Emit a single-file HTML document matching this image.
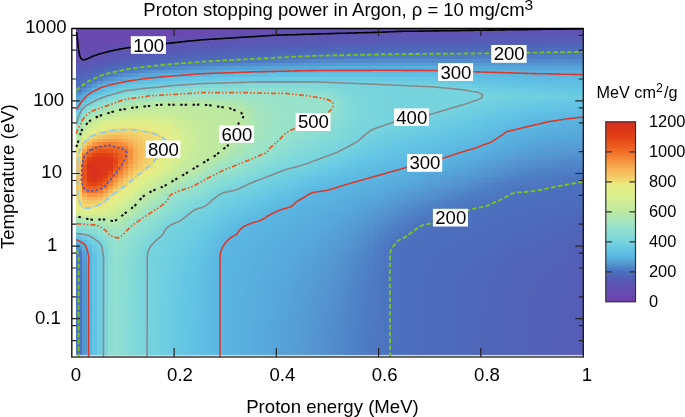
<!DOCTYPE html>
<html><head><meta charset="utf-8"><style>
html,body{margin:0;padding:0;background:#fff;}
svg{display:block;font-family:"Liberation Sans",sans-serif;will-change:transform;}
</style></head><body>
<svg width="685" height="417" viewBox="0 0 685 417">
<defs><linearGradient id="cb" x1="0" y1="0" x2="0" y2="1"><stop offset="0.0000" stop-color="#d52c1e"/><stop offset="0.0833" stop-color="#e24014"/><stop offset="0.1667" stop-color="#f16e26"/><stop offset="0.2500" stop-color="#f8aa50"/><stop offset="0.3250" stop-color="#f2d670"/><stop offset="0.3500" stop-color="#e8ec84"/><stop offset="0.4167" stop-color="#daef8e"/><stop offset="0.5000" stop-color="#bce9a2"/><stop offset="0.5833" stop-color="#98e2cc"/><stop offset="0.6250" stop-color="#87dcd5"/><stop offset="0.6667" stop-color="#76d4de"/><stop offset="0.7083" stop-color="#64c6e4"/><stop offset="0.7500" stop-color="#5ab6e2"/><stop offset="0.7708" stop-color="#56a6da"/><stop offset="0.7917" stop-color="#5494d0"/><stop offset="0.8125" stop-color="#4e80c6"/><stop offset="0.8333" stop-color="#4c71be"/><stop offset="0.8542" stop-color="#4f66b8"/><stop offset="0.8750" stop-color="#565cb6"/><stop offset="0.9167" stop-color="#6052b2"/><stop offset="0.9583" stop-color="#674cb0"/><stop offset="1.0000" stop-color="#733eaf"/></linearGradient></defs>
<rect width="685" height="417" fill="#fff"/>
<g shape-rendering="crispEdges"><path fill="#6a49b0" d="M75.9 28.5H82.0V29.9H75.9zM230.3 28.5H240.5V29.9H230.3zM82.0 29.9H87.1V33.6H82.0zM184.3 29.9H199.6V33.6H184.3zM87.1 33.6H97.4V37.2H87.1zM117.8 33.6H143.4V37.2H117.8z"/><path fill="#6a48b0" d="M82.0 28.5H87.1V29.9H82.0zM215.0 28.5H230.3V29.9H215.0zM87.1 29.9H92.3V33.6H87.1zM163.8 29.9H184.3V33.6H163.8zM97.4 33.6H117.8V37.2H97.4z"/><path fill="#6b48b0" d="M87.1 28.5H92.3V29.9H87.1zM209.9 28.5H215.0V29.9H209.9zM92.3 29.9H97.4V33.6H92.3zM138.3 29.9H163.8V33.6H138.3z"/><path fill="#6b47b0" d="M92.3 28.5H97.4V29.9H92.3zM168.9 28.5H209.9V29.9H168.9zM97.4 29.9H138.3V33.6H97.4z"/><path fill="#6c46b0" d="M97.4 28.5H148.5V29.9H97.4z"/><path fill="#6c47b0" d="M148.5 28.5H168.9V29.9H148.5z"/><path fill="#6949b0" d="M240.5 28.5H250.8V29.9H240.5zM75.9 29.9H82.0V33.6H75.9zM199.6 29.9H209.9V33.6H199.6zM82.0 33.6H87.1V37.2H82.0zM143.4 33.6H158.7V37.2H143.4zM92.3 37.2H112.7V40.8H92.3z"/><path fill="#694ab0" d="M250.8 28.5H266.1V29.9H250.8zM209.9 29.9H225.2V33.6H209.9zM75.9 33.6H82.0V37.2H75.9zM158.7 33.6H174.1V37.2H158.7zM82.0 37.2H92.3V40.8H82.0zM112.7 37.2H133.2V40.8H112.7zM92.3 40.8H102.5V44.4H92.3z"/><path fill="#684ab0" d="M266.1 28.5H271.2V29.9H266.1zM225.2 29.9H230.3V33.6H225.2zM174.1 33.6H179.2V37.2H174.1zM133.2 37.2H138.3V40.8H133.2zM102.5 40.8H112.7V44.4H102.5z"/><path fill="#684bb0" d="M271.2 28.5H286.5V29.9H271.2zM230.3 29.9H255.9V33.6H230.3zM179.2 33.6H194.5V37.2H179.2zM75.9 37.2H82.0V40.8H75.9zM138.3 37.2H158.7V40.8H138.3zM82.0 40.8H92.3V44.4H82.0zM112.7 40.8H128.0V44.4H112.7zM87.1 44.4H107.6V48.0H87.1zM92.3 48.0H97.4V51.7H92.3z"/><path fill="#674cb0" d="M286.5 28.5H332.6V29.9H286.5zM194.5 33.6H204.7V37.2H194.5zM75.9 40.8H82.0V44.4H75.9zM128.0 40.8H133.2V44.4H128.0zM75.9 44.4H87.1V48.0H75.9zM107.6 44.4H112.7V48.0H107.6zM82.0 48.0H87.1V51.7H82.0zM82.0 51.7H87.1V55.3H82.0z"/><path fill="#654db0" d="M332.6 28.5H342.8V29.9H332.6zM209.9 33.6H215.0V37.2H209.9z"/><path fill="#654eb1" d="M342.8 28.5H368.4V29.9H342.8zM271.2 29.9H296.8V33.6H271.2zM215.0 33.6H225.2V37.2H215.0zM174.1 37.2H179.2V40.8H174.1zM138.3 40.8H148.5V44.4H138.3z"/><path fill="#644eb1" d="M368.4 28.5H383.7V29.9H368.4zM179.2 37.2H184.3V40.8H179.2zM75.9 51.7H82.0V55.3H75.9z"/><path fill="#644fb1" d="M383.7 28.5H399.0V29.9H383.7zM296.8 29.9H301.9V33.6H296.8zM225.2 33.6H235.4V37.2H225.2zM148.5 40.8H153.6V44.4H148.5zM117.8 44.4H122.9V48.0H117.8zM102.5 48.0H107.6V51.7H102.5z"/><path fill="#634fb1" d="M399.0 28.5H424.6V29.9H399.0zM301.9 29.9H332.6V33.6H301.9zM235.4 33.6H240.5V37.2H235.4zM184.3 37.2H189.4V40.8H184.3zM153.6 40.8H158.7V44.4H153.6zM82.0 55.3H87.1V58.9H82.0z"/><path fill="#6350b1" d="M424.6 28.5H439.9V29.9H424.6zM189.4 37.2H194.5V40.8H189.4zM122.9 44.4H128.0V48.0H122.9zM92.3 51.7H97.4V55.3H92.3z"/><path fill="#6250b1" d="M439.9 28.5H465.5V29.9H439.9zM332.6 29.9H337.7V33.6H332.6zM240.5 33.6H255.9V37.2H240.5zM158.7 40.8H163.8V44.4H158.7zM107.6 48.0H112.7V51.7H107.6zM75.9 55.3H82.0V58.9H75.9z"/><path fill="#6251b2" d="M465.5 28.5H480.8V29.9H465.5zM337.7 29.9H363.2V33.6H337.7zM194.5 37.2H199.6V40.8H194.5z"/><path fill="#6151b2" d="M480.8 28.5H547.3V29.9H480.8zM363.2 29.9H368.4V33.6H363.2zM255.9 33.6H271.2V37.2H255.9zM199.6 37.2H204.7V40.8H199.6zM163.8 40.8H168.9V44.4H163.8zM128.0 44.4H138.3V48.0H128.0z"/><path fill="#6152b2" d="M547.3 28.5H557.5V29.9H547.3zM168.9 40.8H174.1V44.4H168.9zM97.4 51.7H102.5V55.3H97.4z"/><path fill="#6052b2" d="M557.5 28.5H583.3V29.9H557.5zM368.4 29.9H399.0V33.6H368.4zM271.2 33.6H296.8V37.2H271.2zM204.7 37.2H225.2V40.8H204.7zM174.1 40.8H179.2V44.4H174.1zM138.3 44.4H148.5V48.0H138.3zM112.7 48.0H117.8V51.7H112.7zM87.1 55.3H92.3V58.9H87.1zM75.9 58.9H82.0V62.5H75.9z"/><path fill="#664db0" d="M255.9 29.9H271.2V33.6H255.9zM204.7 33.6H209.9V37.2H204.7zM168.9 37.2H174.1V40.8H168.9zM133.2 40.8H138.3V44.4H133.2zM112.7 44.4H117.8V48.0H112.7zM75.9 48.0H82.0V51.7H75.9zM97.4 48.0H102.5V51.7H97.4z"/><path fill="#5f53b2" d="M399.0 29.9H465.5V33.6H399.0zM532.0 29.9H537.1V33.6H532.0zM296.8 33.6H312.1V37.2H296.8zM225.2 37.2H240.5V40.8H225.2zM179.2 40.8H189.4V44.4H179.2zM148.5 44.4H153.6V48.0H148.5zM117.8 48.0H122.9V51.7H117.8zM102.5 51.7H107.6V55.3H102.5zM92.3 55.3H97.4V58.9H92.3zM82.0 58.9H87.1V62.5H82.0z"/><path fill="#5f53b3" d="M465.5 29.9H475.7V33.6H465.5zM526.9 29.9H532.0V33.6H526.9zM537.1 29.9H552.4V33.6H537.1zM312.1 33.6H332.6V37.2H312.1zM153.6 44.4H158.7V48.0H153.6zM122.9 48.0H128.0V51.7H122.9z"/><path fill="#5e54b3" d="M475.7 29.9H526.9V33.6H475.7zM552.4 29.9H583.3V33.6H552.4zM332.6 33.6H373.5V37.2H332.6zM240.5 37.2H255.9V40.8H240.5zM189.4 40.8H204.7V44.4H189.4zM158.7 44.4H168.9V48.0H158.7zM128.0 48.0H133.2V51.7H128.0zM107.6 51.7H112.7V55.3H107.6z"/><path fill="#5d55b3" d="M373.5 33.6H399.0V37.2H373.5zM255.9 37.2H281.4V40.8H255.9zM204.7 40.8H220.1V44.4H204.7zM168.9 44.4H179.2V48.0H168.9zM133.2 48.0H143.4V51.7H133.2zM112.7 51.7H117.8V55.3H112.7zM97.4 55.3H102.5V58.9H97.4zM87.1 58.9H92.3V62.5H87.1z"/><path fill="#5c56b3" d="M399.0 33.6H409.3V37.2H399.0zM281.4 37.2H291.7V40.8H281.4zM220.1 40.8H225.2V44.4H220.1z"/><path fill="#5c56b4" d="M409.3 33.6H470.6V37.2H409.3zM291.7 37.2H312.1V40.8H291.7zM225.2 40.8H235.4V44.4H225.2zM179.2 44.4H189.4V48.0H179.2zM143.4 48.0H153.6V51.7H143.4zM117.8 51.7H122.9V55.3H117.8zM102.5 55.3H107.6V58.9H102.5zM92.3 58.9H97.4V62.5H92.3zM75.9 62.5H82.0V66.1H75.9z"/><path fill="#5b57b4" d="M470.6 33.6H583.3V37.2H470.6zM312.1 37.2H358.1V40.8H312.1zM235.4 40.8H255.9V44.4H235.4zM189.4 44.4H199.6V48.0H189.4zM153.6 48.0H163.8V51.7H153.6zM122.9 51.7H133.2V55.3H122.9zM107.6 55.3H112.7V58.9H107.6zM82.0 62.5H87.1V66.1H82.0z"/><path fill="#674bb0" d="M158.7 37.2H168.9V40.8H158.7zM87.1 48.0H92.3V51.7H87.1z"/><path fill="#5a58b4" d="M358.1 37.2H383.7V40.8H358.1zM255.9 40.8H271.2V44.4H255.9zM199.6 44.4H209.9V48.0H199.6zM163.8 48.0H168.9V51.7H163.8zM133.2 51.7H138.3V55.3H133.2zM112.7 55.3H117.8V58.9H112.7zM97.4 58.9H102.5V62.5H97.4zM87.1 62.5H92.3V66.1H87.1z"/><path fill="#5a58b5" d="M383.7 37.2H393.9V40.8H383.7zM271.2 40.8H276.3V44.4H271.2zM209.9 44.4H215.0V48.0H209.9zM168.9 48.0H174.1V51.7H168.9z"/><path fill="#5959b5" d="M393.9 37.2H470.6V40.8H393.9zM276.3 40.8H301.9V44.4H276.3zM215.0 44.4H230.3V48.0H215.0zM174.1 48.0H184.3V51.7H174.1zM138.3 51.7H148.5V55.3H138.3zM117.8 55.3H122.9V58.9H117.8zM102.5 58.9H107.6V62.5H102.5z"/><path fill="#585ab5" d="M470.6 37.2H583.3V40.8H470.6zM301.9 40.8H337.7V44.4H301.9zM230.3 44.4H250.8V48.0H230.3zM184.3 48.0H194.5V51.7H184.3zM148.5 51.7H158.7V55.3H148.5zM122.9 55.3H128.0V58.9H122.9zM107.6 58.9H112.7V62.5H107.6zM92.3 62.5H97.4V66.1H92.3zM75.9 66.1H87.1V69.8H75.9z"/><path fill="#575bb5" d="M337.7 40.8H353.0V44.4H337.7zM250.8 44.4H255.9V48.0H250.8zM194.5 48.0H199.6V51.7H194.5z"/><path fill="#575bb6" d="M353.0 40.8H383.7V44.4H353.0zM255.9 44.4H271.2V48.0H255.9zM199.6 48.0H209.9V51.7H199.6zM158.7 51.7H168.9V55.3H158.7zM128.0 55.3H133.2V58.9H128.0zM97.4 62.5H102.5V66.1H97.4zM87.1 66.1H92.3V69.8H87.1z"/><path fill="#565cb6" d="M383.7 40.8H455.3V44.4H383.7zM271.2 44.4H291.7V48.0H271.2zM209.9 48.0H220.1V51.7H209.9zM168.9 51.7H174.1V55.3H168.9zM133.2 55.3H143.4V58.9H133.2zM112.7 58.9H117.8V62.5H112.7zM578.0 323.2H583.3V326.8H578.0zM578.0 326.8H583.3V330.4H578.0zM578.0 330.4H583.3V334.0H578.0zM578.0 334.0H583.3V337.6H578.0zM578.0 337.6H583.3V341.3H578.0zM578.0 341.3H583.3V344.9H578.0zM578.0 344.9H583.3V348.5H578.0zM578.0 348.5H583.3V352.1H578.0zM578.0 352.1H583.3V354.9H578.0z"/><path fill="#565db6" d="M455.3 40.8H460.4V44.4H455.3zM220.1 48.0H225.2V51.7H220.1zM578.0 301.4H583.3V305.1H578.0zM578.0 305.1H583.3V308.7H578.0zM578.0 308.7H583.3V312.3H578.0zM578.0 312.3H583.3V315.9H578.0zM578.0 315.9H583.3V319.5H578.0zM578.0 319.5H583.3V323.2H578.0z"/><path fill="#555db6" d="M460.4 40.8H470.6V44.4H460.4zM291.7 44.4H301.9V48.0H291.7zM225.2 48.0H230.3V51.7H225.2zM174.1 51.7H179.2V55.3H174.1zM117.8 58.9H122.9V62.5H117.8zM102.5 62.5H107.6V66.1H102.5zM75.9 69.8H82.0V73.4H75.9zM578.0 261.6H583.3V265.2H578.0zM578.0 265.2H583.3V268.9H578.0zM578.0 268.9H583.3V272.5H578.0zM578.0 272.5H583.3V276.1H578.0zM578.0 276.1H583.3V279.7H578.0zM578.0 279.7H583.3V283.3H578.0zM578.0 283.3H583.3V287.0H578.0zM578.0 287.0H583.3V290.6H578.0zM572.9 290.6H583.3V294.2H572.9zM572.9 294.2H583.3V297.8H572.9zM572.9 297.8H583.3V301.4H572.9zM572.9 301.4H578.0V305.1H572.9zM572.9 305.1H578.0V308.7H572.9zM572.9 308.7H578.0V312.3H572.9zM572.9 312.3H578.0V315.9H572.9zM572.9 315.9H578.0V319.5H572.9zM572.9 319.5H578.0V323.2H572.9zM572.9 323.2H578.0V326.8H572.9zM572.9 326.8H578.0V330.4H572.9zM567.8 330.4H578.0V334.0H567.8zM567.8 334.0H578.0V337.6H567.8zM567.8 337.6H578.0V341.3H567.8zM567.8 341.3H578.0V344.9H567.8zM567.8 344.9H578.0V348.5H567.8zM567.8 348.5H578.0V352.1H567.8zM567.8 352.1H578.0V354.9H567.8z"/><path fill="#555eb6" d="M470.6 40.8H537.1V44.4H470.6zM301.9 44.4H312.1V48.0H301.9zM230.3 48.0H235.4V51.7H230.3zM179.2 51.7H184.3V55.3H179.2zM143.4 55.3H148.5V58.9H143.4zM92.3 66.1H97.4V69.8H92.3zM578.0 258.0H583.3V261.6H578.0zM572.9 272.5H578.0V276.1H572.9zM572.9 276.1H578.0V279.7H572.9zM572.9 279.7H578.0V283.3H572.9zM572.9 283.3H578.0V287.0H572.9zM572.9 287.0H578.0V290.6H572.9zM567.8 290.6H572.9V294.2H567.8zM567.8 294.2H572.9V297.8H567.8zM567.8 297.8H572.9V301.4H567.8zM567.8 301.4H572.9V305.1H567.8zM567.8 305.1H572.9V308.7H567.8zM567.8 308.7H572.9V312.3H567.8zM567.8 312.3H572.9V315.9H567.8zM567.8 315.9H572.9V319.5H567.8zM562.6 319.5H572.9V323.2H562.6zM562.6 323.2H572.9V326.8H562.6zM562.6 326.8H572.9V330.4H562.6zM562.6 330.4H567.8V334.0H562.6zM562.6 334.0H567.8V337.6H562.6zM562.6 337.6H567.8V341.3H562.6zM562.6 341.3H567.8V344.9H562.6zM562.6 344.9H567.8V348.5H562.6zM562.6 348.5H567.8V352.1H562.6zM562.6 352.1H567.8V354.9H562.6z"/><path fill="#545eb6" d="M537.1 40.8H542.2V44.4H537.1zM312.1 44.4H322.3V48.0H312.1zM235.4 48.0H240.5V51.7H235.4zM572.9 265.2H578.0V268.9H572.9zM572.9 268.9H578.0V272.5H572.9zM567.8 279.7H572.9V283.3H567.8zM567.8 283.3H572.9V287.0H567.8zM567.8 287.0H572.9V290.6H567.8zM562.6 301.4H567.8V305.1H562.6zM562.6 305.1H567.8V308.7H562.6zM562.6 308.7H567.8V312.3H562.6zM562.6 312.3H567.8V315.9H562.6zM562.6 315.9H567.8V319.5H562.6zM557.5 334.0H562.6V337.6H557.5zM557.5 337.6H562.6V341.3H557.5zM557.5 341.3H562.6V344.9H557.5zM557.5 344.9H562.6V348.5H557.5zM557.5 348.5H562.6V352.1H557.5zM557.5 352.1H562.6V354.9H557.5z"/><path fill="#545fb7" d="M542.2 40.8H583.3V44.4H542.2zM322.3 44.4H332.6V48.0H322.3zM240.5 48.0H250.8V51.7H240.5zM184.3 51.7H194.5V55.3H184.3zM148.5 55.3H153.6V58.9H148.5zM122.9 58.9H128.0V62.5H122.9zM82.0 69.8H87.1V73.4H82.0zM578.0 250.8H583.3V254.4H578.0zM578.0 254.4H583.3V258.0H578.0zM572.9 258.0H578.0V261.6H572.9zM572.9 261.6H578.0V265.2H572.9zM567.8 265.2H572.9V268.9H567.8zM567.8 268.9H572.9V272.5H567.8zM567.8 272.5H572.9V276.1H567.8zM562.6 276.1H572.9V279.7H562.6zM562.6 279.7H567.8V283.3H562.6zM562.6 283.3H567.8V287.0H562.6zM557.5 287.0H567.8V290.6H557.5zM557.5 290.6H567.8V294.2H557.5zM557.5 294.2H567.8V297.8H557.5zM557.5 297.8H567.8V301.4H557.5zM552.4 301.4H562.6V305.1H552.4zM552.4 305.1H562.6V308.7H552.4zM552.4 308.7H562.6V312.3H552.4zM552.4 312.3H562.6V315.9H552.4zM552.4 315.9H562.6V319.5H552.4zM552.4 319.5H562.6V323.2H552.4zM552.4 323.2H562.6V326.8H552.4zM552.4 326.8H562.6V330.4H552.4zM552.4 330.4H562.6V334.0H552.4zM547.3 334.0H557.5V337.6H547.3zM547.3 337.6H557.5V341.3H547.3zM547.3 341.3H557.5V344.9H547.3zM547.3 344.9H557.5V348.5H547.3zM547.3 348.5H557.5V352.1H547.3zM547.3 352.1H557.5V354.9H547.3z"/><path fill="#5460b7" d="M332.6 44.4H337.7V48.0H332.6zM562.6 272.5H567.8V276.1H562.6zM557.5 283.3H562.6V287.0H557.5zM552.4 297.8H557.5V301.4H552.4zM547.3 326.8H552.4V330.4H547.3zM547.3 330.4H552.4V334.0H547.3z"/><path fill="#5360b7" d="M337.7 44.4H368.4V48.0H337.7zM250.8 48.0H261.0V51.7H250.8zM194.5 51.7H199.6V55.3H194.5zM153.6 55.3H158.7V58.9H153.6zM107.6 62.5H112.7V66.1H107.6zM578.0 247.1H583.3V250.8H578.0zM572.9 250.8H578.0V254.4H572.9zM572.9 254.4H578.0V258.0H572.9zM567.8 258.0H572.9V261.6H567.8zM567.8 261.6H572.9V265.2H567.8zM562.6 265.2H567.8V268.9H562.6zM562.6 268.9H567.8V272.5H562.6zM557.5 272.5H562.6V276.1H557.5zM557.5 276.1H562.6V279.7H557.5zM552.4 279.7H562.6V283.3H552.4zM552.4 283.3H557.5V287.0H552.4zM547.3 287.0H557.5V290.6H547.3zM547.3 290.6H557.5V294.2H547.3zM547.3 294.2H557.5V297.8H547.3zM547.3 297.8H552.4V301.4H547.3zM542.2 301.4H552.4V305.1H542.2zM542.2 305.1H552.4V308.7H542.2zM542.2 308.7H552.4V312.3H542.2zM542.2 312.3H552.4V315.9H542.2zM542.2 315.9H552.4V319.5H542.2zM542.2 319.5H552.4V323.2H542.2zM542.2 323.2H552.4V326.8H542.2zM542.2 326.8H547.3V330.4H542.2zM542.2 330.4H547.3V334.0H542.2zM542.2 334.0H547.3V337.6H542.2zM537.1 337.6H547.3V341.3H537.1zM537.1 341.3H547.3V344.9H537.1zM537.1 344.9H547.3V348.5H537.1zM537.1 348.5H547.3V352.1H537.1zM537.1 352.1H547.3V354.9H537.1z"/><path fill="#5361b7" d="M368.4 44.4H373.5V48.0H368.4zM261.0 48.0H266.1V51.7H261.0zM199.6 51.7H204.7V55.3H199.6zM158.7 55.3H163.8V58.9H158.7zM128.0 58.9H133.2V62.5H128.0zM567.8 254.4H572.9V258.0H567.8zM562.6 258.0H567.8V261.6H562.6zM562.6 261.6H567.8V265.2H562.6zM557.5 265.2H562.6V268.9H557.5zM557.5 268.9H562.6V272.5H557.5zM552.4 272.5H557.5V276.1H552.4zM552.4 276.1H557.5V279.7H552.4zM547.3 279.7H552.4V283.3H547.3zM547.3 283.3H552.4V287.0H547.3zM542.2 287.0H547.3V290.6H542.2zM542.2 290.6H547.3V294.2H542.2zM542.2 294.2H547.3V297.8H542.2zM537.1 297.8H547.3V301.4H537.1zM537.1 301.4H542.2V305.1H537.1zM537.1 305.1H542.2V308.7H537.1zM537.1 308.7H542.2V312.3H537.1zM537.1 312.3H542.2V315.9H537.1zM537.1 315.9H542.2V319.5H537.1zM537.1 319.5H542.2V323.2H537.1zM537.1 323.2H542.2V326.8H537.1zM537.1 326.8H542.2V330.4H537.1zM537.1 330.4H542.2V334.0H537.1zM537.1 334.0H542.2V337.6H537.1zM532.0 337.6H537.1V341.3H532.0zM532.0 341.3H537.1V344.9H532.0zM532.0 344.9H537.1V348.5H532.0zM532.0 348.5H537.1V352.1H532.0zM532.0 352.1H537.1V354.9H532.0z"/><path fill="#5261b7" d="M373.5 44.4H378.6V48.0H373.5zM266.1 48.0H271.2V51.7H266.1zM97.4 66.1H102.5V69.8H97.4zM87.1 69.8H92.3V73.4H87.1zM578.0 243.5H583.3V247.1H578.0zM572.9 247.1H578.0V250.8H572.9zM567.8 250.8H572.9V254.4H567.8zM562.6 254.4H567.8V258.0H562.6zM557.5 261.6H562.6V265.2H557.5zM552.4 265.2H557.5V268.9H552.4zM552.4 268.9H557.5V272.5H552.4zM547.3 272.5H552.4V276.1H547.3zM542.2 276.1H552.4V279.7H542.2zM542.2 279.7H547.3V283.3H542.2zM537.1 283.3H547.3V287.0H537.1zM537.1 287.0H542.2V290.6H537.1zM537.1 290.6H542.2V294.2H537.1zM532.0 294.2H542.2V297.8H532.0zM532.0 297.8H537.1V301.4H532.0zM532.0 301.4H537.1V305.1H532.0zM532.0 305.1H537.1V308.7H532.0zM532.0 308.7H537.1V312.3H532.0zM532.0 312.3H537.1V315.9H532.0zM532.0 315.9H537.1V319.5H532.0zM532.0 319.5H537.1V323.2H532.0zM532.0 323.2H537.1V326.8H532.0zM532.0 326.8H537.1V330.4H532.0zM532.0 330.4H537.1V334.0H532.0zM526.9 334.0H537.1V337.6H526.9zM526.9 337.6H532.0V341.3H526.9zM526.9 341.3H532.0V344.9H526.9zM526.9 344.9H532.0V348.5H526.9zM526.9 348.5H532.0V352.1H526.9zM526.9 352.1H532.0V354.9H526.9z"/><path fill="#5262b7" d="M378.6 44.4H414.4V48.0H378.6zM271.2 48.0H281.4V51.7H271.2zM204.7 51.7H215.0V55.3H204.7zM163.8 55.3H168.9V58.9H163.8zM133.2 58.9H138.3V62.5H133.2zM112.7 62.5H117.8V66.1H112.7zM578.0 239.9H583.3V243.5H578.0zM572.9 243.5H578.0V247.1H572.9zM567.8 247.1H572.9V250.8H567.8zM562.6 250.8H567.8V254.4H562.6zM557.5 254.4H562.6V258.0H557.5zM552.4 258.0H562.6V261.6H552.4zM547.3 261.6H557.5V265.2H547.3zM542.2 265.2H552.4V268.9H542.2zM537.1 268.9H552.4V272.5H537.1zM526.9 272.5H547.3V276.1H526.9zM521.7 276.1H542.2V279.7H521.7zM521.7 279.7H542.2V283.3H521.7zM521.7 283.3H537.1V287.0H521.7zM521.7 287.0H537.1V290.6H521.7zM521.7 290.6H537.1V294.2H521.7zM521.7 294.2H532.0V297.8H521.7zM521.7 297.8H532.0V301.4H521.7zM521.7 301.4H532.0V305.1H521.7zM521.7 305.1H532.0V308.7H521.7zM521.7 308.7H532.0V312.3H521.7zM521.7 312.3H532.0V315.9H521.7zM521.7 315.9H532.0V319.5H521.7zM521.7 319.5H532.0V323.2H521.7zM521.7 323.2H532.0V326.8H521.7zM521.7 326.8H532.0V330.4H521.7zM521.7 330.4H532.0V334.0H521.7zM521.7 334.0H526.9V337.6H521.7zM521.7 337.6H526.9V341.3H521.7zM521.7 341.3H526.9V344.9H521.7zM521.7 344.9H526.9V348.5H521.7zM521.7 348.5H526.9V352.1H521.7zM521.7 352.1H526.9V354.9H521.7z"/><path fill="#5162b7" d="M414.4 44.4H429.7V48.0H414.4zM521.7 272.5H526.9V276.1H521.7zM516.6 305.1H521.7V308.7H516.6zM516.6 308.7H521.7V312.3H516.6zM516.6 312.3H521.7V315.9H516.6zM516.6 315.9H521.7V319.5H516.6zM516.6 319.5H521.7V323.2H516.6zM516.6 323.2H521.7V326.8H516.6zM516.6 326.8H521.7V330.4H516.6zM516.6 330.4H521.7V334.0H516.6zM516.6 334.0H521.7V337.6H516.6zM516.6 337.6H521.7V341.3H516.6zM516.6 341.3H521.7V344.9H516.6zM516.6 344.9H521.7V348.5H516.6zM516.6 348.5H521.7V352.1H516.6zM516.6 352.1H521.7V354.9H516.6z"/><path fill="#5163b7" d="M429.7 44.4H470.6V48.0H429.7zM281.4 48.0H296.8V51.7H281.4zM215.0 51.7H225.2V55.3H215.0zM168.9 55.3H174.1V58.9H168.9zM138.3 58.9H143.4V62.5H138.3zM75.9 73.4H82.0V77.0H75.9zM572.9 236.3H583.3V239.9H572.9zM567.8 239.9H578.0V243.5H567.8zM562.6 243.5H572.9V247.1H562.6zM557.5 247.1H567.8V250.8H557.5zM552.4 250.8H562.6V254.4H552.4zM547.3 254.4H557.5V258.0H547.3zM542.2 258.0H552.4V261.6H542.2zM516.6 261.6H547.3V265.2H516.6zM516.6 265.2H542.2V268.9H516.6zM516.6 268.9H537.1V272.5H516.6zM516.6 272.5H521.7V276.1H516.6zM511.5 276.1H521.7V279.7H511.5zM511.5 279.7H521.7V283.3H511.5zM511.5 283.3H521.7V287.0H511.5zM511.5 287.0H521.7V290.6H511.5zM511.5 290.6H521.7V294.2H511.5zM511.5 294.2H521.7V297.8H511.5zM511.5 297.8H521.7V301.4H511.5zM511.5 301.4H521.7V305.1H511.5zM511.5 305.1H516.6V308.7H511.5zM511.5 308.7H516.6V312.3H511.5zM511.5 312.3H516.6V315.9H511.5zM511.5 315.9H516.6V319.5H511.5zM511.5 319.5H516.6V323.2H511.5zM511.5 323.2H516.6V326.8H511.5zM511.5 326.8H516.6V330.4H511.5zM511.5 330.4H516.6V334.0H511.5zM511.5 334.0H516.6V337.6H511.5zM511.5 337.6H516.6V341.3H511.5zM511.5 341.3H516.6V344.9H511.5zM511.5 344.9H516.6V348.5H511.5zM511.5 348.5H516.6V352.1H511.5zM511.5 352.1H516.6V354.9H511.5z"/><path fill="#5064b8" d="M470.6 44.4H537.1V48.0H470.6zM296.8 48.0H307.0V51.7H296.8zM230.3 51.7H235.4V55.3H230.3zM117.8 62.5H122.9V66.1H117.8zM102.5 66.1H107.6V69.8H102.5zM578.0 229.0H583.3V232.7H578.0zM572.9 232.7H578.0V236.3H572.9zM567.8 236.3H572.9V239.9H567.8zM557.5 239.9H567.8V243.5H557.5zM552.4 243.5H557.5V247.1H552.4zM547.3 247.1H552.4V250.8H547.3zM542.2 250.8H547.3V254.4H542.2zM532.0 254.4H542.2V258.0H532.0zM516.6 258.0H532.0V261.6H516.6zM511.5 261.6H516.6V265.2H511.5zM511.5 265.2H516.6V268.9H511.5zM506.4 272.5H511.5V276.1H506.4zM506.4 276.1H511.5V279.7H506.4zM506.4 279.7H511.5V283.3H506.4zM506.4 283.3H511.5V287.0H506.4zM506.4 287.0H511.5V290.6H506.4zM506.4 290.6H511.5V294.2H506.4zM501.3 294.2H506.4V297.8H501.3zM501.3 297.8H506.4V301.4H501.3zM501.3 301.4H506.4V305.1H501.3zM501.3 305.1H506.4V308.7H501.3zM501.3 308.7H506.4V312.3H501.3zM501.3 312.3H506.4V315.9H501.3zM501.3 315.9H506.4V319.5H501.3zM501.3 319.5H506.4V323.2H501.3zM501.3 323.2H506.4V326.8H501.3zM501.3 326.8H506.4V330.4H501.3zM501.3 330.4H506.4V334.0H501.3zM501.3 334.0H506.4V337.6H501.3zM501.3 337.6H506.4V341.3H501.3zM501.3 341.3H506.4V344.9H501.3zM501.3 344.9H506.4V348.5H501.3zM501.3 348.5H506.4V352.1H501.3zM501.3 352.1H506.4V354.9H501.3z"/><path fill="#5065b8" d="M537.1 44.4H547.3V48.0H537.1zM307.0 48.0H322.3V51.7H307.0zM235.4 51.7H240.5V55.3H235.4zM179.2 55.3H184.3V58.9H179.2zM143.4 58.9H148.5V62.5H143.4zM92.3 69.8H97.4V73.4H92.3zM82.0 73.4H87.1V77.0H82.0zM578.0 225.4H583.3V229.0H578.0zM572.9 229.0H578.0V232.7H572.9zM567.8 232.7H572.9V236.3H567.8zM557.5 236.3H567.8V239.9H557.5zM552.4 239.9H557.5V243.5H552.4zM547.3 243.5H552.4V247.1H547.3zM537.1 247.1H547.3V250.8H537.1zM526.9 250.8H542.2V254.4H526.9zM516.6 254.4H532.0V258.0H516.6zM511.5 258.0H516.6V261.6H511.5zM506.4 265.2H511.5V268.9H506.4zM506.4 268.9H511.5V272.5H506.4zM501.3 276.1H506.4V279.7H501.3zM501.3 279.7H506.4V283.3H501.3zM501.3 283.3H506.4V287.0H501.3zM501.3 287.0H506.4V290.6H501.3zM496.2 290.6H506.4V294.2H496.2zM496.2 294.2H501.3V297.8H496.2zM496.2 297.8H501.3V301.4H496.2zM496.2 301.4H501.3V305.1H496.2zM496.2 305.1H501.3V308.7H496.2zM496.2 308.7H501.3V312.3H496.2zM496.2 312.3H501.3V315.9H496.2zM496.2 315.9H501.3V319.5H496.2zM496.2 319.5H501.3V323.2H496.2zM491.1 323.2H501.3V326.8H491.1zM491.1 326.8H501.3V330.4H491.1zM491.1 330.4H501.3V334.0H491.1zM491.1 334.0H501.3V337.6H491.1zM491.1 337.6H501.3V341.3H491.1zM491.1 341.3H501.3V344.9H491.1zM491.1 344.9H501.3V348.5H491.1zM491.1 348.5H501.3V352.1H491.1zM491.1 352.1H501.3V354.9H491.1z"/><path fill="#4f65b8" d="M547.3 44.4H557.5V48.0H547.3zM240.5 51.7H245.6V55.3H240.5zM184.3 55.3H189.4V58.9H184.3zM567.8 229.0H572.9V232.7H567.8zM562.6 232.7H567.8V236.3H562.6zM542.2 243.5H547.3V247.1H542.2zM521.7 250.8H526.9V254.4H521.7zM506.4 261.6H511.5V265.2H506.4zM501.3 272.5H506.4V276.1H501.3zM496.2 283.3H501.3V287.0H496.2zM496.2 287.0H501.3V290.6H496.2zM491.1 305.1H496.2V308.7H491.1zM491.1 308.7H496.2V312.3H491.1zM491.1 312.3H496.2V315.9H491.1zM491.1 315.9H496.2V319.5H491.1zM491.1 319.5H496.2V323.2H491.1z"/><path fill="#4f66b8" d="M557.5 44.4H583.3V48.0H557.5zM322.3 48.0H337.7V51.7H322.3zM245.6 51.7H255.9V55.3H245.6zM189.4 55.3H194.5V58.9H189.4zM148.5 58.9H153.6V62.5H148.5zM122.9 62.5H128.0V66.1H122.9zM578.0 221.8H583.3V225.4H578.0zM567.8 225.4H578.0V229.0H567.8zM562.6 229.0H567.8V232.7H562.6zM552.4 232.7H562.6V236.3H552.4zM547.3 236.3H557.5V239.9H547.3zM537.1 239.9H552.4V243.5H537.1zM532.0 243.5H542.2V247.1H532.0zM521.7 247.1H537.1V250.8H521.7zM511.5 250.8H521.7V254.4H511.5zM506.4 254.4H516.6V258.0H506.4zM506.4 258.0H511.5V261.6H506.4zM501.3 261.6H506.4V265.2H501.3zM501.3 265.2H506.4V268.9H501.3zM496.2 268.9H506.4V272.5H496.2zM496.2 272.5H501.3V276.1H496.2zM491.1 276.1H501.3V279.7H491.1zM491.1 279.7H501.3V283.3H491.1zM491.1 283.3H496.2V287.0H491.1zM491.1 287.0H496.2V290.6H491.1zM486.0 290.6H496.2V294.2H486.0zM486.0 294.2H496.2V297.8H486.0zM486.0 297.8H496.2V301.4H486.0zM486.0 301.4H496.2V305.1H486.0zM486.0 305.1H491.1V308.7H486.0zM486.0 308.7H491.1V312.3H486.0zM480.8 312.3H491.1V315.9H480.8zM480.8 315.9H491.1V319.5H480.8zM480.8 319.5H491.1V323.2H480.8zM480.8 323.2H491.1V326.8H480.8zM480.8 326.8H491.1V330.4H480.8zM480.8 330.4H491.1V334.0H480.8zM480.8 334.0H491.1V337.6H480.8zM480.8 337.6H491.1V341.3H480.8zM480.8 341.3H491.1V344.9H480.8zM480.8 344.9H491.1V348.5H480.8zM480.8 348.5H491.1V352.1H480.8zM480.8 352.1H491.1V354.9H480.8z"/><path fill="#4f67b8" d="M337.7 48.0H363.2V51.7H337.7zM153.6 58.9H158.7V62.5H153.6zM107.6 66.1H112.7V69.8H107.6zM572.9 221.8H578.0V225.4H572.9zM562.6 225.4H567.8V229.0H562.6zM557.5 229.0H562.6V232.7H557.5zM547.3 232.7H552.4V236.3H547.3zM542.2 236.3H547.3V239.9H542.2zM532.0 239.9H537.1V243.5H532.0zM526.9 243.5H532.0V247.1H526.9zM516.6 247.1H521.7V250.8H516.6zM501.3 258.0H506.4V261.6H501.3zM496.2 265.2H501.3V268.9H496.2zM491.1 272.5H496.2V276.1H491.1zM486.0 279.7H491.1V283.3H486.0zM486.0 283.3H491.1V287.0H486.0zM486.0 287.0H491.1V290.6H486.0zM480.8 294.2H486.0V297.8H480.8zM480.8 297.8H486.0V301.4H480.8zM480.8 301.4H486.0V305.1H480.8zM480.8 305.1H486.0V308.7H480.8zM480.8 308.7H486.0V312.3H480.8zM475.7 326.8H480.8V330.4H475.7zM475.7 330.4H480.8V334.0H475.7zM475.7 334.0H480.8V337.6H475.7zM475.7 337.6H480.8V341.3H475.7zM475.7 341.3H480.8V344.9H475.7zM475.7 344.9H480.8V348.5H475.7zM475.7 348.5H480.8V352.1H475.7zM475.7 352.1H480.8V354.9H475.7z"/><path fill="#4f67b9" d="M363.2 48.0H373.5V51.7H363.2zM255.9 51.7H261.0V55.3H255.9zM194.5 55.3H199.6V58.9H194.5zM572.9 218.2H583.3V221.8H572.9zM567.8 221.8H572.9V225.4H567.8zM557.5 225.4H562.6V229.0H557.5zM552.4 229.0H557.5V232.7H552.4zM542.2 232.7H547.3V236.3H542.2zM537.1 236.3H542.2V239.9H537.1zM526.9 239.9H532.0V243.5H526.9zM516.6 243.5H526.9V247.1H516.6zM511.5 247.1H516.6V250.8H511.5zM506.4 250.8H511.5V254.4H506.4zM501.3 254.4H506.4V258.0H501.3zM496.2 258.0H501.3V261.6H496.2zM496.2 261.6H501.3V265.2H496.2zM491.1 265.2H496.2V268.9H491.1zM491.1 268.9H496.2V272.5H491.1zM486.0 272.5H491.1V276.1H486.0zM486.0 276.1H491.1V279.7H486.0zM480.8 279.7H486.0V283.3H480.8zM480.8 283.3H486.0V287.0H480.8zM480.8 287.0H486.0V290.6H480.8zM480.8 290.6H486.0V294.2H480.8zM475.7 294.2H480.8V297.8H475.7zM475.7 297.8H480.8V301.4H475.7zM475.7 301.4H480.8V305.1H475.7zM475.7 305.1H480.8V308.7H475.7zM475.7 308.7H480.8V312.3H475.7zM475.7 312.3H480.8V315.9H475.7zM475.7 315.9H480.8V319.5H475.7zM475.7 319.5H480.8V323.2H475.7zM470.6 323.2H480.8V326.8H470.6zM470.6 326.8H475.7V330.4H470.6zM470.6 330.4H475.7V334.0H470.6zM470.6 334.0H475.7V337.6H470.6zM470.6 337.6H475.7V341.3H470.6zM470.6 341.3H475.7V344.9H470.6zM470.6 344.9H475.7V348.5H470.6zM470.6 348.5H475.7V352.1H470.6zM470.6 352.1H475.7V354.9H470.6z"/><path fill="#4e68b9" d="M373.5 48.0H383.7V51.7H373.5zM266.1 51.7H276.3V55.3H266.1zM158.7 58.9H163.8V62.5H158.7zM97.4 69.8H102.5V73.4H97.4zM87.1 73.4H92.3V77.0H87.1zM75.9 77.0H82.0V80.6H75.9zM572.9 214.6H583.3V218.2H572.9zM562.6 218.2H572.9V221.8H562.6zM557.5 221.8H562.6V225.4H557.5zM547.3 225.4H557.5V229.0H547.3zM537.1 229.0H547.3V232.7H537.1zM532.0 232.7H537.1V236.3H532.0zM521.7 236.3H532.0V239.9H521.7zM516.6 239.9H521.7V243.5H516.6zM506.4 243.5H516.6V247.1H506.4zM501.3 247.1H506.4V250.8H501.3zM496.2 250.8H501.3V254.4H496.2zM496.2 254.4H501.3V258.0H496.2zM491.1 258.0H496.2V261.6H491.1zM486.0 261.6H491.1V265.2H486.0zM486.0 265.2H491.1V268.9H486.0zM480.8 268.9H486.0V272.5H480.8zM475.7 272.5H486.0V276.1H475.7zM475.7 276.1H480.8V279.7H475.7zM470.6 279.7H480.8V283.3H470.6zM470.6 283.3H475.7V287.0H470.6zM470.6 287.0H475.7V290.6H470.6zM465.5 290.6H475.7V294.2H465.5zM465.5 294.2H475.7V297.8H465.5zM465.5 297.8H475.7V301.4H465.5zM465.5 301.4H470.6V305.1H465.5zM465.5 305.1H470.6V308.7H465.5zM465.5 308.7H470.6V312.3H465.5zM465.5 312.3H470.6V315.9H465.5zM465.5 315.9H470.6V319.5H465.5zM465.5 319.5H470.6V323.2H465.5zM465.5 323.2H470.6V326.8H465.5zM465.5 326.8H470.6V330.4H465.5zM465.5 330.4H470.6V334.0H465.5zM465.5 334.0H470.6V337.6H465.5zM465.5 337.6H470.6V341.3H465.5zM465.5 341.3H470.6V344.9H465.5zM460.4 344.9H470.6V348.5H460.4zM460.4 348.5H470.6V352.1H460.4zM460.4 352.1H470.6V354.9H460.4z"/><path fill="#4e69b9" d="M383.7 48.0H388.8V51.7H383.7zM204.7 55.3H209.9V58.9H204.7zM552.4 221.8H557.5V225.4H552.4zM526.9 232.7H532.0V236.3H526.9zM511.5 239.9H516.6V243.5H511.5zM491.1 254.4H496.2V258.0H491.1zM486.0 258.0H491.1V261.6H486.0zM480.8 265.2H486.0V268.9H480.8zM475.7 268.9H480.8V272.5H475.7zM470.6 276.1H475.7V279.7H470.6zM465.5 283.3H470.6V287.0H465.5zM465.5 287.0H470.6V290.6H465.5zM460.4 305.1H465.5V308.7H460.4zM460.4 308.7H465.5V312.3H460.4zM460.4 312.3H465.5V315.9H460.4zM460.4 315.9H465.5V319.5H460.4zM460.4 319.5H465.5V323.2H460.4zM460.4 323.2H465.5V326.8H460.4zM460.4 326.8H465.5V330.4H460.4zM460.4 330.4H465.5V334.0H460.4zM460.4 334.0H465.5V337.6H460.4zM460.4 337.6H465.5V341.3H460.4zM460.4 341.3H465.5V344.9H460.4z"/><path fill="#4e69ba" d="M388.8 48.0H460.4V51.7H388.8zM276.3 51.7H281.4V55.3H276.3zM209.9 55.3H220.1V58.9H209.9zM163.8 58.9H168.9V62.5H163.8zM133.2 62.5H138.3V66.1H133.2zM112.7 66.1H117.8V69.8H112.7zM572.9 210.9H583.3V214.6H572.9zM562.6 214.6H572.9V218.2H562.6zM552.4 218.2H562.6V221.8H552.4zM547.3 221.8H552.4V225.4H547.3zM537.1 225.4H547.3V229.0H537.1zM526.9 229.0H537.1V232.7H526.9zM516.6 232.7H526.9V236.3H516.6zM511.5 236.3H521.7V239.9H511.5zM506.4 239.9H511.5V243.5H506.4zM501.3 243.5H506.4V247.1H501.3zM496.2 247.1H501.3V250.8H496.2zM491.1 250.8H496.2V254.4H491.1zM486.0 254.4H491.1V258.0H486.0zM480.8 258.0H486.0V261.6H480.8zM475.7 261.6H486.0V265.2H475.7zM470.6 265.2H480.8V268.9H470.6zM465.5 268.9H475.7V272.5H465.5zM465.5 272.5H475.7V276.1H465.5zM460.4 276.1H470.6V279.7H460.4zM460.4 279.7H470.6V283.3H460.4zM455.3 283.3H465.5V287.0H455.3zM455.3 287.0H465.5V290.6H455.3zM455.3 290.6H465.5V294.2H455.3zM455.3 294.2H465.5V297.8H455.3zM455.3 297.8H465.5V301.4H455.3zM455.3 301.4H465.5V305.1H455.3zM455.3 305.1H460.4V308.7H455.3zM455.3 308.7H460.4V312.3H455.3zM455.3 312.3H460.4V315.9H455.3zM455.3 315.9H460.4V319.5H455.3zM455.3 319.5H460.4V323.2H455.3zM455.3 323.2H460.4V326.8H455.3zM455.3 326.8H460.4V330.4H455.3zM455.3 330.4H460.4V334.0H455.3zM455.3 334.0H460.4V337.6H455.3zM455.3 337.6H460.4V341.3H455.3zM455.3 341.3H460.4V344.9H455.3zM455.3 344.9H460.4V348.5H455.3zM455.3 348.5H460.4V352.1H455.3zM455.3 352.1H460.4V354.9H455.3z"/><path fill="#4e6aba" d="M460.4 48.0H470.6V51.7H460.4zM281.4 51.7H296.8V55.3H281.4zM220.1 55.3H225.2V58.9H220.1zM168.9 58.9H174.1V62.5H168.9zM572.9 207.3H583.3V210.9H572.9zM562.6 210.9H572.9V214.6H562.6zM552.4 214.6H562.6V218.2H552.4zM542.2 218.2H552.4V221.8H542.2zM532.0 221.8H547.3V225.4H532.0zM521.7 225.4H537.1V229.0H521.7zM516.6 229.0H526.9V232.7H516.6zM506.4 232.7H516.6V236.3H506.4zM501.3 236.3H511.5V239.9H501.3zM496.2 239.9H506.4V243.5H496.2zM491.1 243.5H501.3V247.1H491.1zM486.0 247.1H496.2V250.8H486.0zM480.8 250.8H491.1V254.4H480.8zM470.6 254.4H486.0V258.0H470.6zM465.5 258.0H480.8V261.6H465.5zM450.2 261.6H475.7V265.2H450.2zM445.0 265.2H470.6V268.9H445.0zM445.0 268.9H465.5V272.5H445.0zM445.0 272.5H465.5V276.1H445.0zM445.0 276.1H460.4V279.7H445.0zM445.0 279.7H460.4V283.3H445.0zM445.0 283.3H455.3V287.0H445.0zM445.0 287.0H455.3V290.6H445.0zM445.0 290.6H455.3V294.2H445.0zM445.0 294.2H455.3V297.8H445.0zM445.0 297.8H455.3V301.4H445.0zM445.0 301.4H455.3V305.1H445.0zM445.0 305.1H455.3V308.7H445.0zM445.0 308.7H455.3V312.3H445.0zM445.0 312.3H455.3V315.9H445.0zM445.0 315.9H455.3V319.5H445.0zM445.0 319.5H455.3V323.2H445.0zM445.0 323.2H455.3V326.8H445.0zM445.0 326.8H455.3V330.4H445.0zM445.0 330.4H455.3V334.0H445.0zM445.0 334.0H455.3V337.6H445.0zM445.0 337.6H455.3V341.3H445.0zM445.0 341.3H455.3V344.9H445.0zM445.0 344.9H455.3V348.5H445.0zM445.0 348.5H455.3V352.1H445.0zM445.0 352.1H455.3V354.9H445.0z"/><path fill="#4e6bbb" d="M470.6 48.0H537.1V51.7H470.6zM296.8 51.7H301.9V55.3H296.8zM225.2 55.3H235.4V58.9H225.2zM174.1 58.9H179.2V62.5H174.1zM138.3 62.5H143.4V66.1H138.3zM82.0 77.0H87.1V80.6H82.0zM572.9 203.7H583.3V207.3H572.9zM557.5 207.3H572.9V210.9H557.5zM547.3 210.9H562.6V214.6H547.3zM537.1 214.6H552.4V218.2H537.1zM526.9 218.2H542.2V221.8H526.9zM516.6 221.8H532.0V225.4H516.6zM511.5 225.4H521.7V229.0H511.5zM501.3 229.0H516.6V232.7H501.3zM496.2 232.7H506.4V236.3H496.2zM491.1 236.3H501.3V239.9H491.1zM486.0 239.9H496.2V243.5H486.0zM475.7 243.5H486.0V247.1H475.7zM470.6 247.1H480.8V250.8H470.6zM465.5 250.8H475.7V254.4H465.5zM455.3 254.4H470.6V258.0H455.3zM445.0 258.0H465.5V261.6H445.0zM445.0 261.6H450.2V265.2H445.0zM439.9 265.2H445.0V268.9H439.9zM439.9 268.9H445.0V272.5H439.9zM439.9 272.5H445.0V276.1H439.9zM439.9 276.1H445.0V279.7H439.9zM439.9 279.7H445.0V283.3H439.9zM439.9 283.3H445.0V287.0H439.9zM439.9 287.0H445.0V290.6H439.9zM439.9 290.6H445.0V294.2H439.9zM439.9 294.2H445.0V297.8H439.9zM439.9 297.8H445.0V301.4H439.9zM439.9 301.4H445.0V305.1H439.9zM439.9 305.1H445.0V308.7H439.9zM434.8 308.7H445.0V312.3H434.8zM434.8 312.3H445.0V315.9H434.8zM434.8 315.9H445.0V319.5H434.8zM434.8 319.5H445.0V323.2H434.8zM434.8 323.2H445.0V326.8H434.8zM434.8 326.8H445.0V330.4H434.8zM434.8 330.4H445.0V334.0H434.8zM434.8 334.0H445.0V337.6H434.8zM434.8 337.6H445.0V341.3H434.8zM434.8 341.3H445.0V344.9H434.8zM434.8 344.9H445.0V348.5H434.8zM434.8 348.5H445.0V352.1H434.8zM434.8 352.1H445.0V354.9H434.8z"/><path fill="#4d6cbb" d="M537.1 48.0H542.2V51.7H537.1zM301.9 51.7H322.3V55.3H301.9zM235.4 55.3H240.5V58.9H235.4zM179.2 58.9H184.3V62.5H179.2zM143.4 62.5H148.5V66.1H143.4zM117.8 66.1H122.9V69.8H117.8zM102.5 69.8H107.6V73.4H102.5zM92.3 73.4H97.4V77.0H92.3zM572.9 200.1H583.3V203.7H572.9zM557.5 203.7H572.9V207.3H557.5zM547.3 207.3H557.5V210.9H547.3zM537.1 210.9H547.3V214.6H537.1zM526.9 214.6H537.1V218.2H526.9zM516.6 218.2H526.9V221.8H516.6zM506.4 221.8H516.6V225.4H506.4zM501.3 225.4H511.5V229.0H501.3zM491.1 229.0H501.3V232.7H491.1zM486.0 232.7H496.2V236.3H486.0zM475.7 236.3H491.1V239.9H475.7zM470.6 239.9H486.0V243.5H470.6zM465.5 243.5H475.7V247.1H465.5zM455.3 247.1H470.6V250.8H455.3zM450.2 250.8H465.5V254.4H450.2zM445.0 254.4H455.3V258.0H445.0zM439.9 258.0H445.0V261.6H439.9zM439.9 261.6H445.0V265.2H439.9zM434.8 265.2H439.9V268.9H434.8zM434.8 268.9H439.9V272.5H434.8zM434.8 272.5H439.9V276.1H434.8zM434.8 276.1H439.9V279.7H434.8zM434.8 279.7H439.9V283.3H434.8zM429.7 283.3H439.9V287.0H429.7zM429.7 287.0H439.9V290.6H429.7zM429.7 290.6H439.9V294.2H429.7zM429.7 294.2H439.9V297.8H429.7zM429.7 297.8H439.9V301.4H429.7zM429.7 301.4H439.9V305.1H429.7zM429.7 305.1H439.9V308.7H429.7zM429.7 308.7H434.8V312.3H429.7zM429.7 312.3H434.8V315.9H429.7zM429.7 315.9H434.8V319.5H429.7zM429.7 319.5H434.8V323.2H429.7zM429.7 323.2H434.8V326.8H429.7zM429.7 326.8H434.8V330.4H429.7zM429.7 330.4H434.8V334.0H429.7zM429.7 334.0H434.8V337.6H429.7zM429.7 337.6H434.8V341.3H429.7zM429.7 341.3H434.8V344.9H429.7zM429.7 344.9H434.8V348.5H429.7zM429.7 348.5H434.8V352.1H429.7zM429.7 352.1H434.8V354.9H429.7z"/><path fill="#4d6dbc" d="M542.2 48.0H583.3V51.7H542.2zM322.3 51.7H327.5V55.3H322.3zM240.5 55.3H255.9V58.9H240.5zM184.3 58.9H189.4V62.5H184.3zM148.5 62.5H153.6V66.1H148.5zM75.9 80.6H82.0V84.2H75.9zM567.8 196.5H583.3V200.1H567.8zM557.5 200.1H567.8V203.7H557.5zM542.2 203.7H557.5V207.3H542.2zM532.0 207.3H547.3V210.9H532.0zM516.6 210.9H532.0V214.6H516.6zM511.5 214.6H521.7V218.2H511.5zM501.3 218.2H516.6V221.8H501.3zM491.1 221.8H506.4V225.4H491.1zM486.0 225.4H496.2V229.0H486.0zM475.7 229.0H491.1V232.7H475.7zM470.6 232.7H486.0V236.3H470.6zM460.4 236.3H475.7V239.9H460.4zM455.3 239.9H470.6V243.5H455.3zM450.2 243.5H460.4V247.1H450.2zM439.9 247.1H455.3V250.8H439.9zM439.9 250.8H450.2V254.4H439.9zM434.8 254.4H445.0V258.0H434.8zM429.7 258.0H439.9V261.6H429.7zM429.7 261.6H439.9V265.2H429.7zM429.7 265.2H434.8V268.9H429.7zM424.6 268.9H434.8V272.5H424.6zM424.6 272.5H434.8V276.1H424.6zM424.6 276.1H434.8V279.7H424.6zM424.6 279.7H429.7V283.3H424.6zM424.6 283.3H429.7V287.0H424.6zM424.6 287.0H429.7V290.6H424.6zM419.5 290.6H429.7V294.2H419.5zM419.5 294.2H429.7V297.8H419.5zM419.5 297.8H429.7V301.4H419.5zM419.5 301.4H429.7V305.1H419.5zM419.5 305.1H429.7V308.7H419.5zM419.5 308.7H429.7V312.3H419.5zM419.5 312.3H429.7V315.9H419.5zM419.5 315.9H429.7V319.5H419.5zM419.5 319.5H429.7V323.2H419.5zM419.5 323.2H429.7V326.8H419.5zM419.5 326.8H429.7V330.4H419.5zM419.5 330.4H429.7V334.0H419.5zM419.5 334.0H429.7V337.6H419.5zM419.5 337.6H429.7V341.3H419.5zM419.5 341.3H429.7V344.9H419.5zM419.5 344.9H429.7V348.5H419.5zM419.5 348.5H429.7V352.1H419.5zM419.5 352.1H424.6V354.9H419.5z"/><path fill="#664cb0" d="M87.1 51.7H92.3V55.3H87.1z"/><path fill="#5164b8" d="M225.2 51.7H230.3V55.3H225.2zM174.1 55.3H179.2V58.9H174.1zM578.0 232.7H583.3V236.3H578.0zM557.5 243.5H562.6V247.1H557.5zM552.4 247.1H557.5V250.8H552.4zM547.3 250.8H552.4V254.4H547.3zM542.2 254.4H547.3V258.0H542.2zM532.0 258.0H542.2V261.6H532.0zM511.5 268.9H516.6V272.5H511.5zM511.5 272.5H516.6V276.1H511.5zM506.4 294.2H511.5V297.8H506.4zM506.4 297.8H511.5V301.4H506.4zM506.4 301.4H511.5V305.1H506.4zM506.4 305.1H511.5V308.7H506.4zM506.4 308.7H511.5V312.3H506.4zM506.4 312.3H511.5V315.9H506.4zM506.4 315.9H511.5V319.5H506.4zM506.4 319.5H511.5V323.2H506.4zM506.4 323.2H511.5V326.8H506.4zM506.4 326.8H511.5V330.4H506.4zM506.4 330.4H511.5V334.0H506.4zM506.4 334.0H511.5V337.6H506.4zM506.4 337.6H511.5V341.3H506.4zM506.4 341.3H511.5V344.9H506.4zM506.4 344.9H511.5V348.5H506.4zM506.4 348.5H511.5V352.1H506.4zM506.4 352.1H511.5V354.9H506.4z"/><path fill="#4f68b9" d="M261.0 51.7H266.1V55.3H261.0zM199.6 55.3H204.7V58.9H199.6zM128.0 62.5H133.2V66.1H128.0zM562.6 221.8H567.8V225.4H562.6zM547.3 229.0H552.4V232.7H547.3zM537.1 232.7H542.2V236.3H537.1zM532.0 236.3H537.1V239.9H532.0zM521.7 239.9H526.9V243.5H521.7zM506.4 247.1H511.5V250.8H506.4zM501.3 250.8H506.4V254.4H501.3zM491.1 261.6H496.2V265.2H491.1zM486.0 268.9H491.1V272.5H486.0zM480.8 276.1H486.0V279.7H480.8zM475.7 283.3H480.8V287.0H475.7zM475.7 287.0H480.8V290.6H475.7zM475.7 290.6H480.8V294.2H475.7zM470.6 301.4H475.7V305.1H470.6zM470.6 305.1H475.7V308.7H470.6zM470.6 308.7H475.7V312.3H470.6zM470.6 312.3H475.7V315.9H470.6zM470.6 315.9H475.7V319.5H470.6zM470.6 319.5H475.7V323.2H470.6z"/><path fill="#4d6ebc" d="M327.5 51.7H373.5V55.3H327.5zM255.9 55.3H261.0V58.9H255.9zM189.4 58.9H194.5V62.5H189.4zM122.9 66.1H128.0V69.8H122.9zM572.9 192.8H583.3V196.5H572.9zM557.5 196.5H567.8V200.1H557.5zM542.2 200.1H557.5V203.7H542.2zM526.9 203.7H542.2V207.3H526.9zM516.6 207.3H532.0V210.9H516.6zM506.4 210.9H516.6V214.6H506.4zM501.3 214.6H511.5V218.2H501.3zM491.1 218.2H501.3V221.8H491.1zM480.8 221.8H491.1V225.4H480.8zM475.7 225.4H486.0V229.0H475.7zM465.5 229.0H475.7V232.7H465.5zM455.3 232.7H470.6V236.3H455.3zM450.2 236.3H460.4V239.9H450.2zM445.0 239.9H455.3V243.5H445.0zM439.9 243.5H450.2V247.1H439.9zM434.8 247.1H439.9V250.8H434.8zM429.7 250.8H439.9V254.4H429.7zM429.7 254.4H434.8V258.0H429.7zM424.6 258.0H429.7V261.6H424.6zM424.6 261.6H429.7V265.2H424.6zM419.5 265.2H429.7V268.9H419.5zM419.5 268.9H424.6V272.5H419.5zM419.5 272.5H424.6V276.1H419.5zM419.5 276.1H424.6V279.7H419.5zM419.5 279.7H424.6V283.3H419.5zM414.4 283.3H424.6V287.0H414.4zM414.4 287.0H424.6V290.6H414.4zM414.4 290.6H419.5V294.2H414.4zM414.4 294.2H419.5V297.8H414.4zM414.4 297.8H419.5V301.4H414.4zM414.4 301.4H419.5V305.1H414.4zM414.4 305.1H419.5V308.7H414.4zM414.4 308.7H419.5V312.3H414.4zM414.4 312.3H419.5V315.9H414.4zM414.4 315.9H419.5V319.5H414.4zM414.4 319.5H419.5V323.2H414.4zM414.4 323.2H419.5V326.8H414.4zM414.4 326.8H419.5V330.4H414.4zM414.4 330.4H419.5V334.0H414.4zM414.4 334.0H419.5V337.6H414.4zM414.4 337.6H419.5V341.3H414.4zM414.4 341.3H419.5V344.9H414.4zM414.4 344.9H419.5V348.5H414.4zM409.3 348.5H419.5V352.1H409.3zM409.3 352.1H419.5V354.9H409.3z"/><path fill="#4c70bd" d="M373.5 51.7H465.5V55.3H373.5zM276.3 55.3H281.4V58.9H276.3zM158.7 62.5H163.8V66.1H158.7zM82.0 80.6H87.1V84.2H82.0zM75.9 84.2H82.0V87.9H75.9zM572.9 185.6H578.0V189.2H572.9zM552.4 189.2H562.6V192.8H552.4zM537.1 192.8H547.3V196.5H537.1zM516.6 196.5H532.0V200.1H516.6zM506.4 200.1H516.6V203.7H506.4zM501.3 203.7H506.4V207.3H501.3zM491.1 207.3H501.3V210.9H491.1zM480.8 210.9H491.1V214.6H480.8zM470.6 214.6H480.8V218.2H470.6zM460.4 218.2H470.6V221.8H460.4zM450.2 221.8H460.4V225.4H450.2zM439.9 225.4H450.2V229.0H439.9zM434.8 229.0H445.0V232.7H434.8zM424.6 232.7H434.8V236.3H424.6zM419.5 236.3H429.7V239.9H419.5zM419.5 239.9H424.6V243.5H419.5zM414.4 243.5H419.5V247.1H414.4zM409.3 247.1H419.5V250.8H409.3zM409.3 250.8H414.4V254.4H409.3zM404.1 254.4H414.4V258.0H404.1zM404.1 258.0H409.3V261.6H404.1zM404.1 261.6H409.3V265.2H404.1zM399.0 265.2H409.3V268.9H399.0zM399.0 268.9H409.3V272.5H399.0zM399.0 272.5H404.1V276.1H399.0zM399.0 276.1H404.1V279.7H399.0zM399.0 279.7H404.1V283.3H399.0zM399.0 283.3H404.1V287.0H399.0zM399.0 287.0H404.1V290.6H399.0zM399.0 290.6H404.1V294.2H399.0zM399.0 294.2H404.1V297.8H399.0zM399.0 297.8H404.1V301.4H399.0zM399.0 301.4H404.1V305.1H399.0zM399.0 305.1H404.1V308.7H399.0zM399.0 308.7H404.1V312.3H399.0zM399.0 312.3H404.1V315.9H399.0zM399.0 315.9H404.1V319.5H399.0zM399.0 319.5H404.1V323.2H399.0zM399.0 323.2H404.1V326.8H399.0zM399.0 326.8H404.1V330.4H399.0zM399.0 330.4H404.1V334.0H399.0zM399.0 334.0H404.1V337.6H399.0zM399.0 337.6H404.1V341.3H399.0zM399.0 341.3H404.1V344.9H399.0zM393.9 348.5H399.0V352.1H393.9zM393.9 352.1H399.0V354.9H393.9z"/><path fill="#4c70be" d="M465.5 51.7H470.6V55.3H465.5zM204.7 58.9H220.1V62.5H204.7zM112.7 69.8H117.8V73.4H112.7zM562.6 185.6H572.9V189.2H562.6zM547.3 189.2H552.4V192.8H547.3zM526.9 192.8H537.1V196.5H526.9zM511.5 196.5H516.6V200.1H511.5zM501.3 200.1H506.4V203.7H501.3zM496.2 203.7H501.3V207.3H496.2zM486.0 207.3H491.1V210.9H486.0zM470.6 210.9H480.8V214.6H470.6zM460.4 214.6H470.6V218.2H460.4zM450.2 218.2H460.4V221.8H450.2zM439.9 221.8H450.2V225.4H439.9zM434.8 225.4H439.9V229.0H434.8zM424.6 229.0H434.8V232.7H424.6zM419.5 232.7H424.6V236.3H419.5zM414.4 236.3H419.5V239.9H414.4zM409.3 239.9H419.5V243.5H409.3zM404.1 243.5H414.4V247.1H404.1zM404.1 247.1H409.3V250.8H404.1zM399.0 250.8H409.3V254.4H399.0zM399.0 254.4H404.1V258.0H399.0zM399.0 258.0H404.1V261.6H399.0zM399.0 261.6H404.1V265.2H399.0zM393.9 265.2H399.0V268.9H393.9zM393.9 268.9H399.0V272.5H393.9zM393.9 272.5H399.0V276.1H393.9zM393.9 276.1H399.0V279.7H393.9zM393.9 279.7H399.0V283.3H393.9zM393.9 283.3H399.0V287.0H393.9zM393.9 287.0H399.0V290.6H393.9zM393.9 290.6H399.0V294.2H393.9zM393.9 294.2H399.0V297.8H393.9zM393.9 297.8H399.0V301.4H393.9zM393.9 301.4H399.0V305.1H393.9zM393.9 305.1H399.0V308.7H393.9zM393.9 308.7H399.0V312.3H393.9zM393.9 312.3H399.0V315.9H393.9zM393.9 315.9H399.0V319.5H393.9zM393.9 319.5H399.0V323.2H393.9zM393.9 323.2H399.0V326.8H393.9zM393.9 326.8H399.0V330.4H393.9zM393.9 330.4H399.0V334.0H393.9zM393.9 334.0H399.0V337.6H393.9zM393.9 337.6H399.0V341.3H393.9zM393.9 341.3H399.0V344.9H393.9zM393.9 344.9H399.0V348.5H393.9z"/><path fill="#4c72bf" d="M470.6 51.7H537.1V55.3H470.6zM562.6 182.0H567.8V185.6H562.6zM542.2 185.6H547.3V189.2H542.2zM516.6 189.2H526.9V192.8H516.6zM480.8 203.7H486.0V207.3H480.8zM404.1 232.7H409.3V236.3H404.1z"/><path fill="#4c73bf" d="M537.1 51.7H542.2V55.3H537.1zM168.9 62.5H179.2V66.1H168.9zM138.3 66.1H143.4V69.8H138.3zM92.3 77.0H97.4V80.6H92.3zM578.0 178.4H583.3V182.0H578.0zM557.5 182.0H562.6V185.6H557.5zM537.1 185.6H542.2V189.2H537.1zM511.5 189.2H516.6V192.8H511.5zM496.2 196.5H501.3V200.1H496.2zM486.0 200.1H491.1V203.7H486.0zM475.7 203.7H480.8V207.3H475.7zM450.2 210.9H455.3V214.6H450.2zM439.9 214.6H445.0V218.2H439.9zM419.5 221.8H424.6V225.4H419.5zM388.8 243.5H393.9V247.1H388.8zM383.7 268.9H388.8V272.5H383.7zM383.7 272.5H388.8V276.1H383.7zM383.7 276.1H388.8V279.7H383.7zM383.7 279.7H388.8V283.3H383.7zM383.7 283.3H388.8V287.0H383.7zM383.7 287.0H388.8V290.6H383.7zM383.7 290.6H388.8V294.2H383.7zM383.7 294.2H388.8V297.8H383.7zM383.7 297.8H388.8V301.4H383.7zM383.7 301.4H388.8V305.1H383.7zM383.7 305.1H388.8V308.7H383.7zM383.7 308.7H388.8V312.3H383.7zM383.7 312.3H388.8V315.9H383.7zM383.7 315.9H388.8V319.5H383.7zM383.7 319.5H388.8V323.2H383.7zM383.7 323.2H388.8V326.8H383.7zM383.7 326.8H388.8V330.4H383.7zM383.7 330.4H388.8V334.0H383.7zM383.7 334.0H388.8V337.6H383.7zM383.7 337.6H388.8V341.3H383.7zM383.7 341.3H388.8V344.9H383.7zM383.7 344.9H388.8V348.5H383.7zM383.7 348.5H388.8V352.1H383.7zM383.7 352.1H388.8V354.9H383.7z"/><path fill="#4d75c0" d="M542.2 51.7H583.3V55.3H542.2zM301.9 55.3H312.1V58.9H301.9zM102.5 73.4H107.6V77.0H102.5zM567.8 178.4H572.9V182.0H567.8zM547.3 182.0H552.4V185.6H547.3zM526.9 185.6H532.0V189.2H526.9zM506.4 189.2H511.5V192.8H506.4zM491.1 196.5H496.2V200.1H491.1zM480.8 200.1H486.0V203.7H480.8zM455.3 207.3H460.4V210.9H455.3zM445.0 210.9H450.2V214.6H445.0zM434.8 214.6H439.9V218.2H434.8zM424.6 218.2H429.7V221.8H424.6zM409.3 225.4H414.4V229.0H409.3zM404.1 229.0H409.3V232.7H404.1zM383.7 250.8H388.8V254.4H383.7zM378.6 297.8H383.7V301.4H378.6zM378.6 301.4H383.7V305.1H378.6zM378.6 305.1H383.7V308.7H378.6zM378.6 308.7H383.7V312.3H378.6zM378.6 312.3H383.7V315.9H378.6zM378.6 315.9H383.7V319.5H378.6zM378.6 319.5H383.7V323.2H378.6zM378.6 323.2H383.7V326.8H378.6zM378.6 326.8H383.7V330.4H378.6zM378.6 330.4H383.7V334.0H378.6zM378.6 334.0H383.7V337.6H378.6zM378.6 337.6H383.7V341.3H378.6zM378.6 341.3H383.7V344.9H378.6zM378.6 344.9H383.7V348.5H378.6zM378.6 348.5H383.7V352.1H378.6zM378.6 352.1H383.7V354.9H378.6z"/><path fill="#4d6fbd" d="M261.0 55.3H266.1V58.9H261.0zM199.6 58.9H204.7V62.5H199.6zM153.6 62.5H158.7V66.1H153.6zM128.0 66.1H133.2V69.8H128.0zM572.9 189.2H578.0V192.8H572.9zM557.5 192.8H567.8V196.5H557.5zM542.2 196.5H552.4V200.1H542.2zM526.9 200.1H537.1V203.7H526.9zM511.5 203.7H526.9V207.3H511.5zM506.4 207.3H511.5V210.9H506.4zM496.2 210.9H506.4V214.6H496.2zM486.0 214.6H496.2V218.2H486.0zM475.7 218.2H486.0V221.8H475.7zM465.5 221.8H480.8V225.4H465.5zM460.4 225.4H470.6V229.0H460.4zM450.2 229.0H460.4V232.7H450.2zM445.0 232.7H455.3V236.3H445.0zM434.8 236.3H445.0V239.9H434.8zM429.7 239.9H439.9V243.5H429.7zM424.6 243.5H434.8V247.1H424.6zM424.6 247.1H429.7V250.8H424.6zM419.5 250.8H429.7V254.4H419.5zM419.5 254.4H424.6V258.0H419.5zM414.4 258.0H424.6V261.6H414.4zM414.4 261.6H419.5V265.2H414.4zM414.4 265.2H419.5V268.9H414.4zM409.3 268.9H419.5V272.5H409.3zM409.3 272.5H414.4V276.1H409.3zM409.3 276.1H414.4V279.7H409.3zM409.3 279.7H414.4V283.3H409.3zM409.3 283.3H414.4V287.0H409.3zM409.3 287.0H414.4V290.6H409.3zM409.3 290.6H414.4V294.2H409.3zM409.3 294.2H414.4V297.8H409.3zM404.1 297.8H414.4V301.4H404.1zM404.1 301.4H414.4V305.1H404.1zM404.1 305.1H414.4V308.7H404.1zM404.1 308.7H414.4V312.3H404.1zM404.1 312.3H409.3V315.9H404.1zM404.1 315.9H409.3V319.5H404.1zM404.1 319.5H409.3V323.2H404.1zM404.1 323.2H409.3V326.8H404.1zM404.1 326.8H409.3V330.4H404.1zM404.1 330.4H409.3V334.0H404.1zM404.1 334.0H409.3V337.6H404.1zM404.1 337.6H409.3V341.3H404.1zM404.1 341.3H409.3V344.9H404.1zM404.1 344.9H409.3V348.5H404.1zM404.1 348.5H409.3V352.1H404.1zM404.1 352.1H409.3V354.9H404.1z"/><path fill="#4c6fbd" d="M266.1 55.3H276.3V58.9H266.1zM97.4 73.4H102.5V77.0H97.4zM578.0 185.6H583.3V189.2H578.0zM562.6 189.2H572.9V192.8H562.6zM547.3 192.8H557.5V196.5H547.3zM532.0 196.5H542.2V200.1H532.0zM516.6 200.1H526.9V203.7H516.6zM506.4 203.7H511.5V207.3H506.4zM501.3 207.3H506.4V210.9H501.3zM491.1 210.9H496.2V214.6H491.1zM480.8 214.6H486.0V218.2H480.8zM470.6 218.2H475.7V221.8H470.6zM460.4 221.8H465.5V225.4H460.4zM450.2 225.4H460.4V229.0H450.2zM445.0 229.0H450.2V232.7H445.0zM434.8 232.7H445.0V236.3H434.8zM429.7 236.3H434.8V239.9H429.7zM424.6 239.9H429.7V243.5H424.6zM419.5 243.5H424.6V247.1H419.5zM419.5 247.1H424.6V250.8H419.5zM414.4 250.8H419.5V254.4H414.4zM414.4 254.4H419.5V258.0H414.4zM409.3 258.0H414.4V261.6H409.3zM409.3 261.6H414.4V265.2H409.3zM409.3 265.2H414.4V268.9H409.3zM404.1 272.5H409.3V276.1H404.1zM404.1 276.1H409.3V279.7H404.1zM404.1 279.7H409.3V283.3H404.1zM404.1 283.3H409.3V287.0H404.1zM404.1 287.0H409.3V290.6H404.1zM404.1 290.6H409.3V294.2H404.1zM404.1 294.2H409.3V297.8H404.1zM399.0 344.9H404.1V348.5H399.0zM399.0 348.5H404.1V352.1H399.0zM399.0 352.1H404.1V354.9H399.0z"/><path fill="#4c71be" d="M281.4 55.3H301.9V58.9H281.4zM220.1 58.9H225.2V62.5H220.1zM163.8 62.5H168.9V66.1H163.8zM133.2 66.1H138.3V69.8H133.2zM567.8 182.0H583.3V185.6H567.8zM547.3 185.6H562.6V189.2H547.3zM526.9 189.2H547.3V192.8H526.9zM506.4 192.8H526.9V196.5H506.4zM501.3 196.5H511.5V200.1H501.3zM491.1 200.1H501.3V203.7H491.1zM486.0 203.7H496.2V207.3H486.0zM470.6 207.3H486.0V210.9H470.6zM455.3 210.9H470.6V214.6H455.3zM445.0 214.6H460.4V218.2H445.0zM439.9 218.2H450.2V221.8H439.9zM424.6 221.8H439.9V225.4H424.6zM419.5 225.4H434.8V229.0H419.5zM414.4 229.0H424.6V232.7H414.4zM409.3 232.7H419.5V236.3H409.3zM399.0 236.3H414.4V239.9H399.0zM393.9 239.9H409.3V243.5H393.9zM393.9 243.5H404.1V247.1H393.9zM388.8 247.1H404.1V250.8H388.8zM388.8 250.8H399.0V254.4H388.8zM388.8 254.4H399.0V258.0H388.8zM75.9 258.0H82.0V261.6H75.9zM388.8 258.0H399.0V261.6H388.8zM75.9 261.6H82.0V265.2H75.9zM388.8 261.6H399.0V265.2H388.8zM75.9 265.2H82.0V268.9H75.9zM388.8 265.2H393.9V268.9H388.8zM75.9 268.9H82.0V272.5H75.9zM388.8 268.9H393.9V272.5H388.8zM75.9 272.5H82.0V276.1H75.9zM388.8 272.5H393.9V276.1H388.8zM75.9 276.1H82.0V279.7H75.9zM388.8 276.1H393.9V279.7H388.8zM75.9 279.7H82.0V283.3H75.9zM388.8 279.7H393.9V283.3H388.8zM75.9 283.3H82.0V287.0H75.9zM388.8 283.3H393.9V287.0H388.8zM75.9 287.0H82.0V290.6H75.9zM388.8 287.0H393.9V290.6H388.8zM75.9 290.6H82.0V294.2H75.9zM388.8 290.6H393.9V294.2H388.8zM75.9 294.2H82.0V297.8H75.9zM388.8 294.2H393.9V297.8H388.8zM75.9 297.8H82.0V301.4H75.9zM388.8 297.8H393.9V301.4H388.8zM75.9 301.4H82.0V305.1H75.9zM388.8 301.4H393.9V305.1H388.8zM75.9 305.1H82.0V308.7H75.9zM388.8 305.1H393.9V308.7H388.8zM75.9 308.7H82.0V312.3H75.9zM388.8 308.7H393.9V312.3H388.8zM75.9 312.3H82.0V315.9H75.9zM388.8 312.3H393.9V315.9H388.8zM75.9 315.9H82.0V319.5H75.9zM388.8 315.9H393.9V319.5H388.8zM75.9 319.5H82.0V323.2H75.9zM388.8 319.5H393.9V323.2H388.8zM75.9 323.2H82.0V326.8H75.9zM388.8 323.2H393.9V326.8H388.8zM75.9 326.8H82.0V330.4H75.9zM388.8 326.8H393.9V330.4H388.8zM75.9 330.4H82.0V334.0H75.9zM388.8 330.4H393.9V334.0H388.8zM75.9 334.0H82.0V337.6H75.9zM388.8 334.0H393.9V337.6H388.8zM75.9 337.6H82.0V341.3H75.9zM388.8 337.6H393.9V341.3H388.8zM75.9 341.3H82.0V344.9H75.9zM388.8 341.3H393.9V344.9H388.8zM75.9 344.9H82.0V348.5H75.9zM388.8 344.9H393.9V348.5H388.8zM75.9 348.5H82.0V352.1H75.9zM388.8 348.5H393.9V352.1H388.8zM75.9 352.1H82.0V354.9H75.9zM388.8 352.1H393.9V354.9H388.8z"/><path fill="#4d76c0" d="M312.1 55.3H322.3V58.9H312.1zM562.6 178.4H567.8V182.0H562.6zM521.7 185.6H526.9V189.2H521.7zM465.5 203.7H470.6V207.3H465.5zM414.4 221.8H419.5V225.4H414.4zM378.6 294.2H383.7V297.8H378.6z"/><path fill="#4d76c1" d="M322.3 55.3H327.5V58.9H322.3zM143.4 66.1H148.5V69.8H143.4zM542.2 182.0H547.3V185.6H542.2zM516.6 185.6H521.7V189.2H516.6zM496.2 192.8H501.3V196.5H496.2zM388.8 239.9H393.9V243.5H388.8zM383.7 247.1H388.8V250.8H383.7zM378.6 276.1H383.7V279.7H378.6zM378.6 279.7H383.7V283.3H378.6zM378.6 283.3H383.7V287.0H378.6zM378.6 287.0H383.7V290.6H378.6zM378.6 290.6H383.7V294.2H378.6z"/><path fill="#4d79c2" d="M327.5 55.3H363.2V58.9H327.5zM245.6 58.9H255.9V62.5H245.6zM562.6 174.7H572.9V178.4H562.6zM542.2 178.4H547.3V182.0H542.2zM521.7 182.0H532.0V185.6H521.7zM506.4 185.6H511.5V189.2H506.4zM465.5 200.1H470.6V203.7H465.5zM455.3 203.7H460.4V207.3H455.3zM445.0 207.3H450.2V210.9H445.0zM434.8 210.9H439.9V214.6H434.8zM424.6 214.6H429.7V218.2H424.6zM414.4 218.2H419.5V221.8H414.4zM409.3 221.8H414.4V225.4H409.3zM388.8 236.3H393.9V239.9H388.8zM378.6 254.4H383.7V258.0H378.6zM373.5 276.1H378.6V279.7H373.5zM373.5 279.7H378.6V283.3H373.5zM373.5 283.3H378.6V287.0H373.5zM373.5 287.0H378.6V290.6H373.5zM368.4 341.3H373.5V344.9H368.4zM368.4 344.9H373.5V348.5H368.4zM368.4 348.5H373.5V352.1H368.4zM368.4 352.1H373.5V354.9H368.4z"/><path fill="#4d79c3" d="M363.2 55.3H368.4V58.9H363.2zM368.4 334.0H373.5V337.6H368.4zM368.4 337.6H373.5V341.3H368.4z"/><path fill="#4d7ac3" d="M368.4 55.3H373.5V58.9H368.4zM255.9 58.9H261.0V62.5H255.9zM189.4 62.5H194.5V66.1H189.4zM148.5 66.1H153.6V69.8H148.5zM122.9 69.8H128.0V73.4H122.9zM82.0 84.2H87.1V87.9H82.0zM557.5 174.7H562.6V178.4H557.5zM537.1 178.4H542.2V182.0H537.1zM516.6 182.0H521.7V185.6H516.6zM496.2 189.2H501.3V192.8H496.2zM486.0 192.8H491.1V196.5H486.0zM475.7 196.5H480.8V200.1H475.7zM439.9 207.3H445.0V210.9H439.9zM383.7 239.9H388.8V243.5H383.7zM378.6 250.8H383.7V254.4H378.6zM373.5 268.9H378.6V272.5H373.5zM373.5 272.5H378.6V276.1H373.5zM368.4 301.4H373.5V305.1H368.4zM368.4 305.1H373.5V308.7H368.4zM368.4 308.7H373.5V312.3H368.4zM368.4 312.3H373.5V315.9H368.4zM368.4 315.9H373.5V319.5H368.4zM368.4 319.5H373.5V323.2H368.4zM368.4 323.2H373.5V326.8H368.4zM368.4 326.8H373.5V330.4H368.4zM368.4 330.4H373.5V334.0H368.4z"/><path fill="#4d7bc3" d="M373.5 55.3H378.6V58.9H373.5zM552.4 174.7H557.5V178.4H552.4zM532.0 178.4H537.1V182.0H532.0zM501.3 185.6H506.4V189.2H501.3zM460.4 200.1H465.5V203.7H460.4zM450.2 203.7H455.3V207.3H450.2zM429.7 210.9H434.8V214.6H429.7zM419.5 214.6H424.6V218.2H419.5zM399.0 225.4H404.1V229.0H399.0zM393.9 229.0H399.0V232.7H393.9zM378.6 247.1H383.7V250.8H378.6zM75.9 250.8H82.0V254.4H75.9zM373.5 261.6H378.6V265.2H373.5zM373.5 265.2H378.6V268.9H373.5zM368.4 287.0H373.5V290.6H368.4zM368.4 290.6H373.5V294.2H368.4zM368.4 294.2H373.5V297.8H368.4zM368.4 297.8H373.5V301.4H368.4z"/><path fill="#4d7cc4" d="M378.6 55.3H383.7V58.9H378.6zM439.9 55.3H465.5V58.9H439.9zM261.0 58.9H266.1V62.5H261.0zM153.6 66.1H158.7V69.8H153.6zM107.6 73.4H112.7V77.0H107.6zM572.9 171.1H578.0V174.7H572.9zM547.3 174.7H552.4V178.4H547.3zM526.9 178.4H532.0V182.0H526.9zM511.5 182.0H516.6V185.6H511.5zM491.1 189.2H496.2V192.8H491.1zM480.8 192.8H486.0V196.5H480.8zM409.3 218.2H414.4V221.8H409.3zM373.5 258.0H378.6V261.6H373.5zM368.4 279.7H373.5V283.3H368.4zM368.4 283.3H373.5V287.0H368.4zM363.2 315.9H368.4V319.5H363.2zM363.2 319.5H368.4V323.2H363.2zM363.2 323.2H368.4V326.8H363.2zM363.2 326.8H368.4V330.4H363.2zM363.2 330.4H368.4V334.0H363.2zM363.2 334.0H368.4V337.6H363.2zM363.2 337.6H368.4V341.3H363.2zM363.2 341.3H368.4V344.9H363.2zM363.2 344.9H368.4V348.5H363.2zM363.2 348.5H368.4V352.1H363.2zM363.2 352.1H368.4V354.9H363.2z"/><path fill="#4e7dc4" d="M383.7 55.3H429.7V58.9H383.7zM526.9 55.3H532.0V58.9H526.9zM266.1 58.9H271.2V62.5H266.1zM562.6 171.1H567.8V174.7H562.6zM542.2 174.7H547.3V178.4H542.2zM521.7 178.4H526.9V182.0H521.7zM465.5 196.5H470.6V200.1H465.5zM455.3 200.1H460.4V203.7H455.3zM424.6 210.9H429.7V214.6H424.6zM414.4 214.6H419.5V218.2H414.4zM383.7 236.3H388.8V239.9H383.7zM378.6 243.5H383.7V247.1H378.6zM373.5 254.4H378.6V258.0H373.5zM368.4 272.5H373.5V276.1H368.4zM363.2 297.8H368.4V301.4H363.2zM363.2 301.4H368.4V305.1H363.2zM363.2 305.1H368.4V308.7H363.2z"/><path fill="#4e7cc4" d="M429.7 55.3H439.9V58.9H429.7zM465.5 55.3H470.6V58.9H465.5zM194.5 62.5H199.6V66.1H194.5zM567.8 171.1H572.9V174.7H567.8zM445.0 203.7H450.2V207.3H445.0zM434.8 207.3H439.9V210.9H434.8zM368.4 276.1H373.5V279.7H368.4zM363.2 308.7H368.4V312.3H363.2zM363.2 312.3H368.4V315.9H363.2z"/><path fill="#4e7dc5" d="M470.6 55.3H475.7V58.9H470.6zM506.4 55.3H526.9V58.9H506.4zM532.0 55.3H537.1V58.9H532.0zM199.6 62.5H204.7V66.1H199.6zM97.4 77.0H102.5V80.6H97.4zM506.4 182.0H511.5V185.6H506.4zM496.2 185.6H501.3V189.2H496.2zM475.7 192.8H480.8V196.5H475.7zM368.4 268.9H373.5V272.5H368.4zM363.2 294.2H368.4V297.8H363.2z"/><path fill="#4e7ec5" d="M475.7 55.3H506.4V58.9H475.7zM537.1 55.3H547.3V58.9H537.1zM271.2 58.9H281.4V62.5H271.2zM128.0 69.8H133.2V73.4H128.0zM557.5 171.1H562.6V174.7H557.5zM537.1 174.7H542.2V178.4H537.1zM516.6 178.4H521.7V182.0H516.6zM486.0 189.2H491.1V192.8H486.0zM450.2 200.1H455.3V203.7H450.2zM439.9 203.7H445.0V207.3H439.9zM429.7 207.3H434.8V210.9H429.7zM419.5 210.9H424.6V214.6H419.5zM399.0 221.8H404.1V225.4H399.0zM393.9 225.4H399.0V229.0H393.9zM388.8 229.0H393.9V232.7H388.8zM378.6 239.9H383.7V243.5H378.6zM373.5 250.8H378.6V254.4H373.5zM368.4 261.6H373.5V265.2H368.4zM368.4 265.2H373.5V268.9H368.4zM363.2 283.3H368.4V287.0H363.2zM363.2 287.0H368.4V290.6H363.2zM363.2 290.6H368.4V294.2H363.2zM358.1 315.9H363.2V319.5H358.1zM358.1 319.5H363.2V323.2H358.1zM358.1 323.2H363.2V326.8H358.1zM358.1 326.8H363.2V330.4H358.1zM358.1 330.4H363.2V334.0H358.1zM358.1 334.0H363.2V337.6H358.1zM358.1 337.6H363.2V341.3H358.1zM358.1 341.3H363.2V344.9H358.1zM358.1 344.9H363.2V348.5H358.1zM358.1 348.5H363.2V352.1H358.1zM358.1 352.1H363.2V354.9H358.1z"/><path fill="#4e7fc5" d="M547.3 55.3H583.3V58.9H547.3zM552.4 171.1H557.5V174.7H552.4zM532.0 174.7H537.1V178.4H532.0zM501.3 182.0H506.4V185.6H501.3zM470.6 192.8H475.7V196.5H470.6zM460.4 196.5H465.5V200.1H460.4zM404.1 218.2H409.3V221.8H404.1zM383.7 232.7H388.8V236.3H383.7zM373.5 247.1H378.6V250.8H373.5zM363.2 279.7H368.4V283.3H363.2zM358.1 305.1H363.2V308.7H358.1zM358.1 308.7H363.2V312.3H358.1zM358.1 312.3H363.2V315.9H358.1z"/><path fill="#4d6ebd" d="M194.5 58.9H199.6V62.5H194.5zM107.6 69.8H112.7V73.4H107.6zM87.1 77.0H92.3V80.6H87.1zM578.0 189.2H583.3V192.8H578.0zM567.8 192.8H572.9V196.5H567.8zM552.4 196.5H557.5V200.1H552.4zM537.1 200.1H542.2V203.7H537.1zM511.5 207.3H516.6V210.9H511.5zM496.2 214.6H501.3V218.2H496.2zM486.0 218.2H491.1V221.8H486.0zM470.6 225.4H475.7V229.0H470.6zM460.4 229.0H465.5V232.7H460.4zM445.0 236.3H450.2V239.9H445.0zM439.9 239.9H445.0V243.5H439.9zM434.8 243.5H439.9V247.1H434.8zM429.7 247.1H434.8V250.8H429.7zM424.6 254.4H429.7V258.0H424.6zM419.5 261.6H424.6V265.2H419.5zM414.4 272.5H419.5V276.1H414.4zM414.4 276.1H419.5V279.7H414.4zM414.4 279.7H419.5V283.3H414.4zM409.3 312.3H414.4V315.9H409.3zM409.3 315.9H414.4V319.5H409.3zM409.3 319.5H414.4V323.2H409.3zM409.3 323.2H414.4V326.8H409.3zM409.3 326.8H414.4V330.4H409.3zM409.3 330.4H414.4V334.0H409.3zM409.3 334.0H414.4V337.6H409.3zM409.3 337.6H414.4V341.3H409.3zM409.3 341.3H414.4V344.9H409.3zM409.3 344.9H414.4V348.5H409.3z"/><path fill="#4c74c0" d="M225.2 58.9H235.4V62.5H225.2zM117.8 69.8H122.9V73.4H117.8zM572.9 178.4H578.0V182.0H572.9zM552.4 182.0H557.5V185.6H552.4zM532.0 185.6H537.1V189.2H532.0zM501.3 192.8H506.4V196.5H501.3zM470.6 203.7H475.7V207.3H470.6zM75.9 254.4H82.0V258.0H75.9zM383.7 258.0H388.8V261.6H383.7zM383.7 261.6H388.8V265.2H383.7z"/><path fill="#4c75c0" d="M235.4 58.9H240.5V62.5H235.4zM399.0 232.7H404.1V236.3H399.0zM393.9 236.3H399.0V239.9H393.9zM383.7 254.4H388.8V258.0H383.7z"/><path fill="#4d77c1" d="M240.5 58.9H245.6V62.5H240.5zM179.2 62.5H184.3V66.1H179.2zM578.0 174.7H583.3V178.4H578.0zM552.4 178.4H562.6V182.0H552.4zM537.1 182.0H542.2V185.6H537.1zM486.0 196.5H491.1V200.1H486.0zM475.7 200.1H480.8V203.7H475.7zM460.4 203.7H465.5V207.3H460.4zM450.2 207.3H455.3V210.9H450.2zM439.9 210.9H445.0V214.6H439.9zM429.7 214.6H434.8V218.2H429.7zM419.5 218.2H424.6V221.8H419.5zM378.6 265.2H383.7V268.9H378.6zM378.6 268.9H383.7V272.5H378.6zM378.6 272.5H383.7V276.1H378.6zM373.5 319.5H378.6V323.2H373.5zM373.5 323.2H378.6V326.8H373.5zM373.5 326.8H378.6V330.4H373.5zM373.5 330.4H378.6V334.0H373.5zM373.5 334.0H378.6V337.6H373.5zM373.5 337.6H378.6V341.3H373.5zM373.5 341.3H378.6V344.9H373.5zM373.5 344.9H378.6V348.5H373.5zM373.5 348.5H378.6V352.1H373.5zM373.5 352.1H378.6V354.9H373.5z"/><path fill="#4e80c6" d="M281.4 58.9H286.5V62.5H281.4zM204.7 62.5H209.9V66.1H204.7zM567.8 167.5H578.0V171.1H567.8zM542.2 171.1H547.3V174.7H542.2zM526.9 174.7H532.0V178.4H526.9zM511.5 178.4H516.6V182.0H511.5zM455.3 196.5H460.4V200.1H455.3zM445.0 200.1H450.2V203.7H445.0zM434.8 203.7H439.9V207.3H434.8zM424.6 207.3H429.7V210.9H424.6zM378.6 236.3H383.7V239.9H378.6zM373.5 243.5H378.6V247.1H373.5zM368.4 254.4H373.5V258.0H368.4zM363.2 268.9H368.4V272.5H363.2zM363.2 272.5H368.4V276.1H363.2zM358.1 290.6H363.2V294.2H358.1zM358.1 294.2H363.2V297.8H358.1zM358.1 297.8H363.2V301.4H358.1zM353.0 326.8H358.1V330.4H353.0zM353.0 330.4H358.1V334.0H353.0zM353.0 334.0H358.1V337.6H353.0zM353.0 337.6H358.1V341.3H353.0zM353.0 341.3H358.1V344.9H353.0zM353.0 344.9H358.1V348.5H353.0zM353.0 348.5H358.1V352.1H353.0zM353.0 352.1H358.1V354.9H353.0z"/><path fill="#4e81c7" d="M286.5 58.9H296.8V62.5H286.5zM521.7 174.7H526.9V178.4H521.7zM506.4 178.4H511.5V182.0H506.4zM496.2 182.0H501.3V185.6H496.2zM486.0 185.6H491.1V189.2H486.0zM475.7 189.2H480.8V192.8H475.7zM393.9 221.8H399.0V225.4H393.9zM388.8 225.4H393.9V229.0H388.8zM363.2 265.2H368.4V268.9H363.2zM358.1 283.3H363.2V287.0H358.1zM353.0 312.3H358.1V315.9H353.0zM353.0 315.9H358.1V319.5H353.0z"/><path fill="#4f82c7" d="M296.8 58.9H301.9V62.5H296.8zM215.0 62.5H220.1V66.1H215.0zM163.8 66.1H168.9V69.8H163.8zM112.7 73.4H117.8V77.0H112.7zM557.5 167.5H562.6V171.1H557.5zM450.2 196.5H455.3V200.1H450.2zM439.9 200.1H445.0V203.7H439.9zM429.7 203.7H434.8V207.3H429.7zM404.1 214.6H409.3V218.2H404.1zM399.0 218.2H404.1V221.8H399.0zM383.7 229.0H388.8V232.7H383.7zM363.2 261.6H368.4V265.2H363.2zM358.1 276.1H363.2V279.7H358.1zM358.1 279.7H363.2V283.3H358.1zM353.0 301.4H358.1V305.1H353.0zM353.0 305.1H358.1V308.7H353.0z"/><path fill="#4f84c8" d="M301.9 58.9H307.0V62.5H301.9zM572.9 163.9H583.3V167.5H572.9zM547.3 167.5H552.4V171.1H547.3zM526.9 171.1H532.0V174.7H526.9zM511.5 174.7H516.6V178.4H511.5zM501.3 178.4H506.4V182.0H501.3zM491.1 182.0H496.2V185.6H491.1zM480.8 185.6H486.0V189.2H480.8zM409.3 210.9H414.4V214.6H409.3zM363.2 254.4H368.4V258.0H363.2zM358.1 268.9H363.2V272.5H358.1zM353.0 283.3H358.1V287.0H353.0zM353.0 287.0H358.1V290.6H353.0zM347.9 312.3H353.0V315.9H347.9zM347.9 315.9H353.0V319.5H347.9zM347.9 319.5H353.0V323.2H347.9zM347.9 323.2H353.0V326.8H347.9z"/><path fill="#5085c9" d="M307.0 58.9H312.1V62.5H307.0zM542.2 167.5H547.3V171.1H542.2zM455.3 192.8H460.4V196.5H455.3zM414.4 207.3H419.5V210.9H414.4zM393.9 218.2H399.0V221.8H393.9zM388.8 221.8H393.9V225.4H388.8zM383.7 225.4H388.8V229.0H383.7zM373.5 236.3H378.6V239.9H373.5zM353.0 279.7H358.1V283.3H353.0zM347.9 301.4H353.0V305.1H347.9z"/><path fill="#5086c9" d="M312.1 58.9H317.2V62.5H312.1zM225.2 62.5H230.3V66.1H225.2zM168.9 66.1H174.1V69.8H168.9zM92.3 80.6H97.4V84.2H92.3zM557.5 163.9H567.8V167.5H557.5zM537.1 167.5H542.2V171.1H537.1zM521.7 171.1H526.9V174.7H521.7zM506.4 174.7H511.5V178.4H506.4zM496.2 178.4H501.3V182.0H496.2zM486.0 182.0H491.1V185.6H486.0zM475.7 185.6H480.8V189.2H475.7zM465.5 189.2H470.6V192.8H465.5zM399.0 214.6H404.1V218.2H399.0zM378.6 229.0H383.7V232.7H378.6zM363.2 250.8H368.4V254.4H363.2zM358.1 261.6H363.2V265.2H358.1zM353.0 276.1H358.1V279.7H353.0zM347.9 294.2H353.0V297.8H347.9zM347.9 297.8H353.0V301.4H347.9zM342.8 323.2H347.9V326.8H342.8zM342.8 326.8H347.9V330.4H342.8zM342.8 330.4H347.9V334.0H342.8zM342.8 334.0H347.9V337.6H342.8zM342.8 337.6H347.9V341.3H342.8zM342.8 341.3H347.9V344.9H342.8zM342.8 344.9H347.9V348.5H342.8zM342.8 348.5H347.9V352.1H342.8zM342.8 352.1H347.9V354.9H342.8z"/><path fill="#5087c9" d="M317.2 58.9H322.3V62.5H317.2zM429.7 200.1H434.8V203.7H429.7zM404.1 210.9H409.3V214.6H404.1zM368.4 239.9H373.5V243.5H368.4zM358.1 258.0H363.2V261.6H358.1zM353.0 272.5H358.1V276.1H353.0zM347.9 290.6H353.0V294.2H347.9zM342.8 315.9H347.9V319.5H342.8zM342.8 319.5H347.9V323.2H342.8z"/><path fill="#5088ca" d="M322.3 58.9H327.5V62.5H322.3zM174.1 66.1H179.2V69.8H174.1zM138.3 69.8H143.4V73.4H138.3zM532.0 167.5H537.1V171.1H532.0zM470.6 185.6H475.7V189.2H470.6zM460.4 189.2H465.5V192.8H460.4zM409.3 207.3H414.4V210.9H409.3zM373.5 232.7H378.6V236.3H373.5zM358.1 254.4H363.2V258.0H358.1zM347.9 283.3H353.0V287.0H347.9zM342.8 301.4H347.9V305.1H342.8zM342.8 305.1H347.9V308.7H342.8zM337.7 352.1H342.8V354.9H337.7z"/><path fill="#5189cb" d="M327.5 58.9H332.6V62.5H327.5zM117.8 73.4H122.9V77.0H117.8zM572.9 160.3H578.0V163.9H572.9zM526.9 167.5H532.0V171.1H526.9zM511.5 171.1H516.6V174.7H511.5zM434.8 196.5H439.9V200.1H434.8zM424.6 200.1H429.7V203.7H424.6zM393.9 214.6H399.0V218.2H393.9zM378.6 225.4H383.7V229.0H378.6zM368.4 236.3H373.5V239.9H368.4zM363.2 243.5H368.4V247.1H363.2zM353.0 261.6H358.1V265.2H353.0zM347.9 276.1H353.0V279.7H347.9zM342.8 294.2H347.9V297.8H342.8zM337.7 319.5H342.8V323.2H337.7zM337.7 323.2H342.8V326.8H337.7z"/><path fill="#518acb" d="M332.6 58.9H353.0V62.5H332.6zM526.9 58.9H537.1V62.5H526.9zM562.6 160.3H572.9V163.9H562.6zM542.2 163.9H547.3V167.5H542.2zM465.5 185.6H470.6V189.2H465.5zM455.3 189.2H460.4V192.8H455.3zM445.0 192.8H450.2V196.5H445.0zM414.4 203.7H419.5V207.3H414.4zM399.0 210.9H404.1V214.6H399.0zM373.5 229.0H378.6V232.7H373.5zM358.1 250.8H363.2V254.4H358.1zM347.9 272.5H353.0V276.1H347.9zM342.8 287.0H347.9V290.6H342.8zM342.8 290.6H347.9V294.2H342.8zM337.7 308.7H342.8V312.3H337.7zM337.7 312.3H342.8V315.9H337.7zM337.7 315.9H342.8V319.5H337.7z"/><path fill="#518bcb" d="M353.0 58.9H368.4V62.5H353.0zM511.5 58.9H526.9V62.5H511.5zM537.1 58.9H542.2V62.5H537.1zM240.5 62.5H245.6V66.1H240.5zM537.1 163.9H542.2V167.5H537.1zM521.7 167.5H526.9V171.1H521.7zM496.2 174.7H501.3V178.4H496.2zM486.0 178.4H491.1V182.0H486.0zM475.7 182.0H480.8V185.6H475.7zM353.0 258.0H358.1V261.6H353.0zM347.9 268.9H353.0V272.5H347.9zM342.8 283.3H347.9V287.0H342.8zM337.7 305.1H342.8V308.7H337.7z"/><path fill="#518bcc" d="M368.4 58.9H373.5V62.5H368.4zM501.3 58.9H511.5V62.5H501.3zM542.2 58.9H552.4V62.5H542.2zM572.9 58.9H583.3V62.5H572.9zM179.2 66.1H184.3V69.8H179.2zM557.5 160.3H562.6V163.9H557.5zM506.4 171.1H511.5V174.7H506.4zM404.1 207.3H409.3V210.9H404.1zM363.2 239.9H368.4V243.5H363.2zM358.1 247.1H363.2V250.8H358.1zM337.7 301.4H342.8V305.1H337.7zM332.6 334.0H337.7V337.6H332.6zM332.6 337.6H337.7V341.3H332.6zM332.6 341.3H337.7V344.9H332.6zM332.6 344.9H337.7V348.5H332.6zM332.6 348.5H337.7V352.1H332.6zM332.6 352.1H337.7V354.9H332.6z"/><path fill="#528ccc" d="M373.5 58.9H378.6V62.5H373.5zM439.9 58.9H455.3V62.5H439.9zM465.5 58.9H501.3V62.5H465.5zM245.6 62.5H250.8V66.1H245.6zM87.1 84.2H92.3V87.9H87.1zM552.4 160.3H557.5V163.9H552.4zM532.0 163.9H537.1V167.5H532.0zM516.6 167.5H521.7V171.1H516.6zM450.2 189.2H455.3V192.8H450.2zM439.9 192.8H445.0V196.5H439.9zM429.7 196.5H434.8V200.1H429.7zM419.5 200.1H424.6V203.7H419.5zM383.7 218.2H388.8V221.8H383.7zM353.0 254.4H358.1V258.0H353.0zM347.9 265.2H353.0V268.9H347.9zM342.8 276.1H347.9V279.7H342.8zM337.7 294.2H342.8V297.8H337.7zM332.6 315.9H337.7V319.5H332.6zM332.6 319.5H337.7V323.2H332.6zM332.6 323.2H337.7V326.8H332.6zM332.6 326.8H337.7V330.4H332.6z"/><path fill="#528dcc" d="M378.6 58.9H383.7V62.5H378.6zM434.8 58.9H439.9V62.5H434.8zM250.8 62.5H255.9V66.1H250.8zM143.4 69.8H148.5V73.4H143.4zM470.6 182.0H475.7V185.6H470.6zM460.4 185.6H465.5V189.2H460.4zM409.3 203.7H414.4V207.3H409.3zM388.8 214.6H393.9V218.2H388.8zM378.6 221.8H383.7V225.4H378.6zM358.1 243.5H363.2V247.1H358.1zM347.9 261.6H353.0V265.2H347.9zM337.7 290.6H342.8V294.2H337.7zM332.6 312.3H337.7V315.9H332.6z"/><path fill="#528dcd" d="M383.7 58.9H388.8V62.5H383.7zM424.6 58.9H434.8V62.5H424.6zM547.3 160.3H552.4V163.9H547.3zM501.3 171.1H506.4V174.7H501.3zM491.1 174.7H496.2V178.4H491.1zM480.8 178.4H486.0V182.0H480.8zM393.9 210.9H399.0V214.6H393.9zM373.5 225.4H378.6V229.0H373.5zM363.2 236.3H368.4V239.9H363.2zM353.0 250.8H358.1V254.4H353.0zM342.8 272.5H347.9V276.1H342.8zM337.7 287.0H342.8V290.6H337.7zM332.6 305.1H337.7V308.7H332.6zM332.6 308.7H337.7V312.3H332.6z"/><path fill="#528ecd" d="M388.8 58.9H424.6V62.5H388.8zM255.9 62.5H261.0V66.1H255.9zM184.3 66.1H189.4V69.8H184.3zM82.0 87.9H87.1V91.5H82.0zM75.9 91.5H82.0V95.1H75.9zM567.8 156.6H583.3V160.3H567.8zM542.2 160.3H547.3V163.9H542.2zM526.9 163.9H532.0V167.5H526.9zM511.5 167.5H516.6V171.1H511.5zM445.0 189.2H450.2V192.8H445.0zM434.8 192.8H439.9V196.5H434.8zM424.6 196.5H429.7V200.1H424.6zM414.4 200.1H419.5V203.7H414.4zM399.0 207.3H404.1V210.9H399.0zM368.4 229.0H373.5V232.7H368.4zM347.9 258.0H353.0V261.6H347.9zM342.8 268.9H347.9V272.5H342.8zM337.7 283.3H342.8V287.0H337.7zM332.6 297.8H337.7V301.4H332.6zM332.6 301.4H337.7V305.1H332.6zM327.5 326.8H332.6V330.4H327.5zM327.5 330.4H332.6V334.0H327.5zM327.5 334.0H332.6V337.6H327.5zM327.5 337.6H332.6V341.3H327.5zM327.5 341.3H332.6V344.9H327.5zM327.5 344.9H332.6V348.5H327.5zM327.5 348.5H332.6V352.1H327.5zM327.5 352.1H332.6V354.9H327.5z"/><path fill="#518ccc" d="M455.3 58.9H465.5V62.5H455.3zM552.4 58.9H572.9V62.5H552.4zM368.4 232.7H373.5V236.3H368.4zM342.8 279.7H347.9V283.3H342.8zM337.7 297.8H342.8V301.4H337.7zM332.6 330.4H337.7V334.0H332.6z"/><path fill="#4d78c2" d="M184.3 62.5H189.4V66.1H184.3zM87.1 80.6H92.3V84.2H87.1zM75.9 87.9H82.0V91.5H75.9zM572.9 174.7H578.0V178.4H572.9zM547.3 178.4H552.4V182.0H547.3zM532.0 182.0H537.1V185.6H532.0zM511.5 185.6H516.6V189.2H511.5zM491.1 192.8H496.2V196.5H491.1zM480.8 196.5H486.0V200.1H480.8zM470.6 200.1H475.7V203.7H470.6zM404.1 225.4H409.3V229.0H404.1zM399.0 229.0H404.1V232.7H399.0zM393.9 232.7H399.0V236.3H393.9zM383.7 243.5H388.8V247.1H383.7zM378.6 258.0H383.7V261.6H378.6zM378.6 261.6H383.7V265.2H378.6zM373.5 290.6H378.6V294.2H373.5zM373.5 294.2H378.6V297.8H373.5zM373.5 297.8H378.6V301.4H373.5zM373.5 301.4H378.6V305.1H373.5zM373.5 305.1H378.6V308.7H373.5zM373.5 308.7H378.6V312.3H373.5zM373.5 312.3H378.6V315.9H373.5z"/><path fill="#4e82c7" d="M209.9 62.5H215.0V66.1H209.9zM537.1 171.1H542.2V174.7H537.1zM368.4 250.8H373.5V254.4H368.4zM353.0 308.7H358.1V312.3H353.0z"/><path fill="#4f83c8" d="M220.1 62.5H225.2V66.1H220.1zM133.2 69.8H138.3V73.4H133.2zM470.6 189.2H475.7V192.8H470.6zM378.6 232.7H383.7V236.3H378.6zM368.4 247.1H373.5V250.8H368.4zM363.2 258.0H368.4V261.6H363.2zM358.1 272.5H363.2V276.1H358.1zM353.0 290.6H358.1V294.2H353.0zM347.9 326.8H353.0V330.4H347.9zM347.9 330.4H353.0V334.0H347.9zM347.9 334.0H353.0V337.6H347.9z"/><path fill="#5087ca" d="M230.3 62.5H235.4V66.1H230.3zM552.4 163.9H557.5V167.5H552.4zM516.6 171.1H521.7V174.7H516.6zM450.2 192.8H455.3V196.5H450.2zM439.9 196.5H445.0V200.1H439.9zM419.5 203.7H424.6V207.3H419.5zM363.2 247.1H368.4V250.8H363.2zM353.0 268.9H358.1V272.5H353.0zM347.9 287.0H353.0V290.6H347.9zM342.8 308.7H347.9V312.3H342.8zM342.8 312.3H347.9V315.9H342.8z"/><path fill="#5189ca" d="M235.4 62.5H240.5V66.1H235.4zM102.5 77.0H107.6V80.6H102.5zM578.0 160.3H583.3V163.9H578.0zM501.3 174.7H506.4V178.4H501.3zM388.8 218.2H393.9V221.8H388.8zM383.7 221.8H388.8V225.4H383.7zM342.8 297.8H347.9V301.4H342.8zM337.7 326.8H342.8V330.4H337.7zM337.7 330.4H342.8V334.0H337.7zM337.7 334.0H342.8V337.6H337.7zM337.7 337.6H342.8V341.3H337.7z"/><path fill="#5390ce" d="M261.0 62.5H266.1V66.1H261.0zM557.5 156.6H562.6V160.3H557.5zM506.4 167.5H511.5V171.1H506.4zM496.2 171.1H501.3V174.7H496.2zM486.0 174.7H491.1V178.4H486.0zM475.7 178.4H480.8V182.0H475.7zM429.7 192.8H434.8V196.5H429.7zM419.5 196.5H424.6V200.1H419.5zM388.8 210.9H393.9V214.6H388.8zM383.7 214.6H388.8V218.2H383.7zM378.6 218.2H383.7V221.8H378.6zM373.5 221.8H378.6V225.4H373.5zM353.0 243.5H358.1V247.1H353.0zM342.8 261.6H347.9V265.2H342.8zM337.7 272.5H342.8V276.1H337.7zM332.6 287.0H337.7V290.6H332.6zM327.5 305.1H332.6V308.7H327.5zM327.5 308.7H332.6V312.3H327.5zM322.3 341.3H327.5V344.9H322.3zM322.3 344.9H327.5V348.5H322.3zM322.3 348.5H327.5V352.1H322.3zM322.3 352.1H327.5V354.9H322.3z"/><path fill="#5392cf" d="M266.1 62.5H271.2V66.1H266.1zM578.0 153.0H583.3V156.6H578.0zM547.3 156.6H552.4V160.3H547.3zM526.9 160.3H532.0V163.9H526.9zM501.3 167.5H506.4V171.1H501.3zM491.1 171.1H496.2V174.7H491.1zM480.8 174.7H486.0V178.4H480.8zM470.6 178.4H475.7V182.0H470.6zM399.0 203.7H404.1V207.3H399.0zM363.2 229.0H368.4V232.7H363.2zM353.0 239.9H358.1V243.5H353.0zM347.9 247.1H353.0V250.8H347.9zM337.7 265.2H342.8V268.9H337.7zM332.6 276.1H337.7V279.7H332.6zM327.5 290.6H332.6V294.2H327.5zM327.5 294.2H332.6V297.8H327.5zM322.3 312.3H327.5V315.9H322.3zM322.3 315.9H327.5V319.5H322.3zM322.3 319.5H327.5V323.2H322.3z"/><path fill="#5493cf" d="M271.2 62.5H276.3V66.1H271.2zM107.6 77.0H112.7V80.6H107.6zM567.8 153.0H572.9V156.6H567.8zM542.2 156.6H547.3V160.3H542.2zM511.5 163.9H516.6V167.5H511.5zM434.8 189.2H439.9V192.8H434.8zM424.6 192.8H429.7V196.5H424.6zM414.4 196.5H419.5V200.1H414.4zM358.1 232.7H363.2V236.3H358.1zM332.6 272.5H337.7V276.1H332.6zM327.5 287.0H332.6V290.6H327.5zM322.3 305.1H327.5V308.7H322.3zM317.2 344.9H322.3V348.5H317.2zM317.2 348.5H322.3V352.1H317.2zM317.2 352.1H322.3V354.9H317.2z"/><path fill="#5494d0" d="M276.3 62.5H281.4V66.1H276.3zM153.6 69.8H158.7V73.4H153.6zM557.5 153.0H562.6V156.6H557.5zM537.1 156.6H542.2V160.3H537.1zM521.7 160.3H526.9V163.9H521.7zM496.2 167.5H501.3V171.1H496.2zM486.0 171.1H491.1V174.7H486.0zM475.7 174.7H480.8V178.4H475.7zM465.5 178.4H470.6V182.0H465.5zM455.3 182.0H460.4V185.6H455.3zM404.1 200.1H409.3V203.7H404.1zM388.8 207.3H393.9V210.9H388.8zM363.2 225.4H368.4V229.0H363.2zM353.0 236.3H358.1V239.9H353.0zM347.9 243.5H353.0V247.1H347.9zM342.8 250.8H347.9V254.4H342.8zM337.7 258.0H342.8V261.6H337.7zM332.6 268.9H337.7V272.5H332.6zM327.5 279.7H332.6V283.3H327.5zM322.3 294.2H327.5V297.8H322.3zM322.3 297.8H327.5V301.4H322.3zM317.2 315.9H322.3V319.5H317.2zM317.2 319.5H322.3V323.2H317.2zM317.2 323.2H322.3V326.8H317.2zM317.2 326.8H322.3V330.4H317.2z"/><path fill="#5495d0" d="M281.4 62.5H286.5V66.1H281.4zM199.6 66.1H204.7V69.8H199.6zM506.4 163.9H511.5V167.5H506.4zM419.5 192.8H424.6V196.5H419.5zM393.9 203.7H399.0V207.3H393.9zM358.1 229.0H363.2V232.7H358.1zM332.6 265.2H337.7V268.9H332.6zM327.5 276.1H332.6V279.7H327.5zM322.3 290.6H327.5V294.2H322.3zM317.2 312.3H322.3V315.9H317.2z"/><path fill="#5496d1" d="M286.5 62.5H296.8V66.1H286.5zM128.0 73.4H133.2V77.0H128.0zM578.0 149.4H583.3V153.0H578.0zM547.3 153.0H552.4V156.6H547.3zM526.9 156.6H532.0V160.3H526.9zM470.6 174.7H475.7V178.4H470.6zM460.4 178.4H465.5V182.0H460.4zM450.2 182.0H455.3V185.6H450.2zM399.0 200.1H404.1V203.7H399.0zM378.6 210.9H383.7V214.6H378.6zM373.5 214.6H378.6V218.2H373.5zM368.4 218.2H373.5V221.8H368.4zM363.2 221.8H368.4V225.4H363.2zM353.0 232.7H358.1V236.3H353.0zM342.8 243.5H347.9V247.1H342.8zM337.7 250.8H342.8V254.4H337.7zM332.6 261.6H337.7V265.2H332.6zM327.5 268.9H332.6V272.5H327.5zM327.5 272.5H332.6V276.1H327.5zM322.3 283.3H327.5V287.0H322.3zM317.2 297.8H322.3V301.4H317.2zM317.2 301.4H322.3V305.1H317.2zM312.1 319.5H317.2V323.2H312.1zM312.1 323.2H317.2V326.8H312.1zM312.1 326.8H317.2V330.4H312.1zM312.1 330.4H317.2V334.0H312.1zM312.1 334.0H317.2V337.6H312.1z"/><path fill="#5497d1" d="M296.8 62.5H301.9V66.1H296.8zM572.9 149.4H578.0V153.0H572.9zM491.1 167.5H496.2V171.1H491.1zM480.8 171.1H486.0V174.7H480.8zM383.7 207.3H388.8V210.9H383.7zM332.6 258.0H337.7V261.6H332.6zM322.3 279.7H327.5V283.3H322.3zM317.2 294.2H322.3V297.8H317.2zM312.1 315.9H317.2V319.5H312.1z"/><path fill="#5497d2" d="M301.9 62.5H307.0V66.1H301.9zM204.7 66.1H209.9V69.8H204.7zM158.7 69.8H163.8V73.4H158.7zM562.6 149.4H572.9V153.0H562.6zM542.2 153.0H547.3V156.6H542.2zM511.5 160.3H516.6V163.9H511.5zM501.3 163.9H506.4V167.5H501.3zM445.0 182.0H450.2V185.6H445.0zM434.8 185.6H439.9V189.2H434.8zM424.6 189.2H429.7V192.8H424.6zM414.4 192.8H419.5V196.5H414.4zM404.1 196.5H409.3V200.1H404.1zM388.8 203.7H393.9V207.3H388.8zM358.1 225.4H363.2V229.0H358.1zM347.9 236.3H353.0V239.9H347.9zM327.5 265.2H332.6V268.9H327.5zM322.3 276.1H327.5V279.7H322.3zM317.2 290.6H322.3V294.2H317.2zM312.1 308.7H317.2V312.3H312.1zM312.1 312.3H317.2V315.9H312.1zM307.0 348.5H312.1V352.1H307.0zM307.0 352.1H312.1V354.9H307.0z"/><path fill="#5498d2" d="M307.0 62.5H312.1V66.1H307.0zM526.9 62.5H583.3V66.1H526.9zM557.5 149.4H562.6V153.0H557.5zM537.1 153.0H542.2V156.6H537.1zM521.7 156.6H526.9V160.3H521.7zM465.5 174.7H470.6V178.4H465.5zM455.3 178.4H460.4V182.0H455.3zM393.9 200.1H399.0V203.7H393.9zM353.0 229.0H358.1V232.7H353.0zM342.8 239.9H347.9V243.5H342.8zM337.7 247.1H342.8V250.8H337.7zM332.6 254.4H337.7V258.0H332.6zM327.5 261.6H332.6V265.2H327.5zM82.0 265.2H87.1V268.9H82.0zM82.0 268.9H87.1V272.5H82.0zM82.0 272.5H87.1V276.1H82.0zM322.3 272.5H327.5V276.1H322.3zM82.0 276.1H87.1V279.7H82.0zM82.0 279.7H87.1V283.3H82.0zM82.0 283.3H87.1V287.0H82.0zM317.2 283.3H322.3V287.0H317.2zM82.0 287.0H87.1V290.6H82.0zM317.2 287.0H322.3V290.6H317.2zM82.0 290.6H87.1V294.2H82.0zM82.0 294.2H87.1V297.8H82.0zM82.0 297.8H87.1V301.4H82.0zM312.1 297.8H317.2V301.4H312.1zM82.0 301.4H87.1V305.1H82.0zM312.1 301.4H317.2V305.1H312.1zM82.0 305.1H87.1V308.7H82.0zM312.1 305.1H317.2V308.7H312.1zM82.0 308.7H87.1V312.3H82.0zM82.0 312.3H87.1V315.9H82.0zM82.0 315.9H87.1V319.5H82.0zM82.0 319.5H87.1V323.2H82.0zM82.0 323.2H87.1V326.8H82.0zM307.0 323.2H312.1V326.8H307.0zM82.0 326.8H87.1V330.4H82.0zM307.0 326.8H312.1V330.4H307.0zM82.0 330.4H87.1V334.0H82.0zM307.0 330.4H312.1V334.0H307.0zM82.0 334.0H87.1V337.6H82.0zM307.0 334.0H312.1V337.6H307.0zM82.0 337.6H87.1V341.3H82.0zM307.0 337.6H312.1V341.3H307.0zM82.0 341.3H87.1V344.9H82.0zM307.0 341.3H312.1V344.9H307.0zM82.0 344.9H87.1V348.5H82.0zM307.0 344.9H312.1V348.5H307.0zM82.0 348.5H87.1V352.1H82.0zM82.0 352.1H87.1V354.9H82.0z"/><path fill="#5599d3" d="M312.1 62.5H317.2V66.1H312.1zM501.3 62.5H526.9V66.1H501.3zM209.9 66.1H215.0V69.8H209.9zM552.4 149.4H557.5V153.0H552.4zM532.0 153.0H537.1V156.6H532.0zM516.6 156.6H521.7V160.3H516.6zM506.4 160.3H511.5V163.9H506.4zM496.2 163.9H501.3V167.5H496.2zM486.0 167.5H491.1V171.1H486.0zM475.7 171.1H480.8V174.7H475.7zM439.9 182.0H445.0V185.6H439.9zM429.7 185.6H434.8V189.2H429.7zM419.5 189.2H424.6V192.8H419.5zM409.3 192.8H414.4V196.5H409.3zM378.6 207.3H383.7V210.9H378.6zM373.5 210.9H378.6V214.6H373.5zM368.4 214.6H373.5V218.2H368.4zM363.2 218.2H368.4V221.8H363.2zM358.1 221.8H363.2V225.4H358.1zM347.9 232.7H353.0V236.3H347.9zM342.8 236.3H347.9V239.9H342.8zM337.7 243.5H342.8V247.1H337.7zM332.6 250.8H337.7V254.4H332.6zM327.5 258.0H332.6V261.6H327.5zM82.0 261.6H87.1V265.2H82.0zM322.3 268.9H327.5V272.5H322.3zM317.2 276.1H322.3V279.7H317.2zM317.2 279.7H322.3V283.3H317.2zM312.1 290.6H317.2V294.2H312.1zM312.1 294.2H317.2V297.8H312.1zM307.0 308.7H312.1V312.3H307.0zM307.0 312.3H312.1V315.9H307.0zM307.0 315.9H312.1V319.5H307.0zM307.0 319.5H312.1V323.2H307.0z"/><path fill="#559ad4" d="M317.2 62.5H322.3V66.1H317.2zM578.0 145.8H583.3V149.4H578.0zM526.9 153.0H532.0V156.6H526.9zM337.7 239.9H342.8V243.5H337.7zM322.3 261.6H327.5V265.2H322.3zM312.1 283.3H317.2V287.0H312.1zM301.9 323.2H307.0V326.8H301.9z"/><path fill="#559bd4" d="M322.3 62.5H327.5V66.1H322.3zM465.5 62.5H496.2V66.1H465.5zM220.1 66.1H225.2V69.8H220.1zM133.2 73.4H138.3V77.0H133.2zM562.6 145.8H578.0V149.4H562.6zM542.2 149.4H547.3V153.0H542.2zM511.5 156.6H516.6V160.3H511.5zM501.3 160.3H506.4V163.9H501.3zM491.1 163.9H496.2V167.5H491.1zM480.8 167.5H486.0V171.1H480.8zM470.6 171.1H475.7V174.7H470.6zM434.8 182.0H439.9V185.6H434.8zM424.6 185.6H429.7V189.2H424.6zM414.4 189.2H419.5V192.8H414.4zM404.1 192.8H409.3V196.5H404.1zM388.8 200.1H393.9V203.7H388.8zM368.4 210.9H373.5V214.6H368.4zM363.2 214.6H368.4V218.2H363.2zM358.1 218.2H363.2V221.8H358.1zM342.8 232.7H347.9V236.3H342.8zM332.6 243.5H337.7V247.1H332.6zM327.5 250.8H332.6V254.4H327.5zM82.0 258.0H87.1V261.6H82.0zM322.3 258.0H327.5V261.6H322.3zM317.2 268.9H322.3V272.5H317.2zM312.1 279.7H317.2V283.3H312.1zM307.0 290.6H312.1V294.2H307.0zM307.0 294.2H312.1V297.8H307.0zM307.0 297.8H312.1V301.4H307.0zM301.9 308.7H307.0V312.3H301.9zM301.9 312.3H307.0V315.9H301.9zM301.9 315.9H307.0V319.5H301.9zM301.9 319.5H307.0V323.2H301.9z"/><path fill="#559cd4" d="M327.5 62.5H332.6V66.1H327.5zM445.0 62.5H465.5V66.1H445.0zM225.2 66.1H230.3V69.8H225.2zM557.5 145.8H562.6V149.4H557.5zM537.1 149.4H542.2V153.0H537.1zM521.7 153.0H526.9V156.6H521.7zM445.0 178.4H450.2V182.0H445.0zM393.9 196.5H399.0V200.1H393.9zM373.5 207.3H378.6V210.9H373.5zM353.0 221.8H358.1V225.4H353.0zM337.7 236.3H342.8V239.9H337.7zM317.2 265.2H322.3V268.9H317.2zM312.1 276.1H317.2V279.7H312.1zM307.0 287.0H312.1V290.6H307.0zM301.9 305.1H307.0V308.7H301.9zM296.8 334.0H301.9V337.6H296.8zM296.8 337.6H301.9V341.3H296.8zM296.8 341.3H301.9V344.9H296.8zM296.8 344.9H301.9V348.5H296.8zM296.8 348.5H301.9V352.1H296.8zM296.8 352.1H301.9V354.9H296.8z"/><path fill="#559dd5" d="M332.6 62.5H373.5V66.1H332.6zM439.9 62.5H445.0V66.1H439.9zM230.3 66.1H235.4V69.8H230.3zM168.9 69.8H174.1V73.4H168.9zM92.3 84.2H97.4V87.9H92.3zM552.4 145.8H557.5V149.4H552.4zM532.0 149.4H537.1V153.0H532.0zM516.6 153.0H521.7V156.6H516.6zM506.4 156.6H511.5V160.3H506.4zM496.2 160.3H501.3V163.9H496.2zM486.0 163.9H491.1V167.5H486.0zM475.7 167.5H480.8V171.1H475.7zM465.5 171.1H470.6V174.7H465.5zM429.7 182.0H434.8V185.6H429.7zM419.5 185.6H424.6V189.2H419.5zM409.3 189.2H414.4V192.8H409.3zM399.0 192.8H404.1V196.5H399.0zM383.7 200.1H388.8V203.7H383.7zM342.8 229.0H347.9V232.7H342.8zM337.7 232.7H342.8V236.3H337.7zM332.6 239.9H337.7V243.5H332.6zM322.3 250.8H327.5V254.4H322.3zM317.2 261.6H322.3V265.2H317.2zM312.1 268.9H317.2V272.5H312.1zM307.0 279.7H312.1V283.3H307.0zM307.0 283.3H312.1V287.0H307.0zM301.9 294.2H307.0V297.8H301.9zM301.9 297.8H307.0V301.4H301.9zM296.8 312.3H301.9V315.9H296.8zM296.8 315.9H301.9V319.5H296.8zM296.8 319.5H301.9V323.2H296.8zM296.8 323.2H301.9V326.8H296.8z"/><path fill="#559ed5" d="M373.5 62.5H378.6V66.1H373.5zM434.8 62.5H439.9V66.1H434.8zM547.3 145.8H552.4V149.4H547.3zM439.9 178.4H445.0V182.0H439.9zM363.2 210.9H368.4V214.6H363.2zM358.1 214.6H363.2V218.2H358.1zM353.0 218.2H358.1V221.8H353.0zM327.5 243.5H332.6V247.1H327.5zM317.2 258.0H322.3V261.6H317.2zM312.1 265.2H317.2V268.9H312.1zM307.0 276.1H312.1V279.7H307.0zM301.9 290.6H307.0V294.2H301.9zM296.8 305.1H301.9V308.7H296.8zM296.8 308.7H301.9V312.3H296.8zM291.7 344.9H296.8V348.5H291.7zM291.7 348.5H296.8V352.1H291.7zM291.7 352.1H296.8V354.9H291.7z"/><path fill="#559ed6" d="M378.6 62.5H399.0V66.1H378.6zM419.5 62.5H434.8V66.1H419.5zM572.9 142.2H583.3V145.8H572.9zM526.9 149.4H532.0V153.0H526.9zM450.2 174.7H455.3V178.4H450.2zM388.8 196.5H393.9V200.1H388.8zM368.4 207.3H373.5V210.9H368.4zM347.9 221.8H353.0V225.4H347.9zM332.6 236.3H337.7V239.9H332.6zM307.0 272.5H312.1V276.1H307.0zM301.9 287.0H307.0V290.6H301.9zM296.8 301.4H301.9V305.1H296.8zM291.7 326.8H296.8V330.4H291.7zM291.7 330.4H296.8V334.0H291.7zM291.7 334.0H296.8V337.6H291.7zM291.7 337.6H296.8V341.3H291.7zM291.7 341.3H296.8V344.9H291.7z"/><path fill="#559fd6" d="M399.0 62.5H419.5V66.1H399.0zM235.4 66.1H240.5V69.8H235.4zM174.1 69.8H179.2V73.4H174.1zM562.6 142.2H572.9V145.8H562.6zM542.2 145.8H547.3V149.4H542.2zM511.5 153.0H516.6V156.6H511.5zM501.3 156.6H506.4V160.3H501.3zM491.1 160.3H496.2V163.9H491.1zM480.8 163.9H486.0V167.5H480.8zM470.6 167.5H475.7V171.1H470.6zM460.4 171.1H465.5V174.7H460.4zM424.6 182.0H429.7V185.6H424.6zM414.4 185.6H419.5V189.2H414.4zM404.1 189.2H409.3V192.8H404.1zM378.6 200.1H383.7V203.7H378.6zM373.5 203.7H378.6V207.3H373.5zM342.8 225.4H347.9V229.0H342.8zM337.7 229.0H342.8V232.7H337.7zM327.5 239.9H332.6V243.5H327.5zM322.3 247.1H327.5V250.8H322.3zM82.0 254.4H87.1V258.0H82.0zM317.2 254.4H322.3V258.0H317.2zM312.1 261.6H317.2V265.2H312.1zM307.0 268.9H312.1V272.5H307.0zM301.9 279.7H307.0V283.3H301.9zM301.9 283.3H307.0V287.0H301.9zM296.8 294.2H301.9V297.8H296.8zM296.8 297.8H301.9V301.4H296.8zM291.7 312.3H296.8V315.9H291.7zM291.7 315.9H296.8V319.5H291.7zM291.7 319.5H296.8V323.2H291.7zM291.7 323.2H296.8V326.8H291.7z"/><path fill="#559ad3" d="M496.2 62.5H501.3V66.1H496.2zM215.0 66.1H220.1V69.8H215.0zM163.8 69.8H168.9V73.4H163.8zM112.7 77.0H117.8V80.6H112.7zM547.3 149.4H552.4V153.0H547.3zM460.4 174.7H465.5V178.4H460.4zM450.2 178.4H455.3V182.0H450.2zM399.0 196.5H404.1V200.1H399.0zM383.7 203.7H388.8V207.3H383.7zM353.0 225.4H358.1V229.0H353.0zM347.9 229.0H353.0V232.7H347.9zM332.6 247.1H337.7V250.8H332.6zM327.5 254.4H332.6V258.0H327.5zM322.3 265.2H327.5V268.9H322.3zM317.2 272.5H322.3V276.1H317.2zM312.1 287.0H317.2V290.6H312.1zM307.0 301.4H312.1V305.1H307.0zM307.0 305.1H312.1V308.7H307.0zM301.9 326.8H307.0V330.4H301.9zM301.9 330.4H307.0V334.0H301.9zM301.9 334.0H307.0V337.6H301.9zM301.9 337.6H307.0V341.3H301.9zM301.9 341.3H307.0V344.9H301.9zM301.9 344.9H307.0V348.5H301.9zM301.9 348.5H307.0V352.1H301.9zM301.9 352.1H307.0V354.9H301.9z"/><path fill="#4e7fc6" d="M158.7 66.1H163.8V69.8H158.7zM578.0 167.5H583.3V171.1H578.0zM547.3 171.1H552.4V174.7H547.3zM491.1 185.6H496.2V189.2H491.1zM480.8 189.2H486.0V192.8H480.8zM409.3 214.6H414.4V218.2H409.3zM368.4 258.0H373.5V261.6H368.4zM363.2 276.1H368.4V279.7H363.2zM358.1 301.4H363.2V305.1H358.1z"/><path fill="#5391ce" d="M189.4 66.1H194.5V69.8H189.4zM148.5 69.8H153.6V73.4H148.5zM122.9 73.4H128.0V77.0H122.9zM552.4 156.6H557.5V160.3H552.4zM532.0 160.3H537.1V163.9H532.0zM516.6 163.9H521.7V167.5H516.6zM450.2 185.6H455.3V189.2H450.2zM439.9 189.2H445.0V192.8H439.9zM409.3 200.1H414.4V203.7H409.3zM368.4 225.4H373.5V229.0H368.4zM358.1 236.3H363.2V239.9H358.1zM347.9 250.8H353.0V254.4H347.9zM332.6 283.3H337.7V287.0H332.6zM327.5 301.4H332.6V305.1H327.5zM322.3 330.4H327.5V334.0H322.3zM322.3 334.0H327.5V337.6H322.3zM322.3 337.6H327.5V341.3H322.3z"/><path fill="#5493d0" d="M194.5 66.1H199.6V69.8H194.5zM562.6 153.0H567.8V156.6H562.6zM445.0 185.6H450.2V189.2H445.0zM383.7 210.9H388.8V214.6H383.7zM378.6 214.6H383.7V218.2H378.6zM373.5 218.2H378.6V221.8H373.5zM368.4 221.8H373.5V225.4H368.4zM337.7 261.6H342.8V265.2H337.7zM327.5 283.3H332.6V287.0H327.5zM322.3 301.4H327.5V305.1H322.3zM317.2 330.4H322.3V334.0H317.2zM317.2 334.0H322.3V337.6H317.2zM317.2 337.6H322.3V341.3H317.2zM317.2 341.3H322.3V344.9H317.2z"/><path fill="#55a0d7" d="M240.5 66.1H245.6V69.8H240.5zM138.3 73.4H143.4V77.0H138.3zM557.5 142.2H562.6V145.8H557.5zM537.1 145.8H542.2V149.4H537.1zM521.7 149.4H526.9V153.0H521.7zM445.0 174.7H450.2V178.4H445.0zM383.7 196.5H388.8V200.1H383.7zM363.2 207.3H368.4V210.9H363.2zM358.1 210.9H363.2V214.6H358.1zM353.0 214.6H358.1V218.2H353.0zM347.9 218.2H353.0V221.8H347.9zM342.8 221.8H347.9V225.4H342.8zM327.5 236.3H332.6V239.9H327.5zM322.3 243.5H327.5V247.1H322.3zM307.0 265.2H312.1V268.9H307.0zM301.9 272.5H307.0V276.1H301.9zM301.9 276.1H307.0V279.7H301.9zM296.8 287.0H301.9V290.6H296.8zM291.7 301.4H296.8V305.1H291.7zM291.7 305.1H296.8V308.7H291.7zM286.5 326.8H291.7V330.4H286.5zM286.5 330.4H291.7V334.0H286.5zM286.5 334.0H291.7V337.6H286.5zM286.5 337.6H291.7V341.3H286.5zM286.5 341.3H291.7V344.9H286.5zM286.5 344.9H291.7V348.5H286.5zM286.5 348.5H291.7V352.1H286.5zM286.5 352.1H291.7V354.9H286.5z"/><path fill="#55a1d7" d="M245.6 66.1H250.8V69.8H245.6zM117.8 77.0H122.9V80.6H117.8zM102.5 80.6H107.6V84.2H102.5zM552.4 142.2H557.5V145.8H552.4zM532.0 145.8H537.1V149.4H532.0zM516.6 149.4H521.7V153.0H516.6zM506.4 153.0H511.5V156.6H506.4zM496.2 156.6H501.3V160.3H496.2zM486.0 160.3H491.1V163.9H486.0zM475.7 163.9H480.8V167.5H475.7zM465.5 167.5H470.6V171.1H465.5zM455.3 171.1H460.4V174.7H455.3zM429.7 178.4H434.8V182.0H429.7zM419.5 182.0H424.6V185.6H419.5zM409.3 185.6H414.4V189.2H409.3zM399.0 189.2H404.1V192.8H399.0zM368.4 203.7H373.5V207.3H368.4zM337.7 225.4H342.8V229.0H337.7zM332.6 229.0H337.7V232.7H332.6zM322.3 239.9H327.5V243.5H322.3zM317.2 247.1H322.3V250.8H317.2zM312.1 254.4H317.2V258.0H312.1zM307.0 261.6H312.1V265.2H307.0zM301.9 268.9H307.0V272.5H301.9zM296.8 279.7H301.9V283.3H296.8zM296.8 283.3H301.9V287.0H296.8zM291.7 290.6H296.8V294.2H291.7zM291.7 294.2H296.8V297.8H291.7zM291.7 297.8H296.8V301.4H291.7zM286.5 312.3H291.7V315.9H286.5zM286.5 315.9H291.7V319.5H286.5zM286.5 319.5H291.7V323.2H286.5zM286.5 323.2H291.7V326.8H286.5z"/><path fill="#56a2d8" d="M250.8 66.1H261.0V69.8H250.8zM179.2 69.8H184.3V73.4H179.2zM87.1 87.9H92.3V91.5H87.1zM572.9 138.5H583.3V142.2H572.9zM547.3 142.2H552.4V145.8H547.3zM526.9 145.8H532.0V149.4H526.9zM439.9 174.7H445.0V178.4H439.9zM388.8 192.8H393.9V196.5H388.8zM373.5 200.1H378.6V203.7H373.5zM353.0 210.9H358.1V214.6H353.0zM347.9 214.6H353.0V218.2H347.9zM342.8 218.2H347.9V221.8H342.8zM337.7 221.8H342.8V225.4H337.7zM327.5 232.7H332.6V236.3H327.5zM322.3 236.3H327.5V239.9H322.3zM317.2 243.5H322.3V247.1H317.2zM312.1 250.8H317.2V254.4H312.1zM307.0 258.0H312.1V261.6H307.0zM301.9 265.2H307.0V268.9H301.9zM296.8 272.5H301.9V276.1H296.8zM296.8 276.1H301.9V279.7H296.8zM291.7 283.3H296.8V287.0H291.7zM291.7 287.0H296.8V290.6H291.7zM286.5 301.4H291.7V305.1H286.5zM286.5 305.1H291.7V308.7H286.5zM286.5 308.7H291.7V312.3H286.5zM281.4 326.8H286.5V330.4H281.4zM281.4 330.4H286.5V334.0H281.4zM281.4 334.0H286.5V337.6H281.4zM281.4 337.6H286.5V341.3H281.4zM281.4 341.3H286.5V344.9H281.4zM281.4 344.9H286.5V348.5H281.4zM281.4 348.5H286.5V352.1H281.4zM281.4 352.1H286.5V354.9H281.4z"/><path fill="#56a3d9" d="M261.0 66.1H266.1V69.8H261.0zM578.0 66.1H583.3V69.8H578.0zM82.0 91.5H87.1V95.1H82.0zM491.1 156.6H496.2V160.3H491.1zM470.6 163.9H475.7V167.5H470.6zM424.6 178.4H429.7V182.0H424.6zM307.0 250.8H312.1V254.4H307.0zM301.9 258.0H307.0V261.6H301.9zM286.5 290.6H291.7V294.2H286.5zM281.4 308.7H286.5V312.3H281.4z"/><path fill="#56a6da" d="M266.1 66.1H271.2V69.8H266.1zM501.3 66.1H526.9V69.8H501.3zM567.8 134.9H583.3V138.5H567.8zM542.2 138.5H547.3V142.2H542.2zM526.9 142.2H532.0V145.8H526.9zM486.0 156.6H491.1V160.3H486.0zM475.7 160.3H480.8V163.9H475.7zM439.9 171.1H445.0V174.7H439.9zM429.7 174.7H434.8V178.4H429.7zM378.6 192.8H383.7V196.5H378.6zM363.2 200.1H368.4V203.7H363.2zM342.8 210.9H347.9V214.6H342.8zM337.7 214.6H342.8V218.2H337.7zM332.6 218.2H337.7V221.8H332.6zM327.5 221.8H332.6V225.4H327.5zM317.2 232.7H322.3V236.3H317.2zM312.1 236.3H317.2V239.9H312.1zM75.9 243.5H82.0V247.1H75.9zM307.0 243.5H312.1V247.1H307.0zM301.9 247.1H307.0V250.8H301.9zM296.8 254.4H301.9V258.0H296.8zM291.7 261.6H296.8V265.2H291.7zM286.5 268.9H291.7V272.5H286.5zM286.5 272.5H291.7V276.1H286.5zM281.4 279.7H286.5V283.3H281.4zM281.4 283.3H286.5V287.0H281.4zM281.4 287.0H286.5V290.6H281.4zM276.3 294.2H281.4V297.8H276.3zM276.3 297.8H281.4V301.4H276.3zM276.3 301.4H281.4V305.1H276.3zM276.3 305.1H281.4V308.7H276.3zM271.2 319.5H276.3V323.2H271.2zM271.2 323.2H276.3V326.8H271.2zM271.2 326.8H276.3V330.4H271.2zM271.2 330.4H276.3V334.0H271.2zM271.2 334.0H276.3V337.6H271.2zM271.2 337.6H276.3V341.3H271.2zM271.2 341.3H276.3V344.9H271.2zM271.2 344.9H276.3V348.5H271.2zM271.2 348.5H276.3V352.1H271.2zM271.2 352.1H276.3V354.9H271.2z"/><path fill="#56a7da" d="M271.2 66.1H276.3V69.8H271.2zM562.6 134.9H567.8V138.5H562.6zM511.5 145.8H516.6V149.4H511.5zM450.2 167.5H455.3V171.1H450.2zM414.4 178.4H419.5V182.0H414.4zM404.1 182.0H409.3V185.6H404.1zM393.9 185.6H399.0V189.2H393.9zM368.4 196.5H373.5V200.1H368.4zM353.0 203.7H358.1V207.3H353.0zM347.9 207.3H353.0V210.9H347.9zM322.3 225.4H327.5V229.0H322.3zM317.2 229.0H322.3V232.7H317.2zM307.0 239.9H312.1V243.5H307.0zM296.8 250.8H301.9V254.4H296.8zM291.7 258.0H296.8V261.6H291.7zM281.4 276.1H286.5V279.7H281.4zM276.3 290.6H281.4V294.2H276.3zM271.2 308.7H276.3V312.3H271.2zM271.2 312.3H276.3V315.9H271.2zM271.2 315.9H276.3V319.5H271.2z"/><path fill="#56a7db" d="M276.3 66.1H281.4V69.8H276.3zM496.2 66.1H501.3V69.8H496.2zM148.5 73.4H153.6V77.0H148.5zM122.9 77.0H128.0V80.6H122.9zM557.5 134.9H562.6V138.5H557.5zM537.1 138.5H542.2V142.2H537.1zM521.7 142.2H526.9V145.8H521.7zM501.3 149.4H506.4V153.0H501.3zM460.4 163.9H465.5V167.5H460.4zM424.6 174.7H429.7V178.4H424.6zM383.7 189.2H388.8V192.8H383.7zM312.1 232.7H317.2V236.3H312.1zM301.9 243.5H307.0V247.1H301.9zM286.5 265.2H291.7V268.9H286.5zM281.4 272.5H286.5V276.1H281.4zM276.3 283.3H281.4V287.0H276.3zM276.3 287.0H281.4V290.6H276.3zM271.2 301.4H276.3V305.1H271.2zM271.2 305.1H276.3V308.7H271.2zM266.1 337.6H271.2V341.3H266.1zM266.1 341.3H271.2V344.9H266.1zM266.1 344.9H271.2V348.5H266.1zM266.1 348.5H271.2V352.1H266.1zM266.1 352.1H271.2V354.9H266.1z"/><path fill="#56a8db" d="M281.4 66.1H291.7V69.8H281.4zM189.4 69.8H194.5V73.4H189.4zM552.4 134.9H557.5V138.5H552.4zM491.1 153.0H496.2V156.6H491.1zM480.8 156.6H486.0V160.3H480.8zM470.6 160.3H475.7V163.9H470.6zM434.8 171.1H439.9V174.7H434.8zM373.5 192.8H378.6V196.5H373.5zM358.1 200.1H363.2V203.7H358.1zM337.7 210.9H342.8V214.6H337.7zM332.6 214.6H337.7V218.2H332.6zM327.5 218.2H332.6V221.8H327.5zM322.3 221.8H327.5V225.4H322.3zM307.0 236.3H312.1V239.9H307.0zM296.8 247.1H301.9V250.8H296.8zM291.7 254.4H296.8V258.0H291.7zM286.5 261.6H291.7V265.2H286.5zM281.4 268.9H286.5V272.5H281.4zM276.3 279.7H281.4V283.3H276.3zM271.2 294.2H276.3V297.8H271.2zM271.2 297.8H276.3V301.4H271.2zM266.1 319.5H271.2V323.2H266.1zM266.1 323.2H271.2V326.8H266.1zM266.1 326.8H271.2V330.4H266.1zM266.1 330.4H271.2V334.0H266.1zM266.1 334.0H271.2V337.6H266.1z"/><path fill="#57a8db" d="M291.7 66.1H301.9V69.8H291.7zM475.7 66.1H496.2V69.8H475.7zM532.0 138.5H537.1V142.2H532.0zM409.3 178.4H414.4V182.0H409.3zM399.0 182.0H404.1V185.6H399.0zM388.8 185.6H393.9V189.2H388.8zM363.2 196.5H368.4V200.1H363.2zM342.8 207.3H347.9V210.9H342.8zM317.2 225.4H322.3V229.0H317.2zM312.1 229.0H317.2V232.7H312.1zM301.9 239.9H307.0V243.5H301.9zM291.7 250.8H296.8V254.4H291.7zM286.5 258.0H291.7V261.6H286.5zM281.4 265.2H286.5V268.9H281.4zM276.3 276.1H281.4V279.7H276.3zM271.2 290.6H276.3V294.2H271.2zM266.1 308.7H271.2V312.3H266.1zM266.1 312.3H271.2V315.9H266.1zM266.1 315.9H271.2V319.5H266.1z"/><path fill="#57a9db" d="M301.9 66.1H307.0V69.8H301.9zM470.6 66.1H475.7V69.8H470.6zM194.5 69.8H199.6V73.4H194.5zM547.3 134.9H552.4V138.5H547.3zM516.6 142.2H521.7V145.8H516.6zM506.4 145.8H511.5V149.4H506.4zM455.3 163.9H460.4V167.5H455.3zM445.0 167.5H450.2V171.1H445.0zM419.5 174.7H424.6V178.4H419.5zM378.6 189.2H383.7V192.8H378.6zM347.9 203.7H353.0V207.3H347.9zM307.0 232.7H312.1V236.3H307.0zM296.8 243.5H301.9V247.1H296.8zM286.5 254.4H291.7V258.0H286.5zM276.3 272.5H281.4V276.1H276.3zM271.2 283.3H276.3V287.0H271.2zM271.2 287.0H276.3V290.6H271.2zM266.1 301.4H271.2V305.1H266.1zM266.1 305.1H271.2V308.7H266.1zM261.0 344.9H266.1V348.5H261.0zM261.0 348.5H266.1V352.1H261.0zM261.0 352.1H266.1V354.9H261.0z"/><path fill="#57a9dc" d="M307.0 66.1H312.1V69.8H307.0zM465.5 66.1H470.6V69.8H465.5zM107.6 80.6H112.7V84.2H107.6zM572.9 131.3H583.3V134.9H572.9zM526.9 138.5H532.0V142.2H526.9zM496.2 149.4H501.3V153.0H496.2zM465.5 160.3H470.6V163.9H465.5zM429.7 171.1H434.8V174.7H429.7zM368.4 192.8H373.5V196.5H368.4zM353.0 200.1H358.1V203.7H353.0zM332.6 210.9H337.7V214.6H332.6zM327.5 214.6H332.6V218.2H327.5zM322.3 218.2H327.5V221.8H322.3zM317.2 221.8H322.3V225.4H317.2zM301.9 236.3H307.0V239.9H301.9zM296.8 239.9H301.9V243.5H296.8zM291.7 247.1H296.8V250.8H291.7zM281.4 261.6H286.5V265.2H281.4zM276.3 268.9H281.4V272.5H276.3zM271.2 279.7H276.3V283.3H271.2zM266.1 294.2H271.2V297.8H266.1zM266.1 297.8H271.2V301.4H266.1zM261.0 323.2H266.1V326.8H261.0zM261.0 326.8H266.1V330.4H261.0zM261.0 330.4H266.1V334.0H261.0zM261.0 334.0H266.1V337.6H261.0zM261.0 337.6H266.1V341.3H261.0zM261.0 341.3H266.1V344.9H261.0z"/><path fill="#57aadc" d="M312.1 66.1H317.2V69.8H312.1zM460.4 66.1H465.5V69.8H460.4zM199.6 69.8H204.7V73.4H199.6zM562.6 131.3H572.9V134.9H562.6zM542.2 134.9H547.3V138.5H542.2zM511.5 142.2H516.6V145.8H511.5zM486.0 153.0H491.1V156.6H486.0zM475.7 156.6H480.8V160.3H475.7zM439.9 167.5H445.0V171.1H439.9zM414.4 174.7H419.5V178.4H414.4zM404.1 178.4H409.3V182.0H404.1zM393.9 182.0H399.0V185.6H393.9zM383.7 185.6H388.8V189.2H383.7zM373.5 189.2H378.6V192.8H373.5zM358.1 196.5H363.2V200.1H358.1zM342.8 203.7H347.9V207.3H342.8zM337.7 207.3H342.8V210.9H337.7zM312.1 225.4H317.2V229.0H312.1zM307.0 229.0H312.1V232.7H307.0zM301.9 232.7H307.0V236.3H301.9zM296.8 236.3H301.9V239.9H296.8zM291.7 243.5H296.8V247.1H291.7zM286.5 247.1H291.7V250.8H286.5zM286.5 250.8H291.7V254.4H286.5zM281.4 254.4H286.5V258.0H281.4zM281.4 258.0H286.5V261.6H281.4zM276.3 261.6H281.4V265.2H276.3zM276.3 265.2H281.4V268.9H276.3zM271.2 272.5H276.3V276.1H271.2zM271.2 276.1H276.3V279.7H271.2zM266.1 283.3H271.2V287.0H266.1zM266.1 287.0H271.2V290.6H266.1zM266.1 290.6H271.2V294.2H266.1zM261.0 301.4H266.1V305.1H261.0zM261.0 305.1H266.1V308.7H261.0zM261.0 308.7H266.1V312.3H261.0zM261.0 312.3H266.1V315.9H261.0zM261.0 315.9H266.1V319.5H261.0zM261.0 319.5H266.1V323.2H261.0z"/><path fill="#58acdd" d="M317.2 66.1H322.3V69.8H317.2zM204.7 69.8H209.9V73.4H204.7zM158.7 73.4H163.8V77.0H158.7zM128.0 77.0H133.2V80.6H128.0zM572.9 127.7H583.3V131.3H572.9zM547.3 131.3H552.4V134.9H547.3zM445.0 163.9H450.2V167.5H445.0zM419.5 171.1H424.6V174.7H419.5zM358.1 192.8H363.2V196.5H358.1zM342.8 200.1H347.9V203.7H342.8zM327.5 207.3H332.6V210.9H327.5zM322.3 210.9H327.5V214.6H322.3zM317.2 214.6H322.3V218.2H317.2zM312.1 218.2H317.2V221.8H312.1zM307.0 221.8H312.1V225.4H307.0zM301.9 225.4H307.0V229.0H301.9zM296.8 229.0H301.9V232.7H296.8zM286.5 239.9H291.7V243.5H286.5zM281.4 243.5H286.5V247.1H281.4zM276.3 250.8H281.4V254.4H276.3zM271.2 258.0H276.3V261.6H271.2zM266.1 265.2H271.2V268.9H266.1zM261.0 276.1H266.1V279.7H261.0zM261.0 279.7H266.1V283.3H261.0zM255.9 294.2H261.0V297.8H255.9zM255.9 297.8H261.0V301.4H255.9zM250.8 323.2H255.9V326.8H250.8zM250.8 326.8H255.9V330.4H250.8zM250.8 330.4H255.9V334.0H250.8zM250.8 334.0H255.9V337.6H250.8zM250.8 337.6H255.9V341.3H250.8zM250.8 341.3H255.9V344.9H250.8zM250.8 344.9H255.9V348.5H250.8zM250.8 348.5H255.9V352.1H250.8zM250.8 352.1H255.9V354.9H250.8z"/><path fill="#58addd" d="M322.3 66.1H327.5V69.8H322.3zM567.8 127.7H572.9V131.3H567.8zM542.2 131.3H547.3V134.9H542.2zM526.9 134.9H532.0V138.5H526.9zM496.2 145.8H501.3V149.4H496.2zM455.3 160.3H460.4V163.9H455.3zM347.9 196.5H353.0V200.1H347.9zM332.6 203.7H337.7V207.3H332.6zM291.7 232.7H296.8V236.3H291.7zM286.5 236.3H291.7V239.9H286.5zM276.3 247.1H281.4V250.8H276.3zM271.2 254.4H276.3V258.0H271.2zM266.1 261.6H271.2V265.2H266.1zM261.0 272.5H266.1V276.1H261.0zM255.9 287.0H261.0V290.6H255.9zM255.9 290.6H261.0V294.2H255.9zM250.8 308.7H255.9V312.3H250.8zM250.8 312.3H255.9V315.9H250.8zM250.8 315.9H255.9V319.5H250.8zM250.8 319.5H255.9V323.2H250.8z"/><path fill="#58adde" d="M327.5 66.1H373.5V69.8H327.5zM434.8 66.1H439.9V69.8H434.8zM562.6 127.7H567.8V131.3H562.6zM511.5 138.5H516.6V142.2H511.5zM486.0 149.4H491.1V153.0H486.0zM465.5 156.6H470.6V160.3H465.5zM429.7 167.5H434.8V171.1H429.7zM404.1 174.7H409.3V178.4H404.1zM393.9 178.4H399.0V182.0H393.9zM383.7 182.0H388.8V185.6H383.7zM373.5 185.6H378.6V189.2H373.5zM363.2 189.2H368.4V192.8H363.2zM337.7 200.1H342.8V203.7H337.7zM317.2 210.9H322.3V214.6H317.2zM312.1 214.6H317.2V218.2H312.1zM307.0 218.2H312.1V221.8H307.0zM301.9 221.8H307.0V225.4H301.9zM296.8 225.4H301.9V229.0H296.8zM281.4 239.9H286.5V243.5H281.4zM82.0 247.1H87.1V250.8H82.0zM271.2 250.8H276.3V254.4H271.2zM266.1 258.0H271.2V261.6H266.1zM261.0 268.9H266.1V272.5H261.0zM255.9 279.7H261.0V283.3H255.9zM255.9 283.3H261.0V287.0H255.9zM250.8 297.8H255.9V301.4H250.8zM250.8 301.4H255.9V305.1H250.8zM250.8 305.1H255.9V308.7H250.8z"/><path fill="#58aede" d="M373.5 66.1H434.8V69.8H373.5zM209.9 69.8H220.1V73.4H209.9zM578.0 69.8H583.3V73.4H578.0zM552.4 127.7H562.6V131.3H552.4zM537.1 131.3H542.2V134.9H537.1zM521.7 134.9H526.9V138.5H521.7zM501.3 142.2H506.4V145.8H501.3zM475.7 153.0H480.8V156.6H475.7zM439.9 163.9H445.0V167.5H439.9zM414.4 171.1H419.5V174.7H414.4zM353.0 192.8H358.1V196.5H353.0zM342.8 196.5H347.9V200.1H342.8zM327.5 203.7H332.6V207.3H327.5zM322.3 207.3H327.5V210.9H322.3zM301.9 218.2H307.0V221.8H301.9zM291.7 229.0H296.8V232.7H291.7zM286.5 232.7H291.7V236.3H286.5zM281.4 236.3H286.5V239.9H281.4zM276.3 239.9H281.4V243.5H276.3zM276.3 243.5H281.4V247.1H276.3zM271.2 247.1H276.3V250.8H271.2zM266.1 250.8H271.2V254.4H266.1zM266.1 254.4H271.2V258.0H266.1zM261.0 258.0H266.1V261.6H261.0zM261.0 261.6H266.1V265.2H261.0zM261.0 265.2H266.1V268.9H261.0zM255.9 268.9H261.0V272.5H255.9zM255.9 272.5H261.0V276.1H255.9zM255.9 276.1H261.0V279.7H255.9zM250.8 283.3H255.9V287.0H250.8zM250.8 287.0H255.9V290.6H250.8zM250.8 290.6H255.9V294.2H250.8zM250.8 294.2H255.9V297.8H250.8zM245.6 308.7H250.8V312.3H245.6zM245.6 312.3H250.8V315.9H245.6zM245.6 315.9H250.8V319.5H245.6zM245.6 319.5H250.8V323.2H245.6zM245.6 323.2H250.8V326.8H245.6zM245.6 326.8H250.8V330.4H245.6zM245.6 330.4H250.8V334.0H245.6zM245.6 334.0H250.8V337.6H245.6zM245.6 337.6H250.8V341.3H245.6zM245.6 341.3H250.8V344.9H245.6zM245.6 344.9H250.8V348.5H245.6zM245.6 348.5H250.8V352.1H245.6zM245.6 352.1H250.8V354.9H245.6z"/><path fill="#57abdd" d="M439.9 66.1H445.0V69.8H439.9zM97.4 84.2H102.5V87.9H97.4zM552.4 131.3H557.5V134.9H552.4zM491.1 149.4H496.2V153.0H491.1zM470.6 156.6H475.7V160.3H470.6zM460.4 160.3H465.5V163.9H460.4zM353.0 196.5H358.1V200.1H353.0zM332.6 207.3H337.7V210.9H332.6zM301.9 229.0H307.0V232.7H301.9zM296.8 232.7H301.9V236.3H296.8zM286.5 243.5H291.7V247.1H286.5zM271.2 265.2H276.3V268.9H271.2zM266.1 272.5H271.2V276.1H266.1zM266.1 276.1H271.2V279.7H266.1zM261.0 287.0H266.1V290.6H261.0zM261.0 290.6H266.1V294.2H261.0zM255.9 312.3H261.0V315.9H255.9zM255.9 315.9H261.0V319.5H255.9zM255.9 319.5H261.0V323.2H255.9z"/><path fill="#57abdc" d="M445.0 66.1H460.4V69.8H445.0zM153.6 73.4H158.7V77.0H153.6zM557.5 131.3H562.6V134.9H557.5zM537.1 134.9H542.2V138.5H537.1zM521.7 138.5H526.9V142.2H521.7zM501.3 145.8H506.4V149.4H501.3zM450.2 163.9H455.3V167.5H450.2zM424.6 171.1H429.7V174.7H424.6zM363.2 192.8H368.4V196.5H363.2zM347.9 200.1H353.0V203.7H347.9zM327.5 210.9H332.6V214.6H327.5zM322.3 214.6H327.5V218.2H322.3zM317.2 218.2H322.3V221.8H317.2zM312.1 221.8H317.2V225.4H312.1zM307.0 225.4H312.1V229.0H307.0zM291.7 239.9H296.8V243.5H291.7zM281.4 250.8H286.5V254.4H281.4zM276.3 258.0H281.4V261.6H276.3zM271.2 268.9H276.3V272.5H271.2zM266.1 279.7H271.2V283.3H266.1zM261.0 294.2H266.1V297.8H261.0zM261.0 297.8H266.1V301.4H261.0zM255.9 323.2H261.0V326.8H255.9zM255.9 326.8H261.0V330.4H255.9zM255.9 330.4H261.0V334.0H255.9zM255.9 334.0H261.0V337.6H255.9zM255.9 337.6H261.0V341.3H255.9zM255.9 341.3H261.0V344.9H255.9zM255.9 344.9H261.0V348.5H255.9zM255.9 348.5H261.0V352.1H255.9zM255.9 352.1H261.0V354.9H255.9z"/><path fill="#56a5d9" d="M526.9 66.1H532.0V69.8H526.9zM143.4 73.4H148.5V77.0H143.4zM532.0 142.2H537.1V145.8H532.0zM506.4 149.4H511.5V153.0H506.4zM455.3 167.5H460.4V171.1H455.3zM409.3 182.0H414.4V185.6H409.3zM399.0 185.6H404.1V189.2H399.0zM373.5 196.5H378.6V200.1H373.5zM353.0 207.3H358.1V210.9H353.0zM327.5 225.4H332.6V229.0H327.5zM312.1 239.9H317.2V243.5H312.1zM291.7 268.9H296.8V272.5H291.7zM286.5 279.7H291.7V283.3H286.5zM281.4 294.2H286.5V297.8H281.4zM276.3 312.3H281.4V315.9H276.3zM276.3 315.9H281.4V319.5H276.3zM276.3 319.5H281.4V323.2H276.3z"/><path fill="#56a4d9" d="M532.0 66.1H578.0V69.8H532.0zM184.3 69.8H189.4V73.4H184.3zM552.4 138.5H562.6V142.2H552.4zM537.1 142.2H542.2V145.8H537.1zM521.7 145.8H526.9V149.4H521.7zM480.8 160.3H486.0V163.9H480.8zM445.0 171.1H450.2V174.7H445.0zM434.8 174.7H439.9V178.4H434.8zM383.7 192.8H388.8V196.5H383.7zM368.4 200.1H373.5V203.7H368.4zM347.9 210.9H353.0V214.6H347.9zM342.8 214.6H347.9V218.2H342.8zM337.7 218.2H342.8V221.8H337.7zM332.6 221.8H337.7V225.4H332.6zM322.3 232.7H327.5V236.3H322.3zM317.2 236.3H322.3V239.9H317.2zM312.1 243.5H317.2V247.1H312.1zM307.0 247.1H312.1V250.8H307.0zM301.9 254.4H307.0V258.0H301.9zM296.8 261.6H301.9V265.2H296.8zM296.8 265.2H301.9V268.9H296.8zM291.7 272.5H296.8V276.1H291.7zM291.7 276.1H296.8V279.7H291.7zM286.5 283.3H291.7V287.0H286.5zM286.5 287.0H291.7V290.6H286.5zM281.4 297.8H286.5V301.4H281.4zM281.4 301.4H286.5V305.1H281.4zM281.4 305.1H286.5V308.7H281.4zM276.3 323.2H281.4V326.8H276.3zM276.3 326.8H281.4V330.4H276.3zM276.3 330.4H281.4V334.0H276.3zM276.3 334.0H281.4V337.6H276.3zM276.3 337.6H281.4V341.3H276.3zM276.3 341.3H281.4V344.9H276.3zM276.3 344.9H281.4V348.5H276.3zM276.3 348.5H281.4V352.1H276.3zM276.3 352.1H281.4V354.9H276.3z"/><path fill="#58afde" d="M220.1 69.8H230.3V73.4H220.1zM537.1 69.8H578.0V73.4H537.1zM112.7 80.6H117.8V84.2H112.7zM75.9 98.7H82.0V102.3H75.9zM532.0 131.3H537.1V134.9H532.0zM460.4 156.6H465.5V160.3H460.4zM450.2 160.3H455.3V163.9H450.2zM424.6 167.5H429.7V171.1H424.6zM399.0 174.7H404.1V178.4H399.0zM388.8 178.4H393.9V182.0H388.8zM378.6 182.0H383.7V185.6H378.6zM368.4 185.6H373.5V189.2H368.4zM358.1 189.2H363.2V192.8H358.1zM332.6 200.1H337.7V203.7H332.6zM317.2 207.3H322.3V210.9H317.2zM312.1 210.9H317.2V214.6H312.1zM307.0 214.6H312.1V218.2H307.0zM296.8 221.8H301.9V225.4H296.8zM291.7 225.4H296.8V229.0H291.7zM286.5 229.0H291.7V232.7H286.5zM281.4 232.7H286.5V236.3H281.4zM271.2 243.5H276.3V247.1H271.2zM261.0 254.4H266.1V258.0H261.0zM255.9 265.2H261.0V268.9H255.9zM250.8 276.1H255.9V279.7H250.8zM250.8 279.7H255.9V283.3H250.8zM245.6 294.2H250.8V297.8H245.6zM245.6 297.8H250.8V301.4H245.6zM245.6 301.4H250.8V305.1H245.6zM245.6 305.1H250.8V308.7H245.6z"/><path fill="#58b0df" d="M230.3 69.8H235.4V73.4H230.3zM163.8 73.4H168.9V77.0H163.8zM133.2 77.0H138.3V80.6H133.2zM567.8 124.1H578.0V127.7H567.8zM526.9 131.3H532.0V134.9H526.9zM480.8 149.4H486.0V153.0H480.8zM434.8 163.9H439.9V167.5H434.8zM373.5 182.0H378.6V185.6H373.5zM363.2 185.6H368.4V189.2H363.2zM327.5 200.1H332.6V203.7H327.5zM312.1 207.3H317.2V210.9H312.1zM307.0 210.9H312.1V214.6H307.0zM301.9 214.6H307.0V218.2H301.9zM296.8 218.2H301.9V221.8H296.8zM291.7 221.8H296.8V225.4H291.7zM286.5 225.4H291.7V229.0H286.5zM281.4 229.0H286.5V232.7H281.4zM276.3 232.7H281.4V236.3H276.3zM266.1 243.5H271.2V247.1H266.1zM255.9 254.4H261.0V258.0H255.9zM255.9 258.0H261.0V261.6H255.9zM250.8 265.2H255.9V268.9H250.8zM245.6 279.7H250.8V283.3H245.6zM245.6 283.3H250.8V287.0H245.6zM240.5 305.1H245.6V308.7H240.5zM240.5 308.7H245.6V312.3H240.5zM240.5 312.3H245.6V315.9H240.5zM240.5 315.9H245.6V319.5H240.5zM240.5 319.5H245.6V323.2H240.5z"/><path fill="#59b4e1" d="M235.4 69.8H261.0V73.4H235.4zM82.0 95.1H87.1V98.7H82.0zM496.2 138.5H501.3V142.2H496.2zM480.8 145.8H486.0V149.4H480.8zM434.8 160.3H439.9V163.9H434.8zM419.5 163.9H424.6V167.5H419.5zM393.9 171.1H399.0V174.7H393.9zM358.1 182.0H363.2V185.6H358.1zM347.9 185.6H353.0V189.2H347.9zM312.1 196.5H317.2V200.1H312.1zM307.0 200.1H312.1V203.7H307.0zM281.4 214.6H286.5V218.2H281.4zM255.9 229.0H261.0V232.7H255.9zM250.8 232.7H255.9V236.3H250.8zM245.6 239.9H250.8V243.5H245.6zM240.5 243.5H245.6V247.1H240.5zM235.4 250.8H240.5V254.4H235.4zM235.4 254.4H240.5V258.0H235.4zM230.3 261.6H235.4V265.2H230.3zM230.3 265.2H235.4V268.9H230.3zM230.3 268.9H235.4V272.5H230.3zM225.2 305.1H230.3V308.7H225.2zM225.2 308.7H230.3V312.3H225.2zM225.2 312.3H230.3V315.9H225.2zM225.2 315.9H230.3V319.5H225.2zM225.2 319.5H230.3V323.2H225.2zM225.2 323.2H230.3V326.8H225.2zM225.2 326.8H230.3V330.4H225.2zM225.2 330.4H230.3V334.0H225.2zM225.2 334.0H230.3V337.6H225.2zM225.2 337.6H230.3V341.3H225.2zM225.2 341.3H230.3V344.9H225.2zM225.2 344.9H230.3V348.5H225.2zM225.2 348.5H230.3V352.1H225.2zM225.2 352.1H230.3V354.9H225.2z"/><path fill="#5ab4e1" d="M261.0 69.8H266.1V73.4H261.0zM557.5 120.4H562.6V124.1H557.5zM537.1 124.1H542.2V127.7H537.1zM521.7 127.7H526.9V131.3H521.7zM501.3 134.9H506.4V138.5H501.3zM445.0 156.6H450.2V160.3H445.0zM404.1 167.5H409.3V171.1H404.1zM368.4 178.4H373.5V182.0H368.4zM332.6 189.2H337.7V192.8H332.6zM322.3 192.8H327.5V196.5H322.3zM296.8 203.7H301.9V207.3H296.8zM291.7 207.3H296.8V210.9H291.7zM286.5 210.9H291.7V214.6H286.5zM276.3 214.6H281.4V218.2H276.3zM271.2 218.2H276.3V221.8H271.2zM266.1 221.8H271.2V225.4H266.1zM261.0 225.4H266.1V229.0H261.0zM245.6 236.3H250.8V239.9H245.6zM75.9 239.9H82.0V243.5H75.9zM240.5 239.9H245.6V243.5H240.5zM235.4 247.1H240.5V250.8H235.4zM230.3 254.4H235.4V258.0H230.3zM230.3 258.0H235.4V261.6H230.3zM225.2 272.5H230.3V276.1H225.2zM225.2 276.1H230.3V279.7H225.2zM225.2 279.7H230.3V283.3H225.2zM225.2 283.3H230.3V287.0H225.2zM225.2 287.0H230.3V290.6H225.2zM225.2 290.6H230.3V294.2H225.2zM225.2 294.2H230.3V297.8H225.2zM225.2 297.8H230.3V301.4H225.2zM225.2 301.4H230.3V305.1H225.2z"/><path fill="#5ab7e2" d="M266.1 69.8H271.2V73.4H266.1zM179.2 73.4H189.4V77.0H179.2zM480.8 142.2H486.0V145.8H480.8zM470.6 145.8H475.7V149.4H470.6zM434.8 156.6H439.9V160.3H434.8zM419.5 160.3H424.6V163.9H419.5zM393.9 167.5H399.0V171.1H393.9zM255.9 218.2H261.0V221.8H255.9zM235.4 229.0H240.5V232.7H235.4zM220.1 243.5H225.2V247.1H220.1z"/><path fill="#5bb8e2" d="M271.2 69.8H317.2V73.4H271.2zM434.8 69.8H439.9V73.4H434.8zM189.4 73.4H194.5V77.0H189.4zM526.9 73.4H532.0V77.0H526.9zM122.9 80.6H128.0V84.2H122.9zM552.4 116.8H557.5V120.4H552.4zM516.6 124.1H521.7V127.7H516.6zM491.1 134.9H496.2V138.5H491.1zM475.7 142.2H480.8V145.8H475.7zM465.5 145.8H470.6V149.4H465.5zM450.2 149.4H455.3V153.0H450.2zM439.9 153.0H445.0V156.6H439.9zM424.6 156.6H434.8V160.3H424.6zM414.4 160.3H419.5V163.9H414.4zM399.0 163.9H404.1V167.5H399.0zM388.8 167.5H393.9V171.1H388.8zM373.5 171.1H378.6V174.7H373.5zM363.2 174.7H368.4V178.4H363.2zM337.7 182.0H342.8V185.6H337.7zM327.5 185.6H332.6V189.2H327.5zM301.9 192.8H307.0V196.5H301.9zM266.1 210.9H271.2V214.6H266.1zM250.8 218.2H255.9V221.8H250.8zM87.1 254.4H92.3V258.0H87.1zM215.0 254.4H220.1V258.0H215.0zM87.1 258.0H92.3V261.6H87.1zM215.0 258.0H220.1V261.6H215.0zM87.1 261.6H92.3V265.2H87.1zM215.0 261.6H220.1V265.2H215.0zM87.1 265.2H92.3V268.9H87.1zM87.1 268.9H92.3V272.5H87.1zM87.1 272.5H92.3V276.1H87.1zM87.1 276.1H92.3V279.7H87.1zM87.1 279.7H92.3V283.3H87.1zM87.1 283.3H92.3V287.0H87.1zM87.1 290.6H92.3V294.2H87.1zM87.1 294.2H92.3V297.8H87.1zM87.1 297.8H92.3V301.4H87.1zM87.1 301.4H92.3V305.1H87.1zM87.1 312.3H92.3V315.9H87.1zM87.1 315.9H92.3V319.5H87.1zM87.1 319.5H92.3V323.2H87.1zM87.1 323.2H92.3V326.8H87.1zM87.1 334.0H92.3V337.6H87.1zM87.1 337.6H92.3V341.3H87.1zM87.1 341.3H92.3V344.9H87.1zM87.1 344.9H92.3V348.5H87.1z"/><path fill="#5cbae2" d="M317.2 69.8H322.3V73.4H317.2zM332.6 69.8H378.6V73.4H332.6zM194.5 73.4H199.6V77.0H194.5zM153.6 77.0H158.7V80.6H153.6zM97.4 87.9H102.5V91.5H97.4zM567.8 113.2H572.9V116.8H567.8zM542.2 116.8H547.3V120.4H542.2zM486.0 134.9H491.1V138.5H486.0zM465.5 142.2H470.6V145.8H465.5zM455.3 145.8H460.4V149.4H455.3zM429.7 153.0H434.8V156.6H429.7zM404.1 160.3H409.3V163.9H404.1zM378.6 167.5H383.7V171.1H378.6zM332.6 182.0H337.7V185.6H332.6zM286.5 200.1H291.7V203.7H286.5zM245.6 218.2H250.8V221.8H245.6zM230.3 229.0H235.4V232.7H230.3zM225.2 232.7H230.3V236.3H225.2zM209.9 279.7H215.0V283.3H209.9zM209.9 283.3H215.0V287.0H209.9zM209.9 287.0H215.0V290.6H209.9zM209.9 290.6H215.0V294.2H209.9zM209.9 294.2H215.0V297.8H209.9zM209.9 297.8H215.0V301.4H209.9zM209.9 301.4H215.0V305.1H209.9zM209.9 305.1H215.0V308.7H209.9z"/><path fill="#5dbae3" d="M322.3 69.8H332.6V73.4H322.3zM199.6 73.4H204.7V77.0H199.6zM486.0 73.4H496.2V77.0H486.0zM578.0 77.0H583.3V80.6H578.0zM562.6 113.2H567.8V116.8H562.6zM521.7 120.4H526.9V124.1H521.7zM491.1 131.3H496.2V134.9H491.1zM475.7 138.5H480.8V142.2H475.7zM439.9 149.4H445.0V153.0H439.9zM414.4 156.6H419.5V160.3H414.4zM388.8 163.9H393.9V167.5H388.8zM353.0 174.7H358.1V178.4H353.0zM342.8 178.4H347.9V182.0H342.8zM317.2 185.6H322.3V189.2H317.2zM291.7 196.5H296.8V200.1H291.7zM276.3 203.7H281.4V207.3H276.3zM261.0 210.9H266.1V214.6H261.0zM87.1 250.8H92.3V254.4H87.1zM209.9 265.2H215.0V268.9H209.9zM209.9 268.9H215.0V272.5H209.9zM209.9 272.5H215.0V276.1H209.9zM209.9 276.1H215.0V279.7H209.9z"/><path fill="#5cb9e2" d="M378.6 69.8H434.8V73.4H378.6zM496.2 73.4H526.9V77.0H496.2zM148.5 77.0H153.6V80.6H148.5zM107.6 84.2H112.7V87.9H107.6zM572.9 113.2H583.3V116.8H572.9zM547.3 116.8H552.4V120.4H547.3zM526.9 120.4H532.0V124.1H526.9zM511.5 124.1H516.6V127.7H511.5zM501.3 127.7H506.4V131.3H501.3zM496.2 131.3H501.3V134.9H496.2zM480.8 138.5H486.0V142.2H480.8zM470.6 142.2H475.7V145.8H470.6zM460.4 145.8H465.5V149.4H460.4zM445.0 149.4H450.2V153.0H445.0zM434.8 153.0H439.9V156.6H434.8zM419.5 156.6H424.6V160.3H419.5zM409.3 160.3H414.4V163.9H409.3zM393.9 163.9H399.0V167.5H393.9zM383.7 167.5H388.8V171.1H383.7zM368.4 171.1H373.5V174.7H368.4zM358.1 174.7H363.2V178.4H358.1zM347.9 178.4H353.0V182.0H347.9zM322.3 185.6H327.5V189.2H322.3zM307.0 189.2H312.1V192.8H307.0zM281.4 203.7H286.5V207.3H281.4zM271.2 207.3H276.3V210.9H271.2zM255.9 214.6H261.0V218.2H255.9zM240.5 221.8H245.6V225.4H240.5zM235.4 225.4H240.5V229.0H235.4zM220.1 239.9H225.2V243.5H220.1zM215.0 247.1H220.1V250.8H215.0zM209.9 308.7H215.0V312.3H209.9zM209.9 312.3H215.0V315.9H209.9zM209.9 315.9H215.0V319.5H209.9zM209.9 319.5H215.0V323.2H209.9zM209.9 323.2H215.0V326.8H209.9zM209.9 326.8H215.0V330.4H209.9zM209.9 330.4H215.0V334.0H209.9zM209.9 334.0H215.0V337.6H209.9zM209.9 337.6H215.0V341.3H209.9zM209.9 341.3H215.0V344.9H209.9zM209.9 344.9H215.0V348.5H209.9zM209.9 348.5H215.0V352.1H209.9zM209.9 352.1H215.0V354.9H209.9z"/><path fill="#5bb7e2" d="M439.9 69.8H465.5V73.4H439.9zM532.0 73.4H578.0V77.0H532.0zM143.4 77.0H148.5V80.6H143.4zM557.5 116.8H562.6V120.4H557.5zM537.1 120.4H542.2V124.1H537.1zM521.7 124.1H526.9V127.7H521.7zM506.4 127.7H511.5V131.3H506.4zM486.0 138.5H491.1V142.2H486.0zM455.3 149.4H460.4V153.0H455.3zM445.0 153.0H450.2V156.6H445.0zM404.1 163.9H409.3V167.5H404.1zM378.6 171.1H383.7V174.7H378.6zM353.0 178.4H358.1V182.0H353.0zM342.8 182.0H347.9V185.6H342.8zM312.1 189.2H317.2V192.8H312.1zM296.8 196.5H301.9V200.1H296.8zM291.7 200.1H296.8V203.7H291.7zM286.5 203.7H291.7V207.3H286.5zM276.3 207.3H281.4V210.9H276.3zM261.0 214.6H266.1V218.2H261.0zM230.3 232.7H235.4V236.3H230.3zM225.2 236.3H230.3V239.9H225.2zM215.0 265.2H220.1V268.9H215.0zM215.0 268.9H220.1V272.5H215.0zM215.0 272.5H220.1V276.1H215.0zM215.0 276.1H220.1V279.7H215.0zM215.0 279.7H220.1V283.3H215.0zM215.0 283.3H220.1V287.0H215.0zM87.1 287.0H92.3V290.6H87.1zM215.0 287.0H220.1V290.6H215.0zM215.0 290.6H220.1V294.2H215.0zM215.0 294.2H220.1V297.8H215.0zM215.0 297.8H220.1V301.4H215.0zM215.0 301.4H220.1V305.1H215.0zM87.1 305.1H92.3V308.7H87.1zM215.0 305.1H220.1V308.7H215.0zM87.1 308.7H92.3V312.3H87.1zM215.0 308.7H220.1V312.3H215.0zM215.0 312.3H220.1V315.9H215.0zM215.0 315.9H220.1V319.5H215.0zM215.0 319.5H220.1V323.2H215.0zM215.0 323.2H220.1V326.8H215.0zM87.1 326.8H92.3V330.4H87.1zM215.0 326.8H220.1V330.4H215.0zM87.1 330.4H92.3V334.0H87.1zM215.0 330.4H220.1V334.0H215.0zM215.0 334.0H220.1V337.6H215.0zM215.0 337.6H220.1V341.3H215.0zM215.0 341.3H220.1V344.9H215.0zM215.0 344.9H220.1V348.5H215.0zM87.1 348.5H92.3V352.1H87.1zM215.0 348.5H220.1V352.1H215.0zM87.1 352.1H92.3V354.9H87.1zM215.0 352.1H220.1V354.9H215.0z"/><path fill="#5ab5e2" d="M465.5 69.8H470.6V73.4H465.5zM87.1 91.5H92.3V95.1H87.1zM75.9 102.3H82.0V106.0H75.9zM572.9 116.8H583.3V120.4H572.9zM532.0 124.1H537.1V127.7H532.0zM465.5 149.4H470.6V153.0H465.5zM414.4 163.9H419.5V167.5H414.4zM388.8 171.1H393.9V174.7H388.8zM363.2 178.4H368.4V182.0H363.2zM337.7 185.6H342.8V189.2H337.7zM327.5 189.2H332.6V192.8H327.5zM312.1 192.8H317.2V196.5H312.1zM286.5 207.3H291.7V210.9H286.5zM276.3 210.9H281.4V214.6H276.3zM271.2 214.6H276.3V218.2H271.2zM266.1 218.2H271.2V221.8H266.1zM255.9 221.8H261.0V225.4H255.9zM250.8 225.4H255.9V229.0H250.8zM245.6 229.0H250.8V232.7H245.6zM240.5 232.7H245.6V236.3H240.5zM235.4 236.3H240.5V239.9H235.4zM230.3 239.9H235.4V243.5H230.3zM230.3 243.5H235.4V247.1H230.3zM225.2 247.1H230.3V250.8H225.2zM225.2 250.8H230.3V254.4H225.2zM225.2 254.4H230.3V258.0H225.2zM220.1 272.5H225.2V276.1H220.1zM220.1 276.1H225.2V279.7H220.1zM220.1 279.7H225.2V283.3H220.1zM220.1 283.3H225.2V287.0H220.1zM220.1 287.0H225.2V290.6H220.1zM220.1 290.6H225.2V294.2H220.1zM220.1 294.2H225.2V297.8H220.1zM220.1 297.8H225.2V301.4H220.1zM220.1 301.4H225.2V305.1H220.1zM220.1 305.1H225.2V308.7H220.1zM220.1 308.7H225.2V312.3H220.1zM220.1 312.3H225.2V315.9H220.1zM220.1 315.9H225.2V319.5H220.1zM220.1 319.5H225.2V323.2H220.1zM220.1 323.2H225.2V326.8H220.1zM220.1 326.8H225.2V330.4H220.1zM220.1 330.4H225.2V334.0H220.1zM220.1 334.0H225.2V337.6H220.1zM220.1 337.6H225.2V341.3H220.1zM220.1 341.3H225.2V344.9H220.1zM220.1 344.9H225.2V348.5H220.1zM220.1 348.5H225.2V352.1H220.1zM220.1 352.1H225.2V354.9H220.1z"/><path fill="#5ab5e1" d="M470.6 69.8H496.2V73.4H470.6zM138.3 77.0H143.4V80.6H138.3zM117.8 80.6H122.9V84.2H117.8zM552.4 120.4H557.5V124.1H552.4zM506.4 131.3H511.5V134.9H506.4zM455.3 153.0H460.4V156.6H455.3zM429.7 160.3H434.8V163.9H429.7zM378.6 174.7H383.7V178.4H378.6zM353.0 182.0H358.1V185.6H353.0zM342.8 185.6H347.9V189.2H342.8zM317.2 192.8H322.3V196.5H317.2zM307.0 196.5H312.1V200.1H307.0zM301.9 200.1H307.0V203.7H301.9zM281.4 210.9H286.5V214.6H281.4zM261.0 221.8H266.1V225.4H261.0zM255.9 225.4H261.0V229.0H255.9zM250.8 229.0H255.9V232.7H250.8zM245.6 232.7H250.8V236.3H245.6zM240.5 236.3H245.6V239.9H240.5zM235.4 239.9H240.5V243.5H235.4zM82.0 243.5H87.1V247.1H82.0zM235.4 243.5H240.5V247.1H235.4zM230.3 247.1H235.4V250.8H230.3zM230.3 250.8H235.4V254.4H230.3zM225.2 258.0H230.3V261.6H225.2zM225.2 261.6H230.3V265.2H225.2zM225.2 265.2H230.3V268.9H225.2zM225.2 268.9H230.3V272.5H225.2z"/><path fill="#59b3e1" d="M496.2 69.8H501.3V73.4H496.2zM92.3 87.9H97.4V91.5H92.3zM562.6 120.4H567.8V124.1H562.6zM542.2 124.1H547.3V127.7H542.2zM526.9 127.7H532.0V131.3H526.9zM511.5 131.3H516.6V134.9H511.5zM470.6 149.4H475.7V153.0H470.6zM383.7 174.7H388.8V178.4H383.7zM337.7 189.2H342.8V192.8H337.7zM327.5 192.8H332.6V196.5H327.5zM317.2 196.5H322.3V200.1H317.2zM301.9 203.7H307.0V207.3H301.9zM296.8 207.3H301.9V210.9H296.8zM291.7 210.9H296.8V214.6H291.7zM276.3 218.2H281.4V221.8H276.3zM271.2 221.8H276.3V225.4H271.2zM266.1 225.4H271.2V229.0H266.1zM261.0 229.0H266.1V232.7H261.0zM255.9 232.7H261.0V236.3H255.9zM250.8 236.3H255.9V239.9H250.8zM245.6 243.5H250.8V247.1H245.6zM240.5 247.1H245.6V250.8H240.5zM240.5 250.8H245.6V254.4H240.5zM235.4 258.0H240.5V261.6H235.4zM235.4 261.6H240.5V265.2H235.4zM230.3 272.5H235.4V276.1H230.3zM230.3 276.1H235.4V279.7H230.3zM230.3 279.7H235.4V283.3H230.3zM230.3 283.3H235.4V287.0H230.3zM230.3 287.0H235.4V290.6H230.3z"/><path fill="#59b2e0" d="M501.3 69.8H511.5V73.4H501.3zM168.9 73.4H179.2V77.0H168.9zM578.0 120.4H583.3V124.1H578.0zM547.3 124.1H557.5V127.7H547.3zM532.0 127.7H537.1V131.3H532.0zM516.6 131.3H521.7V134.9H516.6zM506.4 134.9H511.5V138.5H506.4zM475.7 149.4H480.8V153.0H475.7zM439.9 160.3H445.0V163.9H439.9zM424.6 163.9H429.7V167.5H424.6zM414.4 167.5H419.5V171.1H414.4zM399.0 171.1H404.1V174.7H399.0zM388.8 174.7H393.9V178.4H388.8zM378.6 178.4H383.7V182.0H378.6zM353.0 185.6H358.1V189.2H353.0zM342.8 189.2H347.9V192.8H342.8zM332.6 192.8H337.7V196.5H332.6zM322.3 196.5H332.6V200.1H322.3zM317.2 200.1H322.3V203.7H317.2zM307.0 203.7H312.1V207.3H307.0zM301.9 207.3H307.0V210.9H301.9zM296.8 210.9H301.9V214.6H296.8zM291.7 214.6H296.8V218.2H291.7zM286.5 218.2H291.7V221.8H286.5zM281.4 221.8H286.5V225.4H281.4zM276.3 225.4H281.4V229.0H276.3zM271.2 229.0H276.3V232.7H271.2zM266.1 232.7H271.2V236.3H266.1zM261.0 236.3H266.1V239.9H261.0zM255.9 239.9H261.0V243.5H255.9zM250.8 243.5H261.0V247.1H250.8zM250.8 247.1H255.9V250.8H250.8zM245.6 250.8H250.8V254.4H245.6zM245.6 254.4H250.8V258.0H245.6zM240.5 258.0H250.8V261.6H240.5zM240.5 261.6H245.6V265.2H240.5zM240.5 265.2H245.6V268.9H240.5zM240.5 268.9H245.6V272.5H240.5zM235.4 272.5H240.5V276.1H235.4zM235.4 276.1H240.5V279.7H235.4zM235.4 279.7H240.5V283.3H235.4zM235.4 283.3H240.5V287.0H235.4zM235.4 287.0H240.5V290.6H235.4zM235.4 290.6H240.5V294.2H235.4zM235.4 294.2H240.5V297.8H235.4zM230.3 315.9H235.4V319.5H230.3zM230.3 319.5H235.4V323.2H230.3zM230.3 323.2H235.4V326.8H230.3zM230.3 326.8H235.4V330.4H230.3zM230.3 330.4H235.4V334.0H230.3zM230.3 334.0H235.4V337.6H230.3zM230.3 337.6H235.4V341.3H230.3zM230.3 341.3H235.4V344.9H230.3zM230.3 344.9H235.4V348.5H230.3zM230.3 348.5H235.4V352.1H230.3zM230.3 352.1H235.4V354.9H230.3z"/><path fill="#59b1e0" d="M511.5 69.8H526.9V73.4H511.5zM537.1 127.7H542.2V131.3H537.1zM521.7 131.3H526.9V134.9H521.7zM501.3 138.5H506.4V142.2H501.3zM486.0 145.8H491.1V149.4H486.0zM465.5 153.0H470.6V156.6H465.5zM429.7 163.9H434.8V167.5H429.7zM368.4 182.0H373.5V185.6H368.4zM358.1 185.6H363.2V189.2H358.1zM347.9 189.2H353.0V192.8H347.9zM337.7 192.8H342.8V196.5H337.7zM312.1 203.7H317.2V207.3H312.1zM307.0 207.3H312.1V210.9H307.0zM266.1 236.3H271.2V239.9H266.1zM261.0 239.9H266.1V243.5H261.0zM250.8 250.8H255.9V254.4H250.8zM245.6 261.6H250.8V265.2H245.6zM240.5 272.5H245.6V276.1H240.5zM240.5 276.1H245.6V279.7H240.5zM235.4 297.8H240.5V301.4H235.4zM235.4 301.4H240.5V305.1H235.4zM235.4 305.1H240.5V308.7H235.4zM235.4 308.7H240.5V312.3H235.4zM235.4 312.3H240.5V315.9H235.4zM235.4 315.9H240.5V319.5H235.4z"/><path fill="#59b1df" d="M526.9 69.8H532.0V73.4H526.9zM557.5 124.1H562.6V127.7H557.5zM455.3 156.6H460.4V160.3H455.3zM404.1 171.1H409.3V174.7H404.1zM332.6 196.5H337.7V200.1H332.6zM322.3 200.1H327.5V203.7H322.3zM301.9 210.9H307.0V214.6H301.9zM296.8 214.6H301.9V218.2H296.8zM291.7 218.2H296.8V221.8H291.7zM286.5 221.8H291.7V225.4H286.5zM281.4 225.4H286.5V229.0H281.4zM276.3 229.0H281.4V232.7H276.3zM271.2 232.7H276.3V236.3H271.2zM261.0 243.5H266.1V247.1H261.0zM255.9 247.1H261.0V250.8H255.9zM250.8 254.4H255.9V258.0H250.8zM250.8 258.0H255.9V261.6H250.8zM245.6 265.2H250.8V268.9H245.6zM245.6 268.9H250.8V272.5H245.6zM240.5 279.7H245.6V283.3H240.5zM240.5 283.3H245.6V287.0H240.5zM240.5 287.0H245.6V290.6H240.5zM235.4 319.5H240.5V323.2H235.4zM235.4 323.2H240.5V326.8H235.4zM235.4 326.8H240.5V330.4H235.4zM235.4 330.4H240.5V334.0H235.4zM235.4 334.0H240.5V337.6H235.4zM235.4 337.6H240.5V341.3H235.4zM235.4 341.3H240.5V344.9H235.4zM235.4 344.9H240.5V348.5H235.4zM235.4 348.5H240.5V352.1H235.4zM235.4 352.1H240.5V354.9H235.4z"/><path fill="#58afdf" d="M532.0 69.8H537.1V73.4H532.0zM578.0 124.1H583.3V127.7H578.0zM547.3 127.7H552.4V131.3H547.3zM516.6 134.9H521.7V138.5H516.6zM506.4 138.5H511.5V142.2H506.4zM491.1 145.8H496.2V149.4H491.1zM470.6 153.0H475.7V156.6H470.6zM409.3 171.1H414.4V174.7H409.3zM347.9 192.8H353.0V196.5H347.9zM337.7 196.5H342.8V200.1H337.7zM322.3 203.7H327.5V207.3H322.3zM276.3 236.3H281.4V239.9H276.3zM271.2 239.9H276.3V243.5H271.2zM266.1 247.1H271.2V250.8H266.1zM261.0 250.8H266.1V254.4H261.0zM255.9 261.6H261.0V265.2H255.9zM250.8 268.9H255.9V272.5H250.8zM250.8 272.5H255.9V276.1H250.8zM245.6 287.0H250.8V290.6H245.6zM245.6 290.6H250.8V294.2H245.6zM240.5 323.2H245.6V326.8H240.5zM240.5 326.8H245.6V330.4H240.5zM240.5 330.4H245.6V334.0H240.5zM240.5 334.0H245.6V337.6H240.5zM240.5 337.6H245.6V341.3H240.5zM240.5 341.3H245.6V344.9H240.5zM240.5 344.9H245.6V348.5H240.5zM240.5 348.5H245.6V352.1H240.5zM240.5 352.1H245.6V354.9H240.5z"/><path fill="#5dbbe3" d="M204.7 73.4H209.9V77.0H204.7zM470.6 73.4H486.0V77.0H470.6zM547.3 77.0H578.0V80.6H547.3zM128.0 80.6H133.2V84.2H128.0zM557.5 113.2H562.6V116.8H557.5zM537.1 116.8H542.2V120.4H537.1zM506.4 124.1H511.5V127.7H506.4zM496.2 127.7H501.3V131.3H496.2zM480.8 134.9H486.0V138.5H480.8zM470.6 138.5H475.7V142.2H470.6zM460.4 142.2H465.5V145.8H460.4zM450.2 145.8H455.3V149.4H450.2zM434.8 149.4H439.9V153.0H434.8zM424.6 153.0H429.7V156.6H424.6zM409.3 156.6H414.4V160.3H409.3zM399.0 160.3H404.1V163.9H399.0zM383.7 163.9H388.8V167.5H383.7zM373.5 167.5H378.6V171.1H373.5zM363.2 171.1H368.4V174.7H363.2zM337.7 178.4H342.8V182.0H337.7zM327.5 182.0H332.6V185.6H327.5zM312.1 185.6H317.2V189.2H312.1zM301.9 189.2H307.0V192.8H301.9zM296.8 192.8H301.9V196.5H296.8zM281.4 200.1H286.5V203.7H281.4zM266.1 207.3H271.2V210.9H266.1zM250.8 214.6H255.9V218.2H250.8zM220.1 236.3H225.2V239.9H220.1zM215.0 243.5H220.1V247.1H215.0zM209.9 258.0H215.0V261.6H209.9zM209.9 261.6H215.0V265.2H209.9z"/><path fill="#5ebde3" d="M209.9 73.4H230.3V77.0H209.9zM460.4 73.4H465.5V77.0H460.4zM516.6 77.0H526.9V80.6H516.6zM112.7 84.2H117.8V87.9H112.7zM75.9 106.0H82.0V109.6H75.9zM578.0 109.6H583.3V113.2H578.0zM547.3 113.2H552.4V116.8H547.3zM526.9 116.8H532.0V120.4H526.9zM511.5 120.4H516.6V124.1H511.5zM491.1 127.7H496.2V131.3H491.1zM450.2 142.2H455.3V145.8H450.2zM439.9 145.8H445.0V149.4H439.9zM414.4 153.0H419.5V156.6H414.4zM399.0 156.6H404.1V160.3H399.0zM388.8 160.3H393.9V163.9H388.8zM332.6 178.4H337.7V182.0H332.6zM307.0 185.6H312.1V189.2H307.0zM291.7 192.8H296.8V196.5H291.7zM261.0 207.3H266.1V210.9H261.0zM245.6 214.6H250.8V218.2H245.6zM220.1 232.7H225.2V236.3H220.1zM204.7 268.9H209.9V272.5H204.7zM204.7 272.5H209.9V276.1H204.7zM204.7 276.1H209.9V279.7H204.7z"/><path fill="#5fbde3" d="M230.3 73.4H235.4V77.0H230.3zM455.3 73.4H460.4V77.0H455.3zM163.8 77.0H168.9V80.6H163.8zM511.5 77.0H516.6V80.6H511.5zM92.3 91.5H97.4V95.1H92.3zM572.9 109.6H578.0V113.2H572.9zM480.8 131.3H486.0V134.9H480.8zM460.4 138.5H465.5V142.2H460.4zM424.6 149.4H429.7V153.0H424.6zM353.0 171.1H358.1V174.7H353.0zM342.8 174.7H347.9V178.4H342.8zM276.3 200.1H281.4V203.7H276.3zM87.1 247.1H92.3V250.8H87.1zM209.9 247.1H215.0V250.8H209.9zM204.7 265.2H209.9V268.9H204.7z"/><path fill="#60bfe3" d="M235.4 73.4H240.5V77.0H235.4zM434.8 73.4H439.9V77.0H434.8zM168.9 77.0H174.1V80.6H168.9zM486.0 77.0H496.2V80.6H486.0zM547.3 80.6H567.8V84.2H547.3zM87.1 95.1H92.3V98.7H87.1zM557.5 109.6H562.6V113.2H557.5zM532.0 113.2H537.1V116.8H532.0zM516.6 116.8H521.7V120.4H516.6zM501.3 120.4H506.4V124.1H501.3zM491.1 124.1H496.2V127.7H491.1zM439.9 142.2H445.0V145.8H439.9zM414.4 149.4H419.5V153.0H414.4zM388.8 156.6H393.9V160.3H388.8zM378.6 160.3H383.7V163.9H378.6zM368.4 163.9H373.5V167.5H368.4zM358.1 167.5H363.2V171.1H358.1zM347.9 171.1H353.0V174.7H347.9zM312.1 182.0H317.2V185.6H312.1zM301.9 185.6H307.0V189.2H301.9zM286.5 192.8H291.7V196.5H286.5zM271.2 200.1H276.3V203.7H271.2zM255.9 207.3H261.0V210.9H255.9zM240.5 214.6H245.6V218.2H240.5zM220.1 229.0H225.2V232.7H220.1zM204.7 254.4H209.9V258.0H204.7zM199.6 272.5H204.7V276.1H199.6zM199.6 276.1H204.7V279.7H199.6zM199.6 279.7H204.7V283.3H199.6zM199.6 283.3H204.7V287.0H199.6z"/><path fill="#60c0e3" d="M240.5 73.4H266.1V77.0H240.5zM414.4 73.4H434.8V77.0H414.4zM174.1 77.0H179.2V80.6H174.1zM480.8 77.0H486.0V80.6H480.8zM532.0 80.6H547.3V84.2H532.0zM102.5 87.9H107.6V91.5H102.5zM552.4 109.6H557.5V113.2H552.4zM526.9 113.2H532.0V116.8H526.9zM511.5 116.8H516.6V120.4H511.5zM480.8 127.7H486.0V131.3H480.8zM470.6 131.3H475.7V134.9H470.6zM460.4 134.9H465.5V138.5H460.4zM450.2 138.5H455.3V142.2H450.2zM434.8 142.2H439.9V145.8H434.8zM424.6 145.8H429.7V149.4H424.6zM409.3 149.4H414.4V153.0H409.3zM399.0 153.0H404.1V156.6H399.0zM332.6 174.7H337.7V178.4H332.6zM322.3 178.4H327.5V182.0H322.3zM291.7 189.2H296.8V192.8H291.7zM276.3 196.5H281.4V200.1H276.3zM261.0 203.7H266.1V207.3H261.0zM245.6 210.9H250.8V214.6H245.6zM215.0 232.7H220.1V236.3H215.0zM209.9 239.9H215.0V243.5H209.9zM204.7 250.8H209.9V254.4H204.7zM199.6 265.2H204.7V268.9H199.6zM199.6 268.9H204.7V272.5H199.6zM194.5 315.9H199.6V319.5H194.5zM194.5 319.5H199.6V323.2H194.5zM194.5 323.2H199.6V326.8H194.5zM194.5 326.8H199.6V330.4H194.5zM194.5 330.4H199.6V334.0H194.5zM194.5 334.0H199.6V337.6H194.5zM194.5 337.6H199.6V341.3H194.5zM194.5 341.3H199.6V344.9H194.5zM194.5 344.9H199.6V348.5H194.5zM194.5 348.5H199.6V352.1H194.5zM194.5 352.1H199.6V354.9H194.5z"/><path fill="#61c1e3" d="M266.1 73.4H271.2V77.0H266.1zM378.6 73.4H409.3V77.0H378.6zM470.6 77.0H480.8V80.6H470.6zM138.3 80.6H143.4V84.2H138.3zM521.7 80.6H532.0V84.2H521.7zM117.8 84.2H122.9V87.9H117.8zM572.9 106.0H583.3V109.6H572.9zM542.2 109.6H552.4V113.2H542.2zM521.7 113.2H526.9V116.8H521.7zM506.4 116.8H511.5V120.4H506.4zM496.2 120.4H501.3V124.1H496.2zM486.0 124.1H491.1V127.7H486.0zM475.7 127.7H480.8V131.3H475.7zM465.5 131.3H470.6V134.9H465.5zM455.3 134.9H460.4V138.5H455.3zM445.0 138.5H450.2V142.2H445.0zM429.7 142.2H434.8V145.8H429.7zM419.5 145.8H424.6V149.4H419.5zM404.1 149.4H409.3V153.0H404.1zM393.9 153.0H399.0V156.6H393.9zM353.0 167.5H358.1V171.1H353.0zM342.8 171.1H347.9V174.7H342.8zM317.2 178.4H322.3V182.0H317.2zM307.0 182.0H312.1V185.6H307.0zM296.8 185.6H301.9V189.2H296.8zM281.4 192.8H286.5V196.5H281.4zM266.1 200.1H271.2V203.7H266.1zM250.8 207.3H255.9V210.9H250.8zM235.4 214.6H240.5V218.2H235.4zM230.3 218.2H235.4V221.8H230.3zM225.2 221.8H230.3V225.4H225.2zM220.1 225.4H225.2V229.0H220.1zM209.9 236.3H215.0V239.9H209.9zM204.7 247.1H209.9V250.8H204.7zM199.6 258.0H204.7V261.6H199.6zM199.6 261.6H204.7V265.2H199.6zM194.5 279.7H199.6V283.3H194.5zM194.5 283.3H199.6V287.0H194.5zM194.5 287.0H199.6V290.6H194.5zM194.5 290.6H199.6V294.2H194.5zM194.5 294.2H199.6V297.8H194.5zM194.5 297.8H199.6V301.4H194.5zM194.5 301.4H199.6V305.1H194.5zM194.5 305.1H199.6V308.7H194.5z"/><path fill="#61c2e3" d="M271.2 73.4H276.3V77.0H271.2zM363.2 73.4H378.6V77.0H363.2zM179.2 77.0H184.3V80.6H179.2zM511.5 80.6H521.7V84.2H511.5zM578.0 84.2H583.3V87.9H578.0zM567.8 106.0H572.9V109.6H567.8zM439.9 138.5H445.0V142.2H439.9zM414.4 145.8H419.5V149.4H414.4zM388.8 153.0H393.9V156.6H388.8zM378.6 156.6H383.7V160.3H378.6zM368.4 160.3H373.5V163.9H368.4zM358.1 163.9H363.2V167.5H358.1zM327.5 174.7H332.6V178.4H327.5zM255.9 203.7H261.0V207.3H255.9zM240.5 210.9H245.6V214.6H240.5zM75.9 236.3H82.0V239.9H75.9zM204.7 243.5H209.9V247.1H204.7zM199.6 254.4H204.7V258.0H199.6zM194.5 276.1H199.6V279.7H194.5z"/><path fill="#62c2e4" d="M276.3 73.4H312.1V77.0H276.3zM353.0 73.4H363.2V77.0H353.0zM465.5 77.0H470.6V80.6H465.5zM506.4 80.6H511.5V84.2H506.4zM567.8 84.2H578.0V87.9H567.8zM562.6 106.0H567.8V109.6H562.6zM537.1 109.6H542.2V113.2H537.1zM516.6 113.2H521.7V116.8H516.6zM501.3 116.8H506.4V120.4H501.3zM491.1 120.4H496.2V124.1H491.1zM480.8 124.1H486.0V127.7H480.8zM470.6 127.7H475.7V131.3H470.6zM460.4 131.3H465.5V134.9H460.4zM450.2 134.9H455.3V138.5H450.2zM424.6 142.2H429.7V145.8H424.6zM399.0 149.4H404.1V153.0H399.0zM347.9 167.5H353.0V171.1H347.9zM337.7 171.1H342.8V174.7H337.7zM286.5 189.2H291.7V192.8H286.5zM271.2 196.5H276.3V200.1H271.2zM215.0 229.0H220.1V232.7H215.0zM87.1 243.5H92.3V247.1H87.1zM194.5 268.9H199.6V272.5H194.5zM194.5 272.5H199.6V276.1H194.5zM92.3 308.7H97.4V312.3H92.3zM92.3 330.4H97.4V334.0H92.3zM189.4 330.4H194.5V334.0H189.4zM189.4 334.0H194.5V337.6H189.4zM189.4 337.6H194.5V341.3H189.4zM189.4 341.3H194.5V344.9H189.4zM189.4 344.9H194.5V348.5H189.4zM92.3 348.5H97.4V352.1H92.3zM189.4 348.5H194.5V352.1H189.4zM92.3 352.1H97.4V354.9H92.3zM189.4 352.1H194.5V354.9H189.4z"/><path fill="#62c3e4" d="M312.1 73.4H322.3V77.0H312.1zM327.5 73.4H353.0V77.0H327.5zM184.3 77.0H189.4V80.6H184.3zM460.4 77.0H465.5V80.6H460.4zM143.4 80.6H148.5V84.2H143.4zM496.2 80.6H506.4V84.2H496.2zM547.3 84.2H567.8V87.9H547.3zM557.5 106.0H562.6V109.6H557.5zM532.0 109.6H537.1V113.2H532.0zM511.5 113.2H516.6V116.8H511.5zM496.2 116.8H501.3V120.4H496.2zM455.3 131.3H460.4V134.9H455.3zM445.0 134.9H450.2V138.5H445.0zM434.8 138.5H439.9V142.2H434.8zM419.5 142.2H424.6V145.8H419.5zM409.3 145.8H414.4V149.4H409.3zM393.9 149.4H399.0V153.0H393.9zM383.7 153.0H388.8V156.6H383.7zM373.5 156.6H378.6V160.3H373.5zM363.2 160.3H368.4V163.9H363.2zM322.3 174.7H327.5V178.4H322.3zM312.1 178.4H317.2V182.0H312.1zM301.9 182.0H307.0V185.6H301.9zM291.7 185.6H296.8V189.2H291.7zM276.3 192.8H281.4V196.5H276.3zM261.0 200.1H266.1V203.7H261.0zM245.6 207.3H250.8V210.9H245.6zM225.2 218.2H230.3V221.8H225.2zM209.9 232.7H215.0V236.3H209.9zM204.7 239.9H209.9V243.5H204.7zM199.6 247.1H204.7V250.8H199.6zM199.6 250.8H204.7V254.4H199.6zM92.3 261.6H97.4V265.2H92.3zM194.5 261.6H199.6V265.2H194.5zM92.3 265.2H97.4V268.9H92.3zM194.5 265.2H199.6V268.9H194.5zM92.3 268.9H97.4V272.5H92.3zM92.3 272.5H97.4V276.1H92.3zM92.3 276.1H97.4V279.7H92.3zM92.3 279.7H97.4V283.3H92.3zM92.3 283.3H97.4V287.0H92.3zM92.3 287.0H97.4V290.6H92.3zM189.4 287.0H194.5V290.6H189.4zM92.3 290.6H97.4V294.2H92.3zM189.4 290.6H194.5V294.2H189.4zM92.3 294.2H97.4V297.8H92.3zM189.4 294.2H194.5V297.8H189.4zM92.3 297.8H97.4V301.4H92.3zM189.4 297.8H194.5V301.4H189.4zM92.3 301.4H97.4V305.1H92.3zM189.4 301.4H194.5V305.1H189.4zM92.3 305.1H97.4V308.7H92.3zM189.4 305.1H194.5V308.7H189.4zM189.4 308.7H194.5V312.3H189.4zM92.3 312.3H97.4V315.9H92.3zM189.4 312.3H194.5V315.9H189.4zM92.3 315.9H97.4V319.5H92.3zM189.4 315.9H194.5V319.5H189.4zM92.3 319.5H97.4V323.2H92.3zM189.4 319.5H194.5V323.2H189.4zM92.3 323.2H97.4V326.8H92.3zM189.4 323.2H194.5V326.8H189.4zM92.3 326.8H97.4V330.4H92.3zM189.4 326.8H194.5V330.4H189.4zM92.3 334.0H97.4V337.6H92.3zM92.3 337.6H97.4V341.3H92.3zM92.3 341.3H97.4V344.9H92.3zM92.3 344.9H97.4V348.5H92.3z"/><path fill="#62c4e4" d="M322.3 73.4H327.5V77.0H322.3zM455.3 77.0H460.4V80.6H455.3zM526.9 109.6H532.0V113.2H526.9zM486.0 120.4H491.1V124.1H486.0zM404.1 145.8H409.3V149.4H404.1zM353.0 163.9H358.1V167.5H353.0zM230.3 214.6H235.4V218.2H230.3zM92.3 258.0H97.4V261.6H92.3z"/><path fill="#61c0e3" d="M409.3 73.4H414.4V77.0H409.3zM383.7 156.6H388.8V160.3H383.7zM373.5 160.3H378.6V163.9H373.5zM363.2 163.9H368.4V167.5H363.2zM194.5 308.7H199.6V312.3H194.5zM194.5 312.3H199.6V315.9H194.5z"/><path fill="#5fbee3" d="M439.9 73.4H455.3V77.0H439.9zM496.2 77.0H511.5V80.6H496.2zM133.2 80.6H138.3V84.2H133.2zM572.9 80.6H583.3V84.2H572.9zM562.6 109.6H572.9V113.2H562.6zM537.1 113.2H547.3V116.8H537.1zM521.7 116.8H526.9V120.4H521.7zM506.4 120.4H511.5V124.1H506.4zM496.2 124.1H501.3V127.7H496.2zM486.0 127.7H491.1V131.3H486.0zM470.6 134.9H475.7V138.5H470.6zM445.0 142.2H450.2V145.8H445.0zM434.8 145.8H439.9V149.4H434.8zM419.5 149.4H424.6V153.0H419.5zM409.3 153.0H414.4V156.6H409.3zM393.9 156.6H399.0V160.3H393.9zM383.7 160.3H388.8V163.9H383.7zM373.5 163.9H378.6V167.5H373.5zM363.2 167.5H368.4V171.1H363.2zM327.5 178.4H332.6V182.0H327.5zM317.2 182.0H322.3V185.6H317.2zM296.8 189.2H301.9V192.8H296.8zM281.4 196.5H286.5V200.1H281.4zM266.1 203.7H271.2V207.3H266.1zM250.8 210.9H255.9V214.6H250.8zM235.4 218.2H240.5V221.8H235.4zM230.3 221.8H235.4V225.4H230.3zM215.0 236.3H220.1V239.9H215.0zM82.0 239.9H87.1V243.5H82.0zM209.9 243.5H215.0V247.1H209.9zM204.7 258.0H209.9V261.6H204.7zM204.7 261.6H209.9V265.2H204.7zM199.6 294.2H204.7V297.8H199.6zM199.6 297.8H204.7V301.4H199.6zM199.6 301.4H204.7V305.1H199.6zM199.6 305.1H204.7V308.7H199.6zM199.6 308.7H204.7V312.3H199.6zM199.6 312.3H204.7V315.9H199.6zM199.6 315.9H204.7V319.5H199.6zM199.6 319.5H204.7V323.2H199.6zM199.6 323.2H204.7V326.8H199.6zM199.6 326.8H204.7V330.4H199.6zM199.6 330.4H204.7V334.0H199.6zM199.6 334.0H204.7V337.6H199.6zM199.6 337.6H204.7V341.3H199.6zM199.6 341.3H204.7V344.9H199.6zM199.6 344.9H204.7V348.5H199.6zM199.6 348.5H204.7V352.1H199.6zM199.6 352.1H204.7V354.9H199.6z"/><path fill="#5ebce3" d="M465.5 73.4H470.6V77.0H465.5zM158.7 77.0H163.8V80.6H158.7zM526.9 77.0H542.2V80.6H526.9zM82.0 98.7H87.1V102.3H82.0zM552.4 113.2H557.5V116.8H552.4zM532.0 116.8H537.1V120.4H532.0zM501.3 124.1H506.4V127.7H501.3zM486.0 131.3H491.1V134.9H486.0zM475.7 134.9H480.8V138.5H475.7zM465.5 138.5H470.6V142.2H465.5zM455.3 142.2H460.4V145.8H455.3zM445.0 145.8H450.2V149.4H445.0zM429.7 149.4H434.8V153.0H429.7zM419.5 153.0H424.6V156.6H419.5zM404.1 156.6H409.3V160.3H404.1zM393.9 160.3H399.0V163.9H393.9zM378.6 163.9H383.7V167.5H378.6zM368.4 167.5H373.5V171.1H368.4zM358.1 171.1H363.2V174.7H358.1zM347.9 174.7H353.0V178.4H347.9zM322.3 182.0H327.5V185.6H322.3zM286.5 196.5H291.7V200.1H286.5zM271.2 203.7H276.3V207.3H271.2zM255.9 210.9H261.0V214.6H255.9zM240.5 218.2H245.6V221.8H240.5zM235.4 221.8H240.5V225.4H235.4zM230.3 225.4H235.4V229.0H230.3zM225.2 229.0H230.3V232.7H225.2zM215.0 239.9H220.1V243.5H215.0zM209.9 250.8H215.0V254.4H209.9zM209.9 254.4H215.0V258.0H209.9zM204.7 279.7H209.9V283.3H204.7zM204.7 283.3H209.9V287.0H204.7zM204.7 287.0H209.9V290.6H204.7zM204.7 290.6H209.9V294.2H204.7zM204.7 294.2H209.9V297.8H204.7zM204.7 297.8H209.9V301.4H204.7zM204.7 301.4H209.9V305.1H204.7zM204.7 305.1H209.9V308.7H204.7zM204.7 308.7H209.9V312.3H204.7zM204.7 312.3H209.9V315.9H204.7zM204.7 315.9H209.9V319.5H204.7zM204.7 319.5H209.9V323.2H204.7zM204.7 323.2H209.9V326.8H204.7zM204.7 326.8H209.9V330.4H204.7zM204.7 330.4H209.9V334.0H204.7zM204.7 334.0H209.9V337.6H204.7zM204.7 337.6H209.9V341.3H204.7zM204.7 341.3H209.9V344.9H204.7zM204.7 344.9H209.9V348.5H204.7zM204.7 348.5H209.9V352.1H204.7zM204.7 352.1H209.9V354.9H204.7z"/><path fill="#5ab6e2" d="M578.0 73.4H583.3V77.0H578.0zM102.5 84.2H107.6V87.9H102.5zM562.6 116.8H572.9V120.4H562.6zM542.2 120.4H552.4V124.1H542.2zM526.9 124.1H532.0V127.7H526.9zM511.5 127.7H521.7V131.3H511.5zM501.3 131.3H506.4V134.9H501.3zM496.2 134.9H501.3V138.5H496.2zM491.1 138.5H496.2V142.2H491.1zM486.0 142.2H491.1V145.8H486.0zM475.7 145.8H480.8V149.4H475.7zM460.4 149.4H465.5V153.0H460.4zM450.2 153.0H455.3V156.6H450.2zM439.9 156.6H445.0V160.3H439.9zM424.6 160.3H429.7V163.9H424.6zM409.3 163.9H414.4V167.5H409.3zM399.0 167.5H404.1V171.1H399.0zM383.7 171.1H388.8V174.7H383.7zM368.4 174.7H378.6V178.4H368.4zM358.1 178.4H363.2V182.0H358.1zM347.9 182.0H353.0V185.6H347.9zM332.6 185.6H337.7V189.2H332.6zM317.2 189.2H327.5V192.8H317.2zM307.0 192.8H312.1V196.5H307.0zM301.9 196.5H307.0V200.1H301.9zM296.8 200.1H301.9V203.7H296.8zM291.7 203.7H296.8V207.3H291.7zM281.4 207.3H286.5V210.9H281.4zM271.2 210.9H276.3V214.6H271.2zM266.1 214.6H271.2V218.2H266.1zM261.0 218.2H266.1V221.8H261.0zM245.6 221.8H255.9V225.4H245.6zM240.5 225.4H250.8V229.0H240.5zM240.5 229.0H245.6V232.7H240.5zM235.4 232.7H240.5V236.3H235.4zM230.3 236.3H235.4V239.9H230.3zM225.2 239.9H230.3V243.5H225.2zM225.2 243.5H230.3V247.1H225.2zM220.1 247.1H225.2V250.8H220.1zM220.1 250.8H225.2V254.4H220.1zM220.1 254.4H225.2V258.0H220.1zM220.1 258.0H225.2V261.6H220.1zM220.1 261.6H225.2V265.2H220.1zM220.1 265.2H225.2V268.9H220.1zM220.1 268.9H225.2V272.5H220.1z"/><path fill="#63c4e4" d="M189.4 77.0H194.5V80.6H189.4zM450.2 77.0H455.3V80.6H450.2zM148.5 80.6H153.6V84.2H148.5zM486.0 80.6H496.2V84.2H486.0zM537.1 84.2H547.3V87.9H537.1zM547.3 106.0H557.5V109.6H547.3zM521.7 109.6H526.9V113.2H521.7zM506.4 113.2H511.5V116.8H506.4zM475.7 124.1H480.8V127.7H475.7zM465.5 127.7H470.6V131.3H465.5zM439.9 134.9H445.0V138.5H439.9zM429.7 138.5H434.8V142.2H429.7zM414.4 142.2H419.5V145.8H414.4zM388.8 149.4H393.9V153.0H388.8zM378.6 153.0H383.7V156.6H378.6zM342.8 167.5H347.9V171.1H342.8zM332.6 171.1H337.7V174.7H332.6zM281.4 189.2H286.5V192.8H281.4zM266.1 196.5H271.2V200.1H266.1zM250.8 203.7H255.9V207.3H250.8zM235.4 210.9H240.5V214.6H235.4zM220.1 221.8H225.2V225.4H220.1zM215.0 225.4H220.1V229.0H215.0zM204.7 236.3H209.9V239.9H204.7zM199.6 243.5H204.7V247.1H199.6zM194.5 254.4H199.6V258.0H194.5zM194.5 258.0H199.6V261.6H194.5zM189.4 272.5H194.5V276.1H189.4zM189.4 276.1H194.5V279.7H189.4zM189.4 279.7H194.5V283.3H189.4zM189.4 283.3H194.5V287.0H189.4z"/><path fill="#64c5e4" d="M194.5 77.0H199.6V80.6H194.5zM439.9 77.0H445.0V80.6H439.9zM480.8 80.6H486.0V84.2H480.8zM572.9 102.3H578.0V106.0H572.9zM516.6 109.6H521.7V113.2H516.6zM383.7 149.4H388.8V153.0H383.7zM347.9 163.9H353.0V167.5H347.9zM337.7 167.5H342.8V171.1H337.7zM327.5 171.1H332.6V174.7H327.5zM194.5 250.8H199.6V254.4H194.5zM189.4 265.2H194.5V268.9H189.4zM184.3 294.2H189.4V297.8H184.3zM184.3 297.8H189.4V301.4H184.3z"/><path fill="#64c6e4" d="M199.6 77.0H204.7V80.6H199.6zM429.7 77.0H439.9V80.6H429.7zM153.6 80.6H158.7V84.2H153.6zM475.7 80.6H480.8V84.2H475.7zM516.6 84.2H526.9V87.9H516.6zM562.6 87.9H583.3V91.5H562.6zM562.6 102.3H572.9V106.0H562.6zM532.0 106.0H542.2V109.6H532.0zM511.5 109.6H516.6V113.2H511.5zM496.2 113.2H501.3V116.8H496.2zM486.0 116.8H491.1V120.4H486.0zM475.7 120.4H480.8V124.1H475.7zM465.5 124.1H470.6V127.7H465.5zM455.3 127.7H460.4V131.3H455.3zM445.0 131.3H450.2V134.9H445.0zM429.7 134.9H434.8V138.5H429.7zM419.5 138.5H424.6V142.2H419.5zM404.1 142.2H409.3V145.8H404.1zM393.9 145.8H399.0V149.4H393.9zM373.5 153.0H378.6V156.6H373.5zM363.2 156.6H368.4V160.3H363.2zM286.5 185.6H291.7V189.2H286.5zM276.3 189.2H281.4V192.8H276.3zM261.0 196.5H266.1V200.1H261.0zM245.6 203.7H250.8V207.3H245.6zM230.3 210.9H235.4V214.6H230.3zM225.2 214.6H230.3V218.2H225.2zM220.1 218.2H225.2V221.8H220.1zM215.0 221.8H220.1V225.4H215.0zM204.7 232.7H209.9V236.3H204.7zM199.6 239.9H204.7V243.5H199.6zM194.5 247.1H199.6V250.8H194.5zM92.3 250.8H97.4V254.4H92.3zM189.4 258.0H194.5V261.6H189.4zM189.4 261.6H194.5V265.2H189.4zM184.3 276.1H189.4V279.7H184.3zM184.3 279.7H189.4V283.3H184.3zM184.3 283.3H189.4V287.0H184.3zM184.3 287.0H189.4V290.6H184.3zM184.3 290.6H189.4V294.2H184.3z"/><path fill="#65c7e4" d="M204.7 77.0H209.9V80.6H204.7zM424.6 77.0H429.7V80.6H424.6zM470.6 80.6H475.7V84.2H470.6zM501.3 84.2H511.5V87.9H501.3zM552.4 87.9H562.6V91.5H552.4zM557.5 102.3H562.6V106.0H557.5zM526.9 106.0H532.0V109.6H526.9zM506.4 109.6H511.5V113.2H506.4zM460.4 124.1H465.5V127.7H460.4zM450.2 127.7H455.3V131.3H450.2zM439.9 131.3H445.0V134.9H439.9zM424.6 134.9H429.7V138.5H424.6zM399.0 142.2H404.1V145.8H399.0zM388.8 145.8H393.9V149.4H388.8zM378.6 149.4H383.7V153.0H378.6zM368.4 153.0H373.5V156.6H368.4zM342.8 163.9H347.9V167.5H342.8zM332.6 167.5H337.7V171.1H332.6zM322.3 171.1H327.5V174.7H322.3zM312.1 174.7H317.2V178.4H312.1zM291.7 182.0H296.8V185.6H291.7zM266.1 192.8H271.2V196.5H266.1zM235.4 207.3H240.5V210.9H235.4zM209.9 225.4H215.0V229.0H209.9zM199.6 236.3H204.7V239.9H199.6zM194.5 243.5H199.6V247.1H194.5zM189.4 254.4H194.5V258.0H189.4zM184.3 268.9H189.4V272.5H184.3zM184.3 272.5H189.4V276.1H184.3zM179.2 305.1H184.3V308.7H179.2zM179.2 308.7H184.3V312.3H179.2zM179.2 312.3H184.3V315.9H179.2zM179.2 315.9H184.3V319.5H179.2zM179.2 319.5H184.3V323.2H179.2zM179.2 323.2H184.3V326.8H179.2zM179.2 326.8H184.3V330.4H179.2zM179.2 330.4H184.3V334.0H179.2zM179.2 334.0H184.3V337.6H179.2zM179.2 337.6H184.3V341.3H179.2zM179.2 341.3H184.3V344.9H179.2zM179.2 344.9H184.3V348.5H179.2zM179.2 348.5H184.3V352.1H179.2zM179.2 352.1H184.3V354.9H179.2z"/><path fill="#66c8e3" d="M209.9 77.0H215.0V80.6H209.9zM404.1 77.0H414.4V80.6H404.1zM158.7 80.6H163.8V84.2H158.7zM128.0 84.2H133.2V87.9H128.0zM496.2 84.2H501.3V87.9H496.2zM542.2 87.9H547.3V91.5H542.2zM547.3 102.3H552.4V106.0H547.3zM501.3 109.6H506.4V113.2H501.3zM445.0 127.7H450.2V131.3H445.0zM419.5 134.9H424.6V138.5H419.5zM393.9 142.2H399.0V145.8H393.9zM383.7 145.8H388.8V149.4H383.7zM373.5 149.4H378.6V153.0H373.5zM358.1 156.6H363.2V160.3H358.1zM271.2 189.2H276.3V192.8H271.2zM220.1 214.6H225.2V218.2H220.1zM194.5 239.9H199.6V243.5H194.5zM184.3 261.6H189.4V265.2H184.3zM179.2 283.3H184.3V287.0H179.2zM179.2 287.0H184.3V290.6H179.2zM179.2 290.6H184.3V294.2H179.2z"/><path fill="#67c8e3" d="M215.0 77.0H230.3V80.6H215.0zM388.8 77.0H404.1V80.6H388.8zM465.5 80.6H470.6V84.2H465.5zM491.1 84.2H496.2V87.9H491.1zM537.1 87.9H542.2V91.5H537.1zM542.2 102.3H547.3V106.0H542.2zM516.6 106.0H521.7V109.6H516.6zM486.0 113.2H491.1V116.8H486.0zM475.7 116.8H480.8V120.4H475.7zM465.5 120.4H470.6V124.1H465.5zM455.3 124.1H460.4V127.7H455.3zM429.7 131.3H434.8V134.9H429.7zM404.1 138.5H409.3V142.2H404.1zM363.2 153.0H368.4V156.6H363.2zM347.9 160.3H353.0V163.9H347.9zM337.7 163.9H342.8V167.5H337.7zM327.5 167.5H332.6V171.1H327.5zM317.2 171.1H322.3V174.7H317.2zM307.0 174.7H312.1V178.4H307.0zM296.8 178.4H301.9V182.0H296.8zM286.5 182.0H291.7V185.6H286.5zM261.0 192.8H266.1V196.5H261.0zM245.6 200.1H250.8V203.7H245.6zM230.3 207.3H235.4V210.9H230.3zM225.2 210.9H230.3V214.6H225.2zM215.0 218.2H220.1V221.8H215.0zM209.9 221.8H215.0V225.4H209.9zM199.6 232.7H204.7V236.3H199.6zM189.4 247.1H194.5V250.8H189.4zM184.3 258.0H189.4V261.6H184.3zM179.2 276.1H184.3V279.7H179.2zM179.2 279.7H184.3V283.3H179.2z"/><path fill="#67c9e3" d="M230.3 77.0H235.4V80.6H230.3zM383.7 77.0H388.8V80.6H383.7zM532.0 87.9H537.1V91.5H532.0zM578.0 91.5H583.3V95.1H578.0zM92.3 95.1H97.4V98.7H92.3zM578.0 98.7H583.3V102.3H578.0zM496.2 109.6H501.3V113.2H496.2zM414.4 134.9H419.5V138.5H414.4zM388.8 142.2H393.9V145.8H388.8zM92.3 247.1H97.4V250.8H92.3zM179.2 272.5H184.3V276.1H179.2z"/><path fill="#69cae2" d="M235.4 77.0H240.5V80.6H235.4zM358.1 77.0H373.5V80.6H358.1zM450.2 80.6H460.4V84.2H450.2zM133.2 84.2H138.3V87.9H133.2zM480.8 84.2H486.0V87.9H480.8zM516.6 87.9H526.9V91.5H516.6zM557.5 91.5H567.8V95.1H557.5zM557.5 98.7H567.8V102.3H557.5zM521.7 102.3H532.0V106.0H521.7zM501.3 106.0H506.4V109.6H501.3zM491.1 109.6H496.2V113.2H491.1zM445.0 124.1H450.2V127.7H445.0zM434.8 127.7H439.9V131.3H434.8zM419.5 131.3H424.6V134.9H419.5zM404.1 134.9H409.3V138.5H404.1zM393.9 138.5H399.0V142.2H393.9zM383.7 142.2H388.8V145.8H383.7zM373.5 145.8H378.6V149.4H373.5zM358.1 153.0H363.2V156.6H358.1zM342.8 160.3H347.9V163.9H342.8zM332.6 163.9H337.7V167.5H332.6zM322.3 167.5H327.5V171.1H322.3zM312.1 171.1H317.2V174.7H312.1zM301.9 174.7H307.0V178.4H301.9zM291.7 178.4H296.8V182.0H291.7zM281.4 182.0H286.5V185.6H281.4zM255.9 192.8H261.0V196.5H255.9zM240.5 200.1H245.6V203.7H240.5zM225.2 207.3H230.3V210.9H225.2zM220.1 210.9H225.2V214.6H220.1zM215.0 214.6H220.1V218.2H215.0zM209.9 218.2H215.0V221.8H209.9zM194.5 232.7H199.6V236.3H194.5zM82.0 236.3H87.1V239.9H82.0zM189.4 239.9H194.5V243.5H189.4zM184.3 247.1H189.4V250.8H184.3zM179.2 258.0H184.3V261.6H179.2zM179.2 261.6H184.3V265.2H179.2zM174.1 276.1H179.2V279.7H174.1zM174.1 279.7H179.2V283.3H174.1zM174.1 283.3H179.2V287.0H174.1zM174.1 287.0H179.2V290.6H174.1z"/><path fill="#6acbe2" d="M240.5 77.0H250.8V80.6H240.5zM342.8 77.0H353.0V80.6H342.8zM168.9 80.6H174.1V84.2H168.9zM445.0 80.6H450.2V84.2H445.0zM506.4 87.9H511.5V91.5H506.4zM102.5 91.5H107.6V95.1H102.5zM547.3 91.5H552.4V95.1H547.3zM87.1 98.7H92.3V102.3H87.1zM552.4 98.7H557.5V102.3H552.4zM516.6 102.3H521.7V106.0H516.6zM496.2 106.0H501.3V109.6H496.2zM486.0 109.6H491.1V113.2H486.0zM475.7 113.2H480.8V116.8H475.7zM439.9 124.1H445.0V127.7H439.9zM429.7 127.7H434.8V131.3H429.7zM414.4 131.3H419.5V134.9H414.4zM399.0 134.9H404.1V138.5H399.0zM388.8 138.5H393.9V142.2H388.8zM378.6 142.2H383.7V145.8H378.6zM363.2 149.4H368.4V153.0H363.2zM347.9 156.6H353.0V160.3H347.9zM261.0 189.2H266.1V192.8H261.0zM245.6 196.5H250.8V200.1H245.6zM230.3 203.7H235.4V207.3H230.3zM199.6 225.4H204.7V229.0H199.6zM189.4 236.3H194.5V239.9H189.4zM184.3 243.5H189.4V247.1H184.3zM179.2 254.4H184.3V258.0H179.2zM174.1 268.9H179.2V272.5H174.1zM168.9 305.1H174.1V308.7H168.9zM168.9 308.7H174.1V312.3H168.9zM168.9 312.3H174.1V315.9H168.9zM168.9 315.9H174.1V319.5H168.9zM168.9 319.5H174.1V323.2H168.9zM168.9 323.2H174.1V326.8H168.9zM168.9 326.8H174.1V330.4H168.9zM168.9 330.4H174.1V334.0H168.9zM168.9 334.0H174.1V337.6H168.9zM168.9 337.6H174.1V341.3H168.9zM168.9 341.3H174.1V344.9H168.9zM168.9 344.9H174.1V348.5H168.9zM168.9 348.5H174.1V352.1H168.9zM168.9 352.1H174.1V354.9H168.9z"/><path fill="#6bcbe2" d="M250.8 77.0H271.2V80.6H250.8zM332.6 77.0H342.8V80.6H332.6zM439.9 80.6H445.0V84.2H439.9zM475.7 84.2H480.8V87.9H475.7zM501.3 87.9H506.4V91.5H501.3zM542.2 91.5H547.3V95.1H542.2zM547.3 98.7H552.4V102.3H547.3zM511.5 102.3H516.6V106.0H511.5zM450.2 120.4H455.3V124.1H450.2zM424.6 127.7H429.7V131.3H424.6zM368.4 145.8H373.5V149.4H368.4zM337.7 160.3H342.8V163.9H337.7zM327.5 163.9H332.6V167.5H327.5zM317.2 167.5H322.3V171.1H317.2zM307.0 171.1H312.1V174.7H307.0zM296.8 174.7H301.9V178.4H296.8zM286.5 178.4H291.7V182.0H286.5zM235.4 200.1H240.5V203.7H235.4zM194.5 229.0H199.6V232.7H194.5zM179.2 250.8H184.3V254.4H179.2zM174.1 261.6H179.2V265.2H174.1zM174.1 265.2H179.2V268.9H174.1zM168.9 287.0H174.1V290.6H168.9zM168.9 290.6H174.1V294.2H168.9zM168.9 294.2H174.1V297.8H168.9zM168.9 297.8H174.1V301.4H168.9zM168.9 301.4H174.1V305.1H168.9z"/><path fill="#6bcce2" d="M271.2 77.0H276.3V80.6H271.2zM496.2 87.9H501.3V91.5H496.2zM537.1 91.5H542.2V95.1H537.1zM578.0 95.1H583.3V98.7H578.0zM542.2 98.7H547.3V102.3H542.2zM75.9 109.6H82.0V113.2H75.9zM480.8 109.6H486.0V113.2H480.8zM470.6 113.2H475.7V116.8H470.6zM460.4 116.8H465.5V120.4H460.4zM434.8 124.1H439.9V127.7H434.8zM409.3 131.3H414.4V134.9H409.3zM383.7 138.5H388.8V142.2H383.7zM353.0 153.0H358.1V156.6H353.0zM276.3 182.0H281.4V185.6H276.3zM250.8 192.8H255.9V196.5H250.8zM184.3 239.9H189.4V243.5H184.3zM168.9 279.7H174.1V283.3H168.9zM168.9 283.3H174.1V287.0H168.9z"/><path fill="#6ccce1" d="M276.3 77.0H332.6V80.6H276.3zM174.1 80.6H179.2V84.2H174.1zM429.7 80.6H439.9V84.2H429.7zM138.3 84.2H143.4V87.9H138.3zM470.6 84.2H475.7V87.9H470.6zM491.1 87.9H496.2V91.5H491.1zM532.0 91.5H537.1V95.1H532.0zM572.9 95.1H578.0V98.7H572.9zM532.0 98.7H542.2V102.3H532.0zM506.4 102.3H511.5V106.0H506.4zM491.1 106.0H496.2V109.6H491.1zM455.3 116.8H460.4V120.4H455.3zM445.0 120.4H450.2V124.1H445.0zM419.5 127.7H424.6V131.3H419.5zM404.1 131.3H409.3V134.9H404.1zM393.9 134.9H399.0V138.5H393.9zM373.5 142.2H378.6V145.8H373.5zM358.1 149.4H363.2V153.0H358.1zM342.8 156.6H347.9V160.3H342.8zM266.1 185.6H271.2V189.2H266.1zM255.9 189.2H261.0V192.8H255.9zM240.5 196.5H245.6V200.1H240.5zM225.2 203.7H230.3V207.3H225.2zM220.1 207.3H225.2V210.9H220.1zM215.0 210.9H220.1V214.6H215.0zM209.9 214.6H215.0V218.2H209.9zM204.7 218.2H209.9V221.8H204.7zM199.6 221.8H204.7V225.4H199.6zM189.4 232.7H194.5V236.3H189.4zM92.3 243.5H97.4V247.1H92.3zM179.2 247.1H184.3V250.8H179.2zM174.1 254.4H179.2V258.0H174.1zM174.1 258.0H179.2V261.6H174.1zM168.9 268.9H174.1V272.5H168.9zM168.9 272.5H174.1V276.1H168.9zM168.9 276.1H174.1V279.7H168.9zM97.4 287.0H102.5V290.6H97.4zM97.4 305.1H102.5V308.7H97.4zM97.4 308.7H102.5V312.3H97.4zM97.4 326.8H102.5V330.4H97.4zM97.4 330.4H102.5V334.0H97.4zM97.4 348.5H102.5V352.1H97.4zM97.4 352.1H102.5V354.9H97.4z"/><path fill="#6acae2" d="M353.0 77.0H358.1V80.6H353.0zM511.5 87.9H516.6V91.5H511.5zM552.4 91.5H557.5V95.1H552.4zM82.0 102.3H87.1V106.0H82.0zM465.5 116.8H470.6V120.4H465.5zM455.3 120.4H460.4V124.1H455.3zM271.2 185.6H276.3V189.2H271.2zM204.7 221.8H209.9V225.4H204.7zM174.1 272.5H179.2V276.1H174.1z"/><path fill="#68c9e3" d="M373.5 77.0H383.7V80.6H373.5zM163.8 80.6H168.9V84.2H163.8zM460.4 80.6H465.5V84.2H460.4zM486.0 84.2H491.1V87.9H486.0zM112.7 87.9H117.8V91.5H112.7zM526.9 87.9H532.0V91.5H526.9zM567.8 91.5H578.0V95.1H567.8zM567.8 98.7H578.0V102.3H567.8zM532.0 102.3H542.2V106.0H532.0zM506.4 106.0H516.6V109.6H506.4zM480.8 113.2H486.0V116.8H480.8zM470.6 116.8H475.7V120.4H470.6zM460.4 120.4H465.5V124.1H460.4zM450.2 124.1H455.3V127.7H450.2zM439.9 127.7H445.0V131.3H439.9zM424.6 131.3H429.7V134.9H424.6zM409.3 134.9H414.4V138.5H409.3zM399.0 138.5H404.1V142.2H399.0zM378.6 145.8H383.7V149.4H378.6zM368.4 149.4H373.5V153.0H368.4zM353.0 156.6H358.1V160.3H353.0zM276.3 185.6H281.4V189.2H276.3zM266.1 189.2H271.2V192.8H266.1zM250.8 196.5H255.9V200.1H250.8zM235.4 203.7H240.5V207.3H235.4zM204.7 225.4H209.9V229.0H204.7zM199.6 229.0H204.7V232.7H199.6zM194.5 236.3H199.6V239.9H194.5zM87.1 239.9H92.3V243.5H87.1zM189.4 243.5H194.5V247.1H189.4zM184.3 250.8H189.4V254.4H184.3zM184.3 254.4H189.4V258.0H184.3zM179.2 265.2H184.3V268.9H179.2zM179.2 268.9H184.3V272.5H179.2zM174.1 290.6H179.2V294.2H174.1zM174.1 294.2H179.2V297.8H174.1zM174.1 297.8H179.2V301.4H174.1zM174.1 301.4H179.2V305.1H174.1zM174.1 305.1H179.2V308.7H174.1zM174.1 308.7H179.2V312.3H174.1zM174.1 312.3H179.2V315.9H174.1zM174.1 315.9H179.2V319.5H174.1zM174.1 319.5H179.2V323.2H174.1zM174.1 323.2H179.2V326.8H174.1zM174.1 326.8H179.2V330.4H174.1zM174.1 330.4H179.2V334.0H174.1zM174.1 334.0H179.2V337.6H174.1zM174.1 337.6H179.2V341.3H174.1zM174.1 341.3H179.2V344.9H174.1zM174.1 344.9H179.2V348.5H174.1zM174.1 348.5H179.2V352.1H174.1zM174.1 352.1H179.2V354.9H174.1z"/><path fill="#66c7e3" d="M414.4 77.0H424.6V80.6H414.4zM547.3 87.9H552.4V91.5H547.3zM552.4 102.3H557.5V106.0H552.4zM521.7 106.0H526.9V109.6H521.7zM491.1 113.2H496.2V116.8H491.1zM480.8 116.8H486.0V120.4H480.8zM470.6 120.4H475.7V124.1H470.6zM434.8 131.3H439.9V134.9H434.8zM409.3 138.5H414.4V142.2H409.3zM281.4 185.6H286.5V189.2H281.4zM255.9 196.5H261.0V200.1H255.9zM240.5 203.7H245.6V207.3H240.5zM204.7 229.0H209.9V232.7H204.7zM189.4 250.8H194.5V254.4H189.4zM184.3 265.2H189.4V268.9H184.3zM179.2 294.2H184.3V297.8H179.2zM179.2 297.8H184.3V301.4H179.2zM179.2 301.4H184.3V305.1H179.2z"/><path fill="#63c5e4" d="M445.0 77.0H450.2V80.6H445.0zM122.9 84.2H128.0V87.9H122.9zM526.9 84.2H537.1V87.9H526.9zM107.6 87.9H112.7V91.5H107.6zM97.4 91.5H102.5V95.1H97.4zM578.0 102.3H583.3V106.0H578.0zM542.2 106.0H547.3V109.6H542.2zM501.3 113.2H506.4V116.8H501.3zM491.1 116.8H496.2V120.4H491.1zM480.8 120.4H486.0V124.1H480.8zM470.6 124.1H475.7V127.7H470.6zM460.4 127.7H465.5V131.3H460.4zM450.2 131.3H455.3V134.9H450.2zM434.8 134.9H439.9V138.5H434.8zM424.6 138.5H429.7V142.2H424.6zM409.3 142.2H414.4V145.8H409.3zM399.0 145.8H404.1V149.4H399.0zM368.4 156.6H373.5V160.3H368.4zM358.1 160.3H363.2V163.9H358.1zM317.2 174.7H322.3V178.4H317.2zM307.0 178.4H312.1V182.0H307.0zM296.8 182.0H301.9V185.6H296.8zM271.2 192.8H276.3V196.5H271.2zM255.9 200.1H261.0V203.7H255.9zM240.5 207.3H245.6V210.9H240.5zM209.9 229.0H215.0V232.7H209.9zM92.3 254.4H97.4V258.0H92.3zM189.4 268.9H194.5V272.5H189.4zM184.3 301.4H189.4V305.1H184.3zM184.3 305.1H189.4V308.7H184.3zM184.3 308.7H189.4V312.3H184.3zM184.3 312.3H189.4V315.9H184.3zM184.3 315.9H189.4V319.5H184.3zM184.3 319.5H189.4V323.2H184.3zM184.3 323.2H189.4V326.8H184.3zM184.3 326.8H189.4V330.4H184.3zM184.3 330.4H189.4V334.0H184.3zM184.3 334.0H189.4V337.6H184.3zM184.3 337.6H189.4V341.3H184.3zM184.3 341.3H189.4V344.9H184.3zM184.3 344.9H189.4V348.5H184.3zM184.3 348.5H189.4V352.1H184.3zM184.3 352.1H189.4V354.9H184.3z"/><path fill="#5dbce3" d="M542.2 77.0H547.3V80.6H542.2zM516.6 120.4H521.7V124.1H516.6z"/><path fill="#5495d1" d="M97.4 80.6H102.5V84.2H97.4zM552.4 153.0H557.5V156.6H552.4zM532.0 156.6H537.1V160.3H532.0zM516.6 160.3H521.7V163.9H516.6zM439.9 185.6H445.0V189.2H439.9zM429.7 189.2H434.8V192.8H429.7zM409.3 196.5H414.4V200.1H409.3zM347.9 239.9H353.0V243.5H347.9zM342.8 247.1H347.9V250.8H342.8zM337.7 254.4H342.8V258.0H337.7zM322.3 287.0H327.5V290.6H322.3zM317.2 305.1H322.3V308.7H317.2zM317.2 308.7H322.3V312.3H317.2zM312.1 337.6H317.2V341.3H312.1zM312.1 341.3H317.2V344.9H312.1zM312.1 344.9H317.2V348.5H312.1zM312.1 348.5H317.2V352.1H312.1zM312.1 352.1H317.2V354.9H312.1z"/><path fill="#6dcde1" d="M179.2 80.6H184.3V84.2H179.2zM424.6 80.6H429.7V84.2H424.6zM465.5 84.2H470.6V87.9H465.5zM117.8 87.9H122.9V91.5H117.8zM486.0 87.9H491.1V91.5H486.0zM526.9 91.5H532.0V95.1H526.9zM562.6 95.1H567.8V98.7H562.6zM521.7 98.7H532.0V102.3H521.7zM501.3 102.3H506.4V106.0H501.3zM486.0 106.0H491.1V109.6H486.0zM475.7 109.6H480.8V113.2H475.7zM465.5 113.2H470.6V116.8H465.5zM439.9 120.4H445.0V124.1H439.9zM429.7 124.1H434.8V127.7H429.7zM414.4 127.7H419.5V131.3H414.4zM399.0 131.3H404.1V134.9H399.0zM388.8 134.9H393.9V138.5H388.8zM378.6 138.5H383.7V142.2H378.6zM363.2 145.8H368.4V149.4H363.2zM347.9 153.0H353.0V156.6H347.9zM332.6 160.3H337.7V163.9H332.6zM322.3 163.9H327.5V167.5H322.3zM312.1 167.5H317.2V171.1H312.1zM301.9 171.1H307.0V174.7H301.9zM281.4 178.4H286.5V182.0H281.4zM271.2 182.0H276.3V185.6H271.2zM245.6 192.8H250.8V196.5H245.6zM230.3 200.1H235.4V203.7H230.3zM194.5 225.4H199.6V229.0H194.5zM189.4 229.0H194.5V232.7H189.4zM184.3 236.3H189.4V239.9H184.3zM179.2 243.5H184.3V247.1H179.2zM174.1 250.8H179.2V254.4H174.1zM97.4 258.0H102.5V261.6H97.4zM97.4 261.6H102.5V265.2H97.4zM168.9 261.6H174.1V265.2H168.9zM97.4 265.2H102.5V268.9H97.4zM168.9 265.2H174.1V268.9H168.9zM97.4 268.9H102.5V272.5H97.4zM97.4 272.5H102.5V276.1H97.4zM97.4 276.1H102.5V279.7H97.4zM97.4 279.7H102.5V283.3H97.4zM163.8 287.0H168.9V290.6H163.8zM163.8 290.6H168.9V294.2H163.8zM97.4 294.2H102.5V297.8H97.4zM163.8 294.2H168.9V297.8H163.8zM97.4 297.8H102.5V301.4H97.4zM163.8 297.8H168.9V301.4H163.8zM97.4 301.4H102.5V305.1H97.4zM163.8 301.4H168.9V305.1H163.8zM163.8 305.1H168.9V308.7H163.8zM163.8 308.7H168.9V312.3H163.8zM163.8 312.3H168.9V315.9H163.8zM97.4 315.9H102.5V319.5H97.4zM163.8 315.9H168.9V319.5H163.8zM97.4 319.5H102.5V323.2H97.4zM163.8 319.5H168.9V323.2H163.8zM97.4 323.2H102.5V326.8H97.4zM163.8 323.2H168.9V326.8H163.8zM163.8 326.8H168.9V330.4H163.8zM163.8 330.4H168.9V334.0H163.8zM163.8 334.0H168.9V337.6H163.8zM97.4 337.6H102.5V341.3H97.4zM163.8 337.6H168.9V341.3H163.8zM97.4 341.3H102.5V344.9H97.4zM163.8 341.3H168.9V344.9H163.8zM97.4 344.9H102.5V348.5H97.4zM163.8 344.9H168.9V348.5H163.8zM163.8 348.5H168.9V352.1H163.8zM163.8 352.1H168.9V354.9H163.8z"/><path fill="#6ecee1" d="M184.3 80.6H189.4V84.2H184.3zM404.1 80.6H424.6V84.2H404.1zM143.4 84.2H148.5V87.9H143.4zM516.6 91.5H526.9V95.1H516.6zM552.4 95.1H557.5V98.7H552.4zM511.5 98.7H521.7V102.3H511.5zM491.1 102.3H496.2V106.0H491.1zM480.8 106.0H486.0V109.6H480.8zM470.6 109.6H475.7V113.2H470.6zM460.4 113.2H465.5V116.8H460.4zM434.8 120.4H439.9V124.1H434.8zM424.6 124.1H429.7V127.7H424.6zM409.3 127.7H414.4V131.3H409.3zM393.9 131.3H399.0V134.9H393.9zM383.7 134.9H388.8V138.5H383.7zM373.5 138.5H378.6V142.2H373.5zM368.4 142.2H373.5V145.8H368.4zM353.0 149.4H358.1V153.0H353.0zM337.7 156.6H342.8V160.3H337.7zM296.8 171.1H301.9V174.7H296.8zM286.5 174.7H291.7V178.4H286.5zM261.0 185.6H266.1V189.2H261.0zM250.8 189.2H255.9V192.8H250.8zM235.4 196.5H240.5V200.1H235.4zM220.1 203.7H225.2V207.3H220.1zM215.0 207.3H220.1V210.9H215.0zM209.9 210.9H215.0V214.6H209.9zM204.7 214.6H209.9V218.2H204.7zM199.6 218.2H204.7V221.8H199.6zM194.5 221.8H199.6V225.4H194.5zM184.3 232.7H189.4V236.3H184.3zM174.1 247.1H179.2V250.8H174.1zM168.9 254.4H174.1V258.0H168.9zM168.9 258.0H174.1V261.6H168.9zM163.8 272.5H168.9V276.1H163.8zM163.8 276.1H168.9V279.7H163.8zM163.8 279.7H168.9V283.3H163.8z"/><path fill="#70cfe0" d="M189.4 80.6H194.5V84.2H189.4zM383.7 80.6H399.0V84.2H383.7zM455.3 84.2H460.4V87.9H455.3zM107.6 91.5H112.7V95.1H107.6zM501.3 91.5H506.4V95.1H501.3zM526.9 95.1H532.0V98.7H526.9zM537.1 95.1H542.2V98.7H537.1zM501.3 98.7H506.4V102.3H501.3zM486.0 102.3H491.1V106.0H486.0zM475.7 106.0H480.8V109.6H475.7zM439.9 116.8H445.0V120.4H439.9zM414.4 124.1H419.5V127.7H414.4zM399.0 127.7H404.1V131.3H399.0zM363.2 142.2H368.4V145.8H363.2zM342.8 153.0H347.9V156.6H342.8zM281.4 174.7H286.5V178.4H281.4zM255.9 185.6H261.0V189.2H255.9zM230.3 196.5H235.4V200.1H230.3zM199.6 214.6H204.7V218.2H199.6zM194.5 218.2H199.6V221.8H194.5zM179.2 232.7H184.3V236.3H179.2zM174.1 239.9H179.2V243.5H174.1zM168.9 247.1H174.1V250.8H168.9zM97.4 250.8H102.5V254.4H97.4zM163.8 254.4H168.9V258.0H163.8zM163.8 258.0H168.9V261.6H163.8zM158.7 276.1H163.8V279.7H158.7zM158.7 279.7H163.8V283.3H158.7zM158.7 283.3H163.8V287.0H158.7zM158.7 287.0H163.8V290.6H158.7zM158.7 290.6H163.8V294.2H158.7zM158.7 294.2H163.8V297.8H158.7z"/><path fill="#70d0e0" d="M194.5 80.6H199.6V84.2H194.5zM496.2 91.5H501.3V95.1H496.2zM532.0 95.1H537.1V98.7H532.0zM450.2 113.2H455.3V116.8H450.2zM383.7 131.3H388.8V134.9H383.7zM368.4 138.5H373.5V142.2H368.4zM332.6 156.6H337.7V160.3H332.6zM291.7 171.1H296.8V174.7H291.7zM245.6 189.2H250.8V192.8H245.6zM215.0 203.7H220.1V207.3H215.0zM209.9 207.3H215.0V210.9H209.9zM204.7 210.9H209.9V214.6H204.7zM189.4 221.8H194.5V225.4H189.4zM168.9 243.5H174.1V247.1H168.9zM158.7 272.5H163.8V276.1H158.7z"/><path fill="#71d0e0" d="M199.6 80.6H204.7V84.2H199.6zM378.6 80.6H383.7V84.2H378.6zM450.2 84.2H455.3V87.9H450.2zM475.7 87.9H480.8V91.5H475.7zM491.1 91.5H496.2V95.1H491.1zM97.4 95.1H102.5V98.7H97.4zM516.6 95.1H526.9V98.7H516.6zM491.1 98.7H501.3V102.3H491.1zM480.8 102.3H486.0V106.0H480.8zM470.6 106.0H475.7V109.6H470.6zM460.4 109.6H465.5V113.2H460.4zM434.8 116.8H439.9V120.4H434.8zM424.6 120.4H429.7V124.1H424.6zM409.3 124.1H414.4V127.7H409.3zM393.9 127.7H399.0V131.3H393.9zM373.5 134.9H378.6V138.5H373.5zM347.9 149.4H353.0V153.0H347.9zM322.3 160.3H327.5V163.9H322.3zM312.1 163.9H317.2V167.5H312.1zM301.9 167.5H307.0V171.1H301.9zM271.2 178.4H276.3V182.0H271.2zM261.0 182.0H266.1V185.6H261.0zM235.4 192.8H240.5V196.5H235.4zM225.2 196.5H230.3V200.1H225.2zM220.1 200.1H225.2V203.7H220.1zM184.3 225.4H189.4V229.0H184.3zM179.2 229.0H184.3V232.7H179.2zM174.1 236.3H179.2V239.9H174.1zM168.9 239.9H174.1V243.5H168.9zM163.8 247.1H168.9V250.8H163.8zM163.8 250.8H168.9V254.4H163.8zM158.7 261.6H163.8V265.2H158.7zM158.7 265.2H163.8V268.9H158.7zM158.7 268.9H163.8V272.5H158.7z"/><path fill="#74d2df" d="M204.7 80.6H235.4V84.2H204.7zM353.0 80.6H358.1V84.2H353.0zM429.7 84.2H439.9V87.9H429.7zM480.8 91.5H486.0V95.1H480.8zM496.2 95.1H501.3V98.7H496.2zM480.8 98.7H486.0V102.3H480.8zM470.6 102.3H475.7V106.0H470.6zM460.4 106.0H465.5V109.6H460.4zM434.8 113.2H439.9V116.8H434.8zM409.3 120.4H414.4V124.1H409.3zM291.7 167.5H296.8V171.1H291.7zM281.4 171.1H286.5V174.7H281.4zM271.2 174.7H276.3V178.4H271.2zM245.6 185.6H250.8V189.2H245.6zM225.2 192.8H230.3V196.5H225.2zM194.5 210.9H199.6V214.6H194.5zM189.4 214.6H194.5V218.2H189.4zM163.8 236.3H168.9V239.9H163.8zM158.7 243.5H163.8V247.1H158.7zM153.6 250.8H158.7V254.4H153.6zM153.6 254.4H158.7V258.0H153.6zM148.5 315.9H153.6V319.5H148.5zM148.5 319.5H153.6V323.2H148.5zM148.5 323.2H153.6V326.8H148.5zM148.5 326.8H153.6V330.4H148.5zM148.5 330.4H153.6V334.0H148.5zM148.5 334.0H153.6V337.6H148.5zM148.5 337.6H153.6V341.3H148.5zM148.5 341.3H153.6V344.9H148.5zM148.5 344.9H153.6V348.5H148.5zM148.5 348.5H153.6V352.1H148.5zM148.5 352.1H153.6V354.9H148.5z"/><path fill="#75d3de" d="M235.4 80.6H240.5V84.2H235.4zM332.6 80.6H337.7V84.2H332.6zM128.0 87.9H133.2V91.5H128.0zM112.7 91.5H117.8V95.1H112.7zM486.0 95.1H491.1V98.7H486.0zM92.3 98.7H97.4V102.3H92.3zM465.5 102.3H470.6V106.0H465.5zM455.3 106.0H460.4V109.6H455.3zM429.7 113.2H434.8V116.8H429.7zM419.5 116.8H424.6V120.4H419.5zM399.0 120.4H404.1V124.1H399.0zM373.5 127.7H378.6V131.3H373.5zM368.4 131.3H373.5V134.9H368.4zM363.2 134.9H368.4V138.5H363.2zM358.1 138.5H363.2V142.2H358.1zM353.0 142.2H358.1V145.8H353.0zM322.3 156.6H327.5V160.3H322.3zM312.1 160.3H317.2V163.9H312.1zM301.9 163.9H307.0V167.5H301.9zM250.8 182.0H255.9V185.6H250.8zM220.1 192.8H225.2V196.5H220.1zM215.0 196.5H220.1V200.1H215.0zM209.9 200.1H215.0V203.7H209.9zM199.6 207.3H204.7V210.9H199.6zM168.9 225.4H174.1V229.0H168.9zM163.8 232.7H168.9V236.3H163.8zM158.7 239.9H163.8V243.5H158.7zM97.4 243.5H102.5V247.1H97.4zM153.6 243.5H158.7V247.1H153.6zM148.5 250.8H153.6V254.4H148.5zM148.5 254.4H153.6V258.0H148.5zM148.5 258.0H153.6V261.6H148.5zM148.5 261.6H153.6V265.2H148.5zM148.5 265.2H153.6V268.9H148.5z"/><path fill="#77d5dd" d="M240.5 80.6H307.0V84.2H240.5zM353.0 84.2H358.1V87.9H353.0zM133.2 87.9H138.3V91.5H133.2zM368.4 87.9H373.5V91.5H368.4zM373.5 91.5H378.6V95.1H373.5zM378.6 95.1H383.7V98.7H378.6zM378.6 98.7H383.7V102.3H378.6zM378.6 102.3H383.7V106.0H378.6zM82.0 106.0H87.1V109.6H82.0zM378.6 109.6H383.7V113.2H378.6zM378.6 113.2H383.7V116.8H378.6zM373.5 120.4H378.6V124.1H373.5zM368.4 124.1H373.5V127.7H368.4zM363.2 127.7H368.4V131.3H363.2zM332.6 149.4H337.7V153.0H332.6zM322.3 153.0H327.5V156.6H322.3zM271.2 171.1H276.3V174.7H271.2zM168.9 221.8H174.1V225.4H168.9zM163.8 225.4H168.9V229.0H163.8zM143.4 254.4H148.5V258.0H143.4zM143.4 258.0H148.5V261.6H143.4zM143.4 261.6H148.5V265.2H143.4z"/><path fill="#77d4dd" d="M307.0 80.6H317.2V84.2H307.0zM383.7 102.3H388.8V106.0H383.7zM383.7 106.0H388.8V109.6H383.7zM378.6 116.8H383.7V120.4H378.6zM225.2 189.2H230.3V192.8H225.2zM158.7 232.7H163.8V236.3H158.7zM143.4 265.2H148.5V268.9H143.4zM143.4 268.9H148.5V272.5H143.4zM143.4 272.5H148.5V276.1H143.4zM143.4 276.1H148.5V279.7H143.4zM143.4 279.7H148.5V283.3H143.4z"/><path fill="#77d4de" d="M317.2 80.6H327.5V84.2H317.2zM358.1 84.2H368.4V87.9H358.1zM373.5 87.9H383.7V91.5H373.5zM378.6 91.5H388.8V95.1H378.6zM383.7 95.1H393.9V98.7H383.7zM383.7 98.7H393.9V102.3H383.7zM87.1 102.3H92.3V106.0H87.1zM388.8 102.3H393.9V106.0H388.8zM388.8 106.0H393.9V109.6H388.8zM383.7 109.6H393.9V113.2H383.7zM383.7 113.2H388.8V116.8H383.7zM383.7 116.8H388.8V120.4H383.7zM378.6 120.4H383.7V124.1H378.6zM358.1 134.9H363.2V138.5H358.1zM353.0 138.5H358.1V142.2H353.0zM347.9 142.2H353.0V145.8H347.9zM281.4 167.5H286.5V171.1H281.4zM143.4 283.3H148.5V287.0H143.4zM143.4 287.0H148.5V290.6H143.4zM143.4 290.6H148.5V294.2H143.4zM143.4 294.2H148.5V297.8H143.4zM143.4 297.8H148.5V301.4H143.4zM143.4 301.4H148.5V305.1H143.4zM143.4 305.1H148.5V308.7H143.4zM143.4 308.7H148.5V312.3H143.4zM143.4 312.3H148.5V315.9H143.4zM143.4 315.9H148.5V319.5H143.4zM143.4 319.5H148.5V323.2H143.4zM143.4 323.2H148.5V326.8H143.4zM143.4 326.8H148.5V330.4H143.4zM143.4 330.4H148.5V334.0H143.4zM143.4 334.0H148.5V337.6H143.4zM143.4 337.6H148.5V341.3H143.4zM143.4 341.3H148.5V344.9H143.4zM143.4 344.9H148.5V348.5H143.4zM143.4 348.5H148.5V352.1H143.4zM143.4 352.1H148.5V354.9H143.4z"/><path fill="#76d4de" d="M327.5 80.6H332.6V84.2H327.5zM163.8 84.2H174.1V87.9H163.8zM368.4 84.2H424.6V87.9H368.4zM383.7 87.9H460.4V91.5H383.7zM388.8 91.5H480.8V95.1H388.8zM102.5 95.1H107.6V98.7H102.5zM393.9 95.1H486.0V98.7H393.9zM393.9 98.7H480.8V102.3H393.9zM393.9 102.3H465.5V106.0H393.9zM393.9 106.0H455.3V109.6H393.9zM393.9 109.6H445.0V113.2H393.9zM75.9 113.2H82.0V116.8H75.9zM388.8 113.2H429.7V116.8H388.8zM388.8 116.8H414.4V120.4H388.8zM383.7 120.4H399.0V124.1H383.7zM373.5 124.1H383.7V127.7H373.5zM368.4 127.7H373.5V131.3H368.4zM363.2 131.3H368.4V134.9H363.2zM342.8 145.8H347.9V149.4H342.8zM337.7 149.4H342.8V153.0H337.7zM327.5 153.0H332.6V156.6H327.5zM317.2 156.6H322.3V160.3H317.2zM307.0 160.3H312.1V163.9H307.0zM296.8 163.9H301.9V167.5H296.8zM286.5 167.5H291.7V171.1H286.5zM266.1 174.7H271.2V178.4H266.1zM255.9 178.4H261.0V182.0H255.9zM245.6 182.0H250.8V185.6H245.6zM240.5 185.6H245.6V189.2H240.5zM230.3 189.2H235.4V192.8H230.3zM194.5 207.3H199.6V210.9H194.5zM189.4 210.9H194.5V214.6H189.4zM184.3 214.6H189.4V218.2H184.3zM179.2 218.2H184.3V221.8H179.2zM174.1 221.8H179.2V225.4H174.1zM163.8 229.0H168.9V232.7H163.8zM82.0 232.7H87.1V236.3H82.0zM158.7 236.3H163.8V239.9H158.7zM153.6 239.9H158.7V243.5H153.6zM148.5 243.5H153.6V247.1H148.5zM148.5 247.1H153.6V250.8H148.5z"/><path fill="#74d3df" d="M337.7 80.6H353.0V84.2H337.7zM424.6 84.2H429.7V87.9H424.6zM465.5 87.9H470.6V91.5H465.5zM491.1 95.1H496.2V98.7H491.1zM445.0 109.6H450.2V113.2H445.0zM404.1 120.4H409.3V124.1H404.1zM388.8 124.1H393.9V127.7H388.8zM378.6 127.7H383.7V131.3H378.6zM347.9 145.8H353.0V149.4H347.9zM332.6 153.0H337.7V156.6H332.6zM261.0 178.4H266.1V182.0H261.0zM235.4 189.2H240.5V192.8H235.4zM184.3 218.2H189.4V221.8H184.3zM179.2 221.8H184.3V225.4H179.2zM174.1 225.4H179.2V229.0H174.1zM168.9 229.0H174.1V232.7H168.9zM153.6 247.1H158.7V250.8H153.6zM148.5 268.9H153.6V272.5H148.5zM148.5 272.5H153.6V276.1H148.5zM148.5 276.1H153.6V279.7H148.5zM148.5 279.7H153.6V283.3H148.5zM148.5 283.3H153.6V287.0H148.5zM148.5 287.0H153.6V290.6H148.5zM148.5 290.6H153.6V294.2H148.5zM148.5 294.2H153.6V297.8H148.5zM148.5 297.8H153.6V301.4H148.5zM148.5 301.4H153.6V305.1H148.5zM148.5 305.1H153.6V308.7H148.5zM148.5 308.7H153.6V312.3H148.5zM148.5 312.3H153.6V315.9H148.5z"/><path fill="#72d1df" d="M358.1 80.6H378.6V84.2H358.1zM153.6 84.2H158.7V87.9H153.6zM439.9 84.2H450.2V87.9H439.9zM122.9 87.9H128.0V91.5H122.9zM486.0 91.5H491.1V95.1H486.0zM506.4 95.1H516.6V98.7H506.4zM486.0 98.7H491.1V102.3H486.0zM465.5 106.0H470.6V109.6H465.5zM455.3 109.6H460.4V113.2H455.3zM445.0 113.2H450.2V116.8H445.0zM429.7 116.8H434.8V120.4H429.7zM419.5 120.4H424.6V124.1H419.5zM399.0 124.1H409.3V127.7H399.0zM388.8 127.7H393.9V131.3H388.8zM378.6 131.3H383.7V134.9H378.6zM363.2 138.5H368.4V142.2H363.2zM358.1 142.2H363.2V145.8H358.1zM353.0 145.8H358.1V149.4H353.0zM337.7 153.0H342.8V156.6H337.7zM286.5 171.1H291.7V174.7H286.5zM276.3 174.7H281.4V178.4H276.3zM266.1 178.4H271.2V182.0H266.1zM250.8 185.6H255.9V189.2H250.8zM240.5 189.2H245.6V192.8H240.5zM199.6 210.9H204.7V214.6H199.6zM194.5 214.6H199.6V218.2H194.5zM189.4 218.2H194.5V221.8H189.4zM184.3 221.8H189.4V225.4H184.3zM174.1 232.7H179.2V236.3H174.1zM87.1 236.3H92.3V239.9H87.1zM168.9 236.3H174.1V239.9H168.9zM92.3 239.9H97.4V243.5H92.3zM163.8 243.5H168.9V247.1H163.8zM97.4 247.1H102.5V250.8H97.4zM158.7 250.8H163.8V254.4H158.7zM158.7 254.4H163.8V258.0H158.7zM158.7 258.0H163.8V261.6H158.7zM153.6 272.5H158.7V276.1H153.6zM153.6 276.1H158.7V279.7H153.6zM153.6 279.7H158.7V283.3H153.6zM153.6 283.3H158.7V287.0H153.6zM153.6 287.0H158.7V290.6H153.6zM153.6 290.6H158.7V294.2H153.6zM153.6 294.2H158.7V297.8H153.6zM153.6 297.8H158.7V301.4H153.6zM153.6 301.4H158.7V305.1H153.6zM153.6 305.1H158.7V308.7H153.6zM153.6 308.7H158.7V312.3H153.6zM153.6 312.3H158.7V315.9H153.6zM153.6 315.9H158.7V319.5H153.6zM153.6 319.5H158.7V323.2H153.6zM153.6 323.2H158.7V326.8H153.6zM153.6 326.8H158.7V330.4H153.6zM153.6 330.4H158.7V334.0H153.6zM153.6 334.0H158.7V337.6H153.6zM153.6 337.6H158.7V341.3H153.6zM153.6 341.3H158.7V344.9H153.6zM153.6 344.9H158.7V348.5H153.6zM153.6 348.5H158.7V352.1H153.6zM153.6 352.1H158.7V354.9H153.6z"/><path fill="#6fcfe0" d="M399.0 80.6H404.1V84.2H399.0zM148.5 84.2H153.6V87.9H148.5zM506.4 91.5H511.5V95.1H506.4zM542.2 95.1H547.3V98.7H542.2zM506.4 98.7H511.5V102.3H506.4zM465.5 109.6H470.6V113.2H465.5zM455.3 113.2H460.4V116.8H455.3zM429.7 120.4H434.8V124.1H429.7zM388.8 131.3H393.9V134.9H388.8zM378.6 134.9H383.7V138.5H378.6zM358.1 145.8H363.2V149.4H358.1zM266.1 182.0H271.2V185.6H266.1zM240.5 192.8H245.6V196.5H240.5zM184.3 229.0H189.4V232.7H184.3zM163.8 261.6H168.9V265.2H163.8zM158.7 297.8H163.8V301.4H158.7zM158.7 301.4H163.8V305.1H158.7zM158.7 305.1H163.8V308.7H158.7zM158.7 308.7H163.8V312.3H158.7zM158.7 312.3H163.8V315.9H158.7zM158.7 315.9H163.8V319.5H158.7zM158.7 319.5H163.8V323.2H158.7zM158.7 323.2H163.8V326.8H158.7zM158.7 326.8H163.8V330.4H158.7zM158.7 330.4H163.8V334.0H158.7zM158.7 334.0H163.8V337.6H158.7zM158.7 337.6H163.8V341.3H158.7zM158.7 341.3H163.8V344.9H158.7zM158.7 344.9H163.8V348.5H158.7zM158.7 348.5H163.8V352.1H158.7zM158.7 352.1H163.8V354.9H158.7z"/><path fill="#5fbfe3" d="M567.8 80.6H572.9V84.2H567.8zM475.7 131.3H480.8V134.9H475.7zM465.5 134.9H470.6V138.5H465.5zM455.3 138.5H460.4V142.2H455.3zM429.7 145.8H434.8V149.4H429.7zM404.1 153.0H409.3V156.6H404.1zM337.7 174.7H342.8V178.4H337.7zM225.2 225.4H230.3V229.0H225.2zM199.6 287.0H204.7V290.6H199.6zM199.6 290.6H204.7V294.2H199.6z"/><path fill="#73d2df" d="M158.7 84.2H163.8V87.9H158.7zM470.6 87.9H475.7V91.5H470.6zM501.3 95.1H506.4V98.7H501.3zM450.2 109.6H455.3V113.2H450.2zM439.9 113.2H445.0V116.8H439.9zM424.6 116.8H429.7V120.4H424.6zM393.9 124.1H399.0V127.7H393.9zM383.7 127.7H388.8V131.3H383.7zM373.5 131.3H378.6V134.9H373.5zM342.8 149.4H347.9V153.0H342.8zM307.0 163.9H312.1V167.5H307.0zM255.9 182.0H261.0V185.6H255.9zM220.1 196.5H225.2V200.1H220.1zM209.9 203.7H215.0V207.3H209.9zM204.7 207.3H209.9V210.9H204.7zM174.1 229.0H179.2V232.7H174.1zM75.9 232.7H82.0V236.3H75.9zM168.9 232.7H174.1V236.3H168.9zM163.8 239.9H168.9V243.5H163.8zM158.7 247.1H163.8V250.8H158.7zM153.6 258.0H158.7V261.6H153.6zM153.6 261.6H158.7V265.2H153.6z"/><path fill="#7ad6dc" d="M174.1 84.2H184.3V87.9H174.1zM337.7 84.2H342.8V87.9H337.7zM347.9 87.9H353.0V91.5H347.9zM117.8 91.5H122.9V95.1H117.8zM363.2 98.7H368.4V102.3H363.2zM363.2 102.3H368.4V106.0H363.2zM363.2 113.2H368.4V116.8H363.2zM363.2 116.8H368.4V120.4H363.2zM358.1 124.1H363.2V127.7H358.1zM353.0 131.3H358.1V134.9H353.0zM347.9 134.9H353.0V138.5H347.9zM342.8 138.5H347.9V142.2H342.8zM337.7 142.2H342.8V145.8H337.7zM322.3 149.4H327.5V153.0H322.3zM296.8 160.3H301.9V163.9H296.8zM266.1 171.1H271.2V174.7H266.1zM240.5 182.0H245.6V185.6H240.5zM230.3 185.6H235.4V189.2H230.3zM158.7 229.0H163.8V232.7H158.7zM143.4 247.1H148.5V250.8H143.4zM102.5 254.4H107.6V258.0H102.5zM102.5 305.1H107.6V308.7H102.5zM102.5 308.7H107.6V312.3H102.5zM102.5 312.3H107.6V315.9H102.5zM102.5 315.9H107.6V319.5H102.5zM102.5 319.5H107.6V323.2H102.5zM102.5 323.2H107.6V326.8H102.5zM102.5 326.8H107.6V330.4H102.5zM102.5 330.4H107.6V334.0H102.5zM102.5 334.0H107.6V337.6H102.5zM102.5 337.6H107.6V341.3H102.5zM102.5 341.3H107.6V344.9H102.5zM102.5 344.9H107.6V348.5H102.5zM102.5 348.5H107.6V352.1H102.5zM102.5 352.1H107.6V354.9H102.5z"/><path fill="#7bd6dc" d="M184.3 84.2H189.4V87.9H184.3zM358.1 95.1H363.2V98.7H358.1zM363.2 106.0H368.4V109.6H363.2zM363.2 109.6H368.4V113.2H363.2zM312.1 153.0H317.2V156.6H312.1zM194.5 203.7H199.6V207.3H194.5z"/><path fill="#7dd7da" d="M189.4 84.2H194.5V87.9H189.4zM148.5 87.9H153.6V91.5H148.5zM353.0 98.7H358.1V102.3H353.0zM353.0 120.4H358.1V124.1H353.0zM347.9 127.7H353.0V131.3H347.9zM322.3 145.8H327.5V149.4H322.3zM296.8 156.6H301.9V160.3H296.8zM286.5 160.3H291.7V163.9H286.5zM261.0 171.1H266.1V174.7H261.0zM235.4 182.0H240.5V185.6H235.4zM225.2 185.6H230.3V189.2H225.2zM209.9 192.8H215.0V196.5H209.9zM204.7 196.5H209.9V200.1H204.7zM174.1 214.6H179.2V218.2H174.1zM148.5 236.3H153.6V239.9H148.5zM102.5 247.1H107.6V250.8H102.5zM138.3 258.0H143.4V261.6H138.3z"/><path fill="#7ed8da" d="M194.5 84.2H204.7V87.9H194.5zM322.3 84.2H327.5V87.9H322.3zM337.7 87.9H342.8V91.5H337.7zM353.0 102.3H358.1V106.0H353.0zM353.0 116.8H358.1V120.4H353.0zM342.8 131.3H347.9V134.9H342.8zM337.7 134.9H342.8V138.5H337.7zM332.6 138.5H337.7V142.2H332.6zM327.5 142.2H332.6V145.8H327.5zM312.1 149.4H317.2V153.0H312.1zM301.9 153.0H307.0V156.6H301.9zM276.3 163.9H281.4V167.5H276.3zM250.8 174.7H255.9V178.4H250.8zM215.0 189.2H220.1V192.8H215.0zM189.4 203.7H194.5V207.3H189.4zM184.3 207.3H189.4V210.9H184.3zM179.2 210.9H184.3V214.6H179.2zM158.7 225.4H163.8V229.0H158.7zM138.3 254.4H143.4V258.0H138.3z"/><path fill="#80d9d9" d="M204.7 84.2H220.1V87.9H204.7zM301.9 84.2H312.1V87.9H301.9zM153.6 87.9H158.7V91.5H153.6zM332.6 87.9H337.7V91.5H332.6zM347.9 98.7H353.0V102.3H347.9zM347.9 120.4H353.0V124.1H347.9zM342.8 127.7H347.9V131.3H342.8zM337.7 131.3H342.8V134.9H337.7zM327.5 138.5H332.6V142.2H327.5zM322.3 142.2H327.5V145.8H322.3zM307.0 149.4H312.1V153.0H307.0zM296.8 153.0H301.9V156.6H296.8zM281.4 160.3H286.5V163.9H281.4zM255.9 171.1H261.0V174.7H255.9zM230.3 182.0H235.4V185.6H230.3zM220.1 185.6H225.2V189.2H220.1zM194.5 200.1H199.6V203.7H194.5zM75.9 229.0H82.0V232.7H75.9zM102.5 243.5H107.6V247.1H102.5zM138.3 247.1H143.4V250.8H138.3zM133.2 276.1H138.3V279.7H133.2zM133.2 279.7H138.3V283.3H133.2zM133.2 283.3H138.3V287.0H133.2zM133.2 287.0H138.3V290.6H133.2zM133.2 290.6H138.3V294.2H133.2zM133.2 294.2H138.3V297.8H133.2zM133.2 297.8H138.3V301.4H133.2zM133.2 301.4H138.3V305.1H133.2zM133.2 305.1H138.3V308.7H133.2zM133.2 308.7H138.3V312.3H133.2z"/><path fill="#80d9d8" d="M220.1 84.2H230.3V87.9H220.1zM133.2 272.5H138.3V276.1H133.2z"/><path fill="#81d9d8" d="M230.3 84.2H240.5V87.9H230.3zM291.7 84.2H301.9V87.9H291.7zM92.3 102.3H97.4V106.0H92.3zM347.9 102.3H353.0V106.0H347.9zM347.9 113.2H353.0V116.8H347.9zM347.9 116.8H353.0V120.4H347.9zM342.8 124.1H347.9V127.7H342.8zM332.6 134.9H337.7V138.5H332.6zM312.1 145.8H317.2V149.4H312.1zM286.5 156.6H291.7V160.3H286.5zM271.2 163.9H276.3V167.5H271.2zM245.6 174.7H250.8V178.4H245.6zM204.7 192.8H209.9V196.5H204.7zM199.6 196.5H204.7V200.1H199.6zM168.9 214.6H174.1V218.2H168.9zM163.8 218.2H168.9V221.8H163.8zM148.5 232.7H153.6V236.3H148.5zM97.4 236.3H102.5V239.9H97.4zM133.2 261.6H138.3V265.2H133.2zM133.2 265.2H138.3V268.9H133.2zM133.2 268.9H138.3V272.5H133.2z"/><path fill="#82dad8" d="M240.5 84.2H245.6V87.9H240.5zM281.4 84.2H291.7V87.9H281.4zM337.7 91.5H342.8V95.1H337.7zM112.7 95.1H117.8V98.7H112.7zM347.9 106.0H353.0V109.6H347.9zM347.9 109.6H353.0V113.2H347.9zM261.0 167.5H266.1V171.1H261.0zM235.4 178.4H240.5V182.0H235.4zM209.9 189.2H215.0V192.8H209.9zM184.3 203.7H189.4V207.3H184.3zM179.2 207.3H184.3V210.9H179.2zM158.7 221.8H163.8V225.4H158.7zM133.2 258.0H138.3V261.6H133.2z"/><path fill="#82dad7" d="M245.6 84.2H250.8V87.9H245.6zM276.3 84.2H281.4V87.9H276.3zM337.7 127.7H342.8V131.3H337.7zM322.3 138.5H327.5V142.2H322.3zM291.7 153.0H296.8V156.6H291.7zM276.3 160.3H281.4V163.9H276.3zM225.2 182.0H230.3V185.6H225.2zM143.4 236.3H148.5V239.9H143.4zM138.3 243.5H143.4V247.1H138.3z"/><path fill="#83dad7" d="M250.8 84.2H276.3V87.9H250.8zM327.5 87.9H332.6V91.5H327.5zM128.0 91.5H133.2V95.1H128.0zM102.5 98.7H107.6V102.3H102.5zM82.0 109.6H87.1V113.2H82.0zM342.8 120.4H347.9V124.1H342.8zM332.6 131.3H337.7V134.9H332.6zM327.5 134.9H332.6V138.5H327.5zM307.0 145.8H312.1V149.4H307.0zM250.8 171.1H255.9V174.7H250.8zM215.0 185.6H220.1V189.2H215.0zM189.4 200.1H194.5V203.7H189.4zM153.6 225.4H158.7V229.0H153.6zM82.0 229.0H87.1V232.7H82.0zM133.2 254.4H138.3V258.0H133.2z"/><path fill="#7fd8d9" d="M312.1 84.2H322.3V87.9H312.1zM122.9 91.5H128.0V95.1H122.9zM342.8 91.5H347.9V95.1H342.8zM347.9 95.1H353.0V98.7H347.9zM353.0 106.0H358.1V109.6H353.0zM353.0 109.6H358.1V113.2H353.0zM353.0 113.2H358.1V116.8H353.0zM347.9 124.1H353.0V127.7H347.9zM317.2 145.8H322.3V149.4H317.2zM291.7 156.6H296.8V160.3H291.7zM266.1 167.5H271.2V171.1H266.1zM240.5 178.4H245.6V182.0H240.5zM153.6 229.0H158.7V232.7H153.6zM143.4 239.9H148.5V243.5H143.4zM138.3 250.8H143.4V254.4H138.3zM133.2 319.5H138.3V323.2H133.2zM133.2 323.2H138.3V326.8H133.2zM133.2 326.8H138.3V330.4H133.2zM133.2 330.4H138.3V334.0H133.2zM133.2 334.0H138.3V337.6H133.2zM133.2 337.6H138.3V341.3H133.2zM133.2 341.3H138.3V344.9H133.2zM133.2 344.9H138.3V348.5H133.2zM133.2 348.5H138.3V352.1H133.2zM133.2 352.1H138.3V354.9H133.2z"/><path fill="#7cd7db" d="M327.5 84.2H332.6V87.9H327.5zM143.4 87.9H148.5V91.5H143.4zM342.8 87.9H347.9V91.5H342.8zM107.6 95.1H112.7V98.7H107.6zM353.0 95.1H358.1V98.7H353.0zM97.4 98.7H102.5V102.3H97.4zM358.1 102.3H363.2V106.0H358.1zM358.1 106.0H363.2V109.6H358.1zM358.1 109.6H363.2V113.2H358.1zM358.1 113.2H363.2V116.8H358.1zM358.1 116.8H363.2V120.4H358.1zM353.0 124.1H358.1V127.7H353.0zM347.9 131.3H353.0V134.9H347.9zM342.8 134.9H347.9V138.5H342.8zM337.7 138.5H342.8V142.2H337.7zM332.6 142.2H337.7V145.8H332.6zM317.2 149.4H322.3V153.0H317.2zM271.2 167.5H276.3V171.1H271.2zM245.6 178.4H250.8V182.0H245.6zM199.6 200.1H204.7V203.7H199.6zM163.8 221.8H168.9V225.4H163.8zM153.6 232.7H158.7V236.3H153.6zM143.4 243.5H148.5V247.1H143.4zM102.5 250.8H107.6V254.4H102.5zM138.3 261.6H143.4V265.2H138.3zM138.3 265.2H143.4V268.9H138.3zM138.3 268.9H143.4V272.5H138.3zM138.3 272.5H143.4V276.1H138.3zM138.3 276.1H143.4V279.7H138.3zM138.3 279.7H143.4V283.3H138.3z"/><path fill="#7bd6db" d="M332.6 84.2H337.7V87.9H332.6zM353.0 91.5H358.1V95.1H353.0zM358.1 120.4H363.2V124.1H358.1zM353.0 127.7H358.1V131.3H353.0zM327.5 145.8H332.6V149.4H327.5zM301.9 156.6H307.0V160.3H301.9zM255.9 174.7H261.0V178.4H255.9zM87.1 232.7H92.3V236.3H87.1zM138.3 301.4H143.4V305.1H138.3zM138.3 305.1H143.4V308.7H138.3zM138.3 308.7H143.4V312.3H138.3zM138.3 312.3H143.4V315.9H138.3zM138.3 315.9H143.4V319.5H138.3zM138.3 319.5H143.4V323.2H138.3zM138.3 323.2H143.4V326.8H138.3zM138.3 326.8H143.4V330.4H138.3zM138.3 330.4H143.4V334.0H138.3zM138.3 334.0H143.4V337.6H138.3zM138.3 337.6H143.4V341.3H138.3zM138.3 341.3H143.4V344.9H138.3zM138.3 344.9H143.4V348.5H138.3zM138.3 348.5H143.4V352.1H138.3zM138.3 352.1H143.4V354.9H138.3z"/><path fill="#79d5dd" d="M342.8 84.2H347.9V87.9H342.8zM363.2 91.5H368.4V95.1H363.2zM368.4 98.7H373.5V102.3H368.4zM368.4 116.8H373.5V120.4H368.4zM327.5 149.4H332.6V153.0H327.5zM250.8 178.4H255.9V182.0H250.8zM143.4 250.8H148.5V254.4H143.4z"/><path fill="#78d5dd" d="M347.9 84.2H353.0V87.9H347.9zM358.1 87.9H368.4V91.5H358.1zM368.4 91.5H373.5V95.1H368.4zM368.4 95.1H378.6V98.7H368.4zM373.5 98.7H378.6V102.3H373.5zM373.5 102.3H378.6V106.0H373.5zM373.5 106.0H383.7V109.6H373.5zM373.5 109.6H378.6V113.2H373.5zM373.5 113.2H378.6V116.8H373.5zM373.5 116.8H378.6V120.4H373.5zM368.4 120.4H373.5V124.1H368.4zM363.2 124.1H368.4V127.7H363.2zM358.1 131.3H363.2V134.9H358.1zM353.0 134.9H358.1V138.5H353.0zM347.9 138.5H353.0V142.2H347.9zM342.8 142.2H347.9V145.8H342.8zM337.7 145.8H342.8V149.4H337.7zM312.1 156.6H317.2V160.3H312.1zM301.9 160.3H307.0V163.9H301.9zM291.7 163.9H296.8V167.5H291.7zM261.0 174.7H266.1V178.4H261.0zM235.4 185.6H240.5V189.2H235.4zM215.0 192.8H220.1V196.5H215.0zM209.9 196.5H215.0V200.1H209.9zM204.7 200.1H209.9V203.7H204.7zM199.6 203.7H204.7V207.3H199.6zM92.3 236.3H97.4V239.9H92.3zM153.6 236.3H158.7V239.9H153.6z"/><path fill="#6fcee0" d="M460.4 84.2H465.5V87.9H460.4zM480.8 87.9H486.0V91.5H480.8zM511.5 91.5H516.6V95.1H511.5zM547.3 95.1H552.4V98.7H547.3zM445.0 116.8H450.2V120.4H445.0zM419.5 124.1H424.6V127.7H419.5zM404.1 127.7H409.3V131.3H404.1zM327.5 160.3H332.6V163.9H327.5zM317.2 163.9H322.3V167.5H317.2zM307.0 167.5H312.1V171.1H307.0zM276.3 178.4H281.4V182.0H276.3zM225.2 200.1H230.3V203.7H225.2zM189.4 225.4H194.5V229.0H189.4zM179.2 236.3H184.3V239.9H179.2zM174.1 243.5H179.2V247.1H174.1zM168.9 250.8H174.1V254.4H168.9zM97.4 254.4H102.5V258.0H97.4zM163.8 265.2H168.9V268.9H163.8zM163.8 268.9H168.9V272.5H163.8z"/><path fill="#65c6e4" d="M511.5 84.2H516.6V87.9H511.5zM414.4 138.5H419.5V142.2H414.4zM353.0 160.3H358.1V163.9H353.0zM301.9 178.4H307.0V182.0H301.9zM250.8 200.1H255.9V203.7H250.8z"/><path fill="#79d5dc" d="M138.3 87.9H143.4V91.5H138.3zM353.0 87.9H358.1V91.5H353.0zM368.4 102.3H373.5V106.0H368.4zM368.4 113.2H373.5V116.8H368.4zM358.1 127.7H363.2V131.3H358.1zM317.2 153.0H322.3V156.6H317.2zM189.4 207.3H194.5V210.9H189.4zM184.3 210.9H189.4V214.6H184.3zM174.1 218.2H179.2V221.8H174.1zM97.4 239.9H102.5V243.5H97.4z"/><path fill="#82d9d8" d="M158.7 87.9H163.8V91.5H158.7zM342.8 95.1H347.9V98.7H342.8zM317.2 142.2H322.3V145.8H317.2zM301.9 149.4H307.0V153.0H301.9zM174.1 210.9H179.2V214.6H174.1zM92.3 232.7H97.4V236.3H92.3z"/><path fill="#84dad7" d="M163.8 87.9H168.9V91.5H163.8zM342.8 98.7H347.9V102.3H342.8zM312.1 142.2H317.2V145.8H312.1zM296.8 149.4H301.9V153.0H296.8zM281.4 156.6H286.5V160.3H281.4zM128.0 315.9H133.2V319.5H128.0zM128.0 319.5H133.2V323.2H128.0zM128.0 323.2H133.2V326.8H128.0zM128.0 326.8H133.2V330.4H128.0zM128.0 330.4H133.2V334.0H128.0zM128.0 334.0H133.2V337.6H128.0zM128.0 337.6H133.2V341.3H128.0zM128.0 341.3H133.2V344.9H128.0zM128.0 344.9H133.2V348.5H128.0zM128.0 348.5H133.2V352.1H128.0zM128.0 352.1H133.2V354.9H128.0z"/><path fill="#85dbd6" d="M168.9 87.9H174.1V91.5H168.9zM322.3 87.9H327.5V91.5H322.3zM133.2 91.5H138.3V95.1H133.2zM342.8 102.3H347.9V106.0H342.8zM87.1 106.0H92.3V109.6H87.1zM342.8 113.2H347.9V116.8H342.8zM332.6 127.7H337.7V131.3H332.6zM327.5 131.3H332.6V134.9H327.5zM322.3 134.9H327.5V138.5H322.3zM301.9 145.8H307.0V149.4H301.9zM286.5 153.0H291.7V156.6H286.5zM255.9 167.5H261.0V171.1H255.9zM230.3 178.4H235.4V182.0H230.3zM220.1 182.0H225.2V185.6H220.1zM102.5 239.9H107.6V243.5H102.5zM138.3 239.9H143.4V243.5H138.3zM128.0 268.9H133.2V272.5H128.0zM128.0 272.5H133.2V276.1H128.0zM128.0 276.1H133.2V279.7H128.0zM128.0 279.7H133.2V283.3H128.0z"/><path fill="#87dcd5" d="M174.1 87.9H179.2V91.5H174.1zM332.6 124.1H337.7V127.7H332.6zM317.2 134.9H322.3V138.5H317.2zM312.1 138.5H317.2V142.2H312.1zM296.8 145.8H301.9V149.4H296.8zM281.4 153.0H286.5V156.6H281.4zM276.3 156.6H281.4V160.3H276.3zM261.0 163.9H266.1V167.5H261.0zM235.4 174.7H240.5V178.4H235.4zM209.9 185.6H215.0V189.2H209.9zM184.3 200.1H189.4V203.7H184.3zM153.6 221.8H158.7V225.4H153.6zM138.3 236.3H143.4V239.9H138.3zM128.0 258.0H133.2V261.6H128.0z"/><path fill="#88dcd5" d="M179.2 87.9H184.3V91.5H179.2zM312.1 87.9H317.2V91.5H312.1zM322.3 131.3H327.5V134.9H322.3zM301.9 142.2H307.0V145.8H301.9zM225.2 178.4H230.3V182.0H225.2zM189.4 196.5H194.5V200.1H189.4zM148.5 225.4H153.6V229.0H148.5zM133.2 243.5H138.3V247.1H133.2zM128.0 254.4H133.2V258.0H128.0zM122.9 326.8H128.0V330.4H122.9zM122.9 330.4H128.0V334.0H122.9zM122.9 334.0H128.0V337.6H122.9zM122.9 337.6H128.0V341.3H122.9zM122.9 341.3H128.0V344.9H122.9zM122.9 344.9H128.0V348.5H122.9zM122.9 348.5H128.0V352.1H122.9zM122.9 352.1H128.0V354.9H122.9z"/><path fill="#89ddd4" d="M184.3 87.9H189.4V91.5H184.3zM301.9 87.9H312.1V91.5H301.9zM327.5 91.5H332.6V95.1H327.5zM337.7 98.7H342.8V102.3H337.7zM97.4 102.3H102.5V106.0H97.4zM307.0 138.5H312.1V142.2H307.0zM291.7 145.8H296.8V149.4H291.7zM266.1 160.3H271.2V163.9H266.1zM240.5 171.1H245.6V174.7H240.5zM215.0 182.0H220.1V185.6H215.0zM194.5 192.8H199.6V196.5H194.5zM143.4 229.0H148.5V232.7H143.4zM97.4 232.7H102.5V236.3H97.4zM128.0 250.8H133.2V254.4H128.0zM122.9 272.5H128.0V276.1H122.9zM122.9 276.1H128.0V279.7H122.9zM122.9 279.7H128.0V283.3H122.9zM122.9 283.3H128.0V287.0H122.9zM122.9 287.0H128.0V290.6H122.9zM122.9 290.6H128.0V294.2H122.9zM122.9 294.2H128.0V297.8H122.9z"/><path fill="#8bddd3" d="M189.4 87.9H194.5V91.5H189.4zM143.4 91.5H148.5V95.1H143.4zM332.6 95.1H337.7V98.7H332.6zM337.7 102.3H342.8V106.0H337.7zM337.7 109.6H342.8V113.2H337.7zM327.5 124.1H332.6V127.7H327.5zM322.3 127.7H327.5V131.3H322.3zM301.9 138.5H307.0V142.2H301.9zM281.4 149.4H286.5V153.0H281.4zM276.3 153.0H281.4V156.6H276.3zM220.1 178.4H225.2V182.0H220.1zM199.6 189.2H204.7V192.8H199.6zM163.8 210.9H168.9V214.6H163.8zM158.7 214.6H163.8V218.2H158.7zM153.6 218.2H158.7V221.8H153.6zM92.3 229.0H97.4V232.7H92.3zM102.5 236.3H107.6V239.9H102.5zM122.9 258.0H128.0V261.6H122.9zM122.9 261.6H128.0V265.2H122.9zM107.6 305.1H112.7V308.7H107.6z"/><path fill="#8bded3" d="M194.5 87.9H199.6V91.5H194.5zM291.7 87.9H296.8V91.5H291.7zM337.7 106.0H342.8V109.6H337.7zM245.6 167.5H250.8V171.1H245.6zM184.3 196.5H189.4V200.1H184.3z"/><path fill="#8cded2" d="M199.6 87.9H209.9V91.5H199.6zM286.5 87.9H291.7V91.5H286.5zM322.3 91.5H327.5V95.1H322.3zM332.6 116.8H337.7V120.4H332.6zM312.1 131.3H317.2V134.9H312.1zM291.7 142.2H296.8V145.8H291.7zM261.0 160.3H266.1V163.9H261.0zM235.4 171.1H240.5V174.7H235.4zM143.4 225.4H148.5V229.0H143.4zM133.2 236.3H138.3V239.9H133.2zM107.6 243.5H112.7V247.1H107.6zM128.0 243.5H133.2V247.1H128.0zM122.9 254.4H128.0V258.0H122.9zM107.6 308.7H112.7V312.3H107.6zM107.6 312.3H112.7V315.9H107.6zM117.8 312.3H122.9V315.9H117.8zM107.6 315.9H112.7V319.5H107.6zM117.8 315.9H122.9V319.5H117.8zM107.6 319.5H112.7V323.2H107.6zM117.8 319.5H122.9V323.2H117.8zM107.6 323.2H112.7V326.8H107.6zM117.8 323.2H122.9V326.8H117.8zM107.6 326.8H112.7V330.4H107.6zM117.8 326.8H122.9V330.4H117.8zM107.6 330.4H112.7V334.0H107.6zM117.8 330.4H122.9V334.0H117.8zM107.6 334.0H112.7V337.6H107.6zM117.8 334.0H122.9V337.6H117.8zM107.6 337.6H112.7V341.3H107.6zM117.8 337.6H122.9V341.3H117.8zM107.6 341.3H112.7V344.9H107.6zM117.8 341.3H122.9V344.9H117.8zM107.6 344.9H112.7V348.5H107.6zM117.8 344.9H122.9V348.5H117.8zM107.6 348.5H112.7V352.1H107.6zM117.8 348.5H122.9V352.1H117.8zM107.6 352.1H112.7V354.9H107.6zM117.8 352.1H122.9V354.9H117.8z"/><path fill="#8dded2" d="M209.9 87.9H245.6V91.5H209.9zM281.4 87.9H286.5V91.5H281.4zM148.5 91.5H153.6V95.1H148.5zM327.5 120.4H332.6V124.1H327.5zM317.2 127.7H322.3V131.3H317.2zM296.8 138.5H301.9V142.2H296.8zM225.2 174.7H230.3V178.4H225.2zM209.9 182.0H215.0V185.6H209.9zM189.4 192.8H194.5V196.5H189.4zM75.9 225.4H82.0V229.0H75.9zM138.3 229.0H143.4V232.7H138.3zM122.9 250.8H128.0V254.4H122.9zM117.8 276.1H122.9V279.7H117.8zM117.8 279.7H122.9V283.3H117.8zM117.8 283.3H122.9V287.0H117.8zM117.8 287.0H122.9V290.6H117.8zM117.8 290.6H122.9V294.2H117.8zM117.8 294.2H122.9V297.8H117.8zM117.8 297.8H122.9V301.4H117.8zM117.8 301.4H122.9V305.1H117.8zM117.8 305.1H122.9V308.7H117.8zM117.8 308.7H122.9V312.3H117.8z"/><path fill="#8eded1" d="M245.6 87.9H281.4V91.5H245.6zM301.9 134.9H307.0V138.5H301.9zM266.1 156.6H271.2V160.3H266.1zM128.0 239.9H133.2V243.5H128.0zM117.8 265.2H122.9V268.9H117.8zM117.8 268.9H122.9V272.5H117.8z"/><path fill="#8addd3" d="M296.8 87.9H301.9V91.5H296.8zM317.2 131.3H322.3V134.9H317.2zM271.2 156.6H276.3V160.3H271.2zM255.9 163.9H261.0V167.5H255.9zM230.3 174.7H235.4V178.4H230.3zM179.2 200.1H184.3V203.7H179.2zM174.1 203.7H179.2V207.3H174.1zM168.9 207.3H174.1V210.9H168.9zM138.3 232.7H143.4V236.3H138.3zM107.6 247.1H112.7V250.8H107.6zM128.0 247.1H133.2V250.8H128.0zM107.6 258.0H112.7V261.6H107.6zM107.6 261.6H112.7V265.2H107.6zM107.6 265.2H112.7V268.9H107.6zM122.9 265.2H128.0V268.9H122.9zM107.6 268.9H112.7V272.5H107.6zM107.6 272.5H112.7V276.1H107.6zM107.6 276.1H112.7V279.7H107.6zM107.6 279.7H112.7V283.3H107.6zM107.6 283.3H112.7V287.0H107.6zM107.6 287.0H112.7V290.6H107.6zM107.6 290.6H112.7V294.2H107.6zM107.6 294.2H112.7V297.8H107.6zM107.6 297.8H112.7V301.4H107.6zM107.6 301.4H112.7V305.1H107.6z"/><path fill="#86dcd5" d="M317.2 87.9H322.3V91.5H317.2zM75.9 120.4H82.0V124.1H75.9zM337.7 120.4H342.8V124.1H337.7zM245.6 171.1H250.8V174.7H245.6zM204.7 189.2H209.9V192.8H204.7zM179.2 203.7H184.3V207.3H179.2zM158.7 218.2H163.8V221.8H158.7zM87.1 229.0H92.3V232.7H87.1zM128.0 261.6H133.2V265.2H128.0z"/><path fill="#75d4de" d="M460.4 87.9H465.5V91.5H460.4zM414.4 116.8H419.5V120.4H414.4zM383.7 124.1H388.8V127.7H383.7zM276.3 171.1H281.4V174.7H276.3zM204.7 203.7H209.9V207.3H204.7z"/><path fill="#88dcd4" d="M138.3 91.5H143.4V95.1H138.3zM117.8 95.1H122.9V98.7H117.8zM337.7 116.8H342.8V120.4H337.7zM327.5 127.7H332.6V131.3H327.5zM286.5 149.4H291.7V153.0H286.5zM250.8 167.5H255.9V171.1H250.8zM122.9 301.4H128.0V305.1H122.9zM122.9 305.1H128.0V308.7H122.9zM122.9 308.7H128.0V312.3H122.9zM122.9 312.3H128.0V315.9H122.9zM122.9 315.9H128.0V319.5H122.9zM122.9 319.5H128.0V323.2H122.9zM122.9 323.2H128.0V326.8H122.9z"/><path fill="#90dfd0" d="M153.6 91.5H158.7V95.1H153.6zM312.1 91.5H317.2V95.1H312.1zM327.5 95.1H332.6V98.7H327.5zM112.7 98.7H117.8V102.3H112.7zM332.6 98.7H337.7V102.3H332.6zM102.5 102.3H107.6V106.0H102.5zM92.3 106.0H97.4V109.6H92.3zM327.5 116.8H332.6V120.4H327.5zM317.2 124.1H322.3V127.7H317.2zM312.1 127.7H317.2V131.3H312.1zM296.8 134.9H301.9V138.5H296.8zM255.9 160.3H261.0V163.9H255.9zM220.1 174.7H225.2V178.4H220.1zM199.6 185.6H204.7V189.2H199.6zM184.3 192.8H189.4V196.5H184.3zM153.6 214.6H158.7V218.2H153.6zM148.5 218.2H153.6V221.8H148.5zM143.4 221.8H148.5V225.4H143.4zM128.0 236.3H133.2V239.9H128.0zM122.9 243.5H128.0V247.1H122.9zM117.8 254.4H122.9V258.0H117.8zM112.7 319.5H117.8V323.2H112.7zM112.7 323.2H117.8V326.8H112.7zM112.7 326.8H117.8V330.4H112.7zM112.7 330.4H117.8V334.0H112.7zM112.7 334.0H117.8V337.6H112.7zM112.7 337.6H117.8V341.3H112.7zM112.7 341.3H117.8V344.9H112.7zM112.7 344.9H117.8V348.5H112.7zM112.7 348.5H117.8V352.1H112.7zM112.7 352.1H117.8V354.9H112.7z"/><path fill="#91dfd0" d="M158.7 91.5H163.8V95.1H158.7zM322.3 120.4H327.5V124.1H322.3zM301.9 131.3H307.0V134.9H301.9zM245.6 163.9H250.8V167.5H245.6zM204.7 182.0H209.9V185.6H204.7zM138.3 225.4H143.4V229.0H138.3zM97.4 229.0H102.5V232.7H97.4zM112.7 308.7H117.8V312.3H112.7zM112.7 312.3H117.8V315.9H112.7zM112.7 315.9H117.8V319.5H112.7z"/><path fill="#92e0cf" d="M163.8 91.5H168.9V95.1H163.8zM82.0 113.2H87.1V116.8H82.0zM307.0 127.7H312.1V131.3H307.0zM291.7 134.9H296.8V138.5H291.7zM286.5 138.5H291.7V142.2H286.5zM281.4 142.2H286.5V145.8H281.4zM276.3 145.8H281.4V149.4H276.3zM271.2 149.4H276.3V153.0H271.2zM261.0 156.6H266.1V160.3H261.0zM225.2 171.1H230.3V174.7H225.2zM209.9 178.4H215.0V182.0H209.9zM189.4 189.2H194.5V192.8H189.4zM174.1 196.5H179.2V200.1H174.1zM168.9 200.1H174.1V203.7H168.9zM133.2 229.0H138.3V232.7H133.2zM122.9 239.9H128.0V243.5H122.9zM117.8 247.1H122.9V250.8H117.8zM112.7 261.6H117.8V265.2H112.7zM112.7 265.2H117.8V268.9H112.7zM112.7 268.9H117.8V272.5H112.7zM112.7 272.5H117.8V276.1H112.7zM112.7 276.1H117.8V279.7H112.7zM112.7 279.7H117.8V283.3H112.7zM112.7 283.3H117.8V287.0H112.7z"/><path fill="#94e1ce" d="M168.9 91.5H174.1V95.1H168.9zM296.8 91.5H301.9V95.1H296.8zM133.2 95.1H138.3V98.7H133.2zM322.3 95.1H327.5V98.7H322.3zM87.1 109.6H92.3V113.2H87.1zM286.5 134.9H291.7V138.5H286.5zM281.4 138.5H286.5V142.2H281.4zM230.3 167.5H235.4V171.1H230.3zM158.7 207.3H163.8V210.9H158.7zM153.6 210.9H158.7V214.6H153.6zM148.5 214.6H153.6V218.2H148.5zM143.4 218.2H148.5V221.8H143.4zM138.3 221.8H143.4V225.4H138.3zM133.2 225.4H138.3V229.0H133.2zM122.9 236.3H128.0V239.9H122.9z"/><path fill="#95e1cd" d="M174.1 91.5H184.3V95.1H174.1zM220.1 171.1H225.2V174.7H220.1zM168.9 196.5H174.1V200.1H168.9zM128.0 229.0H133.2V232.7H128.0z"/><path fill="#96e1cd" d="M184.3 91.5H189.4V95.1H184.3zM286.5 91.5H296.8V95.1H286.5zM317.2 95.1H322.3V98.7H317.2zM117.8 98.7H122.9V102.3H117.8zM107.6 102.3H112.7V106.0H107.6zM317.2 116.8H322.3V120.4H317.2zM312.1 120.4H317.2V124.1H312.1zM296.8 127.7H301.9V131.3H296.8zM271.2 145.8H276.3V149.4H271.2zM245.6 160.3H250.8V163.9H245.6zM204.7 178.4H209.9V182.0H204.7zM174.1 192.8H179.2V196.5H174.1z"/><path fill="#99e2cb" d="M189.4 91.5H240.5V95.1H189.4zM271.2 95.1H286.5V98.7H271.2zM281.4 98.7H291.7V102.3H281.4zM286.5 102.3H296.8V106.0H286.5zM291.7 106.0H301.9V109.6H291.7zM291.7 109.6H301.9V113.2H291.7zM291.7 113.2H301.9V116.8H291.7zM291.7 116.8H296.8V120.4H291.7zM291.7 120.4H296.8V124.1H291.7zM286.5 124.1H291.7V127.7H286.5zM281.4 127.7H286.5V131.3H281.4zM276.3 134.9H281.4V138.5H276.3zM266.1 145.8H271.2V149.4H266.1zM255.9 153.0H261.0V156.6H255.9zM230.3 163.9H235.4V167.5H230.3zM122.9 229.0H128.0V232.7H122.9zM107.6 232.7H112.7V236.3H107.6z"/><path fill="#98e2cb" d="M240.5 91.5H245.6V95.1H240.5zM291.7 98.7H296.8V102.3H291.7zM296.8 102.3H301.9V106.0H296.8zM296.8 116.8H301.9V120.4H296.8zM158.7 203.7H163.8V207.3H158.7z"/><path fill="#98e2cc" d="M245.6 91.5H286.5V95.1H245.6zM138.3 95.1H148.5V98.7H138.3zM286.5 95.1H317.2V98.7H286.5zM296.8 98.7H332.6V102.3H296.8zM301.9 102.3H332.6V106.0H301.9zM301.9 106.0H332.6V109.6H301.9zM301.9 109.6H332.6V113.2H301.9zM301.9 113.2H322.3V116.8H301.9zM301.9 116.8H317.2V120.4H301.9zM296.8 120.4H312.1V124.1H296.8zM291.7 124.1H301.9V127.7H291.7zM286.5 127.7H291.7V131.3H286.5zM281.4 131.3H286.5V134.9H281.4zM276.3 138.5H281.4V142.2H276.3zM271.2 142.2H276.3V145.8H271.2zM250.8 156.6H255.9V160.3H250.8zM240.5 160.3H245.6V163.9H240.5zM215.0 171.1H220.1V174.7H215.0zM194.5 182.0H199.6V185.6H194.5zM168.9 192.8H174.1V196.5H168.9zM163.8 200.1H168.9V203.7H163.8zM153.6 207.3H158.7V210.9H153.6zM148.5 210.9H153.6V214.6H148.5zM143.4 214.6H148.5V218.2H143.4zM133.2 221.8H138.3V225.4H133.2zM97.4 225.4H102.5V229.0H97.4zM128.0 225.4H133.2V229.0H128.0z"/><path fill="#93e0cf" d="M301.9 91.5H307.0V95.1H301.9zM128.0 95.1H133.2V98.7H128.0zM332.6 102.3H337.7V106.0H332.6zM332.6 106.0H337.7V109.6H332.6zM312.1 124.1H317.2V127.7H312.1zM296.8 131.3H301.9V134.9H296.8zM266.1 153.0H271.2V156.6H266.1zM250.8 160.3H255.9V163.9H250.8zM179.2 192.8H184.3V196.5H179.2zM128.0 232.7H133.2V236.3H128.0zM107.6 236.3H112.7V239.9H107.6zM117.8 243.5H122.9V247.1H117.8zM112.7 258.0H117.8V261.6H112.7z"/><path fill="#91e0d0" d="M307.0 91.5H312.1V95.1H307.0zM332.6 109.6H337.7V113.2H332.6zM87.1 225.4H92.3V229.0H87.1zM102.5 232.7H107.6V236.3H102.5zM117.8 250.8H122.9V254.4H117.8zM112.7 294.2H117.8V297.8H112.7zM112.7 297.8H117.8V301.4H112.7zM112.7 301.4H117.8V305.1H112.7zM112.7 305.1H117.8V308.7H112.7z"/><path fill="#8edfd1" d="M317.2 91.5H322.3V95.1H317.2zM122.9 95.1H128.0V98.7H122.9zM281.4 145.8H286.5V149.4H281.4zM276.3 149.4H281.4V153.0H276.3zM271.2 153.0H276.3V156.6H271.2zM240.5 167.5H245.6V171.1H240.5zM215.0 178.4H220.1V182.0H215.0zM194.5 189.2H199.6V192.8H194.5zM174.1 200.1H179.2V203.7H174.1zM122.9 247.1H128.0V250.8H122.9z"/><path fill="#86dbd6" d="M332.6 91.5H337.7V95.1H332.6zM337.7 95.1H342.8V98.7H337.7zM342.8 106.0H347.9V109.6H342.8zM342.8 109.6H347.9V113.2H342.8zM307.0 142.2H312.1V145.8H307.0zM291.7 149.4H296.8V153.0H291.7zM271.2 160.3H276.3V163.9H271.2zM199.6 192.8H204.7V196.5H199.6zM143.4 232.7H148.5V236.3H143.4zM133.2 247.1H138.3V250.8H133.2zM128.0 265.2H133.2V268.9H128.0z"/><path fill="#7dd7db" d="M347.9 91.5H353.0V95.1H347.9zM75.9 116.8H82.0V120.4H75.9zM307.0 153.0H312.1V156.6H307.0zM168.9 218.2H174.1V221.8H168.9z"/><path fill="#79d6dc" d="M358.1 91.5H363.2V95.1H358.1zM363.2 95.1H368.4V98.7H363.2zM368.4 106.0H373.5V109.6H368.4zM368.4 109.6H373.5V113.2H368.4zM363.2 120.4H368.4V124.1H363.2zM332.6 145.8H337.7V149.4H332.6zM307.0 156.6H312.1V160.3H307.0zM286.5 163.9H291.7V167.5H286.5zM276.3 167.5H281.4V171.1H276.3zM220.1 189.2H225.2V192.8H220.1zM179.2 214.6H184.3V218.2H179.2zM148.5 239.9H153.6V243.5H148.5zM102.5 258.0H107.6V261.6H102.5zM102.5 261.6H107.6V265.2H102.5zM102.5 265.2H107.6V268.9H102.5zM102.5 268.9H107.6V272.5H102.5zM102.5 272.5H107.6V276.1H102.5zM102.5 276.1H107.6V279.7H102.5zM102.5 279.7H107.6V283.3H102.5zM102.5 283.3H107.6V287.0H102.5zM102.5 287.0H107.6V290.6H102.5zM102.5 290.6H107.6V294.2H102.5zM102.5 294.2H107.6V297.8H102.5zM102.5 297.8H107.6V301.4H102.5zM102.5 301.4H107.6V305.1H102.5z"/><path fill="#56a3d8" d="M75.9 95.1H82.0V98.7H75.9zM562.6 138.5H572.9V142.2H562.6zM542.2 142.2H547.3V145.8H542.2zM511.5 149.4H516.6V153.0H511.5zM501.3 153.0H506.4V156.6H501.3zM460.4 167.5H465.5V171.1H460.4zM450.2 171.1H455.3V174.7H450.2zM414.4 182.0H419.5V185.6H414.4zM404.1 185.6H409.3V189.2H404.1zM393.9 189.2H399.0V192.8H393.9zM378.6 196.5H383.7V200.1H378.6zM363.2 203.7H368.4V207.3H363.2zM358.1 207.3H363.2V210.9H358.1zM332.6 225.4H337.7V229.0H332.6zM327.5 229.0H332.6V232.7H327.5zM317.2 239.9H322.3V243.5H317.2zM312.1 247.1H317.2V250.8H312.1zM307.0 254.4H312.1V258.0H307.0zM301.9 261.6H307.0V265.2H301.9zM296.8 268.9H301.9V272.5H296.8zM291.7 279.7H296.8V283.3H291.7zM286.5 294.2H291.7V297.8H286.5zM286.5 297.8H291.7V301.4H286.5zM281.4 312.3H286.5V315.9H281.4zM281.4 315.9H286.5V319.5H281.4zM281.4 319.5H286.5V323.2H281.4zM281.4 323.2H286.5V326.8H281.4z"/><path fill="#9be3c8" d="M148.5 95.1H153.6V98.7H148.5zM255.9 95.1H261.0V98.7H255.9zM266.1 98.7H271.2V102.3H266.1zM271.2 102.3H276.3V106.0H271.2zM276.3 109.6H281.4V113.2H276.3zM276.3 124.1H281.4V127.7H276.3zM261.0 145.8H266.1V149.4H261.0zM255.9 149.4H261.0V153.0H255.9zM235.4 160.3H240.5V163.9H235.4zM204.7 174.7H209.9V178.4H204.7zM163.8 196.5H168.9V200.1H163.8z"/><path fill="#9ce3c7" d="M153.6 95.1H158.7V98.7H153.6zM250.8 95.1H255.9V98.7H250.8zM122.9 98.7H128.0V102.3H122.9zM261.0 98.7H266.1V102.3H261.0zM271.2 106.0H276.3V109.6H271.2z"/><path fill="#9fe3c4" d="M158.7 95.1H168.9V98.7H158.7zM266.1 109.6H271.2V113.2H266.1zM266.1 127.7H271.2V131.3H266.1zM230.3 160.3H235.4V163.9H230.3zM215.0 167.5H220.1V171.1H215.0zM179.2 185.6H184.3V189.2H179.2zM122.9 225.4H128.0V229.0H122.9z"/><path fill="#a0e3c3" d="M168.9 95.1H174.1V98.7H168.9zM250.8 98.7H255.9V102.3H250.8zM266.1 124.1H271.2V127.7H266.1zM255.9 142.2H261.0V145.8H255.9z"/><path fill="#a1e4c1" d="M174.1 95.1H179.2V98.7H174.1zM225.2 95.1H230.3V98.7H225.2zM261.0 109.6H266.1V113.2H261.0zM75.9 127.7H82.0V131.3H75.9zM261.0 131.3H266.1V134.9H261.0zM220.1 163.9H225.2V167.5H220.1zM199.6 174.7H204.7V178.4H199.6z"/><path fill="#a2e4c1" d="M179.2 95.1H184.3V98.7H179.2zM245.6 98.7H250.8V102.3H245.6zM255.9 138.5H261.0V142.2H255.9z"/><path fill="#a2e4c0" d="M184.3 95.1H189.4V98.7H184.3zM220.1 95.1H225.2V98.7H220.1zM133.2 98.7H138.3V102.3H133.2zM261.0 113.2H266.1V116.8H261.0zM261.0 127.7H266.1V131.3H261.0zM163.8 192.8H168.9V196.5H163.8zM92.3 221.8H97.4V225.4H92.3z"/><path fill="#a3e4bf" d="M189.4 95.1H194.5V98.7H189.4zM209.9 95.1H215.0V98.7H209.9zM250.8 102.3H255.9V106.0H250.8zM261.0 120.4H266.1V124.1H261.0zM255.9 134.9H261.0V138.5H255.9zM250.8 142.2H255.9V145.8H250.8zM225.2 160.3H230.3V163.9H225.2zM204.7 171.1H209.9V174.7H204.7zM184.3 182.0H189.4V185.6H184.3z"/><path fill="#a4e4be" d="M194.5 95.1H204.7V98.7H194.5zM240.5 98.7H245.6V102.3H240.5zM255.9 109.6H261.0V113.2H255.9zM245.6 145.8H250.8V149.4H245.6zM230.3 156.6H235.4V160.3H230.3zM158.7 196.5H163.8V200.1H158.7zM153.6 200.1H158.7V203.7H153.6zM148.5 203.7H153.6V207.3H148.5zM143.4 207.3H148.5V210.9H143.4z"/><path fill="#a4e4bf" d="M204.7 95.1H209.9V98.7H204.7z"/><path fill="#a3e4c0" d="M215.0 95.1H220.1V98.7H215.0zM255.9 106.0H261.0V109.6H255.9zM261.0 116.8H266.1V120.4H261.0zM261.0 124.1H266.1V127.7H261.0zM168.9 189.2H174.1V192.8H168.9z"/><path fill="#a0e4c2" d="M230.3 95.1H235.4V98.7H230.3zM255.9 102.3H261.0V106.0H255.9zM250.8 145.8H255.9V149.4H250.8zM87.1 221.8H92.3V225.4H87.1zM112.7 229.0H117.8V232.7H112.7z"/><path fill="#9fe3c3" d="M235.4 95.1H240.5V98.7H235.4zM128.0 98.7H133.2V102.3H128.0zM266.1 113.2H271.2V116.8H266.1z"/><path fill="#9ee3c5" d="M240.5 95.1H245.6V98.7H240.5zM255.9 98.7H261.0V102.3H255.9zM261.0 102.3H266.1V106.0H261.0zM266.1 106.0H271.2V109.6H266.1zM266.1 131.3H271.2V134.9H266.1zM255.9 145.8H261.0V149.4H255.9zM250.8 149.4H255.9V153.0H250.8zM189.4 182.0H194.5V185.6H189.4zM158.7 200.1H163.8V203.7H158.7zM153.6 203.7H158.7V207.3H153.6zM148.5 207.3H153.6V210.9H148.5zM128.0 221.8H133.2V225.4H128.0zM107.6 229.0H112.7V232.7H107.6z"/><path fill="#9de3c6" d="M245.6 95.1H250.8V98.7H245.6zM112.7 102.3H117.8V106.0H112.7zM102.5 106.0H107.6V109.6H102.5zM271.2 109.6H276.3V113.2H271.2zM271.2 113.2H276.3V116.8H271.2zM271.2 120.4H276.3V124.1H271.2zM271.2 124.1H276.3V127.7H271.2zM266.1 134.9H271.2V138.5H266.1zM261.0 142.2H266.1V145.8H261.0zM245.6 153.0H250.8V156.6H245.6zM209.9 171.1H215.0V174.7H209.9zM143.4 210.9H148.5V214.6H143.4zM138.3 214.6H143.4V218.2H138.3zM133.2 218.2H138.3V221.8H133.2z"/><path fill="#9ae2c9" d="M261.0 95.1H266.1V98.7H261.0zM271.2 98.7H276.3V102.3H271.2zM276.3 102.3H281.4V106.0H276.3zM281.4 109.6H286.5V113.2H281.4zM281.4 113.2H286.5V116.8H281.4zM281.4 116.8H286.5V120.4H281.4zM281.4 120.4H286.5V124.1H281.4zM266.1 142.2H271.2V145.8H266.1z"/><path fill="#9ae2ca" d="M266.1 95.1H271.2V98.7H266.1zM276.3 98.7H281.4V102.3H276.3zM281.4 102.3H286.5V106.0H281.4zM281.4 106.0H286.5V109.6H281.4zM286.5 109.6H291.7V113.2H286.5zM286.5 113.2H291.7V116.8H286.5zM286.5 116.8H291.7V120.4H286.5zM281.4 124.1H286.5V127.7H281.4zM276.3 131.3H281.4V134.9H276.3zM271.2 138.5H276.3V142.2H271.2zM245.6 156.6H250.8V160.3H245.6zM220.1 167.5H225.2V171.1H220.1zM199.6 178.4H204.7V182.0H199.6zM184.3 185.6H189.4V189.2H184.3zM75.9 221.8H82.0V225.4H75.9zM117.8 232.7H122.9V236.3H117.8z"/><path fill="#6ecde1" d="M557.5 95.1H562.6V98.7H557.5zM496.2 102.3H501.3V106.0H496.2zM450.2 116.8H455.3V120.4H450.2zM179.2 239.9H184.3V243.5H179.2zM163.8 283.3H168.9V287.0H163.8z"/><path fill="#6ccde1" d="M567.8 95.1H572.9V98.7H567.8zM291.7 174.7H296.8V178.4H291.7zM97.4 283.3H102.5V287.0H97.4zM97.4 290.6H102.5V294.2H97.4zM97.4 312.3H102.5V315.9H97.4zM97.4 334.0H102.5V337.6H97.4z"/><path fill="#8addd4" d="M107.6 98.7H112.7V102.3H107.6zM337.7 113.2H342.8V116.8H337.7zM332.6 120.4H337.7V124.1H332.6zM312.1 134.9H317.2V138.5H312.1zM296.8 142.2H301.9V145.8H296.8zM133.2 239.9H138.3V243.5H133.2zM107.6 250.8H112.7V254.4H107.6zM107.6 254.4H112.7V258.0H107.6zM122.9 268.9H128.0V272.5H122.9z"/><path fill="#a4e4bd" d="M138.3 98.7H143.4V102.3H138.3zM255.9 131.3H261.0V134.9H255.9z"/><path fill="#a7e5bb" d="M143.4 98.7H148.5V102.3H143.4zM97.4 109.6H102.5V113.2H97.4zM255.9 120.4H261.0V124.1H255.9zM250.8 134.9H255.9V138.5H250.8zM245.6 142.2H250.8V145.8H245.6zM107.6 225.4H112.7V229.0H107.6z"/><path fill="#a9e5b9" d="M148.5 98.7H153.6V102.3H148.5zM250.8 109.6H255.9V113.2H250.8zM250.8 131.3H255.9V134.9H250.8z"/><path fill="#aae6b7" d="M153.6 98.7H158.7V102.3H153.6zM240.5 102.3H245.6V106.0H240.5zM250.8 113.2H255.9V116.8H250.8z"/><path fill="#ace6b5" d="M158.7 98.7H168.9V102.3H158.7zM209.9 163.9H215.0V167.5H209.9zM184.3 178.4H189.4V182.0H184.3zM138.3 207.3H143.4V210.9H138.3z"/><path fill="#ace6b4" d="M168.9 98.7H174.1V102.3H168.9zM215.0 98.7H220.1V102.3H215.0z"/><path fill="#ade6b3" d="M174.1 98.7H184.3V102.3H174.1zM209.9 98.7H215.0V102.3H209.9zM128.0 102.3H133.2V106.0H128.0zM245.6 131.3H250.8V134.9H245.6zM215.0 160.3H220.1V163.9H215.0zM168.9 185.6H174.1V189.2H168.9zM128.0 214.6H133.2V218.2H128.0zM117.8 221.8H122.9V225.4H117.8z"/><path fill="#aee6b3" d="M184.3 98.7H189.4V102.3H184.3zM235.4 102.3H240.5V106.0H235.4zM112.7 106.0H117.8V109.6H112.7zM75.9 131.3H82.0V134.9H75.9zM240.5 138.5H245.6V142.2H240.5zM189.4 174.7H194.5V178.4H189.4zM122.9 218.2H128.0V221.8H122.9zM102.5 221.8H107.6V225.4H102.5z"/><path fill="#aee6b2" d="M189.4 98.7H199.6V102.3H189.4zM204.7 98.7H209.9V102.3H204.7zM245.6 109.6H250.8V113.2H245.6zM92.3 113.2H97.4V116.8H92.3zM230.3 149.4H235.4V153.0H230.3zM220.1 156.6H225.2V160.3H220.1zM75.9 218.2H82.0V221.8H75.9z"/><path fill="#afe6b2" d="M199.6 98.7H204.7V102.3H199.6zM225.2 153.0H230.3V156.6H225.2z"/><path fill="#abe6b6" d="M220.1 98.7H225.2V102.3H220.1zM245.6 106.0H250.8V109.6H245.6zM250.8 116.8H255.9V120.4H250.8zM82.0 120.4H87.1V124.1H82.0zM250.8 124.1H255.9V127.7H250.8zM245.6 134.9H250.8V138.5H245.6zM240.5 142.2H245.6V145.8H240.5zM204.7 167.5H209.9V171.1H204.7zM158.7 192.8H163.8V196.5H158.7zM153.6 196.5H158.7V200.1H153.6zM148.5 200.1H153.6V203.7H148.5zM143.4 203.7H148.5V207.3H143.4z"/><path fill="#aae5b7" d="M225.2 98.7H230.3V102.3H225.2zM122.9 102.3H128.0V106.0H122.9zM250.8 127.7H255.9V131.3H250.8z"/><path fill="#a8e5b9" d="M230.3 98.7H235.4V102.3H230.3zM240.5 145.8H245.6V149.4H240.5zM220.1 160.3H225.2V163.9H220.1zM112.7 225.4H117.8V229.0H112.7z"/><path fill="#a6e5bb" d="M235.4 98.7H240.5V102.3H235.4zM245.6 102.3H250.8V106.0H245.6zM107.6 106.0H112.7V109.6H107.6zM255.9 116.8H261.0V120.4H255.9zM255.9 124.1H261.0V127.7H255.9zM215.0 163.9H220.1V167.5H215.0z"/><path fill="#7bd7db" d="M358.1 98.7H363.2V102.3H358.1zM291.7 160.3H296.8V163.9H291.7zM281.4 163.9H286.5V167.5H281.4zM138.3 283.3H143.4V287.0H138.3zM138.3 287.0H143.4V290.6H138.3zM138.3 290.6H143.4V294.2H138.3zM138.3 294.2H143.4V297.8H138.3zM138.3 297.8H143.4V301.4H138.3z"/><path fill="#a5e4bd" d="M117.8 102.3H122.9V106.0H117.8zM240.5 149.4H245.6V153.0H240.5zM235.4 153.0H240.5V156.6H235.4zM209.9 167.5H215.0V171.1H209.9zM138.3 210.9H143.4V214.6H138.3z"/><path fill="#b0e7b0" d="M133.2 102.3H138.3V106.0H133.2zM240.5 106.0H245.6V109.6H240.5zM102.5 109.6H107.6V113.2H102.5zM245.6 124.1H250.8V127.7H245.6zM240.5 134.9H245.6V138.5H240.5zM235.4 142.2H240.5V145.8H235.4zM174.1 182.0H179.2V185.6H174.1z"/><path fill="#b2e7ae" d="M138.3 102.3H143.4V106.0H138.3zM245.6 116.8H250.8V120.4H245.6zM240.5 131.3H245.6V134.9H240.5zM204.7 163.9H209.9V167.5H204.7zM82.0 218.2H87.1V221.8H82.0zM107.6 221.8H117.8V225.4H107.6z"/><path fill="#b5e8ab" d="M143.4 102.3H148.5V106.0H143.4zM220.1 102.3H225.2V106.0H220.1z"/><path fill="#b6e8a9" d="M148.5 102.3H153.6V106.0H148.5zM215.0 102.3H220.1V106.0H215.0zM240.5 124.1H245.6V127.7H240.5zM230.3 142.2H235.4V145.8H230.3zM117.8 218.2H122.9V221.8H117.8z"/><path fill="#b9e8a6" d="M153.6 102.3H168.9V106.0H153.6zM230.3 106.0H235.4V109.6H230.3zM97.4 113.2H102.5V116.8H97.4zM153.6 189.2H158.7V192.8H153.6z"/><path fill="#b9e8a5" d="M168.9 102.3H194.5V106.0H168.9zM204.7 102.3H209.9V106.0H204.7zM230.3 138.5H235.4V142.2H230.3zM204.7 160.3H209.9V163.9H204.7z"/><path fill="#b9e9a5" d="M194.5 102.3H204.7V106.0H194.5zM235.4 127.7H240.5V131.3H235.4z"/><path fill="#b8e8a7" d="M209.9 102.3H215.0V106.0H209.9zM122.9 106.0H128.0V109.6H122.9zM199.6 163.9H204.7V167.5H199.6zM138.3 200.1H143.4V203.7H138.3zM87.1 218.2H92.3V221.8H87.1z"/><path fill="#b3e7ad" d="M225.2 102.3H230.3V106.0H225.2zM235.4 138.5H240.5V142.2H235.4zM230.3 145.8H235.4V149.4H230.3z"/><path fill="#b0e7af" d="M230.3 102.3H235.4V106.0H230.3z"/><path fill="#9de3c7" d="M266.1 102.3H271.2V106.0H266.1zM92.3 109.6H97.4V113.2H92.3zM82.0 116.8H87.1V120.4H82.0zM271.2 127.7H276.3V131.3H271.2zM240.5 156.6H245.6V160.3H240.5zM225.2 163.9H230.3V167.5H225.2z"/><path fill="#73d1df" d="M475.7 102.3H480.8V106.0H475.7zM414.4 120.4H419.5V124.1H414.4zM368.4 134.9H373.5V138.5H368.4zM327.5 156.6H332.6V160.3H327.5zM317.2 160.3H322.3V163.9H317.2zM296.8 167.5H301.9V171.1H296.8zM230.3 192.8H235.4V196.5H230.3zM215.0 200.1H220.1V203.7H215.0zM179.2 225.4H184.3V229.0H179.2zM153.6 265.2H158.7V268.9H153.6zM153.6 268.9H158.7V272.5H153.6z"/><path fill="#97e2cc" d="M97.4 106.0H102.5V109.6H97.4zM322.3 113.2H327.5V116.8H322.3zM291.7 127.7H296.8V131.3H291.7zM266.1 149.4H271.2V153.0H266.1zM225.2 167.5H230.3V171.1H225.2zM209.9 174.7H215.0V178.4H209.9zM189.4 185.6H194.5V189.2H189.4zM138.3 218.2H143.4V221.8H138.3zM112.7 236.3H122.9V239.9H112.7z"/><path fill="#b4e7ac" d="M117.8 106.0H122.9V109.6H117.8z"/><path fill="#bbe9a3" d="M128.0 106.0H133.2V109.6H128.0zM225.2 106.0H230.3V109.6H225.2zM240.5 116.8H245.6V120.4H240.5zM235.4 124.1H240.5V127.7H235.4zM230.3 134.9H235.4V138.5H230.3zM215.0 153.0H220.1V156.6H215.0zM133.2 203.7H138.3V207.3H133.2z"/><path fill="#bde9a1" d="M133.2 106.0H138.3V109.6H133.2zM194.5 106.0H204.7V109.6H194.5zM112.7 109.6H117.8V113.2H112.7zM209.9 109.6H220.1V113.2H209.9zM215.0 113.2H225.2V116.8H215.0zM92.3 116.8H97.4V120.4H92.3zM220.1 116.8H225.2V120.4H220.1zM220.1 120.4H230.3V124.1H220.1zM225.2 124.1H230.3V127.7H225.2zM225.2 127.7H230.3V131.3H225.2zM225.2 131.3H230.3V134.9H225.2zM220.1 134.9H225.2V138.5H220.1zM220.1 138.5H225.2V142.2H220.1zM220.1 142.2H225.2V145.8H220.1zM215.0 145.8H220.1V149.4H215.0zM209.9 153.0H215.0V156.6H209.9zM204.7 156.6H209.9V160.3H204.7zM163.8 182.0H168.9V185.6H163.8z"/><path fill="#bee9a1" d="M138.3 106.0H143.4V109.6H138.3zM184.3 106.0H194.5V109.6H184.3zM204.7 109.6H209.9V113.2H204.7zM209.9 113.2H215.0V116.8H209.9zM215.0 116.8H220.1V120.4H215.0zM215.0 120.4H220.1V124.1H215.0zM220.1 124.1H225.2V127.7H220.1zM220.1 127.7H225.2V131.3H220.1zM220.1 131.3H225.2V134.9H220.1zM215.0 142.2H220.1V145.8H215.0zM209.9 149.4H215.0V153.0H209.9zM168.9 178.4H174.1V182.0H168.9zM148.5 189.2H153.6V192.8H148.5z"/><path fill="#bfeaa0" d="M143.4 106.0H148.5V109.6H143.4zM174.1 106.0H184.3V109.6H174.1zM194.5 109.6H199.6V113.2H194.5zM102.5 113.2H107.6V116.8H102.5zM204.7 113.2H209.9V116.8H204.7zM209.9 116.8H215.0V120.4H209.9zM209.9 120.4H215.0V124.1H209.9zM215.0 127.7H220.1V131.3H215.0zM215.0 131.3H220.1V134.9H215.0zM215.0 134.9H220.1V138.5H215.0zM209.9 142.2H215.0V145.8H209.9zM209.9 145.8H215.0V149.4H209.9zM199.6 156.6H204.7V160.3H199.6zM194.5 160.3H199.6V163.9H194.5zM189.4 163.9H194.5V167.5H189.4zM179.2 171.1H184.3V174.7H179.2zM174.1 174.7H179.2V178.4H174.1z"/><path fill="#c0ea9f" d="M148.5 106.0H153.6V109.6H148.5zM158.7 106.0H168.9V109.6H158.7zM117.8 109.6H122.9V113.2H117.8zM189.4 109.6H194.5V113.2H189.4zM204.7 120.4H209.9V124.1H204.7zM209.9 127.7H215.0V131.3H209.9zM209.9 131.3H215.0V134.9H209.9zM209.9 134.9H215.0V138.5H209.9zM209.9 138.5H215.0V142.2H209.9zM153.6 185.6H158.7V189.2H153.6zM75.9 214.6H82.0V218.2H75.9z"/><path fill="#c1ea9f" d="M153.6 106.0H158.7V109.6H153.6zM184.3 109.6H189.4V113.2H184.3zM194.5 113.2H199.6V116.8H194.5zM199.6 116.8H204.7V120.4H199.6zM204.7 124.1H209.9V127.7H204.7zM204.7 142.2H209.9V145.8H204.7zM204.7 145.8H209.9V149.4H204.7zM199.6 153.0H204.7V156.6H199.6zM133.2 200.1H138.3V203.7H133.2z"/><path fill="#c0eaa0" d="M168.9 106.0H174.1V109.6H168.9zM199.6 113.2H204.7V116.8H199.6zM204.7 116.8H209.9V120.4H204.7zM209.9 124.1H215.0V127.7H209.9zM204.7 149.4H209.9V153.0H204.7zM184.3 167.5H189.4V171.1H184.3z"/><path fill="#bde9a2" d="M204.7 106.0H209.9V109.6H204.7zM225.2 116.8H230.3V120.4H225.2zM225.2 134.9H230.3V138.5H225.2zM215.0 149.4H220.1V153.0H215.0zM199.6 160.3H204.7V163.9H199.6zM117.8 214.6H122.9V218.2H117.8z"/><path fill="#bce9a2" d="M209.9 106.0H225.2V109.6H209.9zM220.1 109.6H240.5V113.2H220.1zM225.2 113.2H245.6V116.8H225.2zM230.3 116.8H240.5V120.4H230.3zM230.3 120.4H240.5V124.1H230.3zM230.3 124.1H235.4V127.7H230.3zM230.3 127.7H235.4V131.3H230.3zM230.3 131.3H235.4V134.9H230.3zM75.9 138.5H82.0V142.2H75.9zM225.2 138.5H230.3V142.2H225.2zM225.2 142.2H230.3V145.8H225.2zM220.1 145.8H225.2V149.4H220.1zM194.5 163.9H199.6V167.5H194.5zM189.4 167.5H194.5V171.1H189.4zM184.3 171.1H189.4V174.7H184.3zM158.7 185.6H163.8V189.2H158.7zM143.4 192.8H148.5V196.5H143.4zM138.3 196.5H143.4V200.1H138.3zM128.0 207.3H133.2V210.9H128.0zM122.9 210.9H128.0V214.6H122.9zM92.3 218.2H117.8V221.8H92.3z"/><path fill="#b5e8aa" d="M235.4 106.0H240.5V109.6H235.4zM235.4 134.9H240.5V138.5H235.4zM163.8 185.6H168.9V189.2H163.8zM128.0 210.9H133.2V214.6H128.0z"/><path fill="#a6e5bc" d="M250.8 106.0H255.9V109.6H250.8zM255.9 113.2H261.0V116.8H255.9zM255.9 127.7H261.0V131.3H255.9zM189.4 178.4H194.5V182.0H189.4zM174.1 185.6H179.2V189.2H174.1zM128.0 218.2H133.2V221.8H128.0zM122.9 221.8H128.0V225.4H122.9z"/><path fill="#a0e4c3" d="M261.0 106.0H266.1V109.6H261.0zM266.1 116.8H271.2V120.4H266.1zM266.1 120.4H271.2V124.1H266.1zM261.0 134.9H266.1V138.5H261.0zM235.4 156.6H240.5V160.3H235.4zM194.5 178.4H199.6V182.0H194.5zM102.5 225.4H107.6V229.0H102.5z"/><path fill="#9be3c9" d="M276.3 106.0H281.4V109.6H276.3zM276.3 127.7H281.4V131.3H276.3zM271.2 134.9H276.3V138.5H271.2zM250.8 153.0H255.9V156.6H250.8zM112.7 232.7H117.8V236.3H112.7z"/><path fill="#99e2ca" d="M286.5 106.0H291.7V109.6H286.5zM286.5 120.4H291.7V124.1H286.5zM261.0 149.4H266.1V153.0H261.0z"/><path fill="#b8e8a6" d="M107.6 109.6H112.7V113.2H107.6zM240.5 120.4H245.6V124.1H240.5zM75.9 134.9H82.0V138.5H75.9z"/><path fill="#c2ea9e" d="M122.9 109.6H128.0V113.2H122.9zM179.2 109.6H184.3V113.2H179.2zM189.4 113.2H194.5V116.8H189.4zM194.5 116.8H199.6V120.4H194.5zM199.6 120.4H204.7V124.1H199.6zM204.7 131.3H209.9V134.9H204.7zM204.7 134.9H209.9V138.5H204.7zM204.7 138.5H209.9V142.2H204.7zM199.6 149.4H204.7V153.0H199.6zM189.4 160.3H194.5V163.9H189.4zM128.0 203.7H133.2V207.3H128.0zM112.7 214.6H117.8V218.2H112.7z"/><path fill="#c4eb9c" d="M128.0 109.6H133.2V113.2H128.0zM174.1 171.1H179.2V174.7H174.1zM168.9 174.7H174.1V178.4H168.9z"/><path fill="#c6eb9c" d="M133.2 109.6H138.3V113.2H133.2zM107.6 214.6H112.7V218.2H107.6z"/><path fill="#c7eb9b" d="M138.3 109.6H158.7V113.2H138.3zM112.7 113.2H117.8V116.8H112.7zM174.1 113.2H179.2V116.8H174.1zM194.5 131.3H199.6V134.9H194.5zM194.5 134.9H199.6V138.5H194.5zM194.5 138.5H199.6V142.2H194.5zM194.5 142.2H199.6V145.8H194.5zM189.4 153.0H194.5V156.6H189.4zM184.3 160.3H189.4V163.9H184.3zM148.5 185.6H153.6V189.2H148.5z"/><path fill="#c6eb9b" d="M158.7 109.6H163.8V113.2H158.7zM184.3 116.8H189.4V120.4H184.3zM189.4 120.4H194.5V124.1H189.4zM194.5 127.7H199.6V131.3H194.5zM194.5 145.8H199.6V149.4H194.5z"/><path fill="#c5eb9c" d="M163.8 109.6H168.9V113.2H163.8zM179.2 113.2H184.3V116.8H179.2zM194.5 124.1H199.6V127.7H194.5zM194.5 149.4H199.6V153.0H194.5zM189.4 156.6H194.5V160.3H189.4zM143.4 189.2H148.5V192.8H143.4zM138.3 192.8H143.4V196.5H138.3zM82.0 214.6H87.1V218.2H82.0z"/><path fill="#c4eb9d" d="M168.9 109.6H174.1V113.2H168.9zM97.4 116.8H102.5V120.4H97.4zM189.4 116.8H194.5V120.4H189.4zM194.5 120.4H199.6V124.1H194.5zM199.6 131.3H204.7V134.9H199.6zM199.6 134.9H204.7V138.5H199.6zM199.6 138.5H204.7V142.2H199.6zM199.6 142.2H204.7V145.8H199.6zM179.2 167.5H184.3V171.1H179.2zM163.8 178.4H168.9V182.0H163.8z"/><path fill="#c3ea9d" d="M174.1 109.6H179.2V113.2H174.1zM107.6 113.2H112.7V116.8H107.6zM184.3 113.2H189.4V116.8H184.3zM82.0 127.7H87.1V131.3H82.0zM199.6 127.7H204.7V131.3H199.6zM199.6 145.8H204.7V149.4H199.6zM194.5 153.0H199.6V156.6H194.5zM184.3 163.9H189.4V167.5H184.3zM122.9 207.3H128.0V210.9H122.9zM117.8 210.9H122.9V214.6H117.8z"/><path fill="#bee9a0" d="M199.6 109.6H204.7V113.2H199.6zM87.1 120.4H92.3V124.1H87.1zM215.0 124.1H220.1V127.7H215.0zM215.0 138.5H220.1V142.2H215.0zM204.7 153.0H209.9V156.6H204.7z"/><path fill="#b6e8a8" d="M240.5 109.6H245.6V113.2H240.5z"/><path fill="#a1e4c2" d="M87.1 113.2H92.3V116.8H87.1zM245.6 149.4H250.8V153.0H245.6zM240.5 153.0H245.6V156.6H240.5z"/><path fill="#caec99" d="M117.8 113.2H122.9V116.8H117.8zM102.5 116.8H107.6V120.4H102.5zM189.4 131.3H194.5V134.9H189.4zM189.4 145.8H194.5V149.4H189.4zM168.9 171.1H174.1V174.7H168.9zM158.7 178.4H163.8V182.0H158.7zM128.0 200.1H133.2V203.7H128.0zM112.7 210.9H117.8V214.6H112.7zM97.4 214.6H102.5V218.2H97.4z"/><path fill="#ccec97" d="M122.9 113.2H128.0V116.8H122.9zM184.3 127.7H189.4V131.3H184.3z"/><path fill="#ceed96" d="M128.0 113.2H133.2V116.8H128.0zM153.6 113.2H158.7V116.8H153.6zM168.9 116.8H174.1V120.4H168.9zM179.2 124.1H184.3V127.7H179.2zM184.3 131.3H189.4V134.9H184.3zM75.9 142.2H82.0V145.8H75.9zM184.3 149.4H189.4V153.0H184.3zM174.1 163.9H179.2V167.5H174.1zM143.4 185.6H148.5V189.2H143.4zM138.3 189.2H143.4V192.8H138.3z"/><path fill="#cfed95" d="M133.2 113.2H153.6V116.8H133.2zM82.0 131.3H87.1V134.9H82.0zM184.3 134.9H189.4V138.5H184.3zM184.3 138.5H189.4V142.2H184.3zM184.3 142.2H189.4V145.8H184.3zM179.2 156.6H184.3V160.3H179.2zM168.9 167.5H174.1V171.1H168.9zM148.5 182.0H153.6V185.6H148.5zM107.6 210.9H112.7V214.6H107.6z"/><path fill="#cdec97" d="M158.7 113.2H163.8V116.8H158.7z"/><path fill="#cbec98" d="M163.8 113.2H168.9V116.8H163.8zM174.1 116.8H179.2V120.4H174.1zM179.2 120.4H184.3V124.1H179.2zM189.4 134.9H194.5V138.5H189.4zM189.4 138.5H194.5V142.2H189.4zM189.4 142.2H194.5V145.8H189.4zM122.9 203.7H128.0V207.3H122.9zM117.8 207.3H122.9V210.9H117.8zM92.3 214.6H97.4V218.2H92.3z"/><path fill="#c9ec99" d="M168.9 113.2H174.1V116.8H168.9zM189.4 127.7H194.5V131.3H189.4zM184.3 156.6H189.4V160.3H184.3zM174.1 167.5H179.2V171.1H174.1zM87.1 214.6H92.3V218.2H87.1z"/><path fill="#b1e7af" d="M245.6 113.2H250.8V116.8H245.6zM87.1 116.8H92.3V120.4H87.1zM245.6 120.4H250.8V124.1H245.6zM199.6 167.5H204.7V171.1H199.6zM148.5 196.5H153.6V200.1H148.5zM143.4 200.1H148.5V203.7H143.4z"/><path fill="#9ce3c8" d="M276.3 113.2H281.4V116.8H276.3zM276.3 116.8H281.4V120.4H276.3zM276.3 120.4H281.4V124.1H276.3zM271.2 131.3H276.3V134.9H271.2zM266.1 138.5H271.2V142.2H266.1z"/><path fill="#94e0ce" d="M327.5 113.2H332.6V116.8H327.5zM322.3 116.8H327.5V120.4H322.3zM301.9 127.7H307.0V131.3H301.9zM240.5 163.9H245.6V167.5H240.5zM215.0 174.7H220.1V178.4H215.0zM194.5 185.6H199.6V189.2H194.5zM163.8 203.7H168.9V207.3H163.8zM112.7 254.4H117.8V258.0H112.7z"/><path fill="#8fdfd1" d="M332.6 113.2H337.7V116.8H332.6zM307.0 131.3H312.1V134.9H307.0zM291.7 138.5H296.8V142.2H291.7zM286.5 142.2H291.7V145.8H286.5zM230.3 171.1H235.4V174.7H230.3zM179.2 196.5H184.3V200.1H179.2zM168.9 203.7H174.1V207.3H168.9zM163.8 207.3H168.9V210.9H163.8zM158.7 210.9H163.8V214.6H158.7zM82.0 225.4H87.1V229.0H82.0zM133.2 232.7H138.3V236.3H133.2zM107.6 239.9H112.7V243.5H107.6zM117.8 258.0H122.9V261.6H117.8zM117.8 261.6H122.9V265.2H117.8z"/><path fill="#cfed96" d="M107.6 116.8H112.7V120.4H107.6zM174.1 120.4H179.2V124.1H174.1zM184.3 145.8H189.4V149.4H184.3z"/><path fill="#d2ed93" d="M112.7 116.8H117.8V120.4H112.7zM168.9 120.4H174.1V124.1H168.9zM174.1 124.1H179.2V127.7H174.1zM112.7 207.3H117.8V210.9H112.7z"/><path fill="#d5ee92" d="M117.8 116.8H122.9V120.4H117.8z"/><path fill="#d7ee90" d="M122.9 116.8H128.0V120.4H122.9zM148.5 116.8H153.6V120.4H148.5zM168.9 124.1H174.1V127.7H168.9zM143.4 182.0H148.5V185.6H143.4zM138.3 185.6H143.4V189.2H138.3z"/><path fill="#d8ef8f" d="M128.0 116.8H143.4V120.4H128.0zM174.1 153.0H179.2V156.6H174.1zM153.6 174.7H158.7V178.4H153.6zM148.5 178.4H153.6V182.0H148.5zM133.2 189.2H138.3V192.8H133.2z"/><path fill="#d8ef90" d="M143.4 116.8H148.5V120.4H143.4zM158.7 171.1H163.8V174.7H158.7zM97.4 210.9H102.5V214.6H97.4z"/><path fill="#d5ee91" d="M153.6 116.8H158.7V120.4H153.6zM87.1 127.7H92.3V131.3H87.1zM179.2 138.5H184.3V142.2H179.2zM179.2 142.2H184.3V145.8H179.2zM179.2 145.8H184.3V149.4H179.2zM174.1 156.6H179.2V160.3H174.1z"/><path fill="#d3ee93" d="M158.7 116.8H163.8V120.4H158.7zM179.2 131.3H184.3V134.9H179.2zM122.9 200.1H128.0V203.7H122.9zM117.8 203.7H122.9V207.3H117.8z"/><path fill="#d0ed94" d="M163.8 116.8H168.9V120.4H163.8zM163.8 171.1H168.9V174.7H163.8zM153.6 178.4H158.7V182.0H153.6z"/><path fill="#c8eb9a" d="M179.2 116.8H184.3V120.4H179.2zM92.3 120.4H97.4V124.1H92.3zM184.3 120.4H189.4V124.1H184.3zM179.2 163.9H184.3V167.5H179.2zM133.2 196.5H138.3V200.1H133.2zM102.5 214.6H107.6V218.2H102.5z"/><path fill="#9ee3c6" d="M271.2 116.8H276.3V120.4H271.2z"/><path fill="#84dbd7" d="M342.8 116.8H347.9V120.4H342.8zM266.1 163.9H271.2V167.5H266.1zM240.5 174.7H245.6V178.4H240.5zM128.0 297.8H133.2V301.4H128.0zM128.0 301.4H133.2V305.1H128.0zM128.0 305.1H133.2V308.7H128.0zM128.0 308.7H133.2V312.3H128.0zM128.0 312.3H133.2V315.9H128.0z"/><path fill="#d0ed95" d="M97.4 120.4H102.5V124.1H97.4zM133.2 192.8H138.3V196.5H133.2z"/><path fill="#d6ee91" d="M102.5 120.4H107.6V124.1H102.5zM163.8 120.4H168.9V124.1H163.8zM174.1 127.7H179.2V131.3H174.1zM163.8 167.5H168.9V171.1H163.8z"/><path fill="#daef8e" d="M107.6 120.4H112.7V124.1H107.6zM174.1 149.4H179.2V153.0H174.1zM128.0 192.8H133.2V196.5H128.0zM122.9 196.5H128.0V200.1H122.9zM112.7 203.7H117.8V207.3H112.7zM82.0 210.9H87.1V214.6H82.0z"/><path fill="#dcef8d" d="M112.7 120.4H117.8V124.1H112.7zM82.0 134.9H87.1V138.5H82.0zM174.1 138.5H179.2V142.2H174.1zM174.1 142.2H179.2V145.8H174.1zM168.9 156.6H174.1V160.3H168.9z"/><path fill="#ddee8c" d="M117.8 120.4H122.9V124.1H117.8zM148.5 120.4H153.6V124.1H148.5zM168.9 131.3H174.1V134.9H168.9zM153.6 171.1H158.7V174.7H153.6zM148.5 174.7H153.6V178.4H148.5zM143.4 178.4H148.5V182.0H143.4zM102.5 207.3H107.6V210.9H102.5z"/><path fill="#deee8b" d="M122.9 120.4H128.0V124.1H122.9zM138.3 120.4H148.5V124.1H138.3zM158.7 124.1H163.8V127.7H158.7zM92.3 127.7H97.4V131.3H92.3zM168.9 153.0H174.1V156.6H168.9zM163.8 160.3H168.9V163.9H163.8zM138.3 182.0H143.4V185.6H138.3zM133.2 185.6H138.3V189.2H133.2z"/><path fill="#dfee8b" d="M128.0 120.4H138.3V124.1H128.0zM102.5 124.1H107.6V127.7H102.5zM163.8 127.7H168.9V131.3H163.8zM128.0 189.2H133.2V192.8H128.0z"/><path fill="#dbef8d" d="M153.6 120.4H158.7V124.1H153.6zM97.4 124.1H102.5V127.7H97.4zM163.8 124.1H168.9V127.7H163.8zM168.9 127.7H174.1V131.3H168.9zM174.1 145.8H179.2V149.4H174.1zM163.8 163.9H168.9V167.5H163.8zM87.1 210.9H92.3V214.6H87.1z"/><path fill="#d9ef8e" d="M158.7 120.4H163.8V124.1H158.7z"/><path fill="#abe6b5" d="M250.8 120.4H255.9V124.1H250.8zM163.8 189.2H168.9V192.8H163.8z"/><path fill="#93e0ce" d="M317.2 120.4H322.3V124.1H317.2zM92.3 225.4H97.4V229.0H92.3z"/><path fill="#5cb8e2" d="M532.0 120.4H537.1V124.1H532.0zM215.0 250.8H220.1V254.4H215.0z"/><path fill="#59b3e0" d="M567.8 120.4H578.0V124.1H567.8zM491.1 142.2H496.2V145.8H491.1zM460.4 153.0H465.5V156.6H460.4zM450.2 156.6H455.3V160.3H450.2zM409.3 167.5H414.4V171.1H409.3zM373.5 178.4H378.6V182.0H373.5zM363.2 182.0H368.4V185.6H363.2zM312.1 200.1H317.2V203.7H312.1zM286.5 214.6H291.7V218.2H286.5zM281.4 218.2H286.5V221.8H281.4zM276.3 221.8H281.4V225.4H276.3zM271.2 225.4H276.3V229.0H271.2zM266.1 229.0H271.2V232.7H266.1zM261.0 232.7H266.1V236.3H261.0zM255.9 236.3H261.0V239.9H255.9zM250.8 239.9H255.9V243.5H250.8zM245.6 247.1H250.8V250.8H245.6zM240.5 254.4H245.6V258.0H240.5zM235.4 265.2H240.5V268.9H235.4zM235.4 268.9H240.5V272.5H235.4zM230.3 290.6H235.4V294.2H230.3zM230.3 294.2H235.4V297.8H230.3zM230.3 297.8H235.4V301.4H230.3zM230.3 301.4H235.4V305.1H230.3zM230.3 305.1H235.4V308.7H230.3zM230.3 308.7H235.4V312.3H230.3zM230.3 312.3H235.4V315.9H230.3z"/><path fill="#97e2cd" d="M75.9 124.1H82.0V127.7H75.9zM301.9 124.1H307.0V127.7H301.9zM286.5 131.3H291.7V134.9H286.5zM281.4 134.9H286.5V138.5H281.4zM261.0 153.0H266.1V156.6H261.0zM235.4 163.9H240.5V167.5H235.4zM179.2 189.2H184.3V192.8H179.2zM102.5 229.0H107.6V232.7H102.5zM122.9 232.7H128.0V236.3H122.9z"/><path fill="#bae9a5" d="M82.0 124.1H87.1V127.7H82.0zM225.2 145.8H230.3V149.4H225.2z"/><path fill="#c9ec9a" d="M87.1 124.1H92.3V127.7H87.1zM189.4 149.4H194.5V153.0H189.4zM153.6 182.0H158.7V185.6H153.6z"/><path fill="#d4ee92" d="M92.3 124.1H97.4V127.7H92.3zM179.2 134.9H184.3V138.5H179.2zM168.9 163.9H174.1V167.5H168.9zM75.9 210.9H82.0V214.6H75.9zM102.5 210.9H107.6V214.6H102.5z"/><path fill="#e1ed89" d="M107.6 124.1H112.7V127.7H107.6zM168.9 138.5H174.1V142.2H168.9zM153.6 167.5H158.7V171.1H153.6zM75.9 207.3H82.0V210.9H75.9zM97.4 207.3H102.5V210.9H97.4z"/><path fill="#e3ed88" d="M112.7 124.1H117.8V127.7H112.7zM143.4 124.1H148.5V127.7H143.4zM97.4 127.7H102.5V131.3H97.4zM163.8 153.0H168.9V156.6H163.8zM158.7 160.3H163.8V163.9H158.7zM133.2 182.0H138.3V185.6H133.2z"/><path fill="#e4ed87" d="M117.8 124.1H122.9V127.7H117.8zM138.3 124.1H143.4V127.7H138.3zM128.0 185.6H133.2V189.2H128.0zM122.9 189.2H128.0V192.8H122.9zM117.8 192.8H122.9V196.5H117.8zM112.7 196.5H117.8V200.1H112.7zM102.5 203.7H107.6V207.3H102.5z"/><path fill="#e5ed86" d="M122.9 124.1H138.3V127.7H122.9zM153.6 127.7H158.7V131.3H153.6zM163.8 149.4H168.9V153.0H163.8zM153.6 163.9H158.7V167.5H153.6zM107.6 200.1H112.7V203.7H107.6zM92.3 207.3H97.4V210.9H92.3z"/><path fill="#e2ed89" d="M148.5 124.1H153.6V127.7H148.5zM168.9 142.2H174.1V145.8H168.9z"/><path fill="#e0ee8a" d="M153.6 124.1H158.7V127.7H153.6zM87.1 131.3H92.3V134.9H87.1zM168.9 134.9H174.1V138.5H168.9zM75.9 145.8H82.0V149.4H75.9zM158.7 163.9H163.8V167.5H158.7z"/><path fill="#caec98" d="M184.3 124.1H189.4V127.7H184.3zM163.8 174.7H168.9V178.4H163.8z"/><path fill="#c7eb9a" d="M189.4 124.1H194.5V127.7H189.4z"/><path fill="#c3ea9e" d="M199.6 124.1H204.7V127.7H199.6zM158.7 182.0H163.8V185.6H158.7z"/><path fill="#95e1ce" d="M307.0 124.1H312.1V127.7H307.0zM291.7 131.3H296.8V134.9H291.7zM276.3 142.2H281.4V145.8H276.3zM255.9 156.6H261.0V160.3H255.9zM199.6 182.0H204.7V185.6H199.6zM184.3 189.2H189.4V192.8H184.3zM112.7 239.9H122.9V243.5H112.7zM112.7 243.5H117.8V247.1H112.7zM112.7 247.1H117.8V250.8H112.7zM112.7 250.8H117.8V254.4H112.7z"/><path fill="#8eded2" d="M322.3 124.1H327.5V127.7H322.3zM250.8 163.9H255.9V167.5H250.8zM117.8 272.5H122.9V276.1H117.8z"/><path fill="#84dbd6" d="M337.7 124.1H342.8V127.7H337.7zM317.2 138.5H322.3V142.2H317.2zM194.5 196.5H199.6V200.1H194.5zM148.5 229.0H153.6V232.7H148.5zM133.2 250.8H138.3V254.4H133.2zM128.0 283.3H133.2V287.0H128.0zM128.0 287.0H133.2V290.6H128.0zM128.0 290.6H133.2V294.2H128.0zM128.0 294.2H133.2V297.8H128.0z"/><path fill="#59b0df" d="M562.6 124.1H567.8V127.7H562.6zM542.2 127.7H547.3V131.3H542.2zM511.5 134.9H516.6V138.5H511.5zM496.2 142.2H501.3V145.8H496.2zM445.0 160.3H450.2V163.9H445.0zM419.5 167.5H424.6V171.1H419.5zM393.9 174.7H399.0V178.4H393.9zM383.7 178.4H388.8V182.0H383.7zM353.0 189.2H358.1V192.8H353.0zM342.8 192.8H347.9V196.5H342.8zM317.2 203.7H322.3V207.3H317.2zM271.2 236.3H276.3V239.9H271.2zM266.1 239.9H271.2V243.5H266.1zM261.0 247.1H266.1V250.8H261.0zM255.9 250.8H261.0V254.4H255.9zM250.8 261.6H255.9V265.2H250.8zM245.6 272.5H250.8V276.1H245.6zM245.6 276.1H250.8V279.7H245.6zM240.5 290.6H245.6V294.2H240.5zM240.5 294.2H245.6V297.8H240.5zM240.5 297.8H245.6V301.4H240.5zM240.5 301.4H245.6V305.1H240.5z"/><path fill="#e6ec85" d="M102.5 127.7H107.6V131.3H102.5zM158.7 131.3H163.8V134.9H158.7zM163.8 134.9H168.9V138.5H163.8zM158.7 156.6H163.8V160.3H158.7zM148.5 167.5H153.6V171.1H148.5z"/><path fill="#eae77f" d="M107.6 127.7H112.7V131.3H107.6zM122.9 185.6H128.0V189.2H122.9zM112.7 192.8H117.8V196.5H112.7z"/><path fill="#ede27b" d="M112.7 127.7H117.8V131.3H112.7zM102.5 200.1H107.6V203.7H102.5z"/><path fill="#ede17a" d="M117.8 127.7H122.9V131.3H117.8zM133.2 127.7H138.3V131.3H133.2zM148.5 163.9H153.6V167.5H148.5z"/><path fill="#ede07a" d="M122.9 127.7H128.0V131.3H122.9z"/><path fill="#eedf78" d="M128.0 127.7H133.2V131.3H128.0zM158.7 134.9H163.8V138.5H158.7zM143.4 167.5H148.5V171.1H143.4zM75.9 200.1H82.0V203.7H75.9z"/><path fill="#ebe67e" d="M138.3 127.7H143.4V131.3H138.3z"/><path fill="#e8eb83" d="M143.4 127.7H148.5V131.3H143.4z"/><path fill="#e7ec85" d="M148.5 127.7H153.6V131.3H148.5zM92.3 131.3H97.4V134.9H92.3zM82.0 138.5H87.1V142.2H82.0zM143.4 171.1H148.5V174.7H143.4zM138.3 174.7H143.4V178.4H138.3zM82.0 207.3H87.1V210.9H82.0z"/><path fill="#e2ed88" d="M158.7 127.7H163.8V131.3H158.7zM163.8 131.3H168.9V134.9H163.8zM148.5 171.1H153.6V174.7H148.5zM143.4 174.7H148.5V178.4H143.4zM138.3 178.4H143.4V182.0H138.3z"/><path fill="#d1ed94" d="M179.2 127.7H184.3V131.3H179.2zM179.2 153.0H184.3V156.6H179.2zM158.7 174.7H163.8V178.4H158.7z"/><path fill="#c1ea9e" d="M204.7 127.7H209.9V131.3H204.7zM194.5 156.6H199.6V160.3H194.5z"/><path fill="#b4e7ab" d="M240.5 127.7H245.6V131.3H240.5zM225.2 149.4H230.3V153.0H225.2zM184.3 174.7H189.4V178.4H184.3z"/><path fill="#afe6b1" d="M245.6 127.7H250.8V131.3H245.6z"/><path fill="#eede77" d="M97.4 131.3H102.5V134.9H97.4zM75.9 149.4H82.0V153.0H75.9z"/><path fill="#f2d46f" d="M102.5 131.3H107.6V134.9H102.5zM143.4 134.9H148.5V138.5H143.4z"/><path fill="#f3ce6a" d="M107.6 131.3H112.7V134.9H107.6zM122.9 131.3H128.0V134.9H122.9zM133.2 171.1H138.3V174.7H133.2zM102.5 196.5H107.6V200.1H102.5z"/><path fill="#f4cb68" d="M112.7 131.3H117.8V134.9H112.7z"/><path fill="#f3cc69" d="M117.8 131.3H122.9V134.9H117.8zM143.4 142.2H148.5V145.8H143.4z"/><path fill="#f3d06c" d="M128.0 131.3H133.2V134.9H128.0zM143.4 138.5H148.5V142.2H143.4zM97.4 200.1H102.5V203.7H97.4z"/><path fill="#f2d36e" d="M133.2 131.3H138.3V134.9H133.2zM148.5 142.2H153.6V145.8H148.5zM75.9 192.8H82.0V196.5H75.9z"/><path fill="#f2d771" d="M138.3 131.3H143.4V134.9H138.3zM128.0 178.4H133.2V182.0H128.0z"/><path fill="#f0db74" d="M143.4 131.3H148.5V134.9H143.4z"/><path fill="#efdd77" d="M148.5 131.3H153.6V134.9H148.5zM75.9 153.0H82.0V156.6H75.9zM138.3 171.1H143.4V174.7H138.3zM75.9 196.5H82.0V200.1H75.9z"/><path fill="#ebe47d" d="M153.6 131.3H158.7V134.9H153.6z"/><path fill="#d9ef8f" d="M174.1 131.3H179.2V134.9H174.1zM168.9 160.3H174.1V163.9H168.9zM107.6 207.3H112.7V210.9H107.6z"/><path fill="#b7e8a7" d="M235.4 131.3H240.5V134.9H235.4zM168.9 182.0H174.1V185.6H168.9z"/><path fill="#ece37c" d="M87.1 134.9H92.3V138.5H87.1z"/><path fill="#f3d16c" d="M92.3 134.9H97.4V138.5H92.3zM107.6 192.8H112.7V196.5H107.6z"/><path fill="#f4c664" d="M97.4 134.9H102.5V138.5H97.4z"/><path fill="#f5bd5e" d="M102.5 134.9H107.6V138.5H102.5zM138.3 149.4H143.4V153.0H138.3zM138.3 153.0H143.4V156.6H138.3zM75.9 174.7H82.0V178.4H75.9z"/><path fill="#f6b85a" d="M107.6 134.9H112.7V138.5H107.6zM92.3 138.5H97.4V142.2H92.3zM128.0 138.5H133.2V142.2H128.0zM107.6 189.2H112.7V192.8H107.6z"/><path fill="#f6b759" d="M112.7 134.9H117.8V138.5H112.7z"/><path fill="#f6ba5b" d="M117.8 134.9H122.9V138.5H117.8z"/><path fill="#f5be5f" d="M122.9 134.9H128.0V138.5H122.9z"/><path fill="#f4c463" d="M128.0 134.9H133.2V138.5H128.0zM138.3 142.2H143.4V145.8H138.3z"/><path fill="#f4ca67" d="M133.2 134.9H138.3V138.5H133.2zM143.4 145.8H148.5V149.4H143.4zM75.9 156.6H82.0V160.3H75.9z"/><path fill="#f3d06b" d="M138.3 134.9H143.4V138.5H138.3z"/><path fill="#f1d872" d="M148.5 134.9H153.6V138.5H148.5zM153.6 149.4H158.7V153.0H153.6z"/><path fill="#efdc75" d="M153.6 134.9H158.7V138.5H153.6zM158.7 142.2H163.8V145.8H158.7z"/><path fill="#dbef8e" d="M174.1 134.9H179.2V138.5H174.1zM117.8 200.1H122.9V203.7H117.8zM92.3 210.9H97.4V214.6H92.3z"/><path fill="#8cded3" d="M307.0 134.9H312.1V138.5H307.0zM286.5 145.8H291.7V149.4H286.5zM204.7 185.6H209.9V189.2H204.7zM148.5 221.8H153.6V225.4H148.5z"/><path fill="#57acdd" d="M532.0 134.9H537.1V138.5H532.0zM516.6 138.5H521.7V142.2H516.6zM506.4 142.2H511.5V145.8H506.4zM480.8 153.0H486.0V156.6H480.8zM434.8 167.5H439.9V171.1H434.8zM409.3 174.7H414.4V178.4H409.3zM399.0 178.4H404.1V182.0H399.0zM388.8 182.0H393.9V185.6H388.8zM378.6 185.6H383.7V189.2H378.6zM368.4 189.2H373.5V192.8H368.4zM337.7 203.7H342.8V207.3H337.7zM291.7 236.3H296.8V239.9H291.7zM281.4 247.1H286.5V250.8H281.4zM276.3 254.4H281.4V258.0H276.3zM271.2 261.6H276.3V265.2H271.2zM266.1 268.9H271.2V272.5H266.1zM261.0 283.3H266.1V287.0H261.0zM255.9 301.4H261.0V305.1H255.9zM255.9 305.1H261.0V308.7H255.9zM255.9 308.7H261.0V312.3H255.9z"/><path fill="#f3cb68" d="M87.1 138.5H92.3V142.2H87.1z"/><path fill="#f8ab51" d="M97.4 138.5H102.5V142.2H97.4zM128.0 142.2H133.2V145.8H128.0zM82.0 192.8H87.1V196.5H82.0z"/><path fill="#f7a14a" d="M102.5 138.5H107.6V142.2H102.5z"/><path fill="#f79d47" d="M107.6 138.5H112.7V142.2H107.6z"/><path fill="#f7a049" d="M112.7 138.5H117.8V142.2H112.7zM82.0 149.4H87.1V153.0H82.0z"/><path fill="#f7a64d" d="M117.8 138.5H122.9V142.2H117.8z"/><path fill="#f7ae53" d="M122.9 138.5H128.0V142.2H122.9z"/><path fill="#f5c161" d="M133.2 138.5H138.3V142.2H133.2z"/><path fill="#f4c967" d="M138.3 138.5H143.4V142.2H138.3zM143.4 153.0H148.5V156.6H143.4zM138.3 163.9H143.4V167.5H138.3z"/><path fill="#f2d56f" d="M148.5 138.5H153.6V142.2H148.5zM148.5 156.6H153.6V160.3H148.5zM143.4 163.9H148.5V167.5H143.4z"/><path fill="#f1d973" d="M153.6 138.5H158.7V142.2H153.6zM92.3 203.7H97.4V207.3H92.3z"/><path fill="#efdc76" d="M158.7 138.5H163.8V142.2H158.7z"/><path fill="#ebe57d" d="M163.8 138.5H168.9V142.2H163.8zM107.6 196.5H112.7V200.1H107.6z"/><path fill="#a9e5b8" d="M245.6 138.5H250.8V142.2H245.6zM235.4 149.4H240.5V153.0H235.4zM230.3 153.0H235.4V156.6H230.3zM225.2 156.6H230.3V160.3H225.2zM199.6 171.1H204.7V174.7H199.6zM179.2 182.0H184.3V185.6H179.2z"/><path fill="#a5e5bd" d="M250.8 138.5H255.9V142.2H250.8zM133.2 214.6H138.3V218.2H133.2zM117.8 225.4H122.9V229.0H117.8z"/><path fill="#9ee3c4" d="M261.0 138.5H266.1V142.2H261.0zM117.8 229.0H122.9V232.7H117.8z"/><path fill="#56a5da" d="M547.3 138.5H552.4V142.2H547.3zM516.6 145.8H521.7V149.4H516.6zM496.2 153.0H501.3V156.6H496.2zM465.5 163.9H470.6V167.5H465.5zM419.5 178.4H424.6V182.0H419.5zM388.8 189.2H393.9V192.8H388.8zM358.1 203.7H363.2V207.3H358.1zM322.3 229.0H327.5V232.7H322.3zM82.0 250.8H87.1V254.4H82.0zM301.9 250.8H307.0V254.4H301.9zM296.8 258.0H301.9V261.6H296.8zM291.7 265.2H296.8V268.9H291.7zM286.5 276.1H291.7V279.7H286.5zM281.4 290.6H286.5V294.2H281.4zM276.3 308.7H281.4V312.3H276.3z"/><path fill="#f3d26d" d="M82.0 142.2H87.1V145.8H82.0zM138.3 167.5H143.4V171.1H138.3zM117.8 185.6H122.9V189.2H117.8zM112.7 189.2H117.8V192.8H112.7z"/><path fill="#f7b356" d="M87.1 142.2H92.3V145.8H87.1zM87.1 196.5H92.3V200.1H87.1z"/><path fill="#f69944" d="M92.3 142.2H97.4V145.8H92.3z"/><path fill="#f48839" d="M97.4 142.2H102.5V145.8H97.4z"/><path fill="#f37f32" d="M102.5 142.2H107.6V145.8H102.5z"/><path fill="#f37d30" d="M107.6 142.2H112.7V145.8H107.6zM97.4 189.2H102.5V192.8H97.4z"/><path fill="#f38335" d="M112.7 142.2H117.8V145.8H112.7zM107.6 182.0H112.7V185.6H107.6z"/><path fill="#f58d3b" d="M117.8 142.2H122.9V145.8H117.8z"/><path fill="#f69a45" d="M122.9 142.2H128.0V145.8H122.9zM117.8 174.7H122.9V178.4H117.8z"/><path fill="#f6b95b" d="M133.2 142.2H138.3V145.8H133.2zM133.2 163.9H138.3V167.5H133.2z"/><path fill="#f1d871" d="M153.6 142.2H158.7V145.8H153.6z"/><path fill="#ebe57e" d="M163.8 142.2H168.9V145.8H163.8z"/><path fill="#f6bc5d" d="M82.0 145.8H87.1V149.4H82.0zM97.4 196.5H102.5V200.1H97.4z"/><path fill="#f5903e" d="M87.1 145.8H92.3V149.4H87.1z"/><path fill="#f27329" d="M92.3 145.8H97.4V149.4H92.3z"/><path fill="#f06a25" d="M97.4 145.8H102.5V149.4H97.4z"/><path fill="#ee6523" d="M102.5 145.8H107.6V149.4H102.5z"/><path fill="#ef6723" d="M107.6 145.8H112.7V149.4H107.6zM82.0 156.6H87.1V160.3H82.0zM102.5 182.0H107.6V185.6H102.5z"/><path fill="#f06c25" d="M112.7 145.8H117.8V149.4H112.7z"/><path fill="#f17128" d="M117.8 145.8H122.9V149.4H117.8zM122.9 156.6H128.0V160.3H122.9z"/><path fill="#f38234" d="M122.9 145.8H128.0V149.4H122.9z"/><path fill="#f79e47" d="M128.0 145.8H133.2V149.4H128.0z"/><path fill="#f7b256" d="M133.2 145.8H138.3V149.4H133.2zM133.2 160.3H138.3V163.9H133.2zM92.3 196.5H97.4V200.1H92.3z"/><path fill="#f5c060" d="M138.3 145.8H143.4V149.4H138.3z"/><path fill="#f3d16d" d="M148.5 145.8H153.6V149.4H148.5zM148.5 149.4H153.6V153.0H148.5z"/><path fill="#f1d771" d="M153.6 145.8H158.7V149.4H153.6z"/><path fill="#efdd76" d="M158.7 145.8H163.8V149.4H158.7zM133.2 174.7H138.3V178.4H133.2z"/><path fill="#e7ec84" d="M163.8 145.8H168.9V149.4H163.8zM87.1 207.3H92.3V210.9H87.1z"/><path fill="#e1ee89" d="M168.9 145.8H174.1V149.4H168.9zM163.8 156.6H168.9V160.3H163.8z"/><path fill="#ade6b4" d="M235.4 145.8H240.5V149.4H235.4zM133.2 210.9H138.3V214.6H133.2z"/><path fill="#f16d26" d="M87.1 149.4H92.3V153.0H87.1zM122.9 153.0H128.0V156.6H122.9z"/><path fill="#ec5d1f" d="M92.3 149.4H97.4V153.0H92.3z"/><path fill="#e8541c" d="M97.4 149.4H102.5V153.0H97.4z"/><path fill="#e8511b" d="M102.5 149.4H107.6V153.0H102.5zM82.0 171.1H87.1V174.7H82.0zM82.0 174.7H87.1V178.4H82.0z"/><path fill="#e9561c" d="M107.6 149.4H112.7V153.0H107.6z"/><path fill="#ec5f20" d="M112.7 149.4H117.8V153.0H112.7z"/><path fill="#ef6824" d="M117.8 149.4H122.9V153.0H117.8z"/><path fill="#f16e26" d="M122.9 149.4H128.0V153.0H122.9zM112.7 171.1H117.8V174.7H112.7zM107.6 178.4H112.7V182.0H107.6zM87.1 189.2H97.4V192.8H87.1z"/><path fill="#f59340" d="M128.0 149.4H133.2V153.0H128.0z"/><path fill="#f8ad52" d="M133.2 149.4H138.3V153.0H133.2zM117.8 178.4H122.9V182.0H117.8z"/><path fill="#f4c966" d="M143.4 149.4H148.5V153.0H143.4zM128.0 174.7H133.2V178.4H128.0zM75.9 185.6H82.0V189.2H75.9z"/><path fill="#eedf79" d="M158.7 149.4H163.8V153.0H158.7z"/><path fill="#dfee8a" d="M168.9 149.4H174.1V153.0H168.9zM122.9 192.8H128.0V196.5H122.9zM117.8 196.5H122.9V200.1H117.8zM112.7 200.1H117.8V203.7H112.7zM107.6 203.7H112.7V207.3H107.6z"/><path fill="#d3ee92" d="M179.2 149.4H184.3V153.0H179.2z"/><path fill="#bae9a4" d="M220.1 149.4H225.2V153.0H220.1zM209.9 156.6H215.0V160.3H209.9zM174.1 178.4H179.2V182.0H174.1z"/><path fill="#f2772c" d="M82.0 153.0H87.1V156.6H82.0zM117.8 167.5H122.9V171.1H117.8z"/><path fill="#ea591e" d="M87.1 153.0H92.3V156.6H87.1z"/><path fill="#e34416" d="M92.3 153.0H97.4V156.6H92.3z"/><path fill="#e03d15" d="M97.4 153.0H107.6V156.6H97.4zM102.5 174.7H107.6V178.4H102.5z"/><path fill="#e34215" d="M107.6 153.0H112.7V156.6H107.6z"/><path fill="#e8531b" d="M112.7 153.0H117.8V156.6H112.7z"/><path fill="#ed6322" d="M117.8 153.0H122.9V156.6H117.8zM117.8 160.3H122.9V163.9H117.8z"/><path fill="#f58f3d" d="M128.0 153.0H133.2V156.6H128.0zM112.7 178.4H117.8V182.0H112.7z"/><path fill="#f8ac51" d="M133.2 153.0H138.3V156.6H133.2z"/><path fill="#f2d26d" d="M148.5 153.0H153.6V156.6H148.5z"/><path fill="#f0da74" d="M153.6 153.0H158.7V156.6H153.6z"/><path fill="#e9e982" d="M158.7 153.0H163.8V156.6H158.7z"/><path fill="#ccec98" d="M184.3 153.0H189.4V156.6H184.3zM179.2 160.3H184.3V163.9H179.2z"/><path fill="#b4e8ab" d="M220.1 153.0H225.2V156.6H220.1zM215.0 156.6H220.1V160.3H215.0zM133.2 207.3H138.3V210.9H133.2z"/><path fill="#5492cf" d="M572.9 153.0H578.0V156.6H572.9zM342.8 254.4H347.9V258.0H342.8zM322.3 308.7H327.5V312.3H322.3z"/><path fill="#e24114" d="M87.1 156.6H92.3V160.3H87.1z"/><path fill="#dc3719" d="M92.3 156.6H112.7V160.3H92.3zM87.1 160.3H92.3V163.9H87.1zM102.5 160.3H112.7V163.9H102.5zM107.6 163.9H112.7V167.5H107.6zM102.5 171.1H107.6V174.7H102.5zM87.1 178.4H92.3V182.0H87.1z"/><path fill="#e54917" d="M112.7 156.6H117.8V160.3H112.7z"/><path fill="#ed6121" d="M117.8 156.6H122.9V160.3H117.8zM82.0 182.0H87.1V185.6H82.0z"/><path fill="#f5923f" d="M128.0 156.6H133.2V160.3H128.0z"/><path fill="#f8ae53" d="M133.2 156.6H138.3V160.3H133.2z"/><path fill="#f5bf5f" d="M138.3 156.6H143.4V160.3H138.3zM117.8 182.0H122.9V185.6H117.8zM82.0 196.5H87.1V200.1H82.0z"/><path fill="#f3cc68" d="M143.4 156.6H148.5V160.3H143.4z"/><path fill="#efde77" d="M153.6 156.6H158.7V160.3H153.6z"/><path fill="#528fcd" d="M562.6 156.6H567.8V160.3H562.6zM455.3 185.6H460.4V189.2H455.3zM358.1 239.9H363.2V243.5H358.1zM353.0 247.1H358.1V250.8H353.0zM342.8 265.2H347.9V268.9H342.8zM337.7 279.7H342.8V283.3H337.7zM332.6 294.2H337.7V297.8H332.6zM327.5 319.5H332.6V323.2H327.5zM327.5 323.2H332.6V326.8H327.5z"/><path fill="#f4c564" d="M75.9 160.3H82.0V163.9H75.9zM87.1 200.1H92.3V203.7H87.1z"/><path fill="#eb5c1f" d="M82.0 160.3H87.1V163.9H82.0zM92.3 185.6H97.4V189.2H92.3z"/><path fill="#db3519" d="M92.3 160.3H97.4V163.9H92.3z"/><path fill="#db3619" d="M97.4 160.3H102.5V163.9H97.4zM97.4 174.7H102.5V178.4H97.4z"/><path fill="#e44616" d="M112.7 160.3H117.8V163.9H112.7z"/><path fill="#f2792e" d="M122.9 160.3H128.0V163.9H122.9z"/><path fill="#f69a44" d="M128.0 160.3H133.2V163.9H128.0z"/><path fill="#f5c362" d="M138.3 160.3H143.4V163.9H138.3zM75.9 167.5H82.0V171.1H75.9zM133.2 167.5H138.3V171.1H133.2z"/><path fill="#f3cf6b" d="M143.4 160.3H148.5V163.9H143.4zM75.9 189.2H82.0V192.8H75.9z"/><path fill="#f0da73" d="M148.5 160.3H153.6V163.9H148.5z"/><path fill="#eae881" d="M153.6 160.3H158.7V163.9H153.6z"/><path fill="#d2ed94" d="M174.1 160.3H179.2V163.9H174.1zM128.0 196.5H133.2V200.1H128.0z"/><path fill="#b3e7ac" d="M209.9 160.3H215.0V163.9H209.9zM158.7 189.2H163.8V192.8H158.7z"/><path fill="#538fce" d="M537.1 160.3H542.2V163.9H537.1zM521.7 163.9H526.9V167.5H521.7zM465.5 182.0H470.6V185.6H465.5zM404.1 203.7H409.3V207.3H404.1zM363.2 232.7H368.4V236.3H363.2zM75.9 247.1H82.0V250.8H75.9zM347.9 254.4H353.0V258.0H347.9zM337.7 276.1H342.8V279.7H337.7zM332.6 290.6H337.7V294.2H332.6zM327.5 312.3H332.6V315.9H327.5zM327.5 315.9H332.6V319.5H327.5z"/><path fill="#f5c363" d="M75.9 163.9H82.0V167.5H75.9z"/><path fill="#e8531c" d="M82.0 163.9H87.1V167.5H82.0z"/><path fill="#d8301c" d="M87.1 163.9H92.3V167.5H87.1z"/><path fill="#da331b" d="M92.3 163.9H97.4V167.5H92.3z"/><path fill="#db351a" d="M97.4 163.9H102.5V167.5H97.4zM97.4 171.1H102.5V174.7H97.4zM87.1 174.7H92.3V178.4H87.1z"/><path fill="#dc3619" d="M102.5 163.9H107.6V167.5H102.5zM102.5 167.5H107.6V171.1H102.5z"/><path fill="#e64d19" d="M112.7 163.9H117.8V167.5H112.7z"/><path fill="#f06b25" d="M117.8 163.9H122.9V167.5H117.8zM82.0 185.6H87.1V189.2H82.0z"/><path fill="#f48637" d="M122.9 163.9H128.0V167.5H122.9z"/><path fill="#f7a44c" d="M128.0 163.9H133.2V167.5H128.0z"/><path fill="#5188ca" d="M547.3 163.9H552.4V167.5H547.3zM491.1 178.4H496.2V182.0H491.1zM480.8 182.0H486.0V185.6H480.8zM353.0 265.2H358.1V268.9H353.0zM347.9 279.7H353.0V283.3H347.9zM337.7 341.3H342.8V344.9H337.7zM337.7 344.9H342.8V348.5H337.7zM337.7 348.5H342.8V352.1H337.7z"/><path fill="#4f85c8" d="M567.8 163.9H572.9V167.5H567.8zM445.0 196.5H450.2V200.1H445.0zM434.8 200.1H439.9V203.7H434.8zM424.6 203.7H429.7V207.3H424.6zM368.4 243.5H373.5V247.1H368.4zM358.1 265.2H363.2V268.9H358.1zM347.9 305.1H353.0V308.7H347.9zM347.9 308.7H353.0V312.3H347.9z"/><path fill="#e8521b" d="M82.0 167.5H87.1V171.1H82.0z"/><path fill="#d9331b" d="M87.1 167.5H92.3V171.1H87.1z"/><path fill="#d8311b" d="M92.3 167.5H97.4V171.1H92.3z"/><path fill="#db341a" d="M97.4 167.5H102.5V171.1H97.4z"/><path fill="#df3b16" d="M107.6 167.5H112.7V171.1H107.6z"/><path fill="#eb5b1f" d="M112.7 167.5H117.8V171.1H112.7z"/><path fill="#f69541" d="M122.9 167.5H128.0V171.1H122.9zM92.3 192.8H97.4V196.5H92.3z"/><path fill="#f7af54" d="M128.0 167.5H133.2V171.1H128.0z"/><path fill="#dcef8c" d="M158.7 167.5H163.8V171.1H158.7z"/><path fill="#b7e8a8" d="M194.5 167.5H199.6V171.1H194.5zM148.5 192.8H153.6V196.5H148.5zM143.4 196.5H148.5V200.1H143.4z"/><path fill="#91e0cf" d="M235.4 167.5H240.5V171.1H235.4zM112.7 287.0H117.8V290.6H112.7zM112.7 290.6H117.8V294.2H112.7z"/><path fill="#4f83c7" d="M552.4 167.5H557.5V171.1H552.4zM532.0 171.1H537.1V174.7H532.0zM516.6 174.7H521.7V178.4H516.6zM460.4 192.8H465.5V196.5H460.4zM419.5 207.3H424.6V210.9H419.5zM373.5 239.9H378.6V243.5H373.5zM353.0 294.2H358.1V297.8H353.0zM353.0 297.8H358.1V301.4H353.0zM347.9 337.6H353.0V341.3H347.9zM347.9 341.3H353.0V344.9H347.9zM347.9 344.9H353.0V348.5H347.9zM347.9 348.5H353.0V352.1H347.9zM347.9 352.1H353.0V354.9H347.9z"/><path fill="#4e81c6" d="M562.6 167.5H567.8V171.1H562.6zM465.5 192.8H470.6V196.5H465.5zM414.4 210.9H419.5V214.6H414.4zM358.1 287.0H363.2V290.6H358.1zM353.0 319.5H358.1V323.2H353.0zM353.0 323.2H358.1V326.8H353.0z"/><path fill="#f5c262" d="M75.9 171.1H82.0V174.7H75.9z"/><path fill="#da341a" d="M87.1 171.1H92.3V174.7H87.1zM92.3 178.4H97.4V182.0H92.3z"/><path fill="#d8311c" d="M92.3 171.1H97.4V174.7H92.3z"/><path fill="#e54a18" d="M107.6 171.1H112.7V174.7H107.6z"/><path fill="#f48738" d="M117.8 171.1H122.9V174.7H117.8z"/><path fill="#f7a54c" d="M122.9 171.1H128.0V174.7H122.9z"/><path fill="#f6bb5d" d="M128.0 171.1H133.2V174.7H128.0zM112.7 185.6H117.8V189.2H112.7z"/><path fill="#b6e8aa" d="M189.4 171.1H194.5V174.7H189.4zM122.9 214.6H128.0V218.2H122.9z"/><path fill="#afe7b1" d="M194.5 171.1H199.6V174.7H194.5z"/><path fill="#4d7bc4" d="M578.0 171.1H583.3V174.7H578.0zM470.6 196.5H475.7V200.1H470.6zM404.1 221.8H409.3V225.4H404.1zM388.8 232.7H393.9V236.3H388.8z"/><path fill="#d7301c" d="M92.3 174.7H97.4V178.4H92.3z"/><path fill="#eb5d1f" d="M107.6 174.7H112.7V178.4H107.6z"/><path fill="#f27a2e" d="M112.7 174.7H117.8V178.4H112.7zM102.5 185.6H107.6V189.2H102.5z"/><path fill="#f7b457" d="M122.9 174.7H128.0V178.4H122.9z"/><path fill="#bbe9a4" d="M179.2 174.7H184.3V178.4H179.2z"/><path fill="#a8e5ba" d="M194.5 174.7H199.6V178.4H194.5zM97.4 221.8H102.5V225.4H97.4z"/><path fill="#559cd5" d="M455.3 174.7H460.4V178.4H455.3zM378.6 203.7H383.7V207.3H378.6zM347.9 225.4H353.0V229.0H347.9zM327.5 247.1H332.6V250.8H327.5zM322.3 254.4H327.5V258.0H322.3zM312.1 272.5H317.2V276.1H312.1zM301.9 301.4H307.0V305.1H301.9zM296.8 326.8H301.9V330.4H296.8zM296.8 330.4H301.9V334.0H296.8z"/><path fill="#f5be5e" d="M75.9 178.4H82.0V182.0H75.9z"/><path fill="#e9561d" d="M82.0 178.4H87.1V182.0H82.0z"/><path fill="#de3a17" d="M97.4 178.4H102.5V182.0H97.4z"/><path fill="#e7501a" d="M102.5 178.4H107.6V182.0H102.5z"/><path fill="#f5c463" d="M122.9 178.4H128.0V182.0H122.9zM75.9 182.0H82.0V185.6H75.9z"/><path fill="#e8ec84" d="M133.2 178.4H138.3V182.0H133.2z"/><path fill="#b2e7ad" d="M179.2 178.4H184.3V182.0H179.2zM138.3 203.7H143.4V207.3H138.3z"/><path fill="#55a0d6" d="M434.8 178.4H439.9V182.0H434.8zM393.9 192.8H399.0V196.5H393.9zM332.6 232.7H337.7V236.3H332.6zM317.2 250.8H322.3V254.4H317.2zM312.1 258.0H317.2V261.6H312.1zM296.8 290.6H301.9V294.2H296.8zM291.7 308.7H296.8V312.3H291.7z"/><path fill="#e44717" d="M87.1 182.0H92.3V185.6H87.1z"/><path fill="#e34315" d="M92.3 182.0H97.4V185.6H92.3z"/><path fill="#e64e19" d="M97.4 182.0H102.5V185.6H97.4z"/><path fill="#f8a64d" d="M112.7 182.0H117.8V185.6H112.7z"/><path fill="#f2d46e" d="M122.9 182.0H128.0V185.6H122.9zM87.1 203.7H92.3V207.3H87.1z"/><path fill="#e9e981" d="M128.0 182.0H133.2V185.6H128.0z"/><path fill="#5391cf" d="M460.4 182.0H465.5V185.6H460.4zM393.9 207.3H399.0V210.9H393.9zM342.8 258.0H347.9V261.6H342.8zM337.7 268.9H342.8V272.5H337.7zM332.6 279.7H337.7V283.3H332.6zM327.5 297.8H332.6V301.4H327.5zM322.3 323.2H327.5V326.8H322.3zM322.3 326.8H327.5V330.4H322.3z"/><path fill="#ec5e20" d="M87.1 185.6H92.3V189.2H87.1z"/><path fill="#ee6522" d="M97.4 185.6H102.5V189.2H97.4z"/><path fill="#f79f48" d="M107.6 185.6H112.7V189.2H107.6z"/><path fill="#f48536" d="M82.0 189.2H87.1V192.8H82.0z"/><path fill="#f69b45" d="M102.5 189.2H107.6V192.8H102.5z"/><path fill="#ebe67f" d="M117.8 189.2H122.9V192.8H117.8z"/><path fill="#9be2c9" d="M174.1 189.2H179.2V192.8H174.1zM82.0 221.8H87.1V225.4H82.0z"/><path fill="#4d78c1" d="M501.3 189.2H506.4V192.8H501.3zM373.5 315.9H378.6V319.5H373.5z"/><path fill="#f69642" d="M87.1 192.8H92.3V196.5H87.1z"/><path fill="#f7a24a" d="M97.4 192.8H102.5V196.5H97.4z"/><path fill="#f6b75a" d="M102.5 192.8H107.6V196.5H102.5z"/><path fill="#b1e7ae" d="M153.6 192.8H158.7V196.5H153.6z"/><path fill="#f3cd69" d="M82.0 200.1H87.1V203.7H82.0z"/><path fill="#f4c765" d="M92.3 200.1H97.4V203.7H92.3z"/><path fill="#4d6cbc" d="M567.8 200.1H572.9V203.7H567.8zM532.0 210.9H537.1V214.6H532.0zM521.7 214.6H526.9V218.2H521.7zM496.2 225.4H501.3V229.0H496.2zM460.4 243.5H465.5V247.1H460.4zM429.7 279.7H434.8V283.3H429.7zM424.6 352.1H429.7V354.9H424.6z"/><path fill="#e9ea82" d="M75.9 203.7H82.0V207.3H75.9z"/><path fill="#f2d670" d="M82.0 203.7H87.1V207.3H82.0z"/><path fill="#ece47c" d="M97.4 203.7H102.5V207.3H97.4z"/><path fill="#86dcd6" d="M174.1 207.3H179.2V210.9H174.1zM168.9 210.9H174.1V214.6H168.9zM163.8 214.6H168.9V218.2H163.8z"/><path fill="#4c74bf" d="M460.4 207.3H465.5V210.9H460.4zM429.7 218.2H434.8V221.8H429.7zM383.7 265.2H388.8V268.9H383.7z"/><path fill="#4c72be" d="M465.5 207.3H470.6V210.9H465.5zM434.8 218.2H439.9V221.8H434.8zM414.4 225.4H419.5V229.0H414.4zM409.3 229.0H414.4V232.7H409.3z"/><path fill="#4e6bba" d="M486.0 243.5H491.1V247.1H486.0zM480.8 247.1H486.0V250.8H480.8zM475.7 250.8H480.8V254.4H475.7z"/><path fill="#88ddd4" d="M122.9 297.8H128.0V301.4H122.9z"/><path fill="#80d8d9" d="M133.2 312.3H138.3V315.9H133.2zM133.2 315.9H138.3V319.5H133.2z"/></g>
<rect x="75.9" y="354.9" width="507.4" height="1.4" fill="#d3d6e0"/>
<g fill="none" stroke-linejoin="round"><path d="M76.6 32.0 L76.8 33.5 L76.9 34.9 L77.1 36.4 L77.3 38.0 L77.5 39.6 L77.6 41.3 L77.8 43.1 L78.0 44.9 L78.2 46.6 L78.4 48.3 L78.6 49.9 L78.9 51.6 L79.2 53.1 L79.5 54.5 L80.1 56.6 L81.0 58.3 L81.9 59.2 L83.0 59.7 L84.4 59.7 L86.0 59.3 L87.3 58.8 L88.7 58.1 L90.3 57.4 L91.9 56.6 L93.5 55.9 L94.9 55.4 L96.4 54.9 L97.8 54.5 L99.3 54.0 L100.8 53.6 L102.3 53.2 L104.0 52.7 L105.8 52.3 L107.5 51.8 L109.3 51.4 L111.0 51.0 L112.5 50.7 L113.9 50.3 L115.3 50.0 L116.8 49.7 L118.3 49.4 L119.8 49.1 L121.3 48.8 L122.8 48.6 L124.3 48.3 L125.8 48.1 L127.3 47.8 L128.8 47.6 L130.3 47.4 L132.1 47.2 L133.9 47.0 L135.6 46.8 L137.4 46.6 L139.2 46.5 L140.9 46.3 L142.7 46.1 L144.5 45.9 L146.2 45.7 L148.0 45.5 L149.5 45.3 L151.0 45.2 L152.5 45.0 L154.0 44.9 L155.5 44.7 L156.9 44.5 L158.4 44.4 L159.9 44.2 L161.4 44.1 L162.9 43.9 L164.4 43.8 L165.9 43.6 L167.4 43.4 L168.9 43.3 L170.4 43.1 L171.9 42.9 L173.4 42.8 L174.9 42.6 L176.4 42.5 L178.0 42.3 L179.5 42.1 L181.1 41.9 L182.6 41.8 L184.1 41.6 L185.6 41.4 L187.0 41.3 L188.6 41.1 L190.1 41.0 L191.6 40.8 L193.0 40.7 L194.5 40.5 L196.0 40.4 L197.5 40.2 L198.9 40.1 L200.4 39.9 L202.0 39.8 L203.5 39.7 L205.1 39.6 L206.7 39.5 L208.3 39.4 L209.9 39.3 L211.5 39.2 L213.1 39.1 L214.7 39.0 L216.2 38.9 L217.8 38.8 L219.4 38.7 L221.0 38.6 L222.6 38.5 L224.2 38.4 L225.8 38.3 L227.3 38.2 L228.9 38.1 L230.5 38.0 L232.1 37.9 L233.6 37.8 L235.2 37.7 L236.8 37.6 L238.4 37.5 L240.0 37.4 L241.6 37.3 L243.3 37.2 L245.0 37.1 L246.8 37.0 L248.5 36.9 L250.2 36.8 L252.0 36.7 L253.7 36.6 L255.4 36.5 L257.1 36.4 L258.8 36.2 L260.5 36.1 L262.2 36.0 L263.9 35.9 L265.6 35.8 L267.4 35.7 L269.1 35.6 L270.8 35.5 L272.5 35.4 L274.2 35.3 L275.9 35.2 L277.5 35.1 L279.0 35.1 L280.6 35.0 L282.1 35.0 L283.6 35.0 L285.2 34.9 L286.7 34.9 L288.3 34.8 L289.8 34.8 L291.4 34.7 L292.9 34.7 L294.4 34.7 L296.0 34.6 L297.5 34.6 L299.1 34.5 L300.6 34.5 L302.2 34.4 L303.7 34.4 L305.3 34.3 L306.8 34.3 L308.4 34.2 L309.9 34.2 L311.5 34.1 L313.0 34.1 L314.5 34.1 L316.1 34.0 L317.6 34.0 L319.2 33.9 L320.7 33.9 L322.3 33.8 L323.9 33.8 L325.4 33.7 L327.0 33.7 L328.5 33.6 L330.0 33.6 L331.6 33.6 L333.2 33.5 L334.8 33.5 L336.4 33.4 L338.0 33.4 L339.6 33.3 L341.2 33.3 L342.8 33.3 L344.4 33.2 L346.0 33.2 L347.6 33.1 L349.2 33.1 L350.8 33.0 L352.4 33.0 L354.0 33.0 L355.6 32.9 L357.2 32.9 L358.8 32.8 L360.4 32.8 L362.0 32.7 L363.6 32.7 L365.2 32.6 L366.8 32.6 L368.4 32.6 L370.0 32.5 L371.6 32.5 L373.2 32.4 L374.8 32.4 L376.4 32.4 L378.0 32.3 L379.5 32.2 L381.1 32.2 L382.7 32.1 L384.2 32.1 L385.8 32.0 L387.4 31.9 L389.0 31.8 L390.6 31.8 L392.1 31.7 L393.7 31.6 L395.3 31.6 L396.9 31.5 L398.4 31.4 L400.0 31.4 L401.6 31.4 L403.2 31.3 L404.7 31.3 L406.3 31.3 L407.9 31.3 L409.5 31.3 L411.1 31.2 L412.7 31.2 L414.3 31.2 L415.8 31.2 L417.4 31.2 L419.0 31.1 L420.6 31.1 L422.2 31.1 L423.8 31.1 L425.3 31.0 L426.9 31.0 L428.5 31.0 L430.1 31.0 L431.7 31.0 L433.3 30.9 L434.8 30.9 L436.4 30.9 L438.0 30.9 L439.6 30.8 L441.2 30.8 L442.8 30.8 L444.3 30.8 L445.9 30.7 L447.5 30.7 L449.1 30.7 L450.7 30.7 L452.3 30.7 L453.8 30.6 L455.4 30.6 L457.0 30.6 L458.6 30.6 L460.2 30.5 L461.8 30.5 L463.3 30.5 L464.9 30.5 L466.5 30.5 L468.1 30.4 L469.7 30.4 L471.3 30.4 L472.9 30.4 L474.5 30.3 L476.0 30.3 L477.6 30.3 L479.4 30.3 L481.1 30.2 L482.9 30.2 L484.6 30.2 L486.3 30.2 L488.1 30.1 L489.8 30.1 L491.6 30.1 L493.3 30.1 L495.1 30.0 L496.8 30.0 L498.6 30.0 L500.3 30.0 L502.1 29.9 L503.8 29.9 L505.5 29.9 L507.3 29.8 L509.0 29.8 L510.8 29.8 L512.5 29.8 L514.3 29.7 L516.0 29.7 L517.8 29.7 L519.5 29.7 L521.3 29.6 L523.0 29.6 L524.8 29.6 L526.5 29.6 L528.3 29.5 L530.0 29.5 L531.5 29.5 L533.0 29.5 L534.5 29.4 L536.0 29.4 L537.5 29.4 L539.0 29.4 L540.5 29.4 L542.0 29.3 L543.6 29.3 L545.1 29.3 L546.6 29.3 L548.1 29.3 L549.6 29.2 L551.1 29.2 L552.6 29.2 L554.1 29.2 L555.6 29.2 L557.1 29.1 L558.6 29.1 L560.1 29.1 L561.6 29.1 L563.1 29.1 L564.6 29.0 L566.1 29.0 L567.6 29.0 L569.1 29.0 L570.7 29.0 L572.2 28.9 L573.7 28.9 L575.2 28.9 L576.7 28.9 L578.2 28.9 L579.7 28.8 L581.2 28.8 L582.7 28.8" stroke="#000" stroke-width="1.6"/><path d="M76.3 90.6 L76.8 90.0 L77.4 89.4 L78.7 88.2 L80.2 87.0 L81.6 85.9 L83.2 84.7 L84.8 83.6 L86.5 82.5 L88.2 81.5 L89.9 80.6 L91.6 79.8 L93.3 79.0 L94.7 78.3 L96.1 77.7 L97.5 77.0 L99.0 76.4 L100.7 75.7 L102.4 75.1 L104.1 74.5 L106.0 73.9 L107.5 73.5 L109.1 73.1 L110.7 72.8 L112.3 72.4 L114.0 72.1 L115.6 71.8 L117.2 71.4 L118.8 71.0 L120.4 70.6 L122.0 70.3 L123.6 69.9 L125.2 69.6 L126.7 69.3 L128.1 69.1 L129.6 68.9 L131.1 68.7 L132.6 68.5 L134.1 68.3 L135.6 68.1 L137.1 67.9 L138.6 67.7 L140.1 67.4 L141.6 67.2 L143.1 67.0 L144.6 66.8 L146.0 66.6 L147.7 66.4 L149.3 66.2 L150.8 66.1 L152.4 66.0 L154.0 65.8 L155.6 65.6 L157.2 65.5 L158.8 65.3 L160.4 65.2 L162.0 65.0 L163.6 64.8 L165.2 64.7 L166.7 64.5 L168.3 64.4 L170.0 64.2 L171.6 64.1 L173.3 63.9 L174.9 63.8 L176.6 63.7 L178.3 63.5 L180.0 63.4 L181.7 63.3 L183.3 63.1 L185.0 63.0 L186.7 62.9 L188.3 62.7 L190.0 62.6 L191.7 62.5 L193.3 62.3 L195.0 62.2 L196.6 62.1 L198.3 61.9 L200.0 61.8 L201.6 61.7 L203.3 61.6 L204.9 61.5 L206.6 61.4 L208.3 61.3 L210.0 61.2 L211.7 61.2 L213.3 61.1 L215.0 61.0 L216.7 60.9 L218.4 60.8 L220.0 60.7 L221.7 60.6 L223.4 60.5 L225.0 60.4 L226.7 60.3 L228.4 60.2 L230.0 60.2 L231.7 60.1 L233.4 60.0 L235.0 59.9 L236.7 59.8 L238.4 59.7 L240.0 59.6 L241.7 59.5 L243.4 59.4 L245.1 59.3 L246.7 59.2 L248.4 59.1 L250.1 59.1 L251.7 59.0 L253.4 58.9 L255.1 58.8 L256.7 58.7 L258.4 58.6 L260.1 58.5 L261.7 58.4 L263.4 58.3 L265.1 58.3 L266.7 58.2 L268.4 58.1 L270.1 58.0 L271.7 57.9 L273.4 57.9 L275.1 57.8 L276.8 57.7 L278.4 57.6 L280.1 57.5 L281.8 57.4 L283.4 57.4 L285.1 57.3 L286.8 57.2 L288.4 57.1 L290.1 57.0 L291.8 56.9 L293.4 56.9 L295.1 56.8 L296.8 56.7 L298.4 56.6 L300.1 56.5 L301.8 56.4 L303.5 56.4 L305.1 56.3 L306.8 56.2 L308.5 56.1 L310.2 56.0 L311.8 55.9 L313.5 55.8 L315.2 55.8 L316.8 55.7 L318.6 55.6 L320.3 55.6 L322.1 55.6 L323.8 55.5 L325.5 55.5 L327.3 55.5 L329.0 55.4 L330.7 55.4 L332.5 55.4 L334.2 55.3 L336.0 55.3 L337.7 55.3 L339.5 55.2 L341.2 55.2 L342.9 55.2 L344.7 55.1 L346.4 55.1 L348.2 55.1 L349.9 55.0 L351.7 55.0 L353.4 55.0 L355.1 54.9 L356.9 54.9 L358.6 54.8 L360.4 54.8 L362.1 54.8 L363.9 54.7 L365.6 54.7 L367.3 54.7 L369.1 54.6 L370.8 54.6 L372.6 54.6 L374.3 54.5 L376.1 54.5 L377.8 54.5 L379.5 54.4 L381.3 54.4 L383.0 54.3 L384.7 54.3 L386.5 54.3 L388.2 54.2 L390.0 54.2 L391.6 54.2 L393.2 54.2 L394.8 54.1 L396.4 54.1 L398.1 54.1 L399.7 54.1 L401.3 54.1 L402.9 54.1 L404.5 54.1 L406.1 54.1 L407.7 54.0 L409.4 54.0 L411.0 54.0 L412.6 54.0 L414.2 54.0 L415.8 54.0 L417.4 54.0 L419.0 53.9 L420.6 53.9 L422.3 53.9 L423.9 53.9 L425.5 53.9 L427.1 53.9 L428.7 53.9 L430.3 53.8 L431.9 53.8 L433.5 53.8 L435.2 53.8 L436.8 53.8 L438.4 53.8 L440.0 53.8 L441.6 53.7 L443.2 53.7 L444.8 53.7 L446.4 53.7 L448.1 53.7 L449.7 53.7 L451.3 53.7 L452.9 53.6 L454.5 53.6 L456.1 53.6 L457.7 53.6 L459.3 53.6 L461.0 53.6 L462.6 53.6 L464.2 53.5 L465.8 53.5 L467.4 53.5 L469.0 53.5 L470.6 53.5 L472.2 53.5 L473.9 53.5 L475.5 53.4 L477.1 53.4 L478.7 53.4 L480.3 53.4 L481.9 53.4 L483.5 53.4 L485.1 53.4 L486.8 53.3 L488.4 53.3 L490.0 53.3 L491.6 53.3 L493.2 53.3 L494.9 53.3 L496.5 53.2 L498.1 53.2 L499.7 53.2 L501.4 53.1 L503.0 53.1 L504.6 53.1 L506.3 53.0 L507.9 53.0 L509.5 53.0 L511.1 53.0 L512.8 52.9 L514.4 52.9 L516.0 52.9 L517.7 52.8 L519.3 52.8 L520.9 52.8 L522.5 52.8 L524.2 52.7 L525.8 52.7 L527.4 52.7 L529.1 52.7 L530.7 52.6 L532.3 52.6 L533.9 52.6 L535.6 52.6 L537.2 52.5 L538.8 52.5 L540.4 52.5 L542.1 52.5 L543.7 52.4 L545.3 52.4 L546.9 52.4 L548.6 52.4 L550.2 52.4 L551.8 52.3 L553.4 52.3 L555.1 52.3 L556.7 52.3 L558.3 52.2 L559.9 52.2 L561.6 52.2 L563.2 52.2 L564.8 52.2 L566.4 52.1 L568.1 52.1 L569.7 52.1 L571.3 52.1 L572.9 52.0 L574.6 52.0 L576.2 52.0 L577.8 52.0 L579.4 51.9 L581.1 51.9 L582.7 51.9" stroke="#79c424" stroke-width="1.9" stroke-dasharray="4.6 2.3"/><path d="M76.3 109.6 L77.4 108.0 L78.5 106.3 L79.4 104.9 L80.4 103.4 L81.4 102.0 L82.7 100.3 L84.0 98.8 L85.3 97.4 L86.6 96.0 L88.2 94.6 L90.0 93.4 L91.3 92.6 L92.6 91.9 L94.0 91.2 L95.3 90.5 L96.8 89.7 L98.2 89.0 L99.7 88.3 L101.2 87.6 L102.7 87.0 L104.3 86.4 L106.0 85.9 L107.5 85.5 L109.0 85.1 L110.7 84.8 L112.3 84.4 L114.0 84.1 L115.6 83.8 L117.2 83.4 L118.8 83.0 L120.4 82.6 L122.0 82.3 L123.6 81.9 L125.2 81.6 L126.7 81.3 L128.1 81.1 L129.6 80.9 L131.1 80.7 L132.6 80.4 L134.1 80.2 L135.6 80.0 L137.1 79.8 L138.6 79.5 L140.1 79.3 L141.6 79.0 L143.1 78.8 L144.6 78.6 L146.0 78.4 L147.7 78.2 L149.3 78.1 L150.8 77.9 L152.4 77.8 L154.0 77.7 L155.6 77.5 L157.2 77.4 L158.8 77.2 L160.4 77.1 L162.0 76.9 L163.6 76.8 L165.2 76.6 L166.7 76.5 L168.3 76.3 L170.0 76.2 L171.6 76.1 L173.3 75.9 L174.9 75.8 L176.6 75.7 L178.3 75.5 L180.0 75.4 L181.7 75.3 L183.3 75.1 L185.0 75.0 L186.7 74.9 L188.3 74.7 L190.0 74.6 L191.7 74.5 L193.3 74.3 L195.0 74.2 L196.6 74.0 L198.3 73.9 L200.0 73.8 L201.6 73.7 L203.3 73.6 L204.9 73.6 L206.6 73.5 L208.3 73.5 L210.0 73.4 L211.7 73.4 L213.3 73.3 L215.0 73.3 L216.7 73.2 L218.4 73.1 L220.0 73.1 L221.7 73.0 L223.4 73.0 L225.0 72.9 L226.7 72.8 L228.4 72.8 L230.0 72.7 L231.7 72.7 L233.4 72.6 L235.0 72.5 L236.7 72.5 L238.4 72.4 L240.0 72.4 L241.7 72.3 L243.4 72.2 L245.1 72.2 L246.7 72.1 L248.4 72.1 L250.1 72.0 L251.7 71.9 L253.4 71.9 L255.1 71.8 L256.7 71.8 L258.4 71.7 L260.1 71.7 L261.7 71.6 L263.4 71.6 L265.1 71.6 L266.7 71.5 L268.4 71.5 L270.1 71.5 L271.7 71.4 L273.4 71.4 L275.1 71.4 L276.8 71.3 L278.4 71.3 L280.1 71.3 L281.8 71.2 L283.4 71.2 L285.1 71.2 L286.8 71.1 L288.4 71.1 L290.1 71.0 L291.8 71.0 L293.4 71.0 L295.1 70.9 L296.8 70.9 L298.4 70.9 L300.1 70.8 L301.8 70.8 L303.5 70.8 L305.1 70.7 L306.8 70.7 L308.5 70.7 L310.2 70.6 L311.8 70.6 L313.5 70.6 L315.2 70.5 L316.8 70.5 L318.6 70.5 L320.3 70.5 L322.1 70.5 L323.8 70.5 L325.5 70.5 L327.3 70.5 L329.0 70.5 L330.7 70.5 L332.5 70.5 L334.2 70.5 L336.0 70.4 L337.7 70.4 L339.5 70.4 L341.2 70.4 L342.9 70.4 L344.7 70.4 L346.4 70.4 L348.2 70.4 L349.9 70.4 L351.7 70.4 L353.4 70.4 L355.1 70.4 L356.9 70.4 L358.6 70.4 L360.4 70.4 L362.1 70.4 L363.9 70.4 L365.6 70.4 L367.3 70.4 L369.1 70.4 L370.8 70.4 L372.6 70.3 L374.3 70.3 L376.1 70.3 L377.8 70.3 L379.5 70.3 L381.3 70.3 L383.0 70.3 L384.8 70.3 L386.5 70.3 L388.3 70.3 L390.0 70.3 L391.6 70.3 L393.2 70.3 L394.8 70.3 L396.4 70.3 L398.0 70.3 L399.6 70.3 L401.2 70.3 L402.8 70.4 L404.4 70.4 L406.0 70.4 L407.6 70.4 L409.2 70.4 L410.8 70.4 L412.4 70.4 L414.0 70.4 L415.6 70.4 L417.2 70.4 L418.8 70.4 L420.4 70.4 L422.0 70.4 L423.6 70.4 L425.2 70.4 L426.8 70.5 L428.4 70.5 L430.0 70.5 L431.6 70.5 L433.1 70.5 L434.7 70.5 L436.3 70.5 L438.0 70.5 L439.6 70.5 L441.2 70.6 L442.9 70.6 L444.5 70.7 L446.2 70.8 L447.9 70.8 L449.5 70.9 L451.2 71.0 L452.8 71.0 L454.5 71.1 L456.1 71.1 L457.8 71.2 L459.4 71.2 L461.1 71.3 L462.7 71.4 L464.4 71.4 L466.0 71.5 L467.7 71.5 L469.3 71.6 L471.0 71.6 L472.6 71.7 L474.2 71.8 L475.9 71.8 L477.5 71.9 L479.2 71.9 L480.8 72.0 L482.4 72.0 L484.1 72.1 L485.7 72.1 L487.4 72.2 L489.0 72.2 L490.6 72.3 L492.3 72.3 L493.9 72.4 L495.6 72.4 L497.2 72.5 L498.8 72.5 L500.5 72.6 L502.1 72.6 L503.8 72.7 L505.4 72.7 L507.0 72.8 L508.7 72.8 L510.3 72.9 L512.0 72.9 L513.6 73.0 L515.2 73.0 L516.9 73.1 L518.5 73.1 L520.2 73.2 L521.8 73.2 L523.5 73.3 L525.1 73.4 L526.8 73.4 L528.4 73.5 L530.0 73.5 L531.5 73.5 L533.0 73.6 L534.5 73.6 L536.0 73.6 L537.5 73.7 L539.0 73.7 L540.5 73.7 L542.0 73.8 L543.6 73.8 L545.1 73.8 L546.6 73.8 L548.1 73.9 L549.6 73.9 L551.1 73.9 L552.6 74.0 L554.1 74.0 L555.6 74.0 L557.1 74.1 L558.6 74.1 L560.1 74.1 L561.6 74.2 L563.1 74.2 L564.6 74.2 L566.1 74.3 L567.6 74.3 L569.1 74.3 L570.7 74.3 L572.2 74.4 L573.7 74.4 L575.2 74.4 L576.7 74.5 L578.2 74.5 L579.7 74.5 L581.2 74.6 L582.7 74.6" stroke="#d93a2b" stroke-width="1.6"/><path d="M76.3 124.5 L76.5 124.0 L76.7 123.3 L77.0 121.9 L77.4 120.2 L77.8 118.5 L78.3 117.0 L78.9 115.5 L79.6 114.0 L80.4 112.5 L81.3 111.0 L82.2 109.5 L83.2 108.2 L84.8 106.7 L86.5 105.4 L88.3 104.3 L90.4 103.2 L91.7 102.5 L93.1 101.8 L94.6 101.0 L96.1 100.3 L97.6 99.6 L99.0 99.0 L100.4 98.4 L101.8 97.8 L103.3 97.3 L104.8 96.7 L106.2 96.2 L107.6 95.8 L109.0 95.4 L110.5 95.0 L112.0 94.5 L113.5 94.1 L115.0 93.7 L116.5 93.3 L117.9 92.8 L119.4 92.3 L120.8 91.9 L122.3 91.4 L123.7 91.0 L125.2 90.7 L126.9 90.4 L128.6 90.2 L130.4 90.0 L132.1 89.8 L133.9 89.6 L135.6 89.5 L137.4 89.2 L139.2 89.0 L141.0 88.8 L142.7 88.6 L144.4 88.4 L146.0 88.2 L147.6 88.0 L149.1 87.9 L150.5 87.8 L152.0 87.7 L153.5 87.6 L155.0 87.5 L156.5 87.3 L158.0 87.2 L159.5 87.0 L161.0 86.8 L162.5 86.6 L164.0 86.5 L165.5 86.3 L166.9 86.1 L168.4 85.9 L170.0 85.7 L171.4 85.6 L172.8 85.5 L174.4 85.4 L175.9 85.3 L177.5 85.2 L179.1 85.1 L180.7 85.0 L182.2 84.9 L183.7 84.8 L185.2 84.7 L186.8 84.6 L188.3 84.5 L189.8 84.4 L191.3 84.3 L192.9 84.2 L194.4 84.1 L195.9 84.0 L197.4 83.9 L198.9 83.8 L200.5 83.7 L202.0 83.6 L203.6 83.5 L205.2 83.5 L206.8 83.4 L208.4 83.4 L210.0 83.3 L211.7 83.3 L213.3 83.3 L214.9 83.2 L216.5 83.2 L218.1 83.1 L219.7 83.1 L221.3 83.0 L222.9 83.0 L224.6 82.9 L226.2 82.9 L227.8 82.8 L229.4 82.8 L231.0 82.7 L232.6 82.7 L234.2 82.6 L235.8 82.6 L237.5 82.5 L239.1 82.5 L240.7 82.4 L242.3 82.4 L243.9 82.3 L245.5 82.3 L247.1 82.2 L248.7 82.2 L250.3 82.1 L251.9 82.1 L253.6 82.0 L255.2 82.0 L256.8 81.9 L258.4 81.9 L260.1 81.9 L261.7 81.9 L263.4 81.9 L265.1 81.9 L266.7 81.9 L268.4 81.9 L270.1 81.9 L271.7 81.9 L273.4 81.9 L275.1 81.9 L276.8 81.9 L278.4 81.9 L280.1 81.9 L281.8 81.9 L283.4 81.9 L285.1 81.9 L286.8 81.9 L288.4 81.9 L290.1 81.9 L291.8 81.9 L293.4 81.9 L295.1 81.9 L296.8 81.9 L298.4 81.9 L300.1 81.9 L301.8 81.9 L303.5 81.9 L305.1 81.9 L306.8 81.9 L308.5 81.9 L310.2 81.9 L311.8 81.9 L313.5 81.9 L315.2 81.9 L316.8 81.9 L318.6 81.9 L320.3 82.0 L322.1 82.1 L323.8 82.2 L325.5 82.3 L327.3 82.3 L329.0 82.4 L330.7 82.5 L332.5 82.5 L334.2 82.6 L336.0 82.7 L337.7 82.8 L339.5 82.8 L341.2 82.9 L342.9 83.0 L344.7 83.0 L346.4 83.1 L348.2 83.2 L349.9 83.3 L351.7 83.3 L353.4 83.4 L355.1 83.5 L356.9 83.5 L358.6 83.6 L360.4 83.7 L362.1 83.8 L363.9 83.8 L365.6 83.9 L367.3 84.0 L369.1 84.0 L370.8 84.1 L372.6 84.2 L374.3 84.3 L376.1 84.3 L377.8 84.4 L379.5 84.5 L381.3 84.5 L383.0 84.6 L384.8 84.7 L386.5 84.8 L388.2 84.8 L390.0 84.9 L391.6 85.0 L393.1 85.0 L394.7 85.1 L396.2 85.2 L397.8 85.3 L399.4 85.3 L400.9 85.4 L402.5 85.5 L404.1 85.5 L405.6 85.6 L407.2 85.7 L408.8 85.8 L410.3 85.8 L411.9 85.9 L413.5 86.0 L415.0 86.0 L416.6 86.1 L418.2 86.2 L419.7 86.3 L421.3 86.3 L422.9 86.4 L424.4 86.5 L426.0 86.5 L427.6 86.6 L429.2 86.6 L430.7 86.7 L432.3 86.8 L433.8 86.9 L435.5 87.0 L437.1 87.2 L438.7 87.4 L440.3 87.5 L441.9 87.7 L443.5 87.9 L445.2 88.0 L446.8 88.2 L448.4 88.3 L450.0 88.5 L451.6 88.7 L453.3 88.8 L454.9 89.0 L456.5 89.1 L458.2 89.3 L459.8 89.4 L461.4 89.6 L463.0 89.8 L464.7 90.1 L466.3 90.3 L467.8 90.6 L469.4 91.0 L471.0 91.2 L472.7 91.5 L474.4 91.7 L476.0 91.9 L477.6 92.2 L479.0 92.7 L480.7 93.6 L482.1 94.6 L482.8 95.7 L482.2 97.0 L480.7 98.3 L479.0 99.4 L477.5 100.1 L475.9 100.6 L474.1 101.1 L472.5 101.6 L470.8 102.1 L469.2 102.7 L467.6 103.2 L465.9 103.8 L464.5 104.2 L463.1 104.7 L461.6 105.1 L460.1 105.5 L458.6 106.0 L457.1 106.4 L455.7 106.8 L454.3 107.3 L452.8 107.7 L451.4 108.1 L449.9 108.6 L448.4 109.0 L446.8 109.5 L445.1 110.0 L443.5 110.5 L441.8 111.0 L440.1 111.5 L438.4 112.0 L436.8 112.4 L435.1 113.0 L433.5 113.5 L431.8 114.0 L430.1 114.4 L428.5 114.9 L426.9 115.3 L425.4 115.7 L423.9 116.1 L422.3 116.5 L420.8 116.8 L419.2 117.2 L417.7 117.6 L416.1 118.0 L414.6 118.4 L413.0 118.8 L411.5 119.2 L410.0 119.5 L408.4 119.8 L406.8 120.1 L405.3 120.3 L403.7 120.5 L402.1 120.8 L400.6 121.0 L399.0 121.2 L397.5 121.4 L395.9 121.7 L394.3 122.0 L392.8 122.4 L391.3 122.9 L389.7 123.4 L388.2 124.0 L386.7 124.5 L385.3 125.0 L383.7 125.5 L382.2 126.1 L380.8 126.6 L379.4 127.1 L377.9 127.6 L376.4 128.1 L374.9 128.6 L373.4 129.2 L371.9 130.0 L370.3 130.9 L368.8 131.8 L367.4 132.8 L366.1 133.8 L364.9 134.9 L363.8 135.9 L362.6 137.0 L361.4 138.1 L360.2 139.2 L359.0 140.2 L357.8 141.2 L356.5 142.0 L355.1 142.8 L353.8 143.5 L352.4 144.2 L351.1 145.0 L349.7 145.7 L348.4 146.5 L347.0 147.2 L345.5 148.0 L344.0 148.7 L342.5 149.5 L341.0 150.2 L339.5 151.0 L338.1 151.7 L336.6 152.5 L335.0 153.2 L333.6 153.8 L332.1 154.3 L330.5 154.9 L329.0 155.4 L327.5 155.9 L326.0 156.5 L324.5 157.0 L323.0 157.6 L321.5 158.1 L320.0 158.7 L318.6 159.2 L317.2 159.7 L315.8 160.3 L314.4 160.8 L312.9 161.3 L311.5 161.8 L310.1 162.4 L308.7 162.9 L307.3 163.5 L305.8 164.0 L304.4 164.5 L303.0 165.0 L301.3 165.5 L299.6 166.0 L297.8 166.4 L296.1 166.9 L294.4 167.3 L292.7 167.7 L291.0 168.2 L289.3 168.6 L287.6 169.1 L285.8 169.6 L284.3 170.1 L282.7 170.7 L281.1 171.3 L279.5 171.9 L278.0 172.5 L276.4 173.1 L275.0 173.7 L273.4 174.3 L271.9 174.9 L270.5 175.5 L269.0 176.0 L267.5 176.6 L266.0 177.2 L264.5 177.8 L263.1 178.3 L261.6 178.9 L260.1 179.5 L258.6 180.1 L257.1 180.6 L255.6 181.2 L254.1 181.8 L252.6 182.4 L251.0 183.1 L249.4 183.8 L247.8 184.5 L246.2 185.3 L244.6 186.0 L243.1 186.7 L241.5 187.5 L239.9 188.3 L238.3 189.0 L236.7 189.6 L234.9 190.2 L233.1 190.6 L231.3 191.0 L229.5 191.4 L227.7 191.8 L225.9 192.1 L224.1 192.6 L222.3 193.2 L220.9 193.9 L219.4 194.8 L218.0 195.7 L216.5 196.8 L215.1 197.8 L213.7 198.9 L212.5 199.9 L211.3 201.0 L210.1 202.1 L208.9 203.2 L207.7 204.3 L206.4 205.2 L205.1 206.1 L203.7 206.8 L202.3 207.3 L200.8 207.8 L199.3 208.2 L197.8 208.6 L196.3 209.1 L195.0 209.7 L193.6 210.5 L192.4 211.4 L191.1 212.4 L189.9 213.4 L188.7 214.3 L187.5 215.3 L186.3 216.3 L185.1 217.2 L183.8 218.2 L182.6 219.1 L181.3 220.1 L180.0 220.9 L178.5 221.7 L176.8 222.4 L175.2 223.0 L173.5 223.7 L171.9 224.4 L170.5 225.2 L169.1 226.1 L167.9 227.1 L166.7 228.2 L165.6 229.3 L164.8 230.3 L164.1 232.1 L163.3 233.9 L162.5 234.9 L161.3 236.0 L160.0 237.1 L158.6 238.3 L157.2 239.5 L155.9 240.6 L154.7 241.8 L153.6 243.0 L152.5 244.1 L151.4 245.3 L150.5 246.5 L149.6 247.7 L148.9 249.0 L148.3 250.5 L147.9 252.0 L147.7 253.6 L147.5 255.3 L147.3 257.0 L147.2 258.5 L147.1 260.0 L147.2 261.6 L147.2 263.2 L147.2 264.9 L147.3 266.5 L147.3 268.1 L147.3 269.7 L147.3 271.3 L147.3 272.9 L147.3 274.5 L147.3 276.0 L147.3 277.6 L147.3 279.2 L147.3 280.8 L147.2 282.4 L147.2 284.0 L147.2 285.6 L147.2 287.2 L147.2 288.7 L147.2 290.3 L147.2 291.9 L147.2 293.5 L147.2 295.1 L147.2 296.7 L147.2 298.3 L147.2 299.9 L147.2 301.4 L147.2 303.0 L147.2 304.6 L147.2 306.2 L147.2 307.8 L147.2 309.4 L147.2 311.0 L147.2 312.6 L147.2 314.1 L147.2 315.7 L147.2 317.3 L147.2 318.9 L147.2 320.5 L147.2 322.1 L147.2 323.7 L147.2 325.3 L147.2 326.8 L147.2 328.4 L147.2 330.0 L147.2 331.6 L147.1 333.2 L147.1 334.8 L147.1 336.4 L147.1 338.0 L147.1 339.5 L147.1 341.1 L147.1 342.7 L147.1 344.3 L147.1 345.9 L147.1 347.5 L147.1 349.1 L147.1 350.7 L147.1 352.2 L147.1 353.8 L147.1 355.4 L147.1 357.0" stroke="#87898d" stroke-width="1.6"/><path d="M76.3 233.4 L78.0 233.7 L79.7 233.9 L81.4 234.1 L83.1 234.3 L84.8 234.5 L86.4 234.9 L88.0 235.4 L89.7 236.1 L91.3 236.9 L92.8 237.8 L94.3 238.8 L95.7 239.8 L97.0 240.8 L98.4 242.0 L99.7 243.3 L100.8 244.5 L101.6 245.8 L102.1 247.7 L102.4 249.7 L102.7 251.3 L103.0 253.1 L103.3 255.0 L103.5 257.0 L103.6 258.5 L103.6 260.0 L103.6 261.6 L103.6 263.2 L103.5 264.9 L103.5 266.5 L103.5 268.1 L103.5 269.7 L103.5 271.3 L103.5 272.9 L103.5 274.5 L103.5 276.0 L103.5 277.6 L103.5 279.2 L103.5 280.8 L103.5 282.4 L103.5 284.0 L103.5 285.6 L103.5 287.2 L103.5 288.7 L103.5 290.3 L103.5 291.9 L103.5 293.5 L103.5 295.1 L103.5 296.7 L103.5 298.3 L103.5 299.9 L103.5 301.4 L103.5 303.0 L103.5 304.6 L103.5 306.2 L103.5 307.8 L103.5 309.4 L103.5 311.0 L103.5 312.6 L103.5 314.1 L103.5 315.7 L103.5 317.3 L103.5 318.9 L103.5 320.5 L103.5 322.1 L103.5 323.7 L103.5 325.3 L103.5 326.8 L103.5 328.4 L103.5 330.0 L103.5 331.6 L103.5 333.2 L103.5 334.8 L103.5 336.4 L103.5 338.0 L103.5 339.5 L103.5 341.1 L103.5 342.7 L103.5 344.3 L103.5 345.9 L103.5 347.5 L103.5 349.1 L103.5 350.7 L103.5 352.2 L103.5 353.8 L103.5 355.4 L103.5 357.0" stroke="#87898d" stroke-width="1.6"/><path d="M76.3 134.0 L76.8 132.2 L77.3 130.5 L77.9 129.0 L78.6 127.5 L79.4 126.2 L80.3 124.8 L81.0 123.5 L81.7 122.0 L82.4 120.4 L83.2 119.0 L84.3 117.5 L85.5 116.0 L86.8 114.7 L88.1 113.7 L89.5 112.8 L91.0 111.9 L92.5 111.1 L93.9 110.4 L95.3 109.8 L96.8 109.3 L98.3 108.7 L99.7 108.2 L101.3 107.6 L102.8 107.2 L104.3 106.7 L106.0 106.1 L107.5 105.6 L109.1 105.0 L110.7 104.5 L112.3 103.9 L114.0 103.3 L115.6 102.7 L117.2 102.1 L118.8 101.5 L120.4 100.9 L122.0 100.3 L123.6 99.8 L125.2 99.3 L126.9 98.9 L128.6 98.7 L130.4 98.5 L132.1 98.3 L133.9 98.1 L135.6 97.9 L137.4 97.7 L139.3 97.4 L141.2 97.2 L143.0 96.9 L144.7 96.7 L146.0 96.5 L147.3 96.2 L148.7 96.0 L149.9 95.9 L151.2 95.8 L152.8 95.7 L154.4 95.6 L156.1 95.5 L157.8 95.4 L159.4 95.3 L160.9 95.2 L162.4 95.1 L163.9 95.0 L165.5 94.9 L167.0 94.8 L168.5 94.7 L170.0 94.6 L171.5 94.5 L173.1 94.4 L174.6 94.3 L176.1 94.3 L177.6 94.2 L179.2 94.1 L180.7 94.0 L182.2 93.9 L183.7 93.8 L185.2 93.7 L186.8 93.6 L188.3 93.5 L189.8 93.4 L191.3 93.3 L192.9 93.2 L194.4 93.1 L195.9 93.0 L197.4 92.8 L199.0 92.7 L200.5 92.7 L202.0 92.6 L203.7 92.6 L205.5 92.6 L207.2 92.6 L209.0 92.6 L210.7 92.6 L212.4 92.6 L214.2 92.6 L215.9 92.6 L217.7 92.6 L219.4 92.6 L221.2 92.6 L222.9 92.7 L224.6 92.7 L226.4 92.7 L228.1 92.7 L229.9 92.7 L231.6 92.7 L233.4 92.7 L235.1 92.7 L236.8 92.7 L238.6 92.7 L240.3 92.7 L242.0 92.7 L243.8 92.7 L245.4 92.7 L246.9 92.7 L248.5 92.8 L250.0 92.8 L251.6 92.9 L253.2 92.9 L254.8 92.9 L256.3 93.0 L257.9 93.0 L259.4 93.0 L261.0 93.1 L262.6 93.1 L264.1 93.1 L265.7 93.2 L267.3 93.2 L268.8 93.2 L270.4 93.2 L272.0 93.3 L273.5 93.3 L275.1 93.3 L276.7 93.4 L278.2 93.4 L279.9 93.4 L281.5 93.4 L283.1 93.4 L284.7 93.5 L286.2 93.5 L287.6 93.6 L289.4 93.8 L291.1 93.9 L292.7 94.2 L294.4 94.3 L296.1 94.5 L297.8 94.7 L299.5 94.9 L301.2 95.1 L302.8 95.3 L304.4 95.5 L306.0 95.7 L307.6 95.9 L309.2 96.2 L310.8 96.3 L312.4 96.6 L314.0 96.8 L315.5 97.0 L317.0 97.3 L318.5 97.6 L320.0 97.9 L321.5 98.2 L323.1 98.5 L324.6 98.8 L326.1 99.2 L327.5 99.6 L329.7 100.4 L331.6 101.4 L332.7 102.6 L333.3 104.0 L333.4 105.2 L333.1 106.5 L332.5 107.9 L331.6 109.2 L330.7 110.2 L329.5 111.1 L328.2 112.1 L326.9 113.0 L325.5 113.8 L324.1 114.6 L322.5 115.4 L321.0 116.2 L319.4 117.0 L318.0 117.8 L316.5 118.6 L315.0 119.4 L313.5 120.2 L312.0 121.0 L310.4 121.7 L308.7 122.4 L307.1 123.1 L305.4 123.8 L303.8 124.5 L302.1 125.2 L300.5 125.8 L298.8 126.5 L297.2 127.2 L295.5 128.0 L294.1 128.7 L292.6 129.4 L291.1 130.1 L289.7 130.8 L288.2 131.6 L286.9 132.4 L285.6 133.3 L284.2 134.5 L282.9 135.8 L281.7 137.1 L280.6 138.4 L279.4 139.6 L278.2 140.7 L277.0 141.8 L275.9 142.8 L274.7 143.8 L273.5 144.9 L272.3 146.0 L271.1 147.0 L270.0 148.1 L269.0 149.5 L268.1 150.9 L267.0 152.2 L265.8 153.0 L264.4 153.6 L262.9 154.2 L261.3 154.8 L259.8 155.4 L258.4 156.0 L256.9 156.7 L255.5 157.3 L254.0 158.0 L252.6 158.6 L251.2 159.2 L249.7 159.8 L248.3 160.4 L246.8 160.9 L245.4 161.5 L244.0 162.1 L242.5 162.7 L241.1 163.2 L239.6 163.8 L238.2 164.4 L236.8 165.0 L235.3 165.5 L233.9 166.1 L232.4 166.7 L231.0 167.2 L229.6 167.8 L228.1 168.4 L226.7 168.9 L225.2 169.5 L223.8 170.1 L222.4 170.8 L220.9 171.5 L219.5 172.2 L218.0 173.0 L216.6 173.7 L215.2 174.4 L213.7 175.1 L212.3 175.8 L210.8 176.6 L209.4 177.3 L208.0 178.1 L206.5 178.9 L205.1 179.7 L203.6 180.5 L202.2 181.3 L200.7 182.1 L199.2 183.0 L197.7 183.8 L196.3 184.6 L195.0 185.3 L192.9 186.3 L190.9 187.1 L189.5 187.6 L188.1 188.1 L186.6 188.5 L185.2 189.0 L183.7 189.4 L182.4 189.9 L180.9 190.3 L179.4 190.9 L178.1 191.4 L176.6 192.0 L175.0 192.7 L173.5 193.4 L172.1 194.1 L170.8 194.9 L169.8 195.7 L168.9 197.1 L168.4 198.5 L167.6 200.0 L166.7 201.1 L165.5 202.2 L164.2 203.4 L162.9 204.5 L161.6 205.6 L160.4 206.5 L159.1 207.4 L157.8 208.2 L156.6 209.0 L155.4 209.8 L154.1 210.5 L152.9 211.3 L151.7 212.1 L150.3 213.0 L149.0 213.9 L147.5 214.8 L146.0 215.8 L144.5 216.8 L143.0 217.8 L141.7 218.7 L140.3 219.7 L139.1 220.5 L137.9 221.4 L136.6 222.3 L135.4 223.2 L134.2 224.0 L132.9 224.9 L131.6 225.9 L130.4 227.0 L129.3 228.2 L128.1 229.4 L126.8 230.7 L125.6 232.0 L124.4 233.1 L123.1 234.3 L121.8 235.5 L120.5 236.6 L119.2 237.4 L118.0 237.9 L116.1 237.7 L114.2 236.9 L112.1 236.3 L110.0 235.3 L108.7 234.0 L107.5 232.4 L106.0 230.9 L104.8 229.9 L103.3 228.9 L101.8 227.9 L100.2 226.9 L98.6 226.1 L97.0 225.5 L95.5 225.1 L94.1 224.9 L92.6 224.8 L91.1 224.7 L89.6 224.7 L88.0 224.6 L86.4 224.5 L84.8 224.3 L83.1 224.2 L81.4 224.1 L79.7 224.0 L78.0 223.8 L76.3 223.7" stroke="#ea5a1e" stroke-width="1.7" stroke-dasharray="5 2 1.5 2 1.5 2"/><path d="M76.3 147.0 L76.9 145.3 L77.6 143.5 L78.1 142.0 L78.6 140.3 L79.2 138.5 L79.7 136.8 L80.2 135.1 L80.6 133.4 L81.1 131.8 L81.8 130.1 L82.7 128.7 L83.7 127.3 L84.9 125.8 L86.2 124.4 L87.4 123.2 L88.5 122.1 L89.8 120.9 L91.1 119.9 L92.7 119.0 L93.9 118.4 L95.3 117.7 L96.8 117.0 L98.3 116.4 L99.9 115.8 L101.4 115.2 L102.8 114.7 L104.3 114.2 L105.8 113.7 L107.2 113.3 L108.6 113.0 L110.0 112.6 L111.4 112.1 L112.8 111.7 L114.3 111.2 L115.7 110.8 L117.2 110.4 L118.8 110.1 L120.5 109.8 L122.2 109.5 L123.9 109.2 L125.6 109.0 L127.3 108.6 L129.0 108.3 L130.7 108.0 L132.4 107.7 L134.0 107.5 L135.5 107.3 L137.0 107.2 L138.4 107.0 L140.0 106.9 L141.4 106.8 L142.9 106.6 L144.4 106.5 L146.0 106.3 L147.6 106.1 L149.2 106.0 L150.8 105.8 L152.3 105.6 L153.9 105.5 L155.4 105.3 L157.0 105.1 L158.5 104.9 L160.1 104.8 L161.6 104.7 L163.1 104.6 L164.7 104.6 L166.2 104.6 L167.8 104.6 L169.3 104.7 L170.9 104.7 L172.4 104.7 L173.9 104.7 L175.5 104.7 L177.0 104.7 L178.6 104.7 L180.1 104.7 L181.7 104.7 L183.2 104.7 L184.7 104.7 L186.3 104.7 L187.8 104.7 L189.4 104.7 L190.9 104.7 L192.5 104.7 L194.0 104.7 L195.6 104.7 L197.1 104.7 L198.7 104.6 L200.3 104.6 L201.8 104.6 L203.3 104.6 L204.8 104.7 L206.5 104.9 L208.1 105.1 L209.7 105.3 L211.3 105.6 L212.9 105.8 L214.6 106.1 L216.2 106.3 L217.8 106.5 L219.4 106.7 L221.1 107.0 L222.7 107.2 L224.4 107.3 L226.1 107.5 L227.7 107.8 L229.2 108.1 L230.7 108.6 L232.2 109.1 L233.6 109.7 L235.1 110.3 L236.6 110.8 L238.2 111.2 L239.7 111.8 L240.9 112.5 L242.0 113.7 L242.9 115.1 L243.2 116.6 L242.9 117.7 L242.2 118.9 L241.3 120.1 L240.2 121.4 L239.1 122.7 L238.2 124.1 L237.4 125.4 L236.7 126.8 L235.9 128.2 L235.2 129.6 L234.4 131.1 L233.7 132.5 L233.0 134.0 L232.3 135.5 L231.8 137.1 L231.2 138.7 L230.6 140.4 L230.0 141.9 L229.3 143.3 L228.5 144.6 L227.4 145.9 L226.1 147.0 L224.7 148.0 L223.3 149.0 L222.0 150.0 L220.7 151.1 L219.4 152.2 L218.2 153.3 L216.8 154.4 L215.5 155.4 L214.1 156.3 L212.7 157.2 L211.2 158.0 L209.8 158.9 L208.3 159.7 L206.9 160.6 L205.5 161.5 L204.0 162.3 L202.6 163.2 L201.2 164.1 L199.7 164.9 L198.3 165.8 L196.9 166.6 L195.5 167.5 L194.0 168.4 L192.7 169.2 L191.3 170.0 L189.9 170.9 L188.5 171.7 L187.1 172.6 L185.8 173.4 L184.4 174.2 L183.0 175.1 L181.6 175.9 L180.2 176.8 L178.8 177.6 L177.5 178.4 L176.1 179.2 L174.8 180.0 L173.4 180.7 L172.1 181.5 L170.8 182.2 L169.4 183.0 L168.0 183.8 L166.7 184.6 L165.3 185.4 L164.0 186.1 L162.5 186.8 L161.1 187.4 L159.7 187.9 L158.2 188.5 L156.8 189.1 L155.4 189.6 L154.0 190.2 L152.5 190.9 L151.2 191.5 L149.9 192.2 L148.5 193.0 L147.0 193.8 L145.6 194.7 L144.3 195.6 L143.0 196.6 L141.8 197.7 L140.6 199.0 L139.5 200.3 L138.4 201.7 L137.4 203.0 L136.3 204.2 L135.3 205.3 L133.9 206.5 L132.5 207.5 L131.2 208.5 L129.9 209.5 L128.5 210.5 L127.2 211.5 L125.9 212.6 L124.4 213.7 L123.2 214.7 L121.8 215.8 L120.3 217.0 L118.8 218.2 L117.4 219.2 L116.1 220.1 L115.1 220.6 L114.0 220.9 L112.9 220.9 L111.6 220.8 L109.9 220.5 L108.1 220.1 L106.3 219.8 L104.6 219.6 L102.9 219.5 L101.2 219.5 L99.6 219.6 L97.9 219.6 L96.2 219.6 L94.5 219.7 L92.9 219.7 L91.2 219.6 L89.5 219.3 L87.8 219.0 L86.2 218.6 L84.5 218.2 L82.7 217.8 L80.9 217.4 L79.1 217.0 L77.8 216.8 L77.0 216.8 L76.3 216.8" stroke="#000" stroke-width="2" stroke-dasharray="2.4 2 2.4 5.5"/><path d="M165.9 141.4 L165.4 140.3 L164.4 139.2 L163.1 138.2 L161.6 137.2 L160.0 136.3 L158.6 135.5 L157.3 134.9 L155.7 134.2 L154.1 133.8 L152.5 133.4 L151.0 133.0 L149.4 132.7 L147.8 132.3 L146.2 132.0 L144.7 131.6 L143.2 131.3 L141.7 130.9 L140.0 130.6 L138.6 130.4 L137.2 130.2 L135.7 130.0 L134.1 129.8 L132.5 129.7 L131.0 129.6 L129.5 129.5 L127.9 129.5 L126.3 129.6 L124.7 129.7 L123.1 129.8 L121.5 129.9 L120.0 130.0 L118.4 130.1 L116.8 130.1 L115.2 130.1 L113.6 130.2 L112.0 130.3 L110.4 130.5 L108.8 130.8 L107.3 131.2 L105.7 131.7 L104.2 132.2 L102.6 132.8 L101.1 133.2 L99.5 133.7 L97.9 134.0 L96.4 134.4 L94.8 134.8 L93.3 135.3 L91.8 136.0 L90.5 136.8 L89.2 137.7 L87.9 138.8 L86.6 139.9 L85.5 141.1 L84.4 142.3 L83.4 143.5 L82.5 144.8 L81.7 146.1 L80.9 147.5 L80.3 148.9 L79.7 150.4 L79.2 151.9 L78.8 153.5 L78.5 155.1 L78.2 156.9 L78.0 158.6 L77.8 160.4 L77.7 162.1 L77.6 163.7 L77.5 165.5 L77.5 167.3 L77.5 169.0 L77.6 170.7 L77.6 172.5 L77.6 174.2 L77.6 176.0 L77.6 177.7 L77.6 179.5 L77.6 181.2 L77.6 183.0 L77.5 184.7 L77.5 186.5 L77.5 188.2 L77.6 190.0 L77.7 191.6 L77.9 193.2 L78.1 194.7 L78.3 196.3 L78.6 197.9 L79.0 199.4 L79.5 201.2 L80.0 203.1 L80.7 204.9 L81.5 206.4 L82.6 207.5 L83.8 208.0 L85.2 208.2 L86.7 208.2 L88.4 208.1 L90.0 207.8 L91.6 207.5 L93.2 207.1 L94.8 206.6 L96.4 206.0 L98.0 205.3 L99.6 204.5 L101.1 203.8 L102.4 203.0 L103.9 201.9 L105.3 200.8 L106.5 199.6 L107.8 198.5 L109.1 197.4 L110.4 196.2 L111.8 195.1 L113.2 194.0 L114.5 193.1 L115.8 192.2 L117.2 191.4 L118.6 190.5 L120.0 189.5 L121.3 188.6 L122.7 187.5 L124.1 186.5 L125.5 185.4 L126.9 184.3 L128.3 183.3 L129.5 182.3 L131.0 181.0 L132.5 179.8 L133.8 178.7 L135.2 177.5 L136.7 176.3 L138.2 175.1 L139.6 173.9 L141.0 172.7 L142.2 171.7 L143.4 170.7 L144.6 169.8 L145.8 168.8 L147.0 167.9 L148.2 167.0 L149.4 166.1 L150.6 165.0 L151.8 163.8 L153.0 162.5 L154.2 161.2 L155.3 159.8 L156.4 158.3 L157.2 157.0 L158.0 155.6 L158.8 154.2 L159.5 152.8 L160.2 151.4 L161.0 150.0 L162.0 148.5 L163.1 147.1 L164.2 145.6 L165.2 144.1 L165.8 142.7 L165.9 141.4" stroke="#8ccbea" stroke-width="1.7" stroke-dasharray="6.5 1.5 1 1.5"/><path d="M91.5 149.5 L90.1 150.4 L88.7 151.5 L87.4 152.7 L86.1 154.0 L85.1 155.3 L84.2 156.9 L83.5 158.7 L82.9 160.4 L82.5 162.1 L82.1 163.8 L81.9 165.4 L81.8 167.1 L81.7 168.7 L81.7 170.3 L81.7 171.9 L81.7 173.6 L81.6 175.2 L81.5 176.8 L81.4 178.4 L81.5 180.0 L81.7 181.5 L82.0 183.2 L82.4 184.8 L82.9 186.3 L83.4 187.5 L84.2 188.9 L85.4 189.9 L87.0 190.5 L89.0 190.8 L91.2 190.9 L92.7 190.8 L94.3 190.7 L96.0 190.5 L97.7 190.1 L99.3 189.6 L100.8 189.0 L102.2 188.2 L103.6 187.1 L104.9 185.9 L106.2 184.7 L107.3 183.4 L108.4 182.3 L109.5 181.1 L110.4 179.9 L111.3 178.7 L112.2 177.5 L113.2 176.3 L114.1 175.2 L115.1 174.0 L116.1 172.7 L117.0 171.5 L118.1 170.2 L119.1 168.9 L120.1 167.5 L121.1 166.2 L121.9 165.0 L122.9 163.3 L123.7 161.7 L124.5 160.0 L125.1 158.6 L125.7 157.0 L126.3 155.3 L126.6 153.8 L126.6 152.5 L125.9 151.1 L124.8 149.9 L123.5 149.0 L121.9 148.4 L120.0 148.1 L118.0 147.7 L116.5 147.3 L114.9 146.9 L113.3 146.4 L111.6 145.9 L110.1 145.6 L108.7 145.4 L106.6 145.5 L104.6 145.8 L103.2 146.0 L101.7 146.4 L100.1 146.7 L98.5 147.1 L97.0 147.5 L95.1 148.0 L93.3 148.6 L91.5 149.5" stroke="#4a55b5" stroke-width="1.6" stroke-dasharray="2.6 2"/><path d="M76.3 239.5 L77.7 240.3 L79.2 241.1 L80.7 241.9 L82.1 242.7 L83.4 243.5 L84.4 244.4 L85.7 246.1 L86.5 248.0 L87.1 249.7 L87.6 251.6 L88.0 253.3 L88.4 255.1 L88.6 257.0 L88.7 258.3 L88.7 259.7 L88.7 261.3 L88.7 263.0 L88.6 264.8 L88.6 266.5 L88.6 268.1 L88.6 269.7 L88.6 271.3 L88.6 272.9 L88.6 274.5 L88.6 276.0 L88.6 277.6 L88.6 279.2 L88.6 280.8 L88.6 282.4 L88.6 284.0 L88.6 285.6 L88.6 287.2 L88.6 288.7 L88.6 290.3 L88.6 291.9 L88.6 293.5 L88.6 295.1 L88.6 296.7 L88.6 298.3 L88.6 299.9 L88.6 301.4 L88.6 303.0 L88.6 304.6 L88.6 306.2 L88.6 307.8 L88.6 309.4 L88.6 311.0 L88.6 312.6 L88.6 314.1 L88.6 315.7 L88.6 317.3 L88.6 318.9 L88.6 320.5 L88.6 322.1 L88.6 323.7 L88.6 325.3 L88.6 326.8 L88.6 328.4 L88.6 330.0 L88.6 331.6 L88.6 333.2 L88.6 334.8 L88.6 336.4 L88.6 338.0 L88.6 339.5 L88.6 341.1 L88.6 342.7 L88.6 344.3 L88.6 345.9 L88.6 347.5 L88.6 349.1 L88.6 350.7 L88.6 352.2 L88.6 353.8 L88.6 355.4 L88.6 357.0" stroke="#d93a2b" stroke-width="1.6"/><path d="M220.0 357.0 L220.0 355.4 L220.0 353.8 L220.0 352.2 L220.0 350.6 L220.0 349.0 L220.0 347.4 L220.0 345.8 L220.0 344.1 L220.0 342.5 L220.0 340.9 L220.0 339.3 L220.0 337.7 L220.0 336.1 L220.0 334.5 L220.0 332.9 L220.0 331.3 L220.0 329.7 L220.0 328.1 L220.0 326.5 L220.0 324.9 L220.0 323.2 L220.0 321.6 L220.0 320.0 L220.0 318.4 L220.0 316.8 L220.0 315.2 L220.0 313.6 L220.0 312.0 L220.0 310.4 L220.0 308.8 L220.0 307.2 L220.0 305.6 L220.0 304.0 L220.0 302.4 L220.0 300.8 L220.0 299.1 L220.0 297.5 L220.0 295.9 L220.0 294.3 L220.0 292.7 L220.0 291.1 L220.0 289.5 L220.0 287.9 L220.0 286.3 L220.0 284.7 L220.0 283.1 L220.0 281.5 L220.0 279.9 L220.0 278.2 L220.0 276.6 L220.0 275.0 L220.0 273.3 L220.0 271.6 L220.0 270.0 L220.0 268.5 L220.0 267.0 L220.0 265.1 L220.0 263.4 L220.0 261.7 L220.0 260.0 L220.1 258.4 L220.1 256.8 L220.2 255.1 L220.4 253.4 L220.8 251.8 L221.3 250.3 L221.9 248.8 L222.6 247.3 L223.4 245.9 L224.2 244.5 L225.1 243.2 L226.1 241.9 L227.2 240.8 L228.4 239.7 L229.6 238.7 L230.8 237.7 L232.3 236.7 L233.8 235.9 L235.3 235.1 L236.6 234.2 L237.7 232.9 L238.5 231.5 L239.5 230.2 L240.8 228.9 L242.2 227.7 L243.8 226.6 L245.0 225.9 L246.4 225.3 L247.9 224.7 L249.4 224.1 L250.9 223.5 L252.4 223.0 L253.8 222.5 L255.3 222.0 L256.8 221.6 L258.2 221.2 L259.6 220.7 L261.0 220.1 L262.5 219.3 L264.0 218.5 L265.4 217.6 L266.8 216.6 L268.2 215.8 L269.6 215.0 L271.0 214.3 L272.3 213.5 L273.7 212.9 L275.0 212.2 L276.4 211.5 L277.7 211.0 L279.0 210.4 L280.5 209.8 L281.9 209.4 L283.4 208.9 L285.0 208.5 L286.7 208.1 L288.3 207.6 L289.8 207.1 L291.1 206.5 L292.6 205.5 L293.9 204.3 L295.1 203.0 L296.4 201.9 L297.6 201.1 L298.9 200.3 L300.2 199.5 L301.6 198.8 L303.0 198.0 L304.3 197.2 L305.7 196.3 L307.1 195.3 L308.5 194.5 L310.0 193.7 L311.5 193.0 L313.0 192.5 L314.6 192.2 L316.3 191.9 L317.9 191.7 L319.6 191.5 L321.2 191.3 L322.7 191.1 L324.4 190.8 L325.9 190.5 L327.5 190.2 L329.0 189.8 L330.6 189.4 L332.1 189.0 L333.7 188.5 L335.3 188.0 L336.8 187.4 L338.4 186.9 L340.0 186.4 L341.5 185.9 L343.1 185.5 L344.6 185.0 L346.1 184.6 L347.7 184.1 L349.2 183.7 L350.7 183.2 L352.3 182.8 L353.8 182.3 L355.4 181.9 L356.9 181.4 L358.4 181.0 L360.0 180.5 L361.6 180.1 L363.1 179.7 L364.6 179.3 L366.2 178.8 L367.7 178.4 L369.3 178.0 L370.8 177.5 L372.4 177.1 L373.9 176.7 L375.5 176.2 L377.0 175.8 L378.6 175.4 L380.1 174.9 L381.7 174.5 L383.4 174.0 L385.0 173.6 L386.7 173.1 L388.4 172.6 L390.1 172.1 L391.7 171.6 L393.4 171.1 L395.1 170.7 L396.8 170.2 L398.4 169.7 L400.1 169.2 L401.8 168.7 L403.4 168.2 L405.1 167.8 L406.8 167.3 L408.5 166.8 L410.2 166.4 L412.0 165.9 L413.7 165.5 L415.4 165.1 L417.1 164.6 L418.8 164.1 L420.5 163.7 L422.3 163.2 L424.0 162.8 L425.5 162.4 L427.0 162.1 L428.4 161.7 L429.9 161.4 L431.4 161.0 L432.9 160.7 L434.4 160.4 L435.9 160.0 L437.4 159.7 L438.9 159.4 L440.3 159.0 L441.8 158.6 L443.5 158.1 L445.1 157.6 L446.7 157.0 L448.3 156.5 L449.9 155.9 L451.5 155.4 L453.1 154.8 L454.7 154.3 L456.4 153.7 L458.0 153.2 L459.5 152.7 L461.0 152.3 L462.5 151.8 L464.0 151.4 L465.5 150.9 L467.0 150.5 L468.5 150.1 L470.0 149.6 L471.6 149.2 L473.1 148.7 L474.6 148.3 L476.0 147.8 L477.5 147.3 L478.9 146.7 L480.4 146.2 L481.8 145.6 L483.2 145.1 L484.6 144.6 L486.0 144.1 L487.5 143.6 L488.9 143.1 L490.4 142.4 L491.7 141.7 L493.1 140.9 L494.5 140.0 L495.9 139.1 L497.3 138.2 L498.7 137.3 L500.0 136.4 L501.5 135.4 L503.0 134.3 L504.4 133.3 L505.8 132.3 L507.2 131.6 L508.8 131.0 L510.4 130.7 L512.0 130.4 L513.6 130.1 L515.2 129.7 L516.7 129.3 L518.3 128.9 L520.0 128.5 L521.5 128.1 L523.1 127.7 L524.8 127.3 L526.5 126.9 L528.2 126.5 L529.8 126.1 L531.4 125.7 L533.1 125.3 L534.8 124.9 L536.4 124.5 L538.0 124.2 L539.6 123.8 L541.2 123.4 L542.9 123.0 L544.5 122.6 L546.2 122.2 L547.8 121.9 L549.4 121.6 L551.1 121.3 L552.7 121.1 L554.4 120.8 L556.0 120.6 L557.7 120.3 L559.3 120.0 L561.0 119.7 L562.6 119.5 L564.3 119.2 L565.8 119.0 L567.4 118.8 L568.9 118.6 L570.5 118.5 L572.0 118.3 L573.6 118.1 L575.1 117.9 L576.7 117.7 L578.2 117.5 L579.8 117.4 L581.4 117.2 L582.9 117.0" stroke="#d93a2b" stroke-width="1.6"/><path d="M76.3 250.3 L76.9 251.7 L77.5 253.1 L78.0 254.6 L78.4 256.0 L78.6 257.4 L78.6 258.9 L78.6 260.3 L78.6 262.0 L78.6 263.5 L78.6 265.1 L78.6 266.8 L78.6 268.6 L78.6 270.4 L78.6 272.1 L78.6 273.9 L78.6 275.6 L78.6 277.3 L78.6 279.0 L78.6 280.7 L78.6 282.4 L78.6 284.1 L78.6 285.8 L78.6 287.4 L78.6 289.1 L78.6 290.8 L78.6 292.5 L78.6 294.2 L78.6 295.9 L78.6 297.6 L78.6 299.3 L78.6 301.0 L78.6 302.7 L78.6 304.4 L78.6 306.1 L78.6 307.8 L78.6 309.5 L78.6 311.2 L78.6 312.9 L78.6 314.6 L78.6 316.3 L78.6 318.0 L78.6 319.7 L78.6 321.4 L78.6 323.1 L78.6 324.8 L78.6 326.5 L78.6 328.2 L78.6 329.9 L78.6 331.6 L78.6 333.2 L78.6 334.9 L78.6 336.6 L78.6 338.3 L78.6 340.0 L78.6 341.7 L78.6 343.4 L78.6 345.1 L78.6 346.8 L78.6 348.5 L78.6 350.2 L78.6 351.9 L78.6 353.6 L78.6 355.3 L78.6 357.0" stroke="#79c424" stroke-width="1.9" stroke-dasharray="4.6 2.3"/><path d="M390.0 357.0 L390.0 355.4 L390.0 353.9 L390.0 352.3 L390.0 350.8 L390.0 349.2 L390.0 347.7 L390.0 346.1 L390.0 344.6 L390.0 343.0 L390.0 341.5 L390.0 339.9 L390.0 338.4 L390.0 336.8 L389.9 335.2 L389.9 333.7 L389.9 332.1 L389.9 330.6 L389.9 329.0 L389.9 327.5 L389.9 325.9 L389.9 324.4 L389.9 322.8 L389.9 321.3 L389.9 319.7 L389.9 318.2 L389.9 316.6 L389.9 315.1 L389.9 313.5 L389.9 311.9 L389.9 310.4 L389.9 308.8 L389.9 307.3 L389.9 305.7 L389.9 304.2 L389.9 302.6 L389.9 301.1 L389.9 299.5 L389.9 298.0 L389.9 296.4 L389.9 294.9 L389.9 293.3 L389.9 291.8 L389.8 290.2 L389.8 288.6 L389.8 287.1 L389.8 285.5 L389.8 284.0 L389.8 282.4 L389.8 280.9 L389.8 279.3 L389.8 277.7 L389.8 276.1 L389.8 274.5 L389.8 272.9 L389.8 271.4 L389.8 270.0 L389.8 268.1 L389.8 266.4 L389.9 264.7 L389.9 263.0 L389.9 261.2 L389.9 259.4 L389.9 257.7 L390.0 256.0 L390.1 254.2 L390.2 252.6 L390.6 251.0 L391.2 249.5 L392.1 248.1 L393.0 246.7 L394.0 245.4 L395.0 244.2 L396.0 243.0 L397.2 241.6 L398.7 240.2 L399.9 239.5 L401.4 238.7 L403.0 238.0 L404.5 237.3 L405.9 236.6 L407.4 235.6 L408.7 234.6 L410.0 233.5 L411.5 232.4 L413.0 231.2 L414.5 230.1 L416.0 229.1 L417.5 228.1 L419.0 227.2 L420.3 226.4 L421.7 225.7 L423.2 225.1 L424.5 224.7 L426.0 224.4 L427.6 224.1 L429.3 223.8 L430.9 223.4 L432.5 223.0 L434.0 222.5 L435.5 221.9 L436.9 221.3 L438.4 220.7 L439.8 220.1 L441.2 219.5 L442.7 218.9 L444.2 218.3 L445.6 217.7 L447.1 217.1 L448.5 216.5 L450.0 216.0 L451.4 215.5 L452.9 215.0 L454.3 214.5 L455.8 214.1 L457.2 213.6 L458.7 213.2 L460.1 212.7 L461.6 212.2 L463.0 211.7 L464.5 211.2 L465.9 210.7 L467.4 210.3 L469.0 209.9 L470.5 209.5 L472.1 209.2 L473.7 208.8 L475.3 208.5 L476.9 208.1 L478.5 207.7 L480.1 207.4 L481.7 207.1 L483.3 206.7 L484.9 206.3 L486.4 205.9 L487.9 205.3 L489.4 204.7 L490.8 204.0 L492.3 203.4 L493.7 202.7 L495.2 202.1 L496.7 201.4 L498.1 200.8 L499.6 200.2 L501.0 199.5 L502.5 198.7 L503.9 198.0 L505.4 197.2 L506.8 196.4 L508.2 195.6 L509.5 194.7 L511.0 193.9 L512.6 193.3 L514.0 192.9 L515.6 192.7 L517.3 192.5 L519.0 192.4 L520.8 192.3 L522.6 192.2 L524.3 192.0 L526.0 191.8 L527.6 191.7 L529.3 191.5 L531.0 191.3 L532.7 191.1 L534.3 190.9 L536.0 190.7 L537.7 190.4 L539.3 190.1 L541.0 189.8 L542.7 189.4 L544.3 189.1 L546.0 188.7 L547.6 188.3 L549.3 188.0 L551.0 187.7 L552.6 187.3 L554.3 187.0 L556.0 186.7 L557.6 186.3 L559.3 186.0 L561.0 185.7 L562.6 185.4 L564.3 185.0 L566.0 184.7 L567.7 184.4 L569.3 184.1 L571.0 183.8 L572.7 183.5 L574.3 183.2 L576.0 182.9 L577.7 182.5 L579.4 182.2 L581.0 181.9 L582.7 181.6" stroke="#79c424" stroke-width="1.9" stroke-dasharray="4.6 2.3"/></g>
<g font-size="18.6" fill="#000"><rect x="130.8" y="36.2" width="35.1" height="17.6" fill="#fff"/><text x="148.7" y="51.5" text-anchor="middle">100</text><rect x="491.2" y="45.0" width="35.4" height="17.8" fill="#fff"/><text x="509.2" y="60.3" text-anchor="middle">200</text><rect x="438.0" y="63.2" width="35.1" height="17.7" fill="#fff"/><text x="455.9" y="78.5" text-anchor="middle">300</text><rect x="394.0" y="108.4" width="35.0" height="17.5" fill="#fff"/><text x="411.8" y="123.7" text-anchor="middle">400</text><rect x="295.7" y="113.1" width="34.8" height="17.9" fill="#fff"/><text x="313.4" y="128.4" text-anchor="middle">500</text><rect x="219.1" y="125.5" width="34.9" height="17.3" fill="#fff"/><text x="236.9" y="140.8" text-anchor="middle">600</text><rect x="145.8" y="140.5" width="34.6" height="17.5" fill="#fff"/><text x="163.4" y="155.8" text-anchor="middle">800</text><rect x="407.1" y="154.1" width="35.1" height="17.7" fill="#fff"/><text x="424.9" y="169.4" text-anchor="middle">300</text><rect x="432.9" y="208.8" width="35.1" height="17.7" fill="#fff"/><text x="450.8" y="224.1" text-anchor="middle">200</text></g>
<path d="M71.8 28.5H583.3" stroke="#000" stroke-width="1.4"/><path d="M71.8 27.9V357.6" stroke="#111" stroke-width="1.4"/><path d="M583.3 27.9V357.6" stroke="#111" stroke-width="1.3"/><path d="M71.2 357H583.9" stroke="#3a3a3a" stroke-width="1.3"/>
<path d="M174.1 357.0V348.0M174.1 28.5V36.0M276.3 357.0V348.0M276.3 28.5V36.0M378.6 357.0V348.0M378.6 28.5V36.0M480.8 357.0V348.0M480.8 28.5V36.0M71.8 340.6H76.3M583.3 340.6H578.8M71.8 325.7H76.3M583.3 325.7H578.8M71.8 318.7H79.8M583.3 318.7H575.3M71.8 296.8H76.3M583.3 296.8H578.8M71.8 268.0H76.3M583.3 268.0H578.8M71.8 253.1H76.3M583.3 253.1H578.8M71.8 246.1H79.8M583.3 246.1H575.3M71.8 224.2H76.3M583.3 224.2H578.8M71.8 195.4H76.3M583.3 195.4H578.8M71.8 180.5H76.3M583.3 180.5H578.8M71.8 173.5H79.8M583.3 173.5H575.3M71.8 151.6H76.3M583.3 151.6H578.8M71.8 122.8H76.3M583.3 122.8H578.8M71.8 107.9H76.3M583.3 107.9H578.8M71.8 100.9H79.8M583.3 100.9H575.3M71.8 79.0H76.3M583.3 79.0H578.8M71.8 50.2H76.3M583.3 50.2H578.8M71.8 35.3H76.3M583.3 35.3H578.8" stroke="#222" stroke-width="1.2" fill="none"/>
<rect x="605.8" y="121.8" width="29.7" height="180" fill="url(#cb)" stroke="#333" stroke-width="1.2"/>
<path d="M605.8 271.8H611.8M635.5 271.8H629.5M605.8 241.8H611.8M635.5 241.8H629.5M605.8 211.8H611.8M635.5 211.8H629.5M605.8 181.8H611.8M635.5 181.8H629.5M605.8 151.8H611.8M635.5 151.8H629.5" stroke="#333" stroke-width="1.3" fill="none"/>
<g font-size="18.6" fill="#000">
<text x="143.3" y="16" font-size="18.5">Proton stopping power in Argon, ρ = 10 mg/cm<tspan font-size="15.5" dy="-6.5">3</tspan></text>
<text x="75.9" y="380.6" text-anchor="middle">0</text>
<text x="180" y="380.6" text-anchor="middle">0.2</text>
<text x="282.4" y="380.6" text-anchor="middle">0.4</text>
<text x="384.6" y="380.6" text-anchor="middle">0.6</text>
<text x="487" y="380.6" text-anchor="middle">0.8</text>
<text x="586.8" y="380.6" text-anchor="middle">1</text>
<text x="332.5" y="412.7" text-anchor="middle">Proton energy (MeV)</text>
<text x="66.6" y="33.2" text-anchor="end">1000</text>
<text x="64.2" y="105.8" text-anchor="end">100</text>
<text x="62" y="178.2" text-anchor="end">10</text>
<text x="57.3" y="251.2" text-anchor="end">1</text>
<text x="60.9" y="324.1" text-anchor="end">0.1</text>
<text transform="translate(14.2 176.7) rotate(-90)" text-anchor="middle">Temperature (eV)</text>
</g>
<g font-size="16.4" fill="#000">
<text x="649" y="127">1200</text>
<text x="649" y="157">1000</text>
<text x="649" y="187">800</text>
<text x="649" y="217">600</text>
<text x="649" y="247">400</text>
<text x="649" y="277">200</text>
<text x="649" y="307">0</text>
<text x="596.5" y="97.5" font-size="16.2">MeV cm<tspan font-size="12.5" dy="-5.6">2</tspan><tspan dy="5.6" dx="1.2">/g</tspan></text>
</g>
</svg>
</body></html>
